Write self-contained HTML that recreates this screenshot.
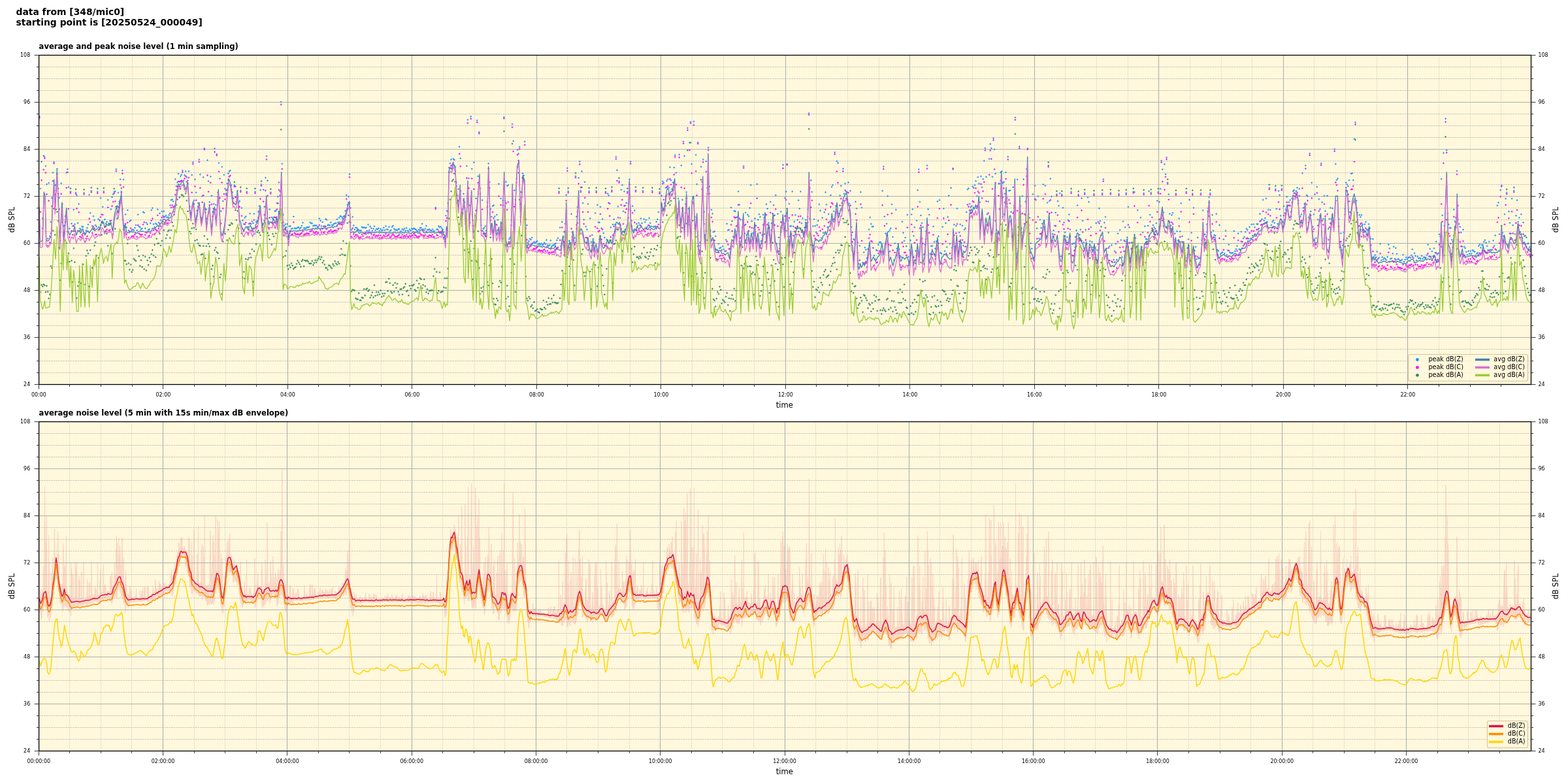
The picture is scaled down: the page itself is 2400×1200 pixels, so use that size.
<!DOCTYPE html>
<html><head><meta charset="utf-8"><title>noise level</title>
<style>
html,body{margin:0;padding:0;background:#fff;width:2400px;height:1200px;overflow:hidden}
svg{display:block}
text{font-family:'DejaVu Sans', 'Liberation Sans', sans-serif;fill:#000}
.st{font-size:13.89px;font-weight:bold}
.tt{font-size:11.57px;font-weight:bold}
.lb{font-size:11.57px}
.tk{font-size:8.8px;font-stretch:condensed}
.lg{font-size:9.64px}
</style></head><body>
<svg width="2400" height="1200" viewBox="0 0 2400 1200">
<defs><clipPath id="clip0"><rect x="59.6" y="84.5" width="2283.9" height="504.0"/></clipPath>
<clipPath id="clip1"><rect x="59.6" y="645.5" width="2283.9" height="504.0"/></clipPath></defs>
<rect width="2400" height="1200" fill="#fff"/>
<text x="24.5" y="23" class="st">data from [348/mic0]</text><text x="24.5" y="39" class="st">starting point is [20250524_000049]</text><rect x="59.6" y="84.5" width="2283.9" height="504.0" fill="#fff8dc"/><line x1="59.6" x2="2343.5" y1="570.50" y2="570.50" stroke="#b0b0b0" stroke-width="0.7" stroke-dasharray="2.57 1.11"/><line x1="59.6" x2="2343.5" y1="552.50" y2="552.50" stroke="#b0b0b0" stroke-width="0.7" stroke-dasharray="2.57 1.11"/><line x1="59.6" x2="2343.5" y1="534.50" y2="534.50" stroke="#b0b0b0" stroke-width="0.7" stroke-dasharray="2.57 1.11"/><line x1="59.6" x2="2343.5" y1="498.50" y2="498.50" stroke="#b0b0b0" stroke-width="0.7" stroke-dasharray="2.57 1.11"/><line x1="59.6" x2="2343.5" y1="480.50" y2="480.50" stroke="#b0b0b0" stroke-width="0.7" stroke-dasharray="2.57 1.11"/><line x1="59.6" x2="2343.5" y1="462.50" y2="462.50" stroke="#b0b0b0" stroke-width="0.7" stroke-dasharray="2.57 1.11"/><line x1="59.6" x2="2343.5" y1="426.50" y2="426.50" stroke="#b0b0b0" stroke-width="0.7" stroke-dasharray="2.57 1.11"/><line x1="59.6" x2="2343.5" y1="408.50" y2="408.50" stroke="#b0b0b0" stroke-width="0.7" stroke-dasharray="2.57 1.11"/><line x1="59.6" x2="2343.5" y1="390.50" y2="390.50" stroke="#b0b0b0" stroke-width="0.7" stroke-dasharray="2.57 1.11"/><line x1="59.6" x2="2343.5" y1="354.50" y2="354.50" stroke="#b0b0b0" stroke-width="0.7" stroke-dasharray="2.57 1.11"/><line x1="59.6" x2="2343.5" y1="336.50" y2="336.50" stroke="#b0b0b0" stroke-width="0.7" stroke-dasharray="2.57 1.11"/><line x1="59.6" x2="2343.5" y1="318.50" y2="318.50" stroke="#b0b0b0" stroke-width="0.7" stroke-dasharray="2.57 1.11"/><line x1="59.6" x2="2343.5" y1="282.50" y2="282.50" stroke="#b0b0b0" stroke-width="0.7" stroke-dasharray="2.57 1.11"/><line x1="59.6" x2="2343.5" y1="264.50" y2="264.50" stroke="#b0b0b0" stroke-width="0.7" stroke-dasharray="2.57 1.11"/><line x1="59.6" x2="2343.5" y1="246.50" y2="246.50" stroke="#b0b0b0" stroke-width="0.7" stroke-dasharray="2.57 1.11"/><line x1="59.6" x2="2343.5" y1="210.50" y2="210.50" stroke="#b0b0b0" stroke-width="0.7" stroke-dasharray="2.57 1.11"/><line x1="59.6" x2="2343.5" y1="192.50" y2="192.50" stroke="#b0b0b0" stroke-width="0.7" stroke-dasharray="2.57 1.11"/><line x1="59.6" x2="2343.5" y1="174.50" y2="174.50" stroke="#b0b0b0" stroke-width="0.7" stroke-dasharray="2.57 1.11"/><line x1="59.6" x2="2343.5" y1="138.50" y2="138.50" stroke="#b0b0b0" stroke-width="0.7" stroke-dasharray="2.57 1.11"/><line x1="59.6" x2="2343.5" y1="120.50" y2="120.50" stroke="#b0b0b0" stroke-width="0.7" stroke-dasharray="2.57 1.11"/><line x1="59.6" x2="2343.5" y1="102.50" y2="102.50" stroke="#b0b0b0" stroke-width="0.7" stroke-dasharray="2.57 1.11"/><line x1="106.50" x2="106.50" y1="84.5" y2="588.5" stroke="#b0b0b0" stroke-width="0.7" stroke-dasharray="0.69 1.15"/><line x1="154.50" x2="154.50" y1="84.5" y2="588.5" stroke="#b0b0b0" stroke-width="0.7" stroke-dasharray="0.69 1.15"/><line x1="202.50" x2="202.50" y1="84.5" y2="588.5" stroke="#b0b0b0" stroke-width="0.7" stroke-dasharray="0.69 1.15"/><line x1="297.50" x2="297.50" y1="84.5" y2="588.5" stroke="#b0b0b0" stroke-width="0.7" stroke-dasharray="0.69 1.15"/><line x1="345.50" x2="345.50" y1="84.5" y2="588.5" stroke="#b0b0b0" stroke-width="0.7" stroke-dasharray="0.69 1.15"/><line x1="392.50" x2="392.50" y1="84.5" y2="588.5" stroke="#b0b0b0" stroke-width="0.7" stroke-dasharray="0.69 1.15"/><line x1="487.50" x2="487.50" y1="84.5" y2="588.5" stroke="#b0b0b0" stroke-width="0.7" stroke-dasharray="0.69 1.15"/><line x1="535.50" x2="535.50" y1="84.5" y2="588.5" stroke="#b0b0b0" stroke-width="0.7" stroke-dasharray="0.69 1.15"/><line x1="583.50" x2="583.50" y1="84.5" y2="588.5" stroke="#b0b0b0" stroke-width="0.7" stroke-dasharray="0.69 1.15"/><line x1="678.50" x2="678.50" y1="84.5" y2="588.5" stroke="#b0b0b0" stroke-width="0.7" stroke-dasharray="0.69 1.15"/><line x1="726.50" x2="726.50" y1="84.5" y2="588.5" stroke="#b0b0b0" stroke-width="0.7" stroke-dasharray="0.69 1.15"/><line x1="773.50" x2="773.50" y1="84.5" y2="588.5" stroke="#b0b0b0" stroke-width="0.7" stroke-dasharray="0.69 1.15"/><line x1="868.50" x2="868.50" y1="84.5" y2="588.5" stroke="#b0b0b0" stroke-width="0.7" stroke-dasharray="0.69 1.15"/><line x1="916.50" x2="916.50" y1="84.5" y2="588.5" stroke="#b0b0b0" stroke-width="0.7" stroke-dasharray="0.69 1.15"/><line x1="964.50" x2="964.50" y1="84.5" y2="588.5" stroke="#b0b0b0" stroke-width="0.7" stroke-dasharray="0.69 1.15"/><line x1="1059.50" x2="1059.50" y1="84.5" y2="588.5" stroke="#b0b0b0" stroke-width="0.7" stroke-dasharray="0.69 1.15"/><line x1="1107.50" x2="1107.50" y1="84.5" y2="588.5" stroke="#b0b0b0" stroke-width="0.7" stroke-dasharray="0.69 1.15"/><line x1="1154.50" x2="1154.50" y1="84.5" y2="588.5" stroke="#b0b0b0" stroke-width="0.7" stroke-dasharray="0.69 1.15"/><line x1="1249.50" x2="1249.50" y1="84.5" y2="588.5" stroke="#b0b0b0" stroke-width="0.7" stroke-dasharray="0.69 1.15"/><line x1="1297.50" x2="1297.50" y1="84.5" y2="588.5" stroke="#b0b0b0" stroke-width="0.7" stroke-dasharray="0.69 1.15"/><line x1="1345.50" x2="1345.50" y1="84.5" y2="588.5" stroke="#b0b0b0" stroke-width="0.7" stroke-dasharray="0.69 1.15"/><line x1="1440.50" x2="1440.50" y1="84.5" y2="588.5" stroke="#b0b0b0" stroke-width="0.7" stroke-dasharray="0.69 1.15"/><line x1="1488.50" x2="1488.50" y1="84.5" y2="588.5" stroke="#b0b0b0" stroke-width="0.7" stroke-dasharray="0.69 1.15"/><line x1="1535.50" x2="1535.50" y1="84.5" y2="588.5" stroke="#b0b0b0" stroke-width="0.7" stroke-dasharray="0.69 1.15"/><line x1="1630.50" x2="1630.50" y1="84.5" y2="588.5" stroke="#b0b0b0" stroke-width="0.7" stroke-dasharray="0.69 1.15"/><line x1="1678.50" x2="1678.50" y1="84.5" y2="588.5" stroke="#b0b0b0" stroke-width="0.7" stroke-dasharray="0.69 1.15"/><line x1="1726.50" x2="1726.50" y1="84.5" y2="588.5" stroke="#b0b0b0" stroke-width="0.7" stroke-dasharray="0.69 1.15"/><line x1="1821.50" x2="1821.50" y1="84.5" y2="588.5" stroke="#b0b0b0" stroke-width="0.7" stroke-dasharray="0.69 1.15"/><line x1="1869.50" x2="1869.50" y1="84.5" y2="588.5" stroke="#b0b0b0" stroke-width="0.7" stroke-dasharray="0.69 1.15"/><line x1="1916.50" x2="1916.50" y1="84.5" y2="588.5" stroke="#b0b0b0" stroke-width="0.7" stroke-dasharray="0.69 1.15"/><line x1="2011.50" x2="2011.50" y1="84.5" y2="588.5" stroke="#b0b0b0" stroke-width="0.7" stroke-dasharray="0.69 1.15"/><line x1="2059.50" x2="2059.50" y1="84.5" y2="588.5" stroke="#b0b0b0" stroke-width="0.7" stroke-dasharray="0.69 1.15"/><line x1="2107.50" x2="2107.50" y1="84.5" y2="588.5" stroke="#b0b0b0" stroke-width="0.7" stroke-dasharray="0.69 1.15"/><line x1="2202.50" x2="2202.50" y1="84.5" y2="588.5" stroke="#b0b0b0" stroke-width="0.7" stroke-dasharray="0.69 1.15"/><line x1="2250.50" x2="2250.50" y1="84.5" y2="588.5" stroke="#b0b0b0" stroke-width="0.7" stroke-dasharray="0.69 1.15"/><line x1="2297.50" x2="2297.50" y1="84.5" y2="588.5" stroke="#b0b0b0" stroke-width="0.7" stroke-dasharray="0.69 1.15"/><line x1="59.6" x2="2343.5" y1="516.50" y2="516.50" stroke="#b0b0b0" stroke-width="1.1"/><line x1="59.6" x2="2343.5" y1="444.50" y2="444.50" stroke="#b0b0b0" stroke-width="1.1"/><line x1="59.6" x2="2343.5" y1="372.50" y2="372.50" stroke="#b0b0b0" stroke-width="1.1"/><line x1="59.6" x2="2343.5" y1="300.50" y2="300.50" stroke="#b0b0b0" stroke-width="1.1"/><line x1="59.6" x2="2343.5" y1="228.50" y2="228.50" stroke="#b0b0b0" stroke-width="1.1"/><line x1="59.6" x2="2343.5" y1="156.50" y2="156.50" stroke="#b0b0b0" stroke-width="1.1"/><line x1="249.50" x2="249.50" y1="84.5" y2="588.5" stroke="#b0b0b0" stroke-width="1.1"/><line x1="440.50" x2="440.50" y1="84.5" y2="588.5" stroke="#b0b0b0" stroke-width="1.1"/><line x1="630.50" x2="630.50" y1="84.5" y2="588.5" stroke="#b0b0b0" stroke-width="1.1"/><line x1="821.50" x2="821.50" y1="84.5" y2="588.5" stroke="#b0b0b0" stroke-width="1.1"/><line x1="1011.50" x2="1011.50" y1="84.5" y2="588.5" stroke="#b0b0b0" stroke-width="1.1"/><line x1="1202.50" x2="1202.50" y1="84.5" y2="588.5" stroke="#b0b0b0" stroke-width="1.1"/><line x1="1392.50" x2="1392.50" y1="84.5" y2="588.5" stroke="#b0b0b0" stroke-width="1.1"/><line x1="1583.50" x2="1583.50" y1="84.5" y2="588.5" stroke="#b0b0b0" stroke-width="1.1"/><line x1="1773.50" x2="1773.50" y1="84.5" y2="588.5" stroke="#b0b0b0" stroke-width="1.1"/><line x1="1964.50" x2="1964.50" y1="84.5" y2="588.5" stroke="#b0b0b0" stroke-width="1.1"/><line x1="2154.50" x2="2154.50" y1="84.5" y2="588.5" stroke="#b0b0b0" stroke-width="1.1"/><g clip-path="url(#clip0)"><marker id="mz" viewBox="-2 -2 4 4" markerWidth="4" markerHeight="4" markerUnits="userSpaceOnUse" overflow="visible"><path d="M-1.4,0H1.4M0,-1.4V1.4" stroke="#1e90ff" stroke-width="1"/></marker><polyline points="60.4,178.3 62.0,288.7 63.6,247.4 65.2,334.3 66.7,238.4 68.3,240.0 69.9,254.2 71.5,282.0 73.1,365.2 74.7,280.1 76.3,361.6 77.9,339.7 79.4,303.0 81.0,264.2 82.6,248.3 84.2,283.3 85.8,283.3 87.4,258.5 89.0,288.5 90.6,302.8 92.1,356.4 93.7,280.6 95.3,312.3 96.9,345.9 98.5,345.3 100.1,330.9 101.7,264.3 103.3,259.0 104.8,286.4 106.4,349.8 108.0,293.4 109.6,342.2 111.2,346.0 112.8,320.8 114.4,343.2 116.0,294.8 117.5,298.9 119.1,341.5 120.7,312.2 122.3,349.6 123.9,351.3 125.5,346.8 127.1,347.2 128.6,295.3 130.2,357.0 131.8,352.8 133.4,348.9 135.0,343.7 136.6,298.1 138.2,326.0 139.8,292.2 141.3,345.9 142.9,331.0 144.5,337.1 146.1,344.7 147.7,346.8 149.3,293.7 150.9,335.3 152.5,337.6 154.0,303.1 155.6,328.3 157.2,316.7 158.8,292.9 160.4,335.9 162.0,342.1 163.6,339.6 165.2,306.0 166.7,342.0 168.3,338.2 169.9,320.4 171.5,301.8 173.1,297.4 174.7,293.8 176.3,292.9 177.8,259.0 179.4,315.4 181.0,295.0 182.6,308.6 184.2,274.5 185.8,293.0 187.4,261.0 189.0,274.9 190.5,345.5 192.1,328.2 193.7,348.0 195.3,321.6 196.9,352.7 198.5,338.8 200.1,337.3 201.7,352.2 203.2,351.4 204.8,352.4 206.4,348.8 208.0,344.6 209.6,352.7 211.2,328.4 212.8,346.7 214.4,347.8 215.9,350.9 217.5,349.7 219.1,324.3 220.7,325.7 222.3,349.6 223.9,340.9 225.5,343.3 227.1,351.7 228.6,351.0 230.2,341.7 231.8,321.7 233.4,318.5 235.0,343.0 236.6,347.8 238.2,341.9 239.7,343.3 241.3,320.6 242.9,340.5 244.5,326.6 246.1,337.1 247.7,323.9 249.3,330.4 250.9,323.3 252.4,331.7 254.0,329.9 255.6,332.9 257.2,332.3 258.8,329.1 260.4,314.1 262.0,306.1 263.6,305.5 265.1,308.2 266.7,315.5 268.3,274.2 269.9,285.1 271.5,279.1 273.1,265.9 274.7,278.1 276.3,269.8 277.8,267.5 279.4,261.0 281.0,276.2 282.6,268.1 284.2,262.2 285.8,271.3 287.4,276.3 288.9,262.2 290.5,316.3 292.1,325.6 293.7,267.8 295.3,248.3 296.9,306.8 298.5,274.7 300.1,294.7 301.6,322.5 303.2,310.9 304.8,244.3 306.4,267.0 308.0,333.6 309.6,300.1 311.2,271.3 312.8,227.3 314.3,319.8 315.9,320.6 317.5,245.2 319.1,277.3 320.7,309.2 322.3,270.2 323.9,299.6 325.5,324.2 327.0,312.0 328.6,227.3 330.2,313.7 331.8,236.0 333.4,294.7 335.0,249.5 336.6,273.5 338.2,323.2 339.7,255.3 341.3,307.8 342.9,267.7 344.5,288.9 346.1,296.2 347.7,280.8 349.3,265.6 350.8,262.4 352.4,260.9 354.0,283.6 355.6,294.2 357.2,303.6 358.8,283.7 360.4,285.2 362.0,301.5 363.5,292.1 365.1,310.2 366.7,307.9 368.3,291.7 369.9,318.4 371.5,337.3 373.1,342.9 374.7,333.3 376.2,331.3 377.8,293.5 379.4,347.4 381.0,342.6 382.6,327.0 384.2,342.7 385.8,338.9 387.4,341.6 388.9,327.2 390.5,293.6 392.1,339.8 393.7,338.1 395.3,324.2 396.9,315.6 398.5,291.0 400.0,282.3 401.6,342.6 403.2,290.4 404.8,316.2 406.4,272.0 408.0,239.0 409.6,276.5 411.2,339.3 412.7,320.5 414.3,294.4 415.9,332.7 417.5,334.7 419.1,332.5 420.7,323.3 422.3,322.4 423.9,310.8 425.4,301.1 427.0,279.3 428.6,293.0 430.2,156.0 431.8,250.8 433.4,328.7 435.0,345.6 436.6,343.2 438.1,347.8 439.7,342.9 441.3,360.8 442.9,346.4 444.5,346.2 446.1,350.3 447.7,349.7 449.3,331.5 450.8,349.3 452.4,349.8 454.0,349.4 455.6,348.2 457.2,348.0 458.8,350.0 460.4,348.5 461.9,345.6 463.5,340.8 465.1,349.1 466.7,349.3 468.3,349.5 469.9,347.5 471.5,348.5 473.1,347.0 474.6,340.3 476.2,341.8 477.8,341.9 479.4,345.8 481.0,345.1 482.6,345.2 484.2,345.0 485.8,347.6 487.3,346.9 488.9,334.5 490.5,337.8 492.1,346.3 493.7,339.9 495.3,346.4 496.9,346.0 498.5,335.3 500.0,336.4 501.6,344.8 503.2,344.1 504.8,345.0 506.4,340.4 508.0,344.8 509.6,344.5 511.1,342.6 512.7,341.9 514.3,341.5 515.9,335.5 517.5,340.3 519.1,333.3 520.7,330.8 522.3,331.3 523.8,333.9 525.4,331.9 527.0,330.6 528.6,322.6 530.2,298.6 531.8,313.2 533.4,301.0 535.0,266.7 536.5,318.4 538.1,351.7 539.7,331.9 541.3,345.1 542.9,351.3 544.5,348.3 546.1,348.8 547.7,350.9 549.2,352.2 550.8,353.2 552.4,352.7 554.0,347.5 555.6,348.5 557.2,348.0 558.8,348.8 560.4,348.4 561.9,353.3 563.5,343.9 565.1,352.5 566.7,346.6 568.3,349.3 569.9,353.2 571.5,350.0 573.0,346.3 574.6,352.7 576.2,350.2 577.8,351.3 579.4,349.4 581.0,353.6 582.6,350.6 584.2,353.2 585.7,352.0 587.3,348.5 588.9,352.2 590.5,346.1 592.1,351.2 593.7,351.3 595.3,347.2 596.9,353.8 598.4,352.3 600.0,347.4 601.6,345.6 603.2,350.1 604.8,351.9 606.4,351.8 608.0,352.7 609.6,350.7 611.1,350.5 612.7,354.3 614.3,354.1 615.9,350.7 617.5,352.2 619.1,349.8 620.7,353.2 622.2,349.0 623.8,353.1 625.4,354.0 627.0,351.0 628.6,353.1 630.2,350.1 631.8,350.8 633.4,349.4 634.9,350.4 636.5,351.4 638.1,353.2 639.7,354.2 641.3,351.5 642.9,348.9 644.5,348.7 646.1,342.6 647.6,350.9 649.2,352.7 650.8,350.1 652.4,345.7 654.0,351.9 655.6,351.9 657.2,351.0 658.8,352.5 660.3,353.3 661.9,351.0 663.5,353.8 665.1,354.2 666.7,317.7 668.3,351.1 669.9,351.4 671.5,346.1 673.0,347.8 674.6,346.9 676.2,349.4 677.8,351.5 679.4,355.2 681.0,361.0 682.6,330.2 684.1,322.8 685.7,311.1 687.3,256.8 688.9,250.0 690.5,244.0 692.1,252.3 693.7,243.2 695.3,244.5 696.8,255.7 698.4,279.1 700.0,298.9 701.6,289.3 703.2,224.6 704.8,242.4 706.4,327.2 708.0,320.1 709.5,296.7 711.1,309.8 712.7,335.1 714.3,254.0 715.9,183.3 717.5,272.9 719.1,314.5 720.7,178.3 722.2,258.5 723.8,337.2 725.4,248.6 727.0,330.1 728.6,303.8 730.2,184.3 731.8,269.9 733.3,202.3 734.9,288.3 736.5,344.7 738.1,306.3 739.7,350.1 741.3,348.7 742.9,346.0 744.5,352.5 746.0,309.5 747.6,250.2 749.2,278.8 750.8,319.9 752.4,331.8 754.0,315.3 755.6,314.3 757.2,331.2 758.7,343.3 760.3,328.7 761.9,336.6 763.5,281.5 765.1,357.5 766.7,303.8 768.3,341.5 769.9,306.9 771.4,179.3 773.0,307.4 774.6,278.3 776.2,284.5 777.8,283.3 779.4,365.8 781.0,363.3 782.6,336.9 784.1,190.0 785.7,215.9 787.3,291.4 788.9,306.0 790.5,273.8 792.1,229.4 793.7,235.2 795.2,225.0 796.8,293.8 798.4,294.5 800.0,265.4 801.6,268.5 803.2,216.7 804.8,335.7 806.4,344.8 807.9,371.2 809.5,369.1 811.1,365.6 812.7,366.8 814.3,363.6 815.9,371.9 817.5,370.2 819.1,372.2 820.6,370.4 822.2,369.1 823.8,374.0 825.4,372.8 827.0,374.6 828.6,372.6 830.2,374.9 831.8,373.9 833.3,371.6 834.9,373.8 836.5,367.3 838.1,375.2 839.7,376.5 841.3,374.9 842.9,368.1 844.4,377.2 846.0,375.7 847.6,375.0 849.2,373.6 850.8,372.5 852.4,367.7 854.0,364.5 855.6,293.3 857.1,348.3 858.7,376.5 860.3,339.6 861.9,361.7 863.5,354.9 865.1,342.5 866.7,298.6 868.3,257.3 869.8,293.0 871.4,368.6 873.0,371.8 874.6,327.6 876.2,355.6 877.8,359.9 879.4,364.0 881.0,269.8 882.5,331.5 884.1,316.8 885.7,272.3 887.3,247.3 888.9,291.9 890.5,262.2 892.1,310.8 893.7,336.1 895.2,278.6 896.8,346.9 898.4,351.3 900.0,312.1 901.6,292.9 903.2,334.2 904.8,370.3 906.3,359.7 907.9,365.8 909.5,371.2 911.1,326.2 912.7,292.5 914.3,313.7 915.9,340.3 917.5,340.5 919.0,316.6 920.6,349.4 922.2,335.3 923.8,356.9 925.4,363.6 927.0,293.5 928.6,366.9 930.2,296.4 931.7,299.0 933.3,311.7 934.9,347.9 936.5,291.4 938.1,343.6 939.7,335.6 941.3,343.6 942.9,240.0 944.4,260.5 946.0,316.1 947.6,277.6 949.2,333.6 950.8,290.5 952.4,283.2 954.0,323.3 955.5,292.9 957.1,314.7 958.7,310.5 960.3,293.4 961.9,311.3 963.5,274.5 965.1,247.3 966.7,337.8 968.2,315.4 969.8,352.6 971.4,322.2 973.0,291.3 974.6,342.7 976.2,345.6 977.8,341.2 979.4,344.2 980.9,334.4 982.5,341.7 984.1,292.3 985.7,335.3 987.3,340.0 988.9,336.6 990.5,347.4 992.1,344.7 993.6,333.9 995.2,341.4 996.8,346.4 998.4,292.4 1000.0,347.3 1001.6,347.0 1003.2,346.5 1004.8,339.5 1006.3,335.8 1007.9,324.7 1009.5,294.2 1011.1,336.6 1012.7,299.7 1014.3,277.7 1015.9,279.8 1017.4,311.0 1019.0,287.5 1020.6,276.8 1022.2,274.4 1023.8,287.4 1025.4,255.9 1027.0,276.0 1028.6,289.5 1030.1,279.5 1031.7,256.5 1033.3,237.7 1034.9,264.5 1036.5,329.1 1038.1,304.0 1039.7,236.7 1041.3,334.9 1042.8,253.3 1044.4,305.9 1046.0,216.7 1047.6,238.8 1049.2,312.6 1050.8,294.1 1052.4,196.0 1054.0,319.3 1055.5,218.5 1057.1,186.7 1058.7,251.0 1060.3,301.7 1061.9,186.0 1063.5,332.1 1065.1,237.0 1066.6,282.0 1068.2,218.3 1069.8,376.0 1071.4,371.1 1073.0,255.2 1074.6,278.4 1076.2,244.0 1077.8,324.1 1079.3,360.1 1080.9,247.0 1082.5,287.5 1084.1,226.0 1085.7,285.4 1087.3,352.8 1088.9,321.1 1090.5,327.0 1092.0,355.0 1093.6,354.1 1095.2,361.6 1096.8,382.6 1098.4,383.2 1100.0,373.1 1101.6,380.0 1103.2,378.9 1104.7,382.8 1106.3,377.0 1107.9,381.7 1109.5,384.5 1111.1,367.1 1112.7,342.5 1114.3,352.2 1115.9,351.7 1117.4,380.7 1119.0,317.7 1120.6,338.6 1122.2,362.4 1123.8,322.8 1125.4,323.5 1127.0,332.7 1128.5,332.3 1130.1,293.0 1131.7,313.3 1133.3,336.2 1134.9,362.2 1136.5,336.6 1138.1,254.3 1139.7,345.1 1141.2,325.5 1142.8,359.6 1144.4,328.8 1146.0,331.1 1147.6,318.3 1149.2,283.3 1150.8,338.6 1152.4,357.0 1153.9,349.2 1155.5,334.4 1157.1,345.6 1158.7,281.8 1160.3,336.3 1161.9,327.9 1163.5,332.0 1165.1,369.0 1166.6,359.7 1168.2,328.7 1169.8,333.5 1171.4,327.6 1173.0,312.7 1174.6,319.5 1176.2,341.3 1177.7,348.7 1179.3,309.0 1180.9,341.6 1182.5,327.0 1184.1,314.1 1185.7,329.5 1187.3,298.8 1188.9,373.2 1190.4,327.4 1192.0,363.5 1193.6,373.6 1195.2,324.0 1196.8,340.3 1198.4,252.3 1200.0,341.9 1201.6,303.1 1203.1,293.2 1204.7,251.0 1206.3,338.0 1207.9,311.9 1209.5,346.2 1211.1,346.0 1212.7,293.1 1214.3,346.6 1215.8,339.2 1217.4,329.1 1219.0,349.4 1220.6,336.5 1222.2,306.6 1223.8,319.4 1225.4,293.2 1227.0,341.7 1228.5,334.2 1230.1,355.8 1231.7,348.2 1233.3,336.6 1234.9,342.0 1236.5,320.4 1238.1,173.3 1239.6,287.8 1241.2,276.0 1242.8,293.8 1244.4,346.1 1246.0,335.6 1247.6,345.9 1249.2,355.6 1250.8,344.5 1252.3,337.9 1253.9,312.8 1255.5,322.3 1257.1,364.3 1258.7,333.4 1260.3,356.4 1261.9,324.9 1263.5,294.2 1265.0,313.2 1266.6,347.7 1268.2,327.8 1269.8,339.1 1271.4,298.6 1273.0,286.1 1274.6,283.3 1276.2,323.4 1277.7,233.3 1279.3,315.2 1280.9,246.7 1282.5,249.4 1284.1,326.9 1285.7,299.2 1287.3,284.5 1288.8,310.6 1290.4,258.3 1292.0,296.6 1293.6,281.0 1295.2,293.3 1296.8,294.1 1298.4,279.2 1300.0,311.7 1301.5,292.1 1303.1,347.5 1304.7,355.7 1306.3,366.0 1307.9,367.1 1309.5,308.8 1311.1,319.1 1312.7,371.1 1314.2,403.9 1315.8,376.2 1317.4,294.0 1319.0,317.8 1320.6,402.1 1322.2,386.3 1323.8,378.9 1325.4,382.2 1326.9,395.0 1328.5,381.2 1330.1,351.1 1331.7,332.8 1333.3,342.8 1334.9,347.0 1336.5,346.7 1338.1,391.3 1339.6,396.8 1341.2,382.7 1342.8,383.4 1344.4,374.7 1346.0,370.8 1347.6,370.6 1349.2,372.6 1350.7,292.1 1352.3,255.0 1353.9,331.4 1355.5,357.3 1357.1,342.4 1358.7,300.2 1360.3,354.5 1361.9,352.1 1363.4,349.4 1365.0,312.8 1366.6,362.7 1368.2,398.3 1369.8,372.5 1371.4,321.0 1373.0,380.4 1374.6,373.4 1376.1,381.4 1377.7,391.8 1379.3,393.5 1380.9,339.4 1382.5,356.3 1384.1,368.8 1385.7,363.7 1387.3,376.9 1388.8,328.8 1390.4,393.1 1392.0,383.0 1393.6,367.9 1395.2,328.2 1396.8,320.3 1398.4,361.1 1399.9,347.8 1401.5,384.1 1403.1,337.7 1404.7,291.0 1406.3,259.3 1407.9,309.0 1409.5,329.7 1411.1,341.6 1412.6,347.8 1414.2,389.7 1415.8,374.3 1417.4,354.0 1419.0,253.3 1420.6,320.3 1422.2,328.7 1423.8,388.2 1425.3,376.7 1426.9,376.5 1428.5,346.7 1430.1,370.1 1431.7,380.3 1433.3,369.4 1434.9,308.3 1436.5,361.7 1438.0,306.2 1439.6,387.0 1441.2,388.2 1442.8,347.3 1444.4,319.2 1446.0,384.4 1447.6,341.5 1449.2,378.1 1450.7,332.1 1452.3,299.4 1453.9,373.1 1455.5,287.5 1457.1,379.4 1458.7,257.7 1460.3,343.8 1461.8,377.5 1463.4,345.7 1465.0,319.2 1466.6,389.0 1468.2,355.9 1469.8,343.4 1471.4,371.7 1473.0,345.5 1474.5,376.2 1476.1,351.4 1477.7,349.4 1479.3,324.7 1480.9,290.0 1482.5,288.3 1484.1,311.9 1485.7,317.1 1487.2,315.3 1488.8,285.6 1490.4,287.6 1492.0,283.3 1493.6,277.1 1495.2,300.0 1496.8,271.1 1498.4,281.0 1499.9,309.6 1501.5,269.9 1503.1,286.8 1504.7,274.2 1506.3,246.2 1507.9,226.7 1509.5,270.8 1511.0,328.0 1512.6,308.7 1514.2,243.2 1515.8,220.4 1517.4,227.0 1519.0,270.6 1520.6,211.7 1522.2,228.6 1523.7,265.7 1525.3,352.4 1526.9,357.3 1528.5,281.1 1530.1,281.0 1531.7,263.8 1533.3,262.3 1534.9,280.3 1536.4,278.6 1538.0,296.5 1539.6,263.8 1541.2,302.9 1542.8,240.0 1544.4,291.9 1546.0,291.5 1547.6,324.4 1549.1,351.1 1550.7,286.5 1552.3,314.9 1553.9,180.0 1555.5,380.4 1557.1,274.8 1558.7,347.6 1560.3,224.3 1561.8,315.4 1563.4,349.4 1565.0,300.1 1566.6,274.4 1568.2,327.7 1569.8,308.7 1571.4,258.7 1572.9,227.3 1574.5,327.7 1576.1,333.3 1577.7,372.4 1579.3,380.6 1580.9,297.3 1582.5,394.6 1584.1,284.2 1585.6,306.0 1587.2,349.6 1588.8,300.3 1590.4,365.0 1592.0,336.3 1593.6,348.9 1595.2,342.4 1596.8,282.3 1598.3,338.1 1599.9,284.3 1601.5,361.3 1603.1,310.2 1604.7,253.3 1606.3,307.7 1607.9,273.6 1609.5,300.8 1611.0,358.0 1612.6,352.6 1614.2,345.3 1615.8,325.5 1617.4,297.5 1619.0,307.9 1620.6,315.0 1622.1,295.8 1623.7,392.3 1625.3,297.6 1626.9,318.0 1628.5,340.5 1630.1,355.7 1631.7,368.2 1633.3,363.0 1634.8,337.0 1636.4,328.3 1638.0,351.2 1639.6,293.8 1641.2,373.7 1642.8,372.4 1644.4,372.5 1646.0,362.8 1647.5,352.7 1649.1,314.3 1650.7,297.9 1652.3,359.3 1653.9,351.5 1655.5,303.4 1657.1,338.0 1658.7,370.9 1660.2,295.3 1661.8,351.8 1663.4,373.0 1665.0,302.2 1666.6,309.1 1668.2,369.1 1669.8,347.9 1671.4,370.1 1672.9,378.5 1674.5,296.9 1676.1,378.5 1677.7,341.3 1679.3,382.9 1680.9,339.5 1682.5,318.9 1684.0,338.2 1685.6,347.1 1687.2,296.0 1688.8,274.3 1690.4,340.8 1692.0,332.0 1693.6,380.6 1695.2,390.2 1696.7,356.0 1698.3,377.1 1699.9,295.3 1701.5,375.1 1703.1,401.5 1704.7,397.8 1706.3,384.4 1707.9,373.2 1709.4,397.6 1711.0,357.5 1712.6,296.8 1714.2,352.0 1715.8,367.4 1717.4,393.8 1719.0,338.9 1720.6,368.0 1722.1,347.8 1723.7,295.6 1725.3,363.4 1726.9,316.6 1728.5,348.0 1730.1,394.5 1731.7,371.3 1733.2,371.3 1734.8,293.5 1736.4,294.0 1738.0,364.3 1739.6,377.8 1741.2,321.7 1742.8,382.6 1744.4,394.4 1745.9,333.0 1747.5,378.3 1749.1,355.9 1750.7,295.8 1752.3,346.3 1753.9,365.6 1755.5,366.3 1757.1,345.6 1758.6,292.7 1760.2,328.7 1761.8,295.0 1763.4,332.7 1765.0,344.6 1766.6,347.9 1768.2,350.2 1769.8,341.7 1771.3,307.4 1772.9,293.8 1774.5,309.1 1776.1,289.0 1777.7,246.0 1779.3,259.3 1780.9,325.1 1782.5,251.2 1784.0,266.7 1785.6,241.0 1787.2,279.5 1788.8,297.4 1790.4,327.3 1792.0,345.4 1793.6,329.1 1795.1,325.8 1796.7,366.7 1798.3,357.6 1799.9,296.4 1801.5,354.0 1803.1,368.0 1804.7,334.3 1806.3,354.2 1807.8,311.1 1809.4,361.7 1811.0,370.9 1812.6,377.0 1814.2,394.5 1815.8,293.7 1817.4,379.6 1819.0,366.2 1820.5,305.8 1822.1,390.2 1823.7,356.3 1825.3,296.4 1826.9,318.1 1828.5,383.7 1830.1,377.9 1831.7,396.7 1833.2,363.7 1834.8,395.6 1836.4,394.8 1838.0,296.0 1839.6,367.5 1841.2,322.0 1842.8,359.3 1844.3,358.8 1845.9,362.2 1847.5,343.3 1849.1,318.8 1850.7,302.0 1852.3,296.0 1853.9,355.7 1855.5,329.1 1857.0,353.0 1858.6,359.8 1860.2,360.9 1861.8,327.3 1863.4,382.5 1865.0,384.1 1866.6,344.6 1868.2,388.8 1869.7,387.3 1871.3,386.1 1872.9,366.4 1874.5,388.0 1876.1,353.1 1877.7,390.3 1879.3,383.2 1880.9,374.5 1882.4,386.3 1884.0,387.3 1885.6,387.3 1887.2,387.1 1888.8,353.6 1890.4,384.6 1892.0,381.3 1893.6,376.3 1895.1,357.4 1896.7,381.3 1898.3,382.4 1899.9,354.7 1901.5,370.1 1903.1,365.0 1904.7,362.7 1906.2,355.0 1907.8,350.1 1909.4,352.1 1911.0,365.5 1912.6,347.4 1914.2,365.0 1915.8,343.4 1917.4,360.6 1918.9,343.2 1920.5,347.9 1922.1,358.9 1923.7,342.9 1925.3,343.0 1926.9,349.7 1928.5,327.3 1930.1,337.8 1931.6,335.6 1933.2,305.9 1934.8,337.5 1936.4,333.8 1938.0,303.8 1939.6,339.6 1941.2,321.0 1942.8,287.7 1944.3,321.3 1945.9,344.6 1947.5,339.4 1949.1,337.4 1950.7,341.2 1952.3,289.7 1953.9,319.7 1955.4,342.7 1957.0,292.3 1958.6,298.6 1960.2,330.2 1961.8,289.1 1963.4,339.5 1965.0,315.6 1966.6,326.2 1968.1,321.1 1969.7,301.2 1971.3,314.9 1972.9,309.4 1974.5,306.3 1976.1,324.3 1977.7,303.8 1979.3,292.6 1980.8,291.0 1982.4,295.7 1984.0,292.5 1985.6,287.3 1987.2,306.6 1988.8,289.0 1990.4,331.2 1992.0,328.2 1993.5,265.0 1995.1,318.2 1996.7,312.3 1998.3,253.3 1999.9,298.8 2001.5,300.3 2003.1,332.7 2004.7,235.0 2006.2,323.6 2007.8,279.8 2009.4,347.2 2011.0,328.1 2012.6,297.6 2014.2,364.3 2015.8,286.0 2017.3,336.0 2018.9,304.9 2020.5,320.1 2022.1,250.0 2023.7,309.5 2025.3,334.9 2026.9,299.9 2028.5,323.3 2030.0,364.6 2031.6,299.7 2033.2,350.2 2034.8,335.0 2036.4,318.2 2038.0,334.9 2039.6,318.8 2041.2,338.4 2042.7,228.3 2044.3,251.1 2045.9,275.5 2047.5,273.2 2049.1,335.2 2050.7,369.9 2052.3,357.0 2053.9,382.8 2055.4,375.5 2057.0,356.0 2058.6,319.3 2060.2,279.5 2061.8,282.3 2063.4,285.0 2065.0,275.8 2066.5,324.7 2068.1,265.8 2069.7,265.2 2071.3,275.8 2072.9,212.6 2074.5,187.3 2076.1,307.3 2077.7,325.6 2079.2,346.1 2080.8,329.0 2082.4,332.1 2084.0,329.1 2085.6,343.6 2087.2,351.6 2088.8,343.3 2090.4,339.7 2091.9,351.4 2093.5,352.3 2095.1,343.1 2096.7,349.5 2098.3,365.4 2099.9,394.4 2101.5,365.8 2103.1,393.3 2104.6,390.5 2106.2,393.6 2107.8,385.1 2109.4,396.0 2111.0,394.3 2112.6,373.2 2114.2,398.4 2115.8,393.4 2117.3,396.9 2118.9,394.8 2120.5,396.3 2122.1,398.2 2123.7,393.0 2125.3,374.5 2126.9,380.2 2128.4,396.1 2130.0,395.7 2131.6,388.1 2133.2,377.6 2134.8,396.1 2136.4,379.6 2138.0,388.4 2139.6,396.5 2141.1,396.9 2142.7,399.0 2144.3,399.1 2145.9,397.4 2147.5,390.1 2149.1,400.6 2150.7,397.3 2152.3,393.8 2153.8,396.6 2155.4,394.5 2157.0,393.5 2158.6,394.4 2160.2,390.8 2161.8,381.6 2163.4,395.1 2165.0,387.4 2166.5,391.8 2168.1,398.5 2169.7,392.8 2171.3,395.3 2172.9,394.9 2174.5,396.2 2176.1,391.7 2177.6,396.3 2179.2,393.8 2180.8,393.9 2182.4,394.4 2184.0,390.4 2185.6,374.4 2187.2,392.5 2188.8,380.9 2190.3,393.5 2191.9,384.8 2193.5,392.3 2195.1,380.1 2196.7,386.7 2198.3,369.9 2199.9,389.1 2201.5,387.5 2203.0,358.7 2204.6,361.9 2206.2,274.0 2207.8,329.5 2209.4,234.1 2211.0,345.6 2212.6,181.7 2214.2,230.0 2215.7,326.8 2217.3,343.5 2218.9,349.0 2220.5,348.9 2222.1,367.0 2223.7,369.9 2225.3,320.7 2226.9,338.9 2228.4,332.9 2230.0,261.7 2231.6,314.8 2233.2,342.8 2234.8,347.3 2236.4,355.9 2238.0,377.5 2239.5,351.4 2241.1,377.6 2242.7,379.8 2244.3,385.6 2245.9,390.1 2247.5,384.3 2249.1,388.3 2250.7,384.2 2252.2,388.3 2253.8,382.9 2255.4,384.1 2257.0,385.4 2258.6,391.3 2260.2,388.2 2261.8,387.0 2263.4,376.4 2264.9,374.1 2266.5,379.1 2268.1,375.1 2269.7,375.0 2271.3,370.1 2272.9,367.5 2274.5,371.6 2276.1,376.7 2277.6,382.8 2279.2,369.9 2280.8,382.4 2282.4,383.2 2284.0,382.0 2285.6,368.2 2287.2,376.2 2288.7,360.3 2290.3,382.7 2291.9,314.6 2293.5,310.1 2295.1,358.4 2296.7,290.9 2298.3,284.0 2299.9,356.1 2301.4,361.4 2303.0,327.9 2304.6,304.0 2306.2,294.9 2307.8,374.9 2309.4,323.7 2311.0,341.1 2312.6,357.7 2314.1,304.0 2315.7,344.7 2317.3,292.0 2318.9,358.2 2320.5,330.1 2322.1,306.4 2323.7,339.7 2325.3,333.2 2326.8,355.1 2328.4,328.0 2330.0,364.2 2331.6,340.6 2333.2,361.4 2334.8,360.9 2336.4,363.5 2338.0,373.0 2339.5,372.5 2341.1,378.3 2342.7,381.5" fill="none" stroke="none" marker-start="url(#mz)" marker-mid="url(#mz)" marker-end="url(#mz)"/><marker id="mc" viewBox="-2 -2 4 4" markerWidth="4" markerHeight="4" markerUnits="userSpaceOnUse" overflow="visible"><path d="M-1.4,0H1.4M0,-1.4V1.4" stroke="#ff00ff" stroke-width="1"/></marker><polyline points="60.4,180.2 62.0,324.4 63.6,275.9 65.2,349.5 66.7,259.7 68.3,242.4 69.9,264.3 71.5,297.3 73.1,376.0 74.7,307.3 76.3,371.3 77.9,357.1 79.4,315.6 81.0,277.0 82.6,250.0 84.2,297.6 85.8,291.7 87.4,266.6 89.0,296.5 90.6,320.1 92.1,368.5 93.7,296.8 95.3,322.2 96.9,356.8 98.5,357.4 100.1,340.0 101.7,287.6 103.3,263.6 104.8,319.6 106.4,363.0 108.0,295.4 109.6,353.5 111.2,359.3 112.8,345.7 114.4,354.0 116.0,296.8 117.5,319.1 119.1,353.2 120.7,324.8 122.3,362.2 123.9,363.1 125.5,359.5 127.1,357.2 128.6,297.3 130.2,369.5 131.8,365.1 133.4,361.5 135.0,354.3 136.6,334.8 138.2,339.8 139.8,294.2 141.3,356.6 142.9,346.8 144.5,349.6 146.1,359.0 147.7,359.0 149.3,295.7 150.9,352.1 152.5,350.7 154.0,332.1 155.6,339.9 157.2,328.7 158.8,294.9 160.4,347.6 162.0,353.6 163.6,351.2 165.2,317.5 166.7,353.2 168.3,351.8 169.9,337.8 171.5,315.4 173.1,308.9 174.7,295.8 176.3,308.2 177.8,262.0 179.4,323.8 181.0,317.0 182.6,317.9 184.2,283.1 185.8,295.0 187.4,265.6 189.0,286.2 190.5,357.2 192.1,342.5 193.7,358.7 195.3,340.7 196.9,363.7 198.5,354.5 200.1,349.4 201.7,361.9 203.2,361.5 204.8,361.6 206.4,358.9 208.0,356.7 209.6,362.5 211.2,344.6 212.8,357.5 214.4,358.7 215.9,360.0 217.5,359.0 219.1,343.7 220.7,340.2 222.3,359.5 223.9,356.1 225.5,355.1 227.1,361.5 228.6,360.8 230.2,356.5 231.8,337.7 233.4,334.6 235.0,352.4 236.6,358.0 238.2,351.3 239.7,352.8 241.3,329.5 242.9,349.8 244.5,342.5 246.1,346.3 247.7,333.0 249.3,339.2 250.9,332.0 252.4,340.5 254.0,338.2 255.6,341.6 257.2,341.7 258.8,337.3 260.4,326.7 262.0,317.7 263.6,314.1 265.1,317.2 266.7,324.4 268.3,297.9 269.9,291.0 271.5,285.4 273.1,277.8 274.7,285.6 276.3,277.4 277.8,276.4 279.4,263.5 281.0,283.1 282.6,273.4 284.2,269.9 285.8,278.3 287.4,280.6 288.9,272.0 290.5,322.5 292.1,332.1 293.7,294.6 295.3,251.0 296.9,312.2 298.5,285.3 300.1,306.5 301.6,330.6 303.2,316.6 304.8,247.9 306.4,287.7 308.0,340.7 309.6,309.6 311.2,299.1 312.8,228.8 314.3,325.1 315.9,334.4 317.5,268.4 319.1,293.4 320.7,313.9 322.3,279.7 323.9,312.8 325.5,331.4 327.0,319.7 328.6,232.6 330.2,321.0 331.8,237.8 333.4,301.4 335.0,262.7 336.6,303.0 338.2,342.2 339.7,279.4 341.3,319.0 342.9,297.0 344.5,305.1 346.1,298.2 347.7,290.6 349.3,275.6 350.8,270.4 352.4,268.8 354.0,290.6 355.6,302.7 357.2,311.1 358.8,285.7 360.4,301.9 362.0,309.2 363.5,299.1 365.1,317.3 366.7,316.5 368.3,293.7 369.9,330.5 371.5,350.4 373.1,353.9 374.7,343.3 376.2,340.7 377.8,295.5 379.4,356.6 381.0,352.0 382.6,341.9 384.2,353.1 385.8,349.5 387.4,354.8 388.9,336.7 390.5,295.6 392.1,348.1 393.7,346.4 395.3,333.0 396.9,323.0 398.5,304.4 400.0,284.3 401.6,352.0 403.2,308.4 404.8,328.8 406.4,291.7 408.0,244.0 409.6,299.8 411.2,348.7 412.7,333.4 414.3,296.4 415.9,340.7 417.5,342.8 419.1,341.0 420.7,332.6 422.3,333.1 423.9,320.4 425.4,311.4 427.0,290.8 428.6,299.5 430.2,160.0 431.8,258.7 433.4,340.3 435.0,355.1 436.6,351.7 438.1,357.2 439.7,354.3 441.3,371.1 442.9,357.4 444.5,354.7 446.1,358.8 447.7,358.6 449.3,340.1 450.8,356.7 452.4,358.0 454.0,358.9 455.6,358.4 457.2,358.8 458.8,359.0 460.4,357.9 461.9,356.7 463.5,354.0 465.1,359.2 466.7,358.4 468.3,358.2 469.9,356.9 471.5,357.8 473.1,358.1 474.6,354.2 476.2,354.0 477.8,352.0 479.4,354.8 481.0,356.6 482.6,355.9 484.2,354.5 485.8,356.9 487.3,356.1 488.9,344.4 490.5,351.9 492.1,355.2 493.7,350.1 495.3,355.9 496.9,354.9 498.5,346.9 500.0,350.9 501.6,355.6 503.2,353.9 504.8,353.9 506.4,351.9 508.0,354.4 509.6,354.5 511.1,353.3 512.7,352.8 514.3,352.8 515.9,345.7 517.5,349.9 519.1,343.1 520.7,342.1 522.3,343.7 523.8,343.3 525.4,340.2 527.0,338.1 528.6,331.7 530.2,304.5 531.8,320.0 533.4,310.3 535.0,271.1 536.5,340.8 538.1,362.3 539.7,349.3 541.3,358.3 542.9,362.0 544.5,359.6 546.1,359.4 547.7,360.8 549.2,363.4 550.8,364.0 552.4,362.9 554.0,358.7 555.6,361.3 557.2,357.4 558.8,357.3 560.4,358.1 561.9,362.7 563.5,357.0 565.1,362.7 566.7,355.8 568.3,358.1 569.9,363.1 571.5,359.8 573.0,359.1 574.6,362.1 576.2,360.4 577.8,361.9 579.4,360.1 581.0,363.9 582.6,360.3 584.2,364.1 585.7,362.8 587.3,360.0 588.9,361.7 590.5,358.0 592.1,361.5 593.7,360.3 595.3,358.9 596.9,362.9 598.4,362.7 600.0,360.1 601.6,358.3 603.2,360.1 604.8,362.3 606.4,362.6 608.0,361.8 609.6,360.6 611.1,359.2 612.7,363.5 614.3,363.0 615.9,359.6 617.5,362.6 619.1,360.7 620.7,362.2 622.2,359.4 623.8,362.1 625.4,362.8 627.0,360.4 628.6,362.5 630.2,360.2 631.8,360.3 633.4,357.6 634.9,359.6 636.5,360.7 638.1,362.3 639.7,362.9 641.3,361.7 642.9,357.1 644.5,358.9 646.1,351.8 647.6,360.1 649.2,361.6 650.8,359.5 652.4,354.9 654.0,361.5 655.6,362.0 657.2,360.0 658.8,360.7 660.3,361.6 661.9,359.2 663.5,362.4 665.1,362.9 666.7,319.7 668.3,359.5 669.9,360.4 671.5,354.0 673.0,356.3 674.6,354.7 676.2,355.3 677.8,358.5 679.4,363.4 681.0,369.5 682.6,338.3 684.1,333.7 685.7,324.5 687.3,263.8 688.9,256.9 690.5,253.9 692.1,258.5 693.7,249.4 695.3,253.3 696.8,261.9 698.4,284.6 700.0,307.3 701.6,307.5 703.2,235.6 704.8,254.6 706.4,335.1 708.0,325.7 709.5,306.0 711.1,317.8 712.7,342.6 714.3,272.6 715.9,188.3 717.5,288.0 719.1,328.4 720.7,181.8 722.2,273.3 723.8,345.5 725.4,289.4 727.0,344.9 728.6,322.3 730.2,187.3 731.8,279.7 733.3,204.3 734.9,296.2 736.5,352.4 738.1,320.5 739.7,358.0 741.3,357.5 742.9,357.5 744.5,361.6 746.0,316.9 747.6,257.9 749.2,287.7 750.8,337.2 752.4,343.2 754.0,324.7 755.6,334.0 757.2,339.1 758.7,353.0 760.3,344.2 761.9,352.3 763.5,300.4 765.1,365.1 766.7,313.7 768.3,351.6 769.9,314.2 771.4,181.3 773.0,315.3 774.6,311.0 776.2,321.0 777.8,309.2 779.4,373.2 781.0,371.7 782.6,344.6 784.1,194.8 785.7,231.8 787.3,316.4 788.9,312.8 790.5,279.8 792.1,236.9 793.7,245.8 795.2,228.0 796.8,311.8 798.4,302.3 800.0,272.3 801.6,276.0 803.2,221.9 804.8,349.4 806.4,367.0 807.9,379.5 809.5,379.4 811.1,377.0 812.7,376.4 814.3,372.7 815.9,381.9 817.5,380.6 819.1,381.7 820.6,379.5 822.2,378.4 823.8,383.9 825.4,382.6 827.0,384.2 828.6,383.4 830.2,384.6 831.8,382.8 833.3,381.7 834.9,384.4 836.5,378.3 838.1,383.9 839.7,387.3 841.3,386.3 842.9,381.1 844.4,386.0 846.0,386.0 847.6,385.4 849.2,382.7 850.8,381.9 852.4,380.3 854.0,378.6 855.6,295.3 857.1,367.6 858.7,387.2 860.3,348.1 861.9,368.6 863.5,370.5 865.1,354.6 866.7,307.1 868.3,261.6 869.8,295.0 871.4,379.2 873.0,381.5 874.6,350.0 876.2,362.4 877.8,368.3 879.4,374.4 881.0,271.8 882.5,343.9 884.1,323.9 885.7,281.2 887.3,251.5 888.9,293.9 890.5,286.7 892.1,324.5 893.7,342.7 895.2,302.8 896.8,363.7 898.4,363.9 900.0,324.4 901.6,294.9 903.2,361.4 904.8,384.4 906.3,375.8 907.9,375.9 909.5,384.7 911.1,347.2 912.7,294.5 914.3,349.4 915.9,354.6 917.5,353.0 919.0,327.7 920.6,366.4 922.2,351.2 923.8,373.1 925.4,375.8 927.0,295.5 928.6,376.9 930.2,319.5 931.7,310.6 933.3,330.6 934.9,362.9 936.5,293.4 938.1,360.0 939.7,346.4 941.3,353.8 942.9,243.3 944.4,276.8 946.0,333.1 947.6,279.6 949.2,344.5 950.8,313.7 952.4,305.8 954.0,342.8 955.5,315.1 957.1,325.1 958.7,320.0 960.3,295.4 961.9,320.0 963.5,282.6 965.1,250.6 966.7,346.3 968.2,325.9 969.8,363.4 971.4,340.4 973.0,293.3 974.6,352.6 976.2,355.4 977.8,352.1 979.4,354.4 980.9,345.6 982.5,353.3 984.1,294.3 985.7,352.3 987.3,354.4 988.9,350.3 990.5,359.3 992.1,357.3 993.6,345.2 995.2,351.8 996.8,356.5 998.4,294.4 1000.0,360.6 1001.6,358.7 1003.2,357.2 1004.8,349.8 1006.3,347.0 1007.9,343.6 1009.5,296.2 1011.1,347.4 1012.7,312.2 1014.3,281.2 1015.9,305.7 1017.4,320.2 1019.0,300.7 1020.6,286.5 1022.2,284.8 1023.8,296.2 1025.4,274.1 1027.0,282.5 1028.6,297.3 1030.1,290.9 1031.7,267.2 1033.3,240.3 1034.9,282.5 1036.5,340.9 1038.1,319.8 1039.7,241.0 1041.3,344.7 1042.8,286.8 1044.4,319.1 1046.0,219.6 1047.6,288.2 1049.2,326.0 1050.8,303.6 1052.4,199.3 1054.0,331.7 1055.5,229.8 1057.1,188.6 1058.7,264.9 1060.3,309.9 1061.9,191.3 1063.5,344.6 1065.1,262.2 1066.6,299.0 1068.2,219.9 1069.8,389.0 1071.4,383.2 1073.0,275.1 1074.6,289.7 1076.2,248.2 1077.8,342.8 1079.3,371.4 1080.9,262.8 1082.5,296.9 1084.1,230.0 1085.7,296.4 1087.3,361.4 1088.9,332.8 1090.5,339.3 1092.0,367.6 1093.6,368.0 1095.2,381.4 1096.8,396.5 1098.4,397.4 1100.0,386.5 1101.6,392.1 1103.2,390.8 1104.7,395.9 1106.3,391.2 1107.9,394.6 1109.5,396.6 1111.1,384.3 1112.7,369.6 1114.3,374.4 1115.9,381.1 1117.4,394.9 1119.0,344.0 1120.6,353.6 1122.2,372.2 1123.8,332.2 1125.4,333.5 1127.0,346.1 1128.5,345.2 1130.1,313.7 1131.7,334.2 1133.3,364.5 1134.9,375.2 1136.5,347.4 1138.1,257.0 1139.7,357.1 1141.2,343.6 1142.8,372.1 1144.4,339.7 1146.0,353.3 1147.6,347.4 1149.2,311.1 1150.8,348.7 1152.4,372.8 1153.9,359.9 1155.5,344.3 1157.1,365.2 1158.7,303.6 1160.3,348.4 1161.9,351.7 1163.5,356.5 1165.1,380.0 1166.6,373.0 1168.2,344.0 1169.8,342.8 1171.4,339.0 1173.0,329.0 1174.6,343.9 1176.2,349.8 1177.7,359.4 1179.3,325.4 1180.9,352.2 1182.5,337.1 1184.1,330.3 1185.7,344.4 1187.3,320.1 1188.9,385.5 1190.4,346.1 1192.0,384.5 1193.6,388.6 1195.2,339.9 1196.8,348.7 1198.4,257.6 1200.0,350.8 1201.6,330.7 1203.1,305.9 1204.7,252.4 1206.3,351.0 1207.9,333.6 1209.5,361.5 1211.1,358.2 1212.7,329.1 1214.3,360.8 1215.8,354.3 1217.4,348.4 1219.0,358.7 1220.6,346.5 1222.2,331.2 1223.8,340.1 1225.4,330.9 1227.0,355.2 1228.5,354.1 1230.1,370.1 1231.7,357.8 1233.3,348.1 1234.9,353.8 1236.5,331.7 1238.1,175.7 1239.6,300.6 1241.2,317.3 1242.8,306.8 1244.4,375.6 1246.0,360.9 1247.6,365.0 1249.2,366.9 1250.8,357.7 1252.3,360.7 1253.9,347.7 1255.5,353.2 1257.1,378.6 1258.7,351.0 1260.3,370.7 1261.9,345.8 1263.5,320.8 1265.0,335.9 1266.6,362.5 1268.2,340.7 1269.8,352.3 1271.4,316.6 1273.0,310.6 1274.6,312.2 1276.2,335.5 1277.7,236.0 1279.3,325.8 1280.9,262.4 1282.5,279.8 1284.1,340.2 1285.7,314.5 1287.3,304.1 1288.8,322.2 1290.4,262.2 1292.0,307.3 1293.6,291.3 1295.2,303.7 1296.8,305.5 1298.4,295.0 1300.0,321.4 1301.5,314.7 1303.1,359.8 1304.7,370.2 1306.3,388.6 1307.9,385.2 1309.5,327.5 1311.1,337.1 1312.7,387.0 1314.2,420.3 1315.8,398.4 1317.4,312.6 1319.0,368.6 1320.6,415.7 1322.2,403.7 1323.8,402.3 1325.4,400.7 1326.9,408.8 1328.5,394.2 1330.1,364.6 1331.7,359.0 1333.3,368.9 1334.9,370.1 1336.5,379.5 1338.1,406.0 1339.6,412.3 1341.2,402.3 1342.8,401.1 1344.4,387.9 1346.0,384.4 1347.6,386.5 1349.2,384.8 1350.7,314.1 1352.3,258.7 1353.9,345.7 1355.5,373.1 1357.1,360.0 1358.7,328.5 1360.3,374.6 1361.9,384.9 1363.4,375.6 1365.0,326.7 1366.6,383.0 1368.2,413.7 1369.8,386.5 1371.4,349.7 1373.0,390.9 1374.6,383.7 1376.1,394.3 1377.7,405.7 1379.3,408.8 1380.9,371.0 1382.5,377.3 1384.1,386.5 1385.7,386.5 1387.3,390.9 1388.8,348.3 1390.4,406.6 1392.0,399.9 1393.6,386.3 1395.2,343.6 1396.8,354.6 1398.4,393.5 1399.9,371.6 1401.5,402.9 1403.1,367.4 1404.7,316.4 1406.3,263.5 1407.9,349.2 1409.5,345.0 1411.1,365.1 1412.6,372.7 1414.2,404.1 1415.8,387.6 1417.4,365.9 1419.0,258.1 1420.6,344.4 1422.2,356.3 1423.8,402.2 1425.3,389.6 1426.9,389.2 1428.5,359.3 1430.1,389.6 1431.7,396.4 1433.3,381.7 1434.9,333.8 1436.5,372.5 1438.0,319.3 1439.6,403.9 1441.2,403.3 1442.8,373.5 1444.4,334.1 1446.0,397.5 1447.6,369.5 1449.2,390.5 1450.7,358.6 1452.3,337.4 1453.9,387.8 1455.5,313.5 1457.1,395.8 1458.7,258.9 1460.3,360.1 1461.8,393.5 1463.4,356.9 1465.0,342.9 1466.6,403.2 1468.2,369.5 1469.8,361.1 1471.4,382.6 1473.0,367.3 1474.5,393.5 1476.1,370.6 1477.7,377.5 1479.3,337.9 1480.9,313.4 1482.5,316.3 1484.1,321.8 1485.7,326.6 1487.2,325.6 1488.8,307.8 1490.4,309.1 1492.0,295.1 1493.6,288.1 1495.2,315.4 1496.8,293.1 1498.4,295.2 1499.9,336.6 1501.5,281.8 1503.1,303.3 1504.7,292.7 1506.3,278.6 1507.9,230.2 1509.5,308.0 1511.0,344.6 1512.6,326.1 1514.2,267.6 1515.8,230.3 1517.4,243.3 1519.0,289.1 1520.6,214.6 1522.2,259.1 1523.7,280.0 1525.3,369.0 1526.9,368.8 1528.5,299.6 1530.1,320.0 1531.7,276.1 1533.3,278.5 1534.9,301.9 1536.4,288.1 1538.0,309.9 1539.6,273.8 1541.2,312.0 1542.8,244.1 1544.4,306.0 1546.0,311.2 1547.6,337.4 1549.1,362.7 1550.7,326.4 1552.3,324.1 1553.9,183.4 1555.5,394.2 1557.1,322.7 1558.7,359.8 1560.3,227.0 1561.8,327.3 1563.4,360.2 1565.0,326.9 1566.6,282.9 1568.2,342.6 1569.8,329.2 1571.4,269.8 1572.9,228.6 1574.5,344.8 1576.1,357.3 1577.7,386.5 1579.3,395.7 1580.9,336.7 1582.5,407.7 1584.1,304.8 1585.6,340.2 1587.2,365.4 1588.8,331.9 1590.4,374.5 1592.0,358.0 1593.6,357.8 1595.2,356.0 1596.8,304.2 1598.3,348.0 1599.9,297.1 1601.5,374.2 1603.1,324.3 1604.7,255.3 1606.3,326.4 1607.9,306.0 1609.5,325.3 1611.0,368.4 1612.6,362.5 1614.2,359.1 1615.8,346.0 1617.4,299.5 1619.0,329.2 1620.6,354.9 1622.1,338.7 1623.7,407.4 1625.3,299.6 1626.9,343.8 1628.5,350.7 1630.1,366.3 1631.7,379.0 1633.3,374.5 1634.8,349.7 1636.4,338.4 1638.0,361.7 1639.6,295.8 1641.2,390.9 1642.8,391.6 1644.4,383.7 1646.0,378.6 1647.5,362.5 1649.1,332.9 1650.7,299.9 1652.3,368.4 1653.9,367.0 1655.5,322.0 1657.1,355.2 1658.7,384.4 1660.2,297.3 1661.8,367.3 1663.4,383.5 1665.0,335.8 1666.6,350.7 1668.2,379.1 1669.8,360.4 1671.4,382.3 1672.9,390.1 1674.5,298.9 1676.1,389.6 1677.7,357.5 1679.3,402.6 1680.9,373.7 1682.5,341.9 1684.0,352.7 1685.6,360.0 1687.2,298.0 1688.8,277.4 1690.4,369.0 1692.0,348.7 1693.6,392.1 1695.2,403.0 1696.7,379.5 1698.3,398.8 1699.9,297.3 1701.5,400.0 1703.1,416.1 1704.7,415.2 1706.3,401.2 1707.9,386.8 1709.4,410.3 1711.0,369.9 1712.6,298.8 1714.2,378.7 1715.8,385.9 1717.4,406.2 1719.0,378.1 1720.6,384.6 1722.1,369.3 1723.7,297.6 1725.3,372.8 1726.9,344.1 1728.5,371.8 1730.1,407.8 1731.7,380.9 1733.2,380.5 1734.8,295.5 1736.4,315.4 1738.0,379.8 1739.6,392.2 1741.2,340.5 1742.8,393.1 1744.4,407.4 1745.9,359.0 1747.5,388.7 1749.1,382.9 1750.7,297.8 1752.3,362.5 1753.9,374.0 1755.5,373.8 1757.1,356.1 1758.6,314.9 1760.2,339.2 1761.8,297.0 1763.4,349.7 1765.0,353.9 1766.6,358.5 1768.2,359.9 1769.8,353.2 1771.3,324.3 1772.9,295.8 1774.5,335.8 1776.1,296.5 1777.7,248.6 1779.3,278.0 1780.9,334.9 1782.5,290.4 1784.0,270.6 1785.6,243.8 1787.2,281.5 1788.8,305.5 1790.4,339.9 1792.0,353.8 1793.6,340.4 1795.1,342.9 1796.7,376.5 1798.3,369.7 1799.9,298.4 1801.5,373.1 1803.1,377.0 1804.7,346.0 1806.3,362.8 1807.8,324.1 1809.4,370.2 1811.0,378.3 1812.6,385.7 1814.2,406.0 1815.8,295.7 1817.4,394.1 1819.0,376.1 1820.5,340.0 1822.1,399.7 1823.7,368.3 1825.3,298.4 1826.9,327.6 1828.5,394.7 1830.1,392.1 1831.7,409.2 1833.2,393.2 1834.8,405.6 1836.4,405.1 1838.0,298.0 1839.6,374.2 1841.2,336.0 1842.8,365.4 1844.3,367.3 1845.9,371.7 1847.5,355.5 1849.1,324.3 1850.7,309.8 1852.3,298.0 1853.9,361.5 1855.5,342.8 1857.0,363.1 1858.6,366.5 1860.2,368.7 1861.8,339.5 1863.4,390.2 1865.0,394.9 1866.6,364.7 1868.2,398.1 1869.7,396.2 1871.3,396.0 1872.9,382.5 1874.5,396.8 1876.1,361.3 1877.7,398.2 1879.3,393.5 1880.9,383.7 1882.4,395.9 1884.0,397.4 1885.6,395.1 1887.2,395.9 1888.8,364.1 1890.4,391.7 1892.0,390.8 1893.6,384.0 1895.1,367.9 1896.7,390.4 1898.3,390.2 1899.9,369.5 1901.5,380.1 1903.1,376.2 1904.7,374.0 1906.2,372.1 1907.8,365.3 1909.4,364.4 1911.0,372.3 1912.6,356.6 1914.2,371.5 1915.8,353.3 1917.4,367.1 1918.9,353.6 1920.5,358.7 1922.1,366.1 1923.7,351.5 1925.3,351.4 1926.9,358.2 1928.5,338.9 1930.1,344.3 1931.6,343.8 1933.2,323.5 1934.8,342.9 1936.4,341.3 1938.0,325.0 1939.6,347.0 1941.2,327.9 1942.8,289.7 1944.3,330.2 1945.9,352.6 1947.5,348.0 1949.1,347.1 1950.7,349.8 1952.3,291.7 1953.9,333.4 1955.4,349.7 1957.0,309.2 1958.6,320.3 1960.2,335.5 1961.8,291.1 1963.4,347.9 1965.0,329.9 1966.6,336.5 1968.1,327.9 1969.7,309.5 1971.3,322.1 1972.9,314.3 1974.5,314.9 1976.1,331.5 1977.7,310.1 1979.3,299.6 1980.8,295.8 1982.4,301.4 1984.0,297.5 1985.6,294.9 1987.2,311.5 1988.8,299.8 1990.4,340.2 1992.0,337.7 1993.5,288.0 1995.1,322.9 1996.7,317.4 1998.3,258.1 1999.9,312.8 2001.5,307.0 2003.1,340.5 2004.7,237.6 2006.2,329.5 2007.8,303.2 2009.4,354.6 2011.0,350.8 2012.6,321.2 2014.2,374.6 2015.8,295.3 2017.3,345.3 2018.9,323.0 2020.5,330.3 2022.1,252.7 2023.7,337.7 2025.3,344.0 2026.9,312.3 2028.5,331.0 2030.0,373.2 2031.6,327.9 2033.2,367.0 2034.8,347.9 2036.4,341.7 2038.0,343.8 2039.6,328.8 2041.2,347.9 2042.7,231.4 2044.3,279.2 2045.9,283.1 2047.5,291.8 2049.1,346.7 2050.7,378.6 2052.3,370.0 2053.9,393.8 2055.4,390.4 2057.0,366.2 2058.6,328.4 2060.2,287.3 2061.8,292.1 2063.4,297.6 2065.0,308.3 2066.5,334.2 2068.1,290.0 2069.7,289.6 2071.3,284.9 2072.9,247.5 2074.5,190.4 2076.1,318.5 2077.7,336.7 2079.2,357.9 2080.8,345.8 2082.4,342.9 2084.0,341.5 2085.6,351.7 2087.2,360.3 2088.8,353.5 2090.4,349.2 2091.9,358.8 2093.5,359.7 2095.1,350.7 2096.7,362.8 2098.3,375.2 2099.9,405.2 2101.5,384.8 2103.1,405.2 2104.6,401.4 2106.2,405.5 2107.8,397.9 2109.4,408.6 2111.0,407.3 2112.6,388.1 2114.2,411.0 2115.8,406.8 2117.3,409.4 2118.9,408.3 2120.5,410.5 2122.1,411.2 2123.7,405.8 2125.3,386.2 2126.9,400.8 2128.4,408.4 2130.0,409.1 2131.6,399.7 2133.2,400.4 2134.8,410.0 2136.4,397.8 2138.0,404.6 2139.6,408.6 2141.1,409.7 2142.7,409.9 2144.3,410.6 2145.9,410.7 2147.5,405.0 2149.1,412.8 2150.7,411.9 2152.3,406.0 2153.8,408.4 2155.4,408.0 2157.0,405.9 2158.6,406.0 2160.2,404.6 2161.8,393.1 2163.4,406.3 2165.0,401.7 2166.5,405.0 2168.1,411.2 2169.7,405.4 2171.3,408.0 2172.9,407.9 2174.5,408.3 2176.1,405.6 2177.6,408.9 2179.2,406.7 2180.8,405.4 2182.4,405.6 2184.0,402.3 2185.6,388.1 2187.2,404.4 2188.8,392.6 2190.3,404.8 2191.9,398.6 2193.5,402.7 2195.1,393.2 2196.7,397.7 2198.3,387.2 2199.9,401.0 2201.5,400.0 2203.0,374.4 2204.6,372.5 2206.2,312.2 2207.8,339.3 2209.4,249.7 2211.0,355.9 2212.6,186.7 2214.2,233.7 2215.7,335.7 2217.3,357.5 2218.9,361.3 2220.5,372.8 2222.1,388.6 2223.7,378.6 2225.3,331.8 2226.9,350.8 2228.4,340.7 2230.0,266.9 2231.6,336.1 2233.2,356.0 2234.8,370.1 2236.4,377.0 2238.0,389.0 2239.5,369.1 2241.1,390.3 2242.7,393.9 2244.3,399.8 2245.9,400.3 2247.5,396.8 2249.1,400.0 2250.7,396.2 2252.2,400.4 2253.8,393.6 2255.4,395.8 2257.0,397.0 2258.6,403.3 2260.2,400.2 2261.8,398.9 2263.4,391.4 2264.9,387.4 2266.5,389.8 2268.1,387.4 2269.7,383.5 2271.3,383.9 2272.9,384.2 2274.5,387.0 2276.1,387.6 2277.6,395.2 2279.2,383.9 2280.8,392.9 2282.4,394.2 2284.0,392.4 2285.6,378.9 2287.2,390.4 2288.7,381.2 2290.3,393.8 2291.9,340.1 2293.5,333.2 2295.1,372.3 2296.7,300.9 2298.3,285.2 2299.9,369.2 2301.4,369.5 2303.0,343.5 2304.6,313.6 2306.2,296.9 2307.8,384.5 2309.4,334.1 2311.0,357.3 2312.6,366.2 2314.1,323.9 2315.7,357.1 2317.3,294.0 2318.9,367.6 2320.5,341.4 2322.1,321.5 2323.7,348.0 2325.3,345.0 2326.8,363.8 2328.4,345.7 2330.0,372.3 2331.6,358.4 2333.2,372.1 2334.8,374.3 2336.4,377.9 2338.0,385.7 2339.5,383.0 2341.1,389.4 2342.7,391.7" fill="none" stroke="none" marker-start="url(#mc)" marker-mid="url(#mc)" marker-end="url(#mc)"/><marker id="ma" viewBox="-2 -2 4 4" markerWidth="4" markerHeight="4" markerUnits="userSpaceOnUse" overflow="visible"><path d="M-1.4,0H1.4M0,-1.4V1.4" stroke="#2e8b57" stroke-width="1"/></marker><polyline points="60.4,371.8 62.0,447.0 63.6,436.0 65.2,438.4 66.7,435.3 68.3,436.8 69.9,447.0 71.5,437.6 73.1,446.6 74.7,456.8 76.3,450.8 77.9,407.3 79.4,410.2 81.0,353.1 82.6,319.3 84.2,359.4 85.8,320.5 87.4,324.2 89.0,338.2 90.6,379.3 92.1,428.9 93.7,403.1 95.3,340.1 96.9,360.4 98.5,355.5 100.1,339.1 101.7,372.0 103.3,354.7 104.8,387.8 106.4,400.6 108.0,288.4 109.6,399.0 111.2,431.7 112.8,380.0 114.4,401.3 116.0,289.8 117.5,456.3 119.1,437.9 120.7,431.5 122.3,353.1 123.9,433.5 125.5,364.9 127.1,404.6 128.6,290.3 130.2,435.5 131.8,391.8 133.4,383.4 135.0,387.9 136.6,438.5 138.2,382.9 139.8,287.2 141.3,410.0 142.9,351.3 144.5,375.9 146.1,370.5 147.7,391.3 149.3,288.7 150.9,394.9 152.5,350.5 154.0,344.6 155.6,359.6 157.2,341.3 158.8,287.9 160.4,354.5 162.0,346.6 163.6,357.7 165.2,376.2 166.7,343.2 168.3,342.3 169.9,341.4 171.5,388.0 173.1,358.2 174.7,288.8 176.3,350.2 177.8,316.4 179.4,334.4 181.0,324.5 182.6,311.8 184.2,306.8 185.8,288.0 187.4,320.2 189.0,351.1 190.5,399.0 192.1,399.1 193.7,404.3 195.3,372.7 196.9,403.0 198.5,412.8 200.1,405.0 201.7,416.3 203.2,413.1 204.8,396.0 206.4,397.8 208.0,399.5 209.6,376.1 211.2,383.0 212.8,392.3 214.4,407.0 215.9,398.4 217.5,408.6 219.1,391.0 220.7,411.9 222.3,393.0 223.9,414.0 225.5,398.5 227.1,405.5 228.6,394.6 230.2,400.4 231.8,388.9 233.4,382.9 235.0,391.0 236.6,374.7 238.2,393.5 239.7,365.4 241.3,372.8 242.9,372.4 244.5,357.6 246.1,375.8 247.7,368.7 249.3,342.7 250.9,352.3 252.4,342.0 254.0,364.8 255.6,359.5 257.2,354.0 258.8,352.3 260.4,364.2 262.0,352.3 263.6,340.3 265.1,345.9 266.7,328.3 268.3,315.6 269.9,313.5 271.5,305.3 273.1,282.2 274.7,302.3 276.3,289.2 277.8,298.3 279.4,298.8 281.0,300.7 282.6,289.5 284.2,296.0 285.8,307.0 287.4,323.5 288.9,335.9 290.5,354.5 292.1,357.6 293.7,349.3 295.3,342.3 296.9,348.7 298.5,368.3 300.1,350.9 301.6,367.0 303.2,372.6 304.8,375.7 306.4,376.2 308.0,389.7 309.6,389.0 311.2,376.6 312.8,361.1 314.3,395.4 315.9,376.7 317.5,366.1 319.1,373.0 320.7,377.2 322.3,434.4 323.9,411.8 325.5,406.4 327.0,423.3 328.6,382.9 330.2,379.1 331.8,385.8 333.4,387.4 335.0,395.6 336.6,424.4 338.2,420.1 339.7,449.9 341.3,369.7 342.9,354.7 344.5,357.7 346.1,291.2 347.7,367.7 349.3,351.7 350.8,344.7 352.4,344.4 354.0,341.3 355.6,342.7 357.2,361.0 358.8,278.7 360.4,321.7 362.0,336.8 363.5,323.0 365.1,349.3 366.7,372.7 368.3,286.7 369.9,357.2 371.5,424.8 373.1,416.1 374.7,426.3 376.2,396.4 377.8,288.5 379.4,397.3 381.0,394.7 382.6,388.2 384.2,394.0 385.8,381.6 387.4,431.2 388.9,384.5 390.5,288.6 392.1,373.8 393.7,355.4 395.3,353.0 396.9,356.4 398.5,360.0 400.0,277.3 401.6,348.5 403.2,355.5 404.8,338.2 406.4,317.0 408.0,334.4 409.6,356.7 411.2,360.4 412.7,366.5 414.3,289.4 415.9,374.2 417.5,358.0 419.1,361.9 420.7,348.2 422.3,357.2 423.9,339.3 425.4,336.3 427.0,323.5 428.6,319.9 430.2,198.3 431.8,341.4 433.4,393.5 435.0,360.7 436.6,391.7 438.1,384.2 439.7,406.6 441.3,411.8 442.9,405.8 444.5,409.3 446.1,402.9 447.7,406.3 449.3,411.6 450.8,409.8 452.4,408.8 454.0,403.9 455.6,399.0 457.2,401.7 458.8,404.4 460.4,408.2 461.9,399.6 463.5,397.6 465.1,407.5 466.7,398.6 468.3,399.6 469.9,398.6 471.5,400.3 473.1,403.2 474.6,403.3 476.2,403.3 477.8,399.2 479.4,405.6 481.0,402.6 482.6,398.3 484.2,401.6 485.8,398.2 487.3,395.8 488.9,393.0 490.5,397.0 492.1,393.5 493.7,402.1 495.3,399.1 496.9,404.9 498.5,410.1 500.0,410.2 501.6,413.0 503.2,406.2 504.8,406.6 506.4,408.9 508.0,410.8 509.6,404.2 511.1,406.7 512.7,399.8 514.3,403.2 515.9,405.0 517.5,401.0 519.1,403.6 520.7,390.6 522.3,380.9 523.8,389.1 525.4,368.9 527.0,390.3 528.6,390.9 530.2,372.6 531.8,341.3 533.4,329.6 535.0,339.6 536.5,407.0 538.1,446.0 539.7,443.6 541.3,444.0 542.9,444.7 544.5,456.4 546.1,458.0 547.7,458.0 549.2,448.7 550.8,459.6 552.4,459.7 554.0,455.4 555.6,456.0 557.2,442.5 558.8,452.2 560.4,442.9 561.9,441.6 563.5,445.6 565.1,443.7 566.7,455.5 568.3,452.1 569.9,447.6 571.5,455.1 573.0,436.6 574.6,452.7 576.2,447.1 577.8,451.6 579.4,447.1 581.0,450.4 582.6,444.6 584.2,454.3 585.7,449.3 587.3,453.0 588.9,449.2 590.5,432.0 592.1,431.5 593.7,445.5 595.3,426.7 596.9,433.3 598.4,446.4 600.0,448.5 601.6,436.4 603.2,446.4 604.8,433.0 606.4,440.7 608.0,434.5 609.6,446.7 611.1,451.0 612.7,442.7 614.3,442.3 615.9,450.8 617.5,440.8 619.1,439.1 620.7,434.4 622.2,446.0 623.8,444.8 625.4,452.3 627.0,437.5 628.6,441.9 630.2,436.9 631.8,437.2 633.4,435.4 634.9,443.4 636.5,445.4 638.1,429.4 639.7,440.4 641.3,434.2 642.9,425.8 644.5,427.5 646.1,441.1 647.6,436.1 649.2,427.6 650.8,438.0 652.4,447.2 654.0,442.8 655.6,449.2 657.2,445.2 658.8,444.6 660.3,444.3 661.9,444.5 663.5,422.7 665.1,411.7 666.7,394.4 668.3,416.2 669.9,448.9 671.5,445.3 673.0,416.9 674.6,447.3 676.2,446.3 677.8,446.2 679.4,439.8 681.0,425.9 682.6,440.8 684.1,425.9 685.7,411.1 687.3,334.4 688.9,305.4 690.5,292.9 692.1,277.1 693.7,275.0 695.3,265.6 696.8,278.1 698.4,284.9 700.0,310.6 701.6,332.5 703.2,343.0 704.8,292.2 706.4,330.7 708.0,327.1 709.5,365.6 711.1,383.0 712.7,339.2 714.3,323.4 715.9,381.3 717.5,386.2 719.1,341.0 720.7,369.1 722.2,399.2 723.8,427.6 725.4,380.6 727.0,346.6 728.6,398.9 730.2,401.0 731.8,353.9 733.3,410.4 734.9,449.9 736.5,440.8 738.1,446.3 739.7,439.1 741.3,403.7 742.9,360.5 744.5,353.9 746.0,431.6 747.6,437.0 749.2,406.3 750.8,363.4 752.4,396.3 754.0,433.7 755.6,457.2 757.2,465.6 758.7,466.3 760.3,456.9 761.9,460.0 763.5,438.8 765.1,429.8 766.7,432.5 768.3,408.2 769.9,365.2 771.4,201.0 773.0,375.6 774.6,457.2 776.2,437.4 777.8,454.2 779.4,468.7 781.0,396.4 782.6,417.3 784.1,220.0 785.7,379.7 787.3,404.2 788.9,446.8 790.5,433.3 792.1,371.9 793.7,264.5 795.2,305.6 796.8,332.2 798.4,360.6 800.0,271.8 801.6,274.1 803.2,335.8 804.8,423.2 806.4,456.9 807.9,460.0 809.5,454.3 811.1,457.1 812.7,469.4 814.3,467.1 815.9,471.8 817.5,462.4 819.1,475.9 820.6,475.3 822.2,473.4 823.8,477.5 825.4,478.5 827.0,472.5 828.6,473.7 830.2,473.7 831.8,459.9 833.3,470.7 834.9,472.8 836.5,462.1 838.1,466.4 839.7,456.2 841.3,465.4 842.9,465.3 844.4,457.2 846.0,462.9 847.6,451.9 849.2,462.9 850.8,463.6 852.4,464.6 854.0,463.7 855.6,288.3 857.1,456.5 858.7,435.4 860.3,414.2 861.9,363.1 863.5,390.4 865.1,418.6 866.7,331.1 868.3,393.6 869.8,288.0 871.4,407.5 873.0,373.7 874.6,380.8 876.2,366.8 877.8,398.0 879.4,437.0 881.0,264.8 882.5,350.4 884.1,341.4 885.7,317.6 887.3,352.7 888.9,286.9 890.5,388.8 892.1,381.8 893.7,417.1 895.2,422.5 896.8,416.9 898.4,371.1 900.0,382.6 901.6,287.9 903.2,415.6 904.8,442.7 906.3,412.3 907.9,382.5 909.5,391.2 911.1,405.7 912.7,287.5 914.3,438.2 915.9,410.0 917.5,366.4 919.0,361.6 920.6,406.4 922.2,421.3 923.8,437.3 925.4,450.8 927.0,288.5 928.6,411.5 930.2,379.5 931.7,370.9 933.3,368.0 934.9,367.9 936.5,286.4 938.1,433.3 939.7,373.7 941.3,372.7 942.9,368.0 944.4,351.0 946.0,351.6 947.6,272.6 949.2,344.1 950.8,350.3 952.4,383.9 954.0,359.8 955.5,354.1 957.1,351.4 958.7,358.2 960.3,288.4 961.9,333.4 963.5,303.2 965.1,321.9 966.7,380.9 968.2,401.4 969.8,389.1 971.4,377.5 973.0,286.3 974.6,393.7 976.2,393.5 977.8,395.9 979.4,392.8 980.9,394.8 982.5,387.9 984.1,287.3 985.7,378.9 987.3,392.8 988.9,394.2 990.5,386.6 992.1,396.3 993.6,392.3 995.2,386.1 996.8,381.4 998.4,287.4 1000.0,391.6 1001.6,380.8 1003.2,402.6 1004.8,382.3 1006.3,375.9 1007.9,361.9 1009.5,289.2 1011.1,378.6 1012.7,321.9 1014.3,340.0 1015.9,319.2 1017.4,322.0 1019.0,315.2 1020.6,329.4 1022.2,311.5 1023.8,309.3 1025.4,313.8 1027.0,307.4 1028.6,298.5 1030.1,291.6 1031.7,303.6 1033.3,296.2 1034.9,333.1 1036.5,364.5 1038.1,362.6 1039.7,344.7 1041.3,362.0 1042.8,354.4 1044.4,348.7 1046.0,417.6 1047.6,436.4 1049.2,387.5 1050.8,342.1 1052.4,230.0 1054.0,331.1 1055.5,344.0 1057.1,218.3 1058.7,422.9 1060.3,337.8 1061.9,431.4 1063.5,349.3 1065.1,362.5 1066.6,419.1 1068.2,377.1 1069.8,451.2 1071.4,444.3 1073.0,403.2 1074.6,384.9 1076.2,425.7 1077.8,456.3 1079.3,417.5 1080.9,353.2 1082.5,367.6 1084.1,266.6 1085.7,344.4 1087.3,394.6 1088.9,427.2 1090.5,442.0 1092.0,458.1 1093.6,459.8 1095.2,469.0 1096.8,457.1 1098.4,446.9 1100.0,449.9 1101.6,438.8 1103.2,443.5 1104.7,464.5 1106.3,458.8 1107.9,460.6 1109.5,462.8 1111.1,454.2 1112.7,448.5 1114.3,466.9 1115.9,456.6 1117.4,475.9 1119.0,457.1 1120.6,451.8 1122.2,457.8 1123.8,441.9 1125.4,460.5 1127.0,445.0 1128.5,353.8 1130.1,344.2 1131.7,369.7 1133.3,425.2 1134.9,406.3 1136.5,378.2 1138.1,410.9 1139.7,403.9 1141.2,367.8 1142.8,392.7 1144.4,407.9 1146.0,458.3 1147.6,407.4 1149.2,407.9 1150.8,419.2 1152.4,416.8 1153.9,451.0 1155.5,420.0 1157.1,392.6 1158.7,398.8 1160.3,405.6 1161.9,426.2 1163.5,452.9 1165.1,445.5 1166.6,436.3 1168.2,407.8 1169.8,358.3 1171.4,370.7 1173.0,369.6 1174.6,417.3 1176.2,427.2 1177.7,448.3 1179.3,437.2 1180.9,406.2 1182.5,371.6 1184.1,397.7 1185.7,430.1 1187.3,403.7 1188.9,462.8 1190.4,412.6 1192.0,469.4 1193.6,380.5 1195.2,355.3 1196.8,394.9 1198.4,404.7 1200.0,439.2 1201.6,394.5 1203.1,353.1 1204.7,319.5 1206.3,362.1 1207.9,386.8 1209.5,435.1 1211.1,400.6 1212.7,450.4 1214.3,416.9 1215.8,386.6 1217.4,355.0 1219.0,350.0 1220.6,347.9 1222.2,354.5 1223.8,360.1 1225.4,349.4 1227.0,352.4 1228.5,371.5 1230.1,411.9 1231.7,355.0 1233.3,340.9 1234.9,346.9 1236.5,340.1 1238.1,197.3 1239.6,334.4 1241.2,375.0 1242.8,414.7 1244.4,439.2 1246.0,431.1 1247.6,454.9 1249.2,442.9 1250.8,444.2 1252.3,440.0 1253.9,447.3 1255.5,425.2 1257.1,432.5 1258.7,436.0 1260.3,420.8 1261.9,415.6 1263.5,412.9 1265.0,424.4 1266.6,422.6 1268.2,421.2 1269.8,436.2 1271.4,415.3 1273.0,406.9 1274.6,403.4 1276.2,394.4 1277.7,401.9 1279.3,386.6 1280.9,412.3 1282.5,383.0 1284.1,386.9 1285.7,383.1 1287.3,375.0 1288.8,375.6 1290.4,334.6 1292.0,340.6 1293.6,362.7 1295.2,340.6 1296.8,338.0 1298.4,343.4 1300.0,376.3 1301.5,418.0 1303.1,445.9 1304.7,434.1 1306.3,448.3 1307.9,438.7 1309.5,437.7 1311.1,456.8 1312.7,471.8 1314.2,466.7 1315.8,464.4 1317.4,455.4 1319.0,460.3 1320.6,477.8 1322.2,451.5 1323.8,452.8 1325.4,456.1 1326.9,459.5 1328.5,471.8 1330.1,464.8 1331.7,466.6 1333.3,476.6 1334.9,463.8 1336.5,472.8 1338.1,452.0 1339.6,460.7 1341.2,454.3 1342.8,475.9 1344.4,459.2 1346.0,458.6 1347.6,474.8 1349.2,480.6 1350.7,475.0 1352.3,471.8 1353.9,474.4 1355.5,476.5 1357.1,458.7 1358.7,456.9 1360.3,473.7 1361.9,445.4 1363.4,471.1 1365.0,460.6 1366.6,476.9 1368.2,461.0 1369.8,470.0 1371.4,474.5 1373.0,479.6 1374.6,448.2 1376.1,463.4 1377.7,443.0 1379.3,463.4 1380.9,447.2 1382.5,457.2 1384.1,435.4 1385.7,459.6 1387.3,470.5 1388.8,471.7 1390.4,480.6 1392.0,481.3 1393.6,468.6 1395.2,479.2 1396.8,463.6 1398.4,481.1 1399.9,458.6 1401.5,477.3 1403.1,462.4 1404.7,452.1 1406.3,451.9 1407.9,427.8 1409.5,401.9 1411.1,445.1 1412.6,431.0 1414.2,456.3 1415.8,429.6 1417.4,451.7 1419.0,454.8 1420.6,460.9 1422.2,480.4 1423.8,481.4 1425.3,469.9 1426.9,454.6 1428.5,478.4 1430.1,452.8 1431.7,468.1 1433.3,469.8 1434.9,459.4 1436.5,468.4 1438.0,478.4 1439.6,461.9 1441.2,467.4 1442.8,444.1 1444.4,445.7 1446.0,446.3 1447.6,450.4 1449.2,459.5 1450.7,456.5 1452.3,461.4 1453.9,457.5 1455.5,428.4 1457.1,450.4 1458.7,444.5 1460.3,412.9 1461.8,406.6 1463.4,414.3 1465.0,437.3 1466.6,438.1 1468.2,449.5 1469.8,464.2 1471.4,475.6 1473.0,477.3 1474.5,456.8 1476.1,448.2 1477.7,448.4 1479.3,429.5 1480.9,398.0 1482.5,391.5 1484.1,387.4 1485.7,378.5 1487.2,383.2 1488.8,401.3 1490.4,401.9 1492.0,378.2 1493.6,389.9 1495.2,381.1 1496.8,386.7 1498.4,383.9 1499.9,399.6 1501.5,414.3 1503.1,378.1 1504.7,408.6 1506.3,406.6 1507.9,411.0 1509.5,427.9 1511.0,411.8 1512.6,388.5 1514.2,391.6 1515.8,382.9 1517.4,416.6 1519.0,412.1 1520.6,393.5 1522.2,371.7 1523.7,338.1 1525.3,411.7 1526.9,409.8 1528.5,389.8 1530.1,421.5 1531.7,343.3 1533.3,300.9 1534.9,331.7 1536.4,379.0 1538.0,352.6 1539.6,344.3 1541.2,316.8 1542.8,361.1 1544.4,438.8 1546.0,438.9 1547.6,433.6 1549.1,426.5 1550.7,361.1 1552.3,318.2 1553.9,205.0 1555.5,388.4 1557.1,401.1 1558.7,368.1 1560.3,334.9 1561.8,327.8 1563.4,355.8 1565.0,448.7 1566.6,465.7 1568.2,408.5 1569.8,376.7 1571.4,339.9 1572.9,301.0 1574.5,366.5 1576.1,463.7 1577.7,386.3 1579.3,441.9 1580.9,439.9 1582.5,457.8 1584.1,457.5 1585.6,442.4 1587.2,460.7 1588.8,457.4 1590.4,461.6 1592.0,446.4 1593.6,458.4 1595.2,463.9 1596.8,424.0 1598.3,446.5 1599.9,425.8 1601.5,419.8 1603.1,412.6 1604.7,248.3 1606.3,416.0 1607.9,472.8 1609.5,465.0 1611.0,479.3 1612.6,474.7 1614.2,465.0 1615.8,451.7 1617.4,292.5 1619.0,485.0 1620.6,445.8 1622.1,472.1 1623.7,443.3 1625.3,292.6 1626.9,418.0 1628.5,368.1 1630.1,361.2 1631.7,439.0 1633.3,414.1 1634.8,417.1 1636.4,388.5 1638.0,433.4 1639.6,288.8 1641.2,460.4 1642.8,484.2 1644.4,478.9 1646.0,406.4 1647.5,376.8 1649.1,412.9 1650.7,292.9 1652.3,364.3 1653.9,365.8 1655.5,368.7 1657.1,460.6 1658.7,458.4 1660.2,290.3 1661.8,430.2 1663.4,421.3 1665.0,391.3 1666.6,387.4 1668.2,395.1 1669.8,450.8 1671.4,436.4 1672.9,383.1 1674.5,291.9 1676.1,380.9 1677.7,397.6 1679.3,398.7 1680.9,408.6 1682.5,452.8 1684.0,413.9 1685.6,401.9 1687.2,291.0 1688.8,410.9 1690.4,422.8 1692.0,412.7 1693.6,451.9 1695.2,467.3 1696.7,455.0 1698.3,470.7 1699.9,290.3 1701.5,483.4 1703.1,461.0 1704.7,475.5 1706.3,451.7 1707.9,463.7 1709.4,468.9 1711.0,457.7 1712.6,291.8 1714.2,469.1 1715.8,459.8 1717.4,429.5 1719.0,403.8 1720.6,472.3 1722.1,422.0 1723.7,290.6 1725.3,366.6 1726.9,378.1 1728.5,395.3 1730.1,439.1 1731.7,445.4 1733.2,386.5 1734.8,288.5 1736.4,359.5 1738.0,385.6 1739.6,433.4 1741.2,376.8 1742.8,385.6 1744.4,397.7 1745.9,443.7 1747.5,385.2 1749.1,393.1 1750.7,290.8 1752.3,413.8 1753.9,402.1 1755.5,369.8 1757.1,373.5 1758.6,361.4 1760.2,369.1 1761.8,290.0 1763.4,352.6 1765.0,351.3 1766.6,362.5 1768.2,359.1 1769.8,372.4 1771.3,374.0 1772.9,288.8 1774.5,347.9 1776.1,345.6 1777.7,334.0 1779.3,337.4 1780.9,346.3 1782.5,369.5 1784.0,354.2 1785.6,347.3 1787.2,274.5 1788.8,338.3 1790.4,349.7 1792.0,350.3 1793.6,350.8 1795.1,354.9 1796.7,372.9 1798.3,418.6 1799.9,291.4 1801.5,380.3 1803.1,373.8 1804.7,403.1 1806.3,370.3 1807.8,421.9 1809.4,441.6 1811.0,440.6 1812.6,380.1 1814.2,398.0 1815.8,288.7 1817.4,471.7 1819.0,460.6 1820.5,426.0 1822.1,415.5 1823.7,395.1 1825.3,291.4 1826.9,457.8 1828.5,444.0 1830.1,421.1 1831.7,455.2 1833.2,473.8 1834.8,472.6 1836.4,456.4 1838.0,291.0 1839.6,446.2 1841.2,453.4 1842.8,417.6 1844.3,423.6 1845.9,419.2 1847.5,390.8 1849.1,323.3 1850.7,330.8 1852.3,291.0 1853.9,433.7 1855.5,447.2 1857.0,381.6 1858.6,420.9 1860.2,397.6 1861.8,432.8 1863.4,462.4 1865.0,448.1 1866.6,455.5 1868.2,462.4 1869.7,464.9 1871.3,461.2 1872.9,445.1 1874.5,450.1 1876.1,463.1 1877.7,454.9 1879.3,468.5 1880.9,447.6 1882.4,440.6 1884.0,455.5 1885.6,456.8 1887.2,457.5 1888.8,457.0 1890.4,436.9 1892.0,451.8 1893.6,455.8 1895.1,459.3 1896.7,445.6 1898.3,442.4 1899.9,451.6 1901.5,444.7 1903.1,432.8 1904.7,436.7 1906.2,436.5 1907.8,427.6 1909.4,418.1 1911.0,394.0 1912.6,410.1 1914.2,417.8 1915.8,404.3 1917.4,415.8 1918.9,407.7 1920.5,409.7 1922.1,403.0 1923.7,405.6 1925.3,407.2 1926.9,413.7 1928.5,398.6 1930.1,404.2 1931.6,391.6 1933.2,395.7 1934.8,372.5 1936.4,373.8 1938.0,341.3 1939.6,374.9 1941.2,383.5 1942.8,282.7 1944.3,394.3 1945.9,396.5 1947.5,384.7 1949.1,398.7 1950.7,356.5 1952.3,284.7 1953.9,384.3 1955.4,393.7 1957.0,380.0 1958.6,375.5 1960.2,369.6 1961.8,284.1 1963.4,393.2 1965.0,389.9 1966.6,386.4 1968.1,388.8 1969.7,401.2 1971.3,382.4 1972.9,396.2 1974.5,401.0 1976.1,379.8 1977.7,379.3 1979.3,350.1 1980.8,344.0 1982.4,338.3 1984.0,342.0 1985.6,342.1 1987.2,343.2 1988.8,357.0 1990.4,362.6 1992.0,400.0 1993.5,393.6 1995.1,408.7 1996.7,397.0 1998.3,402.7 1999.9,420.5 2001.5,424.5 2003.1,410.7 2004.7,392.9 2006.2,430.2 2007.8,434.8 2009.4,446.1 2011.0,448.6 2012.6,443.8 2014.2,425.2 2015.8,440.7 2017.3,436.8 2018.9,423.0 2020.5,417.6 2022.1,410.1 2023.7,431.3 2025.3,439.5 2026.9,431.9 2028.5,397.1 2030.0,429.8 2031.6,452.9 2033.2,450.5 2034.8,403.0 2036.4,427.4 2038.0,442.2 2039.6,435.3 2041.2,446.9 2042.7,443.1 2044.3,449.7 2045.9,441.5 2047.5,448.7 2049.1,439.5 2050.7,442.8 2052.3,429.4 2053.9,414.9 2055.4,426.7 2057.0,416.1 2058.6,377.6 2060.2,368.1 2061.8,364.9 2063.4,376.1 2065.0,361.9 2066.5,358.8 2068.1,342.3 2069.7,349.9 2071.3,337.3 2072.9,309.5 2074.5,214.0 2076.1,339.8 2077.7,356.6 2079.2,359.8 2080.8,366.6 2082.4,351.6 2084.0,362.2 2085.6,376.7 2087.2,383.1 2088.8,409.7 2090.4,427.3 2091.9,419.7 2093.5,410.2 2095.1,421.6 2096.7,441.9 2098.3,453.3 2099.9,470.2 2101.5,467.4 2103.1,467.7 2104.6,474.0 2106.2,470.4 2107.8,468.6 2109.4,461.8 2111.0,473.3 2112.6,472.8 2114.2,475.0 2115.8,471.3 2117.3,473.3 2118.9,465.7 2120.5,471.9 2122.1,466.4 2123.7,474.7 2125.3,467.7 2126.9,466.9 2128.4,466.5 2130.0,465.7 2131.6,471.7 2133.2,464.7 2134.8,473.2 2136.4,470.8 2138.0,466.0 2139.6,470.3 2141.1,466.4 2142.7,471.4 2144.3,475.3 2145.9,476.2 2147.5,477.7 2149.1,481.4 2150.7,477.3 2152.3,469.8 2153.8,473.3 2155.4,469.1 2157.0,462.9 2158.6,459.1 2160.2,460.6 2161.8,460.1 2163.4,465.5 2165.0,473.5 2166.5,463.4 2168.1,470.8 2169.7,468.3 2171.3,465.7 2172.9,468.8 2174.5,466.6 2176.1,465.8 2177.6,463.4 2179.2,469.4 2180.8,472.2 2182.4,467.0 2184.0,470.2 2185.6,467.2 2187.2,470.0 2188.8,469.9 2190.3,471.1 2191.9,466.2 2193.5,460.4 2195.1,468.8 2196.7,455.8 2198.3,463.1 2199.9,466.6 2201.5,461.7 2203.0,457.7 2204.6,410.2 2206.2,377.7 2207.8,431.7 2209.4,425.9 2211.0,391.0 2212.6,209.3 2214.2,336.2 2215.7,367.8 2217.3,424.3 2218.9,438.1 2220.5,465.7 2222.1,393.2 2223.7,450.6 2225.3,360.3 2226.9,347.2 2228.4,348.1 2230.0,381.1 2231.6,367.0 2233.2,428.2 2234.8,447.8 2236.4,445.6 2238.0,462.0 2239.5,461.0 2241.1,469.0 2242.7,460.7 2244.3,463.1 2245.9,463.4 2247.5,462.8 2249.1,464.8 2250.7,466.3 2252.2,467.3 2253.8,459.7 2255.4,462.7 2257.0,455.6 2258.6,453.0 2260.2,449.5 2261.8,451.3 2263.4,440.5 2264.9,444.0 2266.5,431.2 2268.1,415.0 2269.7,414.9 2271.3,427.0 2272.9,441.5 2274.5,443.1 2276.1,435.4 2277.6,443.7 2279.2,438.4 2280.8,454.1 2282.4,449.5 2284.0,455.2 2285.6,447.9 2287.2,454.5 2288.7,444.8 2290.3,448.7 2291.9,448.0 2293.5,450.9 2295.1,423.7 2296.7,448.3 2298.3,345.7 2299.9,418.3 2301.4,448.9 2303.0,430.9 2304.6,446.2 2306.2,289.9 2307.8,425.4 2309.4,424.1 2311.0,426.6 2312.6,394.8 2314.1,404.1 2315.7,443.5 2317.3,287.0 2318.9,402.3 2320.5,434.7 2322.1,374.6 2323.7,343.0 2325.3,357.8 2326.8,391.5 2328.4,358.4 2330.0,410.4 2331.6,398.2 2333.2,408.1 2334.8,422.2 2336.4,434.2 2338.0,441.5 2339.5,447.5 2341.1,451.9 2342.7,451.6" fill="none" stroke="none" marker-start="url(#ma)" marker-mid="url(#ma)" marker-end="url(#ma)"/><path d="M60.0,316.7 61.7,370.0 63.3,369.2 65.0,368.3 67.3,294.0 69.0,300.0 70.7,366.7 72.8,369.1 75.0,367.7 76.7,363.5 78.3,363.3 80.5,312.7 82.7,275.0 84.3,320.0 87.3,260.0 89.3,306.7 91.7,370.0 93.3,336.7 95.0,310.0 97.7,370.0 99.7,339.7 101.7,318.3 104.0,353.3 106.7,360.0 108.3,356.9 110.0,353.3 112.2,354.3 114.3,346.7 116.7,360.0 118.3,355.9 120.0,353.3 121.7,354.1 123.3,356.7 125.0,354.1 126.7,350.0 128.3,355.5 130.0,360.0 131.7,356.8 133.3,353.3 135.0,353.7 136.7,356.7 138.3,353.8 140.0,352.1 141.7,348.3 143.3,349.2 145.0,353.3 147.2,350.8 149.3,350.0 151.3,347.0 153.3,350.0 155.0,342.1 156.7,338.3 158.3,339.9 160.0,346.7 161.7,345.7 163.3,342.9 165.0,345.0 166.7,345.2 168.3,344.3 170.0,343.3 172.3,353.3 175.0,330.0 176.7,322.6 178.3,316.7 181.0,326.7 182.7,313.3 185.7,296.7 187.7,326.7 190.0,353.3 191.7,343.6 193.3,353.2 195.0,356.7 196.7,356.0 198.3,356.1 200.0,354.0 201.7,355.0 203.3,355.0 205.0,355.0 206.7,355.5 208.3,356.7 210.0,356.8 211.7,354.3 213.3,354.1 215.0,353.3 216.7,354.5 218.3,353.6 220.0,354.5 221.7,355.0 223.3,355.1 225.0,355.1 226.7,353.8 228.3,355.0 230.0,353.8 231.7,354.1 233.3,349.1 235.0,350.0 236.7,350.1 238.3,348.0 240.0,346.7 241.7,344.6 243.3,347.4 245.0,343.3 247.2,341.0 249.3,336.7 251.2,334.9 253.1,336.8 255.0,336.7 256.7,336.7 258.3,333.9 260.0,333.3 261.7,332.7 263.3,326.4 265.0,323.3 266.7,318.2 268.3,313.6 270.0,300.0 271.7,288.9 273.3,283.3 275.0,283.2 276.7,281.7 278.3,278.1 280.0,277.3 281.7,282.5 283.3,286.7 285.0,290.0 287.3,279.3 290.0,316.7 292.3,333.3 294.0,315.7 295.7,308.3 297.5,321.7 299.3,340.0 301.7,326.7 303.3,317.8 305.0,310.0 306.7,327.7 308.3,340.0 310.5,328.3 312.7,310.0 314.3,324.0 316.0,346.7 318.3,328.2 320.7,315.0 322.3,337.1 324.0,353.3 326.2,326.0 328.3,316.7 331.0,340.0 332.7,312.9 334.3,290.0 336.0,321.2 337.7,353.3 339.7,361.2 341.7,355.0 343.7,344.7 345.7,326.7 347.8,298.2 350.0,273.3 352.7,280.0 354.7,293.6 356.7,310.0 358.3,310.4 360.0,313.3 361.7,310.9 363.3,291.7 365.0,312.3 366.7,336.7 368.3,340.3 370.0,346.7 371.7,351.6 373.3,353.3 375.0,349.5 376.7,346.7 378.3,348.8 380.0,351.7 381.7,346.9 383.3,345.0 385.0,349.1 386.7,353.3 388.3,348.7 390.0,350.2 391.7,343.3 393.3,342.0 395.0,336.7 396.7,325.7 398.3,315.0 400.0,333.2 401.7,346.7 403.3,342.1 405.0,340.0 407.7,300.0 410.0,340.0 411.7,343.7 413.3,340.0 415.0,340.0 416.7,341.4 418.3,334.6 420.0,338.3 421.7,342.1 423.3,331.4 425.0,343.3 426.7,324.3 428.3,330.0 430.7,263.3 433.3,353.3 435.0,351.5 436.7,347.8 438.3,353.3 440.0,354.3 441.7,367.0 443.3,352.8 445.0,352.9 446.7,353.5 448.3,353.7 450.0,353.2 451.7,353.2 453.3,353.8 455.0,353.3 456.7,353.5 458.3,352.3 460.0,352.8 461.7,352.7 463.3,351.7 465.0,352.5 466.7,351.5 468.3,352.7 470.0,352.0 471.7,351.7 473.3,351.6 475.0,350.9 476.7,351.1 478.3,349.4 480.0,349.9 481.7,351.0 483.3,348.8 485.0,350.9 486.7,348.9 488.3,350.0 490.0,350.4 491.7,349.1 493.3,350.1 495.0,349.4 496.7,347.9 498.3,350.0 500.0,350.0 501.7,348.6 503.3,348.3 505.0,348.3 506.7,347.9 508.3,347.0 510.0,348.8 511.7,346.6 513.3,346.9 515.0,346.7 516.7,343.6 518.3,342.3 520.0,339.5 521.7,340.0 523.3,341.3 525.0,334.4 526.7,336.0 528.3,330.0 530.0,324.5 531.7,316.4 533.3,313.3 535.0,308.3 536.7,356.7 538.3,355.4 540.0,354.5 541.7,356.5 543.3,355.1 545.0,355.3 546.7,351.3 548.3,355.6 550.0,357.3 551.7,355.7 553.3,355.3 555.0,356.0 556.6,356.2 558.2,357.0 559.8,355.0 561.3,355.9 562.9,355.6 564.5,354.8 566.1,356.5 567.7,356.0 569.3,356.1 570.9,355.5 572.5,356.3 574.0,355.6 575.6,355.9 577.2,355.2 578.8,355.1 580.4,356.9 582.0,355.6 583.6,356.2 585.2,356.0 586.7,355.7 588.3,356.0 589.9,355.6 591.5,356.4 593.1,355.8 594.7,355.9 596.3,356.0 597.9,356.8 599.4,356.5 601.0,356.3 602.6,355.6 604.2,355.0 605.8,356.7 607.4,356.7 609.0,355.9 610.6,356.4 612.1,356.5 613.7,356.6 615.3,356.6 616.9,355.7 618.5,357.1 620.1,355.1 621.7,356.0 623.3,356.6 625.0,356.3 626.7,356.6 628.3,357.3 630.0,357.0 631.7,355.2 633.3,354.4 635.0,356.8 636.7,355.0 638.3,356.0 640.0,356.8 641.7,356.0 643.3,352.3 645.0,351.7 646.7,351.8 648.3,356.0 649.9,356.3 651.5,356.1 653.1,355.9 654.7,356.2 656.3,355.3 657.9,355.1 659.5,356.1 661.1,355.6 662.7,355.1 664.3,356.6 665.9,356.3 667.5,356.6 669.1,355.7 670.7,355.9 672.2,355.7 673.8,355.8 675.4,357.8 677.0,351.4 678.6,358.9 680.2,358.9 681.8,371.0 683.4,346.7 685.0,356.7 687.3,260.0 690.0,256.7 691.7,259.6 693.3,250.0 695.0,252.7 696.7,256.7 699.0,296.7 701.7,320.0 704.3,283.3 706.7,340.0 708.3,321.6 710.0,303.3 711.7,320.6 713.3,353.3 716.0,276.7 718.3,346.7 720.0,316.6 721.7,291.7 724.3,356.7 726.3,352.9 728.3,340.0 730.2,315.1 732.1,291.6 734.0,266.7 736.7,353.3 738.8,353.0 741.0,356.7 743.0,362.9 745.0,353.3 747.7,255.0 749.3,304.0 751.0,353.3 753.0,341.3 755.0,360.0 757.3,336.7 760.0,360.0 761.7,355.9 763.3,347.5 765.0,361.7 766.7,339.4 768.3,363.3 770.0,309.6 771.7,263.3 774.3,366.7 776.3,377.8 778.3,370.0 780.0,370.4 781.7,370.0 784.3,281.7 787.0,370.0 789.3,302.2 791.7,253.3 794.3,246.7 797.0,340.0 798.7,296.4 800.3,268.3 803.0,276.7 805.0,370.0 806.7,379.7 808.3,373.3 810.0,374.9 811.7,374.5 813.3,374.2 815.0,375.0 816.7,375.5 818.3,376.6 820.0,376.7 821.7,376.7 823.3,377.1 825.0,376.1 826.7,377.8 828.3,377.0 830.0,378.6 831.7,376.9 833.3,378.0 835.0,378.3 836.7,378.5 838.3,377.7 840.0,380.3 841.7,380.3 843.3,379.0 845.0,380.3 846.7,380.2 848.3,380.0 850.0,375.5 851.7,381.3 853.3,381.1 855.0,381.7 856.7,382.9 858.3,383.3 860.0,367.8 861.7,363.3 864.3,383.3 866.7,310.0 869.0,383.3 870.7,375.2 872.3,370.0 874.3,386.7 876.7,353.3 879.0,373.3 881.7,370.0 883.7,329.7 885.7,291.7 887.7,353.3 890.0,350.0 892.3,356.7 895.0,370.0 897.7,373.3 900.0,363.3 902.3,380.0 905.0,386.7 907.7,366.7 910.0,383.3 912.3,373.3 915.0,386.7 916.7,376.1 918.3,360.0 921.0,373.3 923.3,380.0 925.0,379.1 926.7,376.7 928.3,371.7 930.0,366.7 931.7,373.1 933.3,370.0 935.0,369.9 936.7,373.3 938.3,363.3 941.0,353.3 943.3,340.0 945.0,340.6 946.7,343.3 948.3,340.1 950.0,346.7 951.7,358.6 953.3,353.3 956.0,356.7 958.3,350.0 961.0,340.0 963.3,276.7 965.7,340.0 968.3,353.3 970.0,356.8 971.7,350.0 973.3,353.2 975.0,346.7 976.7,349.3 978.3,350.0 980.0,348.5 981.7,346.7 983.3,349.4 985.0,351.7 986.7,349.7 988.3,348.3 990.0,349.8 991.7,351.7 993.3,349.2 995.0,346.7 996.7,349.8 998.3,350.0 1000.0,351.4 1001.7,351.7 1003.3,349.0 1005.0,346.7 1006.7,346.5 1008.3,350.0 1010.7,350.0 1012.3,310.0 1015.0,323.3 1017.7,313.3 1020.0,293.3 1021.7,288.3 1023.3,290.0 1025.0,299.2 1026.7,293.3 1028.3,293.2 1030.0,288.3 1032.7,273.3 1034.3,306.7 1036.7,340.0 1039.3,306.7 1041.7,346.7 1043.3,332.1 1045.0,316.7 1047.7,356.7 1050.7,296.7 1052.7,353.3 1055.0,316.7 1057.3,373.3 1059.3,306.7 1061.7,300.0 1064.0,353.3 1066.7,326.7 1069.0,380.0 1071.7,390.0 1073.3,346.7 1075.7,270.0 1077.7,356.7 1080.0,373.3 1082.7,290.0 1084.0,235.0 1086.0,340.0 1088.3,370.0 1091.0,363.3 1093.3,373.3 1095.7,386.7 1098.3,386.7 1100.0,384.2 1101.7,383.3 1103.3,384.1 1105.0,388.3 1106.7,388.2 1108.3,388.3 1110.0,390.5 1111.7,388.3 1114.3,386.7 1116.7,396.7 1118.3,379.7 1120.0,366.7 1122.7,370.0 1125.0,350.0 1127.7,366.7 1130.0,323.3 1132.3,380.0 1135.0,366.7 1137.7,326.7 1140.0,373.3 1142.3,366.7 1145.0,353.3 1147.7,373.3 1150.0,356.7 1152.7,370.0 1155.0,340.0 1157.7,373.3 1160.0,356.7 1161.7,367.4 1163.3,380.0 1165.0,372.4 1166.7,366.7 1168.8,346.3 1171.0,325.0 1173.3,370.0 1175.0,350.3 1176.7,343.3 1178.3,357.3 1180.0,373.3 1181.7,346.1 1183.3,326.7 1185.0,352.3 1186.7,370.0 1188.3,373.2 1190.0,383.3 1191.7,389.3 1193.3,390.0 1195.0,346.7 1196.7,345.0 1198.3,328.3 1201.0,356.7 1202.7,333.3 1205.0,320.0 1207.7,380.0 1210.3,353.3 1213.3,380.0 1215.0,368.7 1216.7,360.0 1218.3,353.4 1220.0,350.0 1221.7,349.8 1223.3,348.3 1225.0,350.8 1226.7,353.3 1228.3,351.7 1230.0,363.3 1231.7,355.0 1233.3,340.0 1235.7,353.3 1238.3,263.3 1241.0,356.7 1243.3,373.3 1245.0,386.4 1246.7,370.0 1248.3,366.4 1250.0,366.7 1251.7,368.0 1253.3,370.0 1255.0,366.9 1256.7,368.3 1258.3,366.7 1260.0,360.7 1261.7,360.0 1263.3,354.1 1265.0,359.8 1266.7,353.3 1268.3,347.2 1270.0,346.7 1271.7,340.7 1273.3,326.7 1275.0,338.4 1276.7,340.0 1278.8,325.8 1281.0,310.0 1283.3,333.3 1285.0,328.5 1286.7,320.0 1288.3,320.0 1290.0,306.7 1291.7,301.4 1293.3,298.3 1295.7,295.0 1298.3,313.3 1300.0,315.8 1301.7,326.7 1303.3,373.3 1305.0,376.7 1306.7,400.0 1308.8,370.3 1311.0,340.0 1313.3,406.7 1315.0,412.0 1316.7,403.3 1318.3,409.5 1320.0,406.7 1321.7,402.2 1323.3,406.7 1325.0,402.5 1326.7,403.3 1328.8,385.2 1331.0,370.0 1333.3,400.0 1335.0,397.5 1336.7,393.3 1338.3,396.1 1340.0,400.0 1341.7,397.2 1343.3,393.3 1345.0,392.3 1346.7,390.0 1348.3,380.7 1350.0,373.3 1352.3,390.0 1355.0,373.3 1356.7,364.0 1358.3,355.0 1361.0,400.0 1363.3,393.3 1365.0,400.8 1366.7,406.7 1368.8,399.7 1371.0,393.3 1373.0,384.7 1375.0,373.3 1376.7,391.7 1378.3,400.0 1380.0,398.3 1381.7,393.3 1383.3,395.2 1385.0,396.7 1387.7,393.3 1389.7,395.4 1391.7,406.7 1393.3,391.0 1395.0,373.3 1396.7,384.7 1398.3,406.7 1400.0,397.3 1401.7,400.0 1404.3,373.3 1406.7,393.3 1408.3,374.4 1410.0,346.7 1412.3,403.3 1415.0,393.3 1417.0,366.8 1419.0,333.3 1421.7,403.3 1423.3,397.6 1425.0,393.3 1426.7,381.6 1428.3,386.7 1430.0,388.2 1431.7,393.3 1433.3,376.2 1435.0,363.3 1436.7,383.5 1438.3,400.0 1440.0,403.2 1441.7,393.3 1443.3,392.9 1445.0,388.9 1446.7,390.0 1448.3,387.3 1450.0,393.3 1451.7,394.8 1453.3,396.7 1455.0,396.0 1456.7,396.7 1459.0,350.0 1461.7,390.0 1464.3,360.0 1466.7,393.3 1468.3,376.0 1470.0,366.7 1471.7,380.3 1473.3,393.3 1475.0,384.1 1476.7,386.7 1479.0,383.3 1481.7,370.0 1484.0,326.7 1486.7,320.0 1488.3,324.9 1490.0,316.7 1491.7,320.2 1493.3,313.3 1495.0,319.7 1496.7,316.7 1498.3,300.0 1500.0,353.3 1501.7,334.6 1503.3,320.0 1505.0,342.2 1506.7,360.0 1509.0,333.3 1511.7,346.7 1513.3,337.6 1515.0,330.0 1517.7,360.0 1520.0,346.7 1521.7,310.3 1523.3,280.0 1525.7,380.0 1527.7,353.3 1530.0,360.0 1532.7,263.3 1535.0,326.7 1537.7,330.0 1540.0,286.7 1541.7,317.5 1543.3,353.3 1545.0,330.9 1546.7,330.0 1548.3,339.7 1550.0,373.3 1551.7,350.0 1553.3,273.3 1555.7,400.0 1558.3,380.0 1561.0,300.0 1562.7,344.8 1564.3,373.3 1566.0,358.0 1567.7,346.7 1570.0,340.0 1572.7,240.0 1575.0,373.3 1577.7,386.7 1580.0,390.0 1582.7,400.0 1585.0,373.3 1587.7,370.0 1589.7,369.3 1591.7,366.7 1593.3,366.2 1595.0,356.7 1597.7,336.7 1599.3,345.6 1601.0,366.7 1603.3,360.0 1605.7,326.7 1607.3,347.3 1609.0,373.3 1611.7,360.0 1613.3,365.9 1615.0,370.0 1616.7,367.0 1618.3,360.0 1620.0,375.5 1621.7,393.3 1623.3,399.9 1625.0,400.0 1626.7,380.7 1628.3,360.0 1630.0,362.7 1631.7,373.3 1633.3,370.3 1635.0,373.3 1637.7,356.7 1640.0,400.0 1641.7,402.7 1643.3,400.0 1645.0,386.5 1646.7,370.0 1648.3,357.1 1650.0,356.7 1651.7,366.1 1653.3,366.7 1655.0,370.0 1657.3,373.3 1660.0,383.3 1662.7,370.0 1665.0,393.3 1667.7,373.3 1670.0,376.7 1672.7,386.7 1675.0,373.3 1677.3,393.3 1680.0,403.3 1682.7,366.7 1685.0,360.0 1687.7,355.0 1690.0,386.7 1692.7,380.0 1695.0,393.3 1696.7,400.7 1698.3,403.3 1700.0,408.2 1701.7,406.7 1703.3,406.6 1705.0,408.3 1706.7,405.4 1708.3,403.3 1710.0,399.9 1711.7,400.0 1714.0,393.3 1716.7,396.7 1718.3,407.4 1720.0,403.3 1722.7,383.3 1725.0,366.7 1727.7,383.3 1730.0,403.3 1732.7,380.0 1735.0,370.0 1736.7,360.0 1739.3,400.0 1741.7,373.3 1744.0,403.3 1746.7,376.7 1749.3,396.7 1751.7,373.3 1754.0,370.0 1756.7,373.3 1759.3,360.0 1761.7,356.7 1763.3,354.7 1765.0,353.3 1766.7,358.3 1768.3,353.3 1770.0,354.5 1771.7,360.0 1774.0,353.3 1776.7,333.3 1779.0,316.7 1781.0,336.7 1783.3,346.7 1785.0,348.8 1786.7,350.0 1788.3,337.5 1790.0,340.0 1792.7,356.7 1795.0,346.7 1797.3,380.0 1799.3,363.3 1802.0,386.7 1804.0,366.7 1806.7,373.3 1809.3,386.7 1811.7,370.0 1814.0,400.0 1816.7,400.0 1819.3,373.3 1821.0,396.7 1823.3,400.0 1825.0,387.3 1826.7,376.7 1829.3,396.7 1831.7,406.7 1833.3,409.6 1835.0,403.3 1837.3,400.0 1839.3,376.7 1841.3,340.0 1843.3,380.0 1845.0,370.2 1846.7,376.7 1849.0,326.7 1850.7,306.7 1852.7,353.3 1855.0,366.7 1857.3,363.3 1860.0,363.3 1862.3,383.3 1865.0,393.3 1866.7,395.2 1868.3,391.7 1870.0,391.7 1871.7,390.0 1873.3,389.5 1875.0,391.7 1876.7,392.0 1878.3,393.3 1880.0,392.0 1881.7,391.7 1883.3,392.5 1885.0,393.3 1886.7,391.1 1888.3,390.0 1890.0,387.9 1891.7,388.3 1893.3,389.5 1895.0,391.7 1896.7,387.2 1898.3,386.7 1900.0,380.8 1901.7,380.0 1903.3,379.9 1905.0,380.0 1906.7,378.8 1908.3,373.3 1910.0,368.3 1911.7,370.0 1913.3,368.3 1915.0,366.7 1916.7,363.5 1918.3,363.3 1920.0,360.3 1921.7,361.7 1923.3,361.2 1925.0,356.7 1926.7,353.8 1928.3,353.3 1930.0,353.1 1931.7,346.7 1933.3,342.6 1935.0,341.7 1936.7,341.5 1938.3,340.0 1940.0,344.7 1941.7,350.0 1943.3,348.2 1945.0,348.3 1946.7,349.1 1948.3,348.3 1950.0,347.3 1951.7,346.7 1953.3,349.2 1955.0,350.0 1956.7,344.9 1958.3,340.0 1960.0,335.2 1961.7,336.7 1963.3,350.0 1965.0,343.0 1966.7,336.7 1968.3,325.2 1970.0,313.3 1972.7,330.0 1974.3,333.5 1976.0,330.0 1977.7,312.4 1979.3,300.0 1981.3,299.9 1983.3,300.0 1985.0,296.0 1986.7,303.3 1988.3,325.9 1990.0,343.3 1991.7,339.1 1993.3,343.3 1995.0,333.3 1997.7,310.0 2000.0,353.3 2002.3,346.7 2005.0,326.7 2007.3,340.0 2010.0,370.0 2011.7,365.3 2013.3,373.3 2015.0,371.5 2016.7,370.0 2019.0,340.0 2021.7,326.7 2024.0,373.3 2026.7,373.3 2028.3,333.3 2030.7,380.0 2033.3,386.7 2035.0,374.9 2036.7,350.0 2039.3,326.7 2041.7,346.7 2044.3,300.0 2047.3,300.0 2050.0,370.0 2052.7,380.0 2055.0,396.7 2057.3,360.0 2060.0,290.0 2062.3,293.3 2065.0,333.3 2067.3,330.0 2070.0,306.7 2072.7,296.7 2075.0,306.7 2077.3,326.7 2080.0,366.7 2082.3,346.7 2085.0,345.0 2087.3,356.7 2090.0,353.3 2092.7,361.7 2095.7,346.7 2097.3,373.3 2100.0,400.0 2101.7,392.9 2103.3,398.3 2105.0,394.7 2106.7,400.0 2108.3,399.8 2110.0,403.3 2111.7,401.4 2113.3,401.7 2115.0,401.5 2116.7,399.8 2118.3,400.0 2120.0,399.9 2121.7,401.6 2123.3,401.7 2125.0,400.5 2126.7,400.9 2128.3,400.0 2130.0,399.8 2131.7,400.1 2133.3,401.7 2135.0,399.6 2136.7,402.2 2138.3,400.0 2140.0,400.3 2141.7,401.3 2143.3,401.7 2145.0,402.2 2146.7,402.9 2148.3,403.3 2150.0,402.8 2151.7,404.3 2153.3,401.7 2155.0,400.0 2156.7,398.8 2158.3,400.0 2160.0,397.2 2161.7,396.7 2163.3,397.8 2165.0,401.7 2166.7,401.9 2168.3,401.4 2170.0,400.0 2171.7,399.0 2173.3,398.6 2175.0,400.0 2176.7,399.1 2178.3,400.1 2180.0,398.3 2181.7,395.4 2183.3,398.0 2185.0,396.1 2186.7,396.7 2188.3,397.5 2190.0,395.8 2191.7,396.4 2193.3,396.7 2195.0,390.5 2196.7,392.7 2198.3,402.3 2200.0,396.7 2201.7,399.2 2203.3,395.0 2206.0,340.0 2208.3,393.3 2211.0,353.3 2212.7,304.8 2214.3,263.3 2216.7,373.3 2219.3,380.0 2221.7,400.0 2224.0,373.3 2226.7,350.0 2229.0,340.0 2230.3,296.7 2232.3,380.0 2235.0,393.3 2236.7,387.7 2238.3,381.0 2240.0,393.3 2241.7,390.8 2243.3,393.3 2245.0,393.3 2246.7,392.7 2248.3,392.1 2250.0,391.7 2251.7,390.7 2253.3,391.6 2255.0,391.6 2256.7,391.7 2258.3,393.3 2260.0,393.8 2261.7,390.2 2263.3,390.0 2265.0,387.7 2266.7,387.7 2268.3,386.7 2270.0,376.7 2272.7,386.7 2274.6,385.8 2276.4,385.7 2278.3,386.7 2280.0,386.6 2281.7,385.3 2283.3,387.1 2285.0,386.7 2286.7,386.3 2288.3,387.4 2290.0,386.1 2291.7,386.7 2293.8,383.6 2296.0,385.0 2298.3,346.7 2300.0,373.3 2302.7,360.0 2305.0,373.3 2306.7,373.8 2308.3,380.0 2310.0,371.0 2311.7,363.3 2313.3,363.4 2315.0,366.7 2317.3,373.3 2320.0,370.0 2321.7,357.3 2323.3,343.3 2326.0,356.7 2328.3,360.0 2330.0,366.7 2331.7,373.3 2333.3,370.6 2335.0,376.7 2336.7,379.3 2338.3,381.7 2340.0,380.4 2341.7,385.0 2343.3,384.1 2345.0,385.0" stroke="#4682b4" stroke-width="1.3" fill="none" stroke-linejoin="round"/><path d="M60.0,323.3 61.7,378.9 63.3,378.6 65.0,378.0 67.3,299.9 69.0,306.5 70.7,376.1 72.8,378.7 75.0,377.4 76.7,373.2 78.3,373.0 80.5,319.2 82.7,281.7 84.3,327.7 87.3,267.3 89.3,314.5 91.7,382.1 93.3,344.5 95.0,318.9 97.7,381.3 99.7,348.0 101.7,325.9 104.0,364.1 106.7,371.6 108.3,365.9 110.0,362.4 112.2,365.9 114.3,357.3 116.7,372.4 118.3,367.3 120.0,364.7 121.7,365.6 123.3,368.2 125.0,365.9 126.7,359.2 128.3,367.2 130.0,371.4 131.7,368.9 133.3,364.3 135.0,364.3 136.7,368.4 138.3,364.4 140.0,362.4 141.7,358.2 143.3,360.2 145.0,365.2 147.2,362.6 149.3,361.4 151.3,358.7 153.3,361.5 155.0,352.5 156.7,348.6 158.3,351.0 160.0,358.0 161.7,356.5 163.3,353.3 165.0,355.9 166.7,355.6 168.3,355.7 170.0,353.7 172.3,365.6 175.0,338.2 176.7,330.6 178.3,324.7 181.0,334.6 182.7,322.2 185.7,304.4 187.7,335.1 190.0,364.6 191.7,352.5 193.3,363.4 195.0,367.6 196.7,366.5 198.3,366.4 200.0,363.7 201.7,363.9 203.3,364.8 205.0,363.5 206.7,365.6 208.3,366.2 210.0,366.3 211.7,363.8 213.3,363.9 215.0,361.9 216.7,363.0 218.3,362.4 220.0,362.7 221.7,364.1 223.3,365.7 225.0,364.0 226.7,363.6 228.3,363.7 230.0,363.4 231.7,363.3 233.3,357.8 235.0,359.1 236.7,359.9 238.3,356.6 240.0,355.2 241.7,352.2 243.3,356.7 245.0,351.6 247.2,349.6 249.3,344.5 251.2,343.5 253.1,343.4 255.0,344.1 256.7,345.2 258.3,341.6 260.0,341.0 261.7,340.5 263.3,332.9 265.0,330.4 266.7,326.1 268.3,320.5 270.0,304.6 271.7,293.6 273.3,288.2 275.0,288.9 276.7,286.2 278.3,282.6 280.0,282.8 281.7,287.9 283.3,291.3 285.0,294.1 287.3,283.1 290.0,321.4 292.3,338.4 294.0,321.1 295.7,312.4 297.5,327.2 299.3,347.8 301.7,333.0 303.3,322.1 305.0,315.0 306.7,333.8 308.3,346.0 310.5,333.3 312.7,314.6 314.3,327.8 316.0,354.3 318.3,332.1 320.7,319.3 322.3,343.1 324.0,360.9 326.2,331.5 328.3,322.0 331.0,346.0 332.7,318.9 334.3,294.1 336.0,326.6 337.7,360.5 339.7,369.8 341.7,363.1 343.7,351.2 345.7,332.0 347.8,304.4 350.0,279.4 352.7,285.4 354.7,300.6 356.7,317.2 358.3,315.4 360.0,319.4 361.7,318.2 363.3,298.0 365.0,318.3 366.7,343.8 368.3,347.6 370.0,354.8 371.7,360.0 373.3,362.8 375.0,357.8 376.7,354.7 378.3,356.6 380.0,360.5 381.7,354.7 383.3,353.0 385.0,358.3 386.7,362.6 388.3,357.5 390.0,359.0 391.7,351.3 393.3,349.7 395.0,343.7 396.7,332.3 398.3,320.2 400.0,341.2 401.7,355.7 403.3,350.2 405.0,348.0 407.7,305.4 410.0,348.4 411.7,351.9 413.3,349.0 415.0,348.1 416.7,348.8 418.3,342.2 420.0,345.6 421.7,349.9 423.3,338.7 425.0,351.7 426.7,329.4 428.3,336.0 430.7,270.3 433.3,361.1 435.0,358.8 436.7,355.5 438.3,362.4 440.0,362.8 441.7,376.1 443.3,360.5 445.0,360.8 446.7,360.7 448.3,360.7 450.0,360.8 451.7,360.2 453.3,362.9 455.0,362.4 456.7,364.0 458.3,360.7 460.0,361.7 461.7,361.6 463.3,360.8 465.0,362.2 466.7,360.1 468.3,361.4 470.0,360.1 471.7,360.2 473.3,361.0 475.0,360.0 476.7,359.5 478.3,358.1 480.0,359.0 481.7,360.4 483.3,357.4 485.0,360.0 486.7,356.9 488.3,358.5 490.0,360.6 491.7,356.9 493.3,359.2 495.0,358.8 496.7,356.8 498.3,358.8 500.0,359.3 501.7,357.8 503.3,357.4 505.0,356.4 506.7,357.0 508.3,355.6 510.0,357.8 511.7,355.9 513.3,356.5 515.0,356.4 516.7,352.2 518.3,351.6 520.0,348.7 521.7,349.4 523.3,351.0 525.0,342.5 526.7,343.1 528.3,337.1 530.0,329.9 531.7,322.7 533.3,319.2 535.0,314.4 536.7,365.2 538.3,364.3 540.0,363.7 541.7,366.5 543.3,364.9 545.0,364.5 546.7,360.0 548.3,364.4 550.0,367.0 551.7,364.7 553.3,364.9 555.0,366.3 556.6,365.4 558.2,365.4 559.8,363.5 561.3,364.2 562.9,364.0 564.5,364.6 566.1,365.8 567.7,364.2 569.3,365.6 570.9,365.3 572.5,365.2 574.0,364.2 575.6,364.7 577.2,364.3 578.8,364.4 580.4,366.7 582.0,365.3 583.6,365.9 585.2,365.7 586.7,365.0 588.3,364.0 589.9,364.4 591.5,365.5 593.1,364.4 594.7,365.3 596.3,364.6 597.9,365.1 599.4,366.2 601.0,365.4 602.6,364.4 604.2,364.2 605.8,366.1 607.4,365.6 609.0,363.0 610.6,364.6 612.1,364.9 613.7,364.6 615.3,365.4 616.9,364.9 618.5,365.4 620.1,362.8 621.7,365.7 623.3,364.8 625.0,364.1 626.7,365.2 628.3,366.1 630.0,365.1 631.7,363.9 633.3,362.3 635.0,364.6 636.7,363.3 638.3,364.7 640.0,364.8 641.7,364.5 643.3,360.1 645.0,361.2 646.7,359.2 648.3,365.0 649.9,364.5 651.5,364.3 653.1,364.5 654.7,364.9 656.3,364.1 657.9,363.3 659.5,363.8 661.1,363.3 662.7,363.4 664.3,365.1 665.9,365.1 667.5,364.8 669.1,364.1 670.7,364.6 672.2,362.4 673.8,361.5 675.4,363.8 677.0,356.7 678.6,366.7 680.2,365.1 681.8,379.6 683.4,352.7 685.0,364.2 687.3,265.7 690.0,261.7 691.7,264.6 693.3,255.1 695.0,257.9 696.7,261.5 699.0,301.8 701.7,326.1 704.3,287.5 706.7,346.9 708.3,326.2 710.0,308.6 711.7,326.4 713.3,361.0 716.0,282.4 718.3,352.9 720.0,322.6 721.7,296.6 724.3,365.2 726.3,360.8 728.3,345.0 730.2,319.9 732.1,297.1 734.0,273.0 736.7,360.9 738.8,360.5 741.0,363.5 743.0,372.0 745.0,361.8 747.7,260.5 749.3,309.3 751.0,359.8 753.0,348.1 755.0,369.8 757.3,342.9 760.0,368.9 761.7,364.0 763.3,353.6 765.0,369.4 766.7,344.2 768.3,370.3 770.0,315.3 771.7,269.5 774.3,374.4 776.3,386.7 778.3,377.4 780.0,377.5 781.7,378.0 784.3,286.9 787.0,377.2 789.3,307.1 791.7,258.8 794.3,251.3 797.0,345.0 798.7,301.2 800.3,274.2 803.0,282.7 805.0,379.1 806.7,387.8 808.3,381.2 810.0,383.9 811.7,382.9 813.3,382.5 815.0,384.6 816.7,383.9 818.3,384.8 820.0,384.9 821.7,385.8 823.3,386.2 825.0,384.2 826.7,386.2 828.3,386.3 830.0,387.9 831.7,385.4 833.3,387.4 835.0,387.7 836.7,386.5 838.3,386.5 840.0,389.9 841.7,389.2 843.3,386.7 845.0,389.3 846.7,389.7 848.3,389.9 850.0,382.7 851.7,392.0 853.3,389.6 855.0,391.5 856.7,393.1 858.3,393.4 860.0,375.7 861.7,369.5 864.3,392.9 866.7,315.8 869.0,391.0 870.7,385.2 872.3,378.2 874.3,397.4 876.7,359.0 879.0,382.4 881.7,378.8 883.7,336.9 885.7,298.0 887.7,358.9 890.0,356.2 892.3,361.7 895.0,376.9 897.7,381.7 900.0,369.9 902.3,389.0 905.0,396.5 907.7,375.4 910.0,393.7 912.3,381.7 915.0,397.4 916.7,384.4 918.3,366.7 921.0,382.4 923.3,388.5 925.0,388.1 926.7,384.8 928.3,380.9 930.0,376.2 931.7,382.0 933.3,379.1 935.0,378.5 936.7,382.4 938.3,371.6 941.0,362.1 943.3,348.1 945.0,347.6 946.7,349.6 948.3,347.2 950.0,354.8 951.7,369.5 953.3,363.2 956.0,367.0 958.3,359.7 961.0,347.8 963.3,283.2 965.7,347.2 968.3,363.1 970.0,366.4 971.7,359.6 973.3,362.7 975.0,356.0 976.7,359.3 978.3,358.9 980.0,357.5 981.7,355.9 983.3,360.0 985.0,363.3 986.7,360.7 988.3,358.4 990.0,361.1 991.7,361.5 993.3,360.6 995.0,356.4 996.7,358.7 998.3,362.2 1000.0,363.1 1001.7,361.9 1003.3,359.6 1005.0,356.8 1006.7,356.8 1008.3,359.8 1010.7,360.3 1012.3,317.4 1015.0,331.1 1017.7,321.2 1020.0,300.6 1021.7,296.9 1023.3,296.8 1025.0,306.6 1026.7,299.4 1028.3,299.7 1030.0,296.4 1032.7,280.1 1034.3,314.3 1036.7,349.1 1039.3,313.4 1041.7,356.5 1043.3,339.2 1045.0,323.8 1047.7,366.4 1050.7,304.5 1052.7,361.8 1055.0,323.6 1057.3,382.8 1059.3,314.2 1061.7,308.2 1064.0,362.5 1066.7,334.8 1069.0,390.4 1071.7,401.7 1073.3,353.8 1075.7,277.2 1077.7,363.8 1080.0,382.7 1082.7,297.5 1084.0,243.2 1086.0,347.6 1088.3,379.6 1091.0,371.4 1093.3,384.3 1095.7,398.9 1098.3,399.7 1100.0,396.0 1101.7,395.4 1103.3,395.2 1105.0,399.8 1106.7,400.9 1108.3,398.7 1110.0,402.7 1111.7,400.5 1114.3,397.9 1116.7,409.6 1118.3,390.4 1120.0,374.4 1122.7,378.9 1125.0,357.6 1127.7,374.4 1130.0,331.2 1132.3,392.6 1135.0,377.5 1137.7,335.2 1140.0,384.2 1142.3,378.7 1145.0,362.9 1147.7,385.6 1150.0,365.8 1152.7,381.4 1155.0,348.8 1157.7,385.6 1160.0,365.1 1161.7,379.0 1163.3,394.9 1165.0,383.3 1166.7,378.4 1168.8,355.1 1171.0,333.5 1173.3,382.5 1175.0,358.2 1176.7,352.1 1178.3,369.1 1180.0,385.0 1181.7,354.5 1183.3,335.4 1185.0,360.7 1186.7,381.2 1188.3,383.4 1190.0,396.3 1191.7,401.9 1193.3,403.9 1195.0,355.4 1196.7,352.2 1198.3,337.2 1201.0,364.9 1202.7,341.9 1205.0,329.8 1207.7,393.0 1210.3,362.1 1213.3,394.7 1215.0,380.7 1216.7,371.6 1218.3,363.2 1220.0,358.5 1221.7,358.8 1223.3,358.1 1225.0,362.5 1226.7,365.7 1228.3,363.8 1230.0,375.6 1231.7,363.8 1233.3,350.3 1235.7,362.5 1238.3,271.8 1241.0,365.6 1243.3,385.8 1245.0,401.0 1246.7,381.4 1248.3,377.0 1250.0,377.7 1251.7,378.2 1253.3,380.8 1255.0,378.5 1256.7,382.1 1258.3,380.8 1260.0,374.3 1261.7,373.2 1263.3,365.9 1265.0,374.2 1266.7,365.7 1268.3,358.2 1270.0,359.3 1271.7,352.2 1273.3,335.6 1275.0,349.4 1276.7,352.3 1278.8,335.6 1281.0,319.5 1283.3,346.7 1285.0,341.1 1286.7,330.3 1288.3,331.1 1290.0,316.9 1291.7,311.2 1293.3,307.3 1295.7,305.1 1298.3,322.3 1300.0,325.5 1301.7,337.2 1303.3,382.6 1305.0,386.1 1306.7,413.5 1308.8,379.7 1311.0,349.5 1313.3,420.8 1315.0,427.5 1316.7,415.4 1318.3,423.5 1320.0,420.0 1321.7,414.8 1323.3,420.1 1325.0,415.2 1326.7,417.3 1328.8,395.3 1331.0,379.7 1333.3,413.9 1335.0,410.3 1336.7,406.5 1338.3,410.6 1340.0,415.0 1341.7,411.1 1343.3,406.9 1345.0,405.2 1346.7,403.2 1348.3,392.6 1350.0,383.0 1352.3,402.7 1355.0,383.6 1356.7,373.2 1358.3,364.6 1361.0,412.9 1363.3,405.2 1365.0,414.1 1366.7,422.6 1368.8,412.8 1371.0,405.3 1373.0,395.2 1375.0,382.7 1376.7,404.1 1378.3,413.5 1380.0,412.6 1381.7,405.7 1383.3,408.6 1385.0,409.6 1387.7,405.9 1389.7,407.2 1391.7,421.0 1393.3,402.8 1395.0,382.6 1396.7,394.2 1398.3,421.6 1400.0,409.9 1401.7,413.0 1404.3,382.5 1406.7,405.3 1408.3,383.9 1410.0,355.2 1412.3,417.1 1415.0,406.1 1417.0,376.2 1419.0,342.4 1421.7,417.3 1423.3,410.4 1425.0,405.9 1426.7,393.0 1428.3,397.5 1430.0,400.8 1431.7,406.4 1433.3,385.7 1435.0,373.0 1436.7,393.6 1438.3,412.6 1440.0,416.6 1441.7,405.6 1443.3,405.1 1445.0,400.3 1446.7,402.0 1448.3,397.6 1450.0,406.1 1451.7,407.7 1453.3,410.4 1455.0,409.8 1456.7,410.0 1459.0,358.3 1461.7,402.3 1464.3,369.1 1466.7,407.1 1468.3,386.9 1470.0,375.2 1471.7,391.7 1473.3,406.7 1475.0,396.9 1476.7,398.3 1479.0,396.4 1481.7,379.8 1484.0,335.2 1486.7,329.2 1488.3,334.5 1490.0,325.9 1491.7,329.8 1493.3,322.4 1495.0,329.4 1496.7,326.4 1498.3,308.9 1500.0,366.9 1501.7,344.4 1503.3,329.0 1505.0,352.6 1506.7,373.6 1509.0,343.3 1511.7,357.5 1513.3,346.9 1515.0,339.1 1517.7,370.7 1520.0,354.3 1521.7,319.2 1523.3,289.3 1525.7,393.3 1527.7,362.8 1530.0,369.1 1532.7,272.6 1535.0,335.2 1537.7,339.4 1540.0,294.5 1541.7,326.8 1543.3,363.7 1545.0,340.2 1546.7,338.3 1548.3,348.2 1550.0,384.1 1551.7,358.4 1553.3,281.8 1555.7,413.5 1558.3,389.8 1561.0,309.6 1562.7,354.7 1564.3,382.3 1566.0,365.8 1567.7,356.2 1570.0,349.5 1572.7,249.3 1575.0,383.4 1577.7,397.6 1580.0,401.9 1582.7,412.7 1585.0,381.8 1587.7,379.4 1589.7,377.7 1591.7,376.8 1593.3,375.0 1595.0,365.1 1597.7,345.9 1599.3,355.8 1601.0,379.4 1603.3,370.7 1605.7,335.7 1607.3,357.5 1609.0,386.2 1611.7,368.3 1613.3,375.3 1615.0,378.8 1616.7,375.1 1618.3,368.5 1620.0,384.6 1621.7,405.9 1623.3,413.3 1625.0,414.1 1626.7,391.5 1628.3,367.8 1630.0,371.6 1631.7,382.7 1633.3,379.2 1635.0,382.8 1637.7,365.0 1640.0,412.4 1641.7,416.6 1643.3,412.3 1645.0,396.1 1646.7,379.3 1648.3,365.3 1650.0,365.2 1651.7,373.9 1653.3,374.5 1655.0,379.0 1657.3,383.3 1660.0,395.3 1662.7,378.3 1665.0,405.5 1667.7,381.3 1670.0,385.2 1672.7,397.8 1675.0,381.9 1677.3,404.1 1680.0,417.7 1682.7,374.8 1685.0,368.8 1687.7,363.7 1690.0,397.4 1692.7,388.6 1695.0,404.8 1696.7,412.2 1698.3,416.4 1700.0,420.9 1701.7,419.3 1703.3,420.5 1705.0,421.6 1706.7,418.0 1708.3,416.9 1710.0,411.7 1711.7,411.1 1714.0,404.3 1716.7,406.9 1718.3,420.7 1720.0,416.1 1722.7,392.0 1725.0,374.4 1727.7,392.3 1730.0,415.1 1732.7,387.7 1735.0,378.2 1736.7,366.6 1739.3,411.3 1741.7,380.9 1744.0,415.0 1746.7,385.0 1749.3,406.7 1751.7,381.3 1754.0,377.4 1756.7,380.4 1759.3,366.6 1761.7,363.3 1763.3,362.2 1765.0,361.4 1766.7,367.5 1768.3,362.5 1770.0,365.5 1771.7,372.0 1774.0,363.3 1776.7,340.2 1779.0,324.3 1781.0,344.7 1783.3,356.4 1785.0,355.8 1786.7,357.6 1788.3,344.8 1790.0,347.3 1792.7,363.7 1795.0,353.6 1797.3,389.6 1799.3,370.1 1802.0,395.8 1804.0,372.9 1806.7,381.3 1809.3,395.0 1811.7,377.0 1814.0,409.7 1816.7,409.6 1819.3,380.8 1821.0,404.6 1823.3,407.7 1825.0,393.9 1826.7,382.6 1829.3,405.9 1831.7,415.7 1833.3,419.4 1835.0,411.2 1837.3,408.3 1839.3,382.9 1841.3,346.9 1843.3,385.4 1845.0,376.3 1846.7,382.9 1849.0,331.7 1850.7,312.3 1852.7,358.8 1855.0,371.0 1857.3,369.2 1860.0,369.1 1862.3,390.2 1865.0,400.6 1866.7,404.3 1868.3,399.6 1870.0,400.1 1871.7,398.4 1873.3,396.6 1875.0,399.8 1876.7,399.5 1878.3,401.1 1880.0,399.7 1881.7,399.3 1883.3,400.7 1885.0,401.1 1886.7,398.4 1888.3,397.1 1890.0,395.2 1891.7,394.8 1893.3,396.3 1895.0,398.8 1896.7,393.8 1898.3,393.4 1900.0,386.7 1901.7,387.4 1903.3,386.9 1905.0,386.4 1906.7,385.2 1908.3,380.6 1910.0,374.5 1911.7,376.2 1913.3,374.6 1915.0,372.8 1916.7,370.1 1918.3,369.5 1920.0,367.7 1921.7,367.4 1923.3,368.0 1925.0,362.2 1926.7,361.0 1928.3,359.2 1930.0,359.3 1931.7,352.8 1933.3,348.7 1935.0,346.6 1936.7,347.1 1938.3,344.9 1940.0,350.8 1941.7,356.6 1943.3,354.5 1945.0,354.5 1946.7,355.4 1948.3,354.4 1950.0,354.0 1951.7,353.9 1953.3,354.6 1955.0,356.5 1956.7,350.8 1958.3,346.0 1960.0,340.0 1961.7,342.0 1963.3,355.8 1965.0,349.4 1966.7,342.1 1968.3,329.6 1970.0,317.7 1972.7,334.7 1974.3,337.7 1976.0,335.7 1977.7,317.0 1979.3,304.0 1981.3,304.5 1983.3,304.8 1985.0,299.3 1986.7,306.9 1988.3,331.0 1990.0,349.6 1991.7,343.8 1993.3,348.0 1995.0,336.9 1997.7,313.6 2000.0,357.0 2002.3,351.0 2005.0,330.2 2007.3,343.7 2010.0,377.5 2011.7,371.6 2013.3,380.9 2015.0,379.5 2016.7,377.6 2019.0,345.2 2021.7,332.3 2024.0,380.3 2026.7,382.2 2028.3,339.8 2030.7,388.3 2033.3,396.7 2035.0,384.1 2036.7,357.0 2039.3,334.7 2041.7,354.6 2044.3,307.0 2047.3,307.5 2050.0,377.5 2052.7,389.8 2055.0,408.8 2057.3,369.4 2060.0,297.9 2062.3,299.9 2065.0,340.7 2067.3,337.9 2070.0,313.7 2072.7,303.9 2075.0,314.2 2077.3,334.7 2080.0,378.6 2082.3,354.4 2085.0,353.3 2087.3,364.1 2090.0,360.8 2092.7,368.6 2095.7,354.0 2097.3,382.0 2100.0,410.6 2101.7,403.4 2103.3,410.1 2105.0,405.3 2106.7,411.7 2108.3,410.6 2110.0,416.1 2111.7,413.8 2113.3,413.6 2115.0,412.2 2116.7,410.7 2118.3,412.1 2120.0,412.5 2121.7,413.8 2123.3,414.4 2125.0,412.0 2126.7,412.6 2128.3,411.7 2130.0,411.7 2131.7,410.9 2133.3,414.2 2135.0,412.1 2136.7,413.4 2138.3,410.7 2140.0,412.0 2141.7,412.5 2143.3,411.9 2145.0,414.4 2146.7,414.8 2148.3,414.9 2150.0,415.9 2151.7,416.4 2153.3,412.8 2155.0,411.4 2156.7,409.4 2158.3,410.8 2160.0,408.3 2161.7,407.1 2163.3,408.8 2165.0,414.5 2166.7,414.2 2168.3,413.6 2170.0,411.8 2171.7,410.7 2173.3,410.8 2175.0,411.4 2176.7,411.5 2178.3,411.1 2180.0,409.6 2181.7,405.5 2183.3,409.1 2185.0,407.5 2186.7,408.6 2188.3,408.0 2190.0,406.4 2191.7,406.9 2193.3,406.9 2195.0,399.7 2196.7,402.8 2198.3,412.7 2200.0,407.4 2201.7,410.2 2203.3,405.0 2206.0,346.8 2208.3,402.6 2211.0,361.8 2212.7,311.3 2214.3,271.6 2216.7,381.4 2219.3,388.3 2221.7,410.4 2224.0,381.6 2226.7,358.2 2229.0,346.6 2230.3,303.7 2232.3,389.1 2235.0,403.7 2236.7,399.1 2238.3,390.1 2240.0,404.6 2241.7,400.6 2243.3,405.4 2245.0,403.8 2246.7,402.1 2248.3,402.7 2250.0,402.1 2251.7,402.2 2253.3,401.9 2255.0,402.1 2256.7,402.5 2258.3,404.9 2260.0,404.5 2261.7,401.0 2263.3,400.5 2265.0,397.3 2266.7,397.6 2268.3,396.4 2270.0,384.6 2272.7,397.5 2274.6,394.9 2276.4,396.6 2278.3,397.6 2280.0,396.9 2281.7,395.0 2283.3,397.3 2285.0,397.2 2286.7,397.0 2288.3,397.9 2290.0,396.8 2291.7,396.5 2293.8,393.5 2296.0,394.0 2298.3,353.7 2300.0,381.9 2302.7,366.7 2305.0,382.6 2306.7,383.0 2308.3,387.8 2310.0,380.0 2311.7,370.5 2313.3,372.1 2315.0,376.6 2317.3,382.2 2320.0,378.8 2321.7,365.1 2323.3,350.0 2326.0,364.3 2328.3,368.1 2330.0,374.1 2331.7,382.7 2333.3,378.2 2335.0,385.6 2336.7,389.1 2338.3,391.4 2340.0,389.0 2341.7,394.2 2343.3,393.4 2345.0,394.6" stroke="#da70d6" stroke-width="1.3" fill="none" stroke-linejoin="round"/><path d="M60.0,393.3 61.7,460.0 63.3,465.2 65.0,473.3 66.7,470.0 68.3,460.7 70.0,471.7 71.7,471.4 73.3,470.0 75.7,470.0 78.3,445.0 80.5,407.0 82.7,366.7 85.0,396.7 87.3,346.7 89.3,373.3 92.3,476.7 95.0,373.3 96.7,413.3 98.3,370.0 100.7,366.7 102.3,413.3 104.0,390.0 106.7,440.0 108.3,406.7 110.7,463.3 112.7,413.3 115.0,433.3 117.3,476.7 120.0,476.7 121.7,406.7 124.0,470.0 126.0,403.3 128.3,450.0 130.0,470.0 132.3,396.7 134.3,430.0 136.7,470.0 138.3,406.7 141.0,440.0 143.3,396.7 145.0,406.7 147.0,390.0 149.3,461.7 151.7,393.3 153.3,385.9 155.0,380.0 156.7,389.6 158.3,403.3 160.0,396.3 161.7,393.3 163.3,393.2 165.0,400.0 166.7,389.0 168.3,380.0 170.0,373.3 171.7,426.7 174.0,376.7 176.7,373.3 178.3,370.7 180.0,373.3 181.7,362.1 183.3,350.0 186.0,356.7 188.3,380.0 190.7,433.3 192.8,428.3 195.0,436.7 196.7,441.2 198.3,443.3 200.0,442.8 201.7,440.9 203.3,440.0 205.0,438.3 206.7,438.6 208.3,436.7 210.0,432.7 211.7,433.3 213.3,438.1 215.0,441.7 216.7,437.8 218.3,433.3 220.0,437.1 221.7,440.0 223.3,441.4 225.0,441.7 226.7,438.0 228.3,436.7 230.0,432.6 231.7,430.0 233.3,429.5 235.0,426.8 236.7,423.3 238.3,418.5 240.0,406.6 241.7,406.7 243.3,407.4 245.0,408.0 246.7,403.3 248.3,394.9 250.0,380.0 251.7,385.0 253.3,385.2 255.0,393.3 257.0,387.6 259.0,376.7 261.7,386.7 263.7,376.0 265.7,366.7 267.8,350.9 270.0,356.7 272.0,339.9 274.0,320.0 275.8,315.2 277.7,320.0 279.7,319.8 281.7,326.7 283.7,327.3 285.7,333.3 288.3,353.3 290.0,373.5 291.7,383.3 293.7,386.7 296.7,373.3 298.3,380.1 300.0,390.0 302.3,403.3 304.0,402.7 305.7,400.0 307.7,420.0 310.0,400.0 312.3,386.7 314.3,430.0 316.7,406.7 318.3,403.0 320.0,383.3 322.7,456.7 325.0,440.0 327.3,433.3 330.0,393.3 332.3,406.7 335.0,440.0 337.3,453.3 340.0,460.0 342.7,403.3 345.0,430.0 346.7,410.8 348.3,373.3 351.0,363.3 354.0,370.0 356.7,373.3 359.0,373.3 361.7,350.0 364.3,343.3 366.7,406.7 368.3,397.7 370.0,390.0 371.7,440.0 374.3,450.0 376.7,400.0 379.3,433.3 381.7,406.7 383.3,409.0 385.0,413.3 387.7,453.3 390.0,406.7 391.7,392.2 393.3,390.0 395.7,380.0 398.3,373.3 400.0,383.7 401.7,400.0 404.3,346.7 406.7,340.0 408.3,353.3 410.0,393.3 411.7,395.0 413.3,393.3 415.0,391.4 416.7,386.7 418.3,383.8 420.0,380.0 421.7,383.7 423.3,373.3 425.0,357.9 426.7,353.3 429.0,333.3 430.7,320.0 433.3,443.3 435.0,435.0 436.7,435.4 438.3,436.7 440.0,442.3 441.7,441.6 443.3,439.3 445.0,438.3 446.7,439.2 448.3,438.8 450.0,440.0 451.7,440.0 453.3,438.0 455.0,436.4 456.7,438.2 458.3,436.7 460.0,436.2 461.7,436.2 463.3,433.3 465.0,435.0 466.7,434.2 468.3,433.5 470.0,432.8 471.7,433.3 473.3,430.7 475.0,432.9 476.7,434.4 478.3,433.3 480.0,433.0 481.7,430.9 483.3,430.8 485.0,430.0 486.7,429.8 488.3,423.2 490.0,426.7 491.7,428.7 493.3,432.0 495.0,433.3 496.7,437.2 498.3,441.7 500.0,441.7 501.7,443.0 503.3,441.0 505.0,440.0 506.7,439.3 508.3,438.9 510.0,436.7 511.7,434.8 513.3,434.4 515.0,433.3 516.7,433.8 518.3,435.8 520.0,430.0 521.7,427.2 523.3,425.4 525.0,423.3 526.7,418.8 528.3,420.1 530.0,406.7 531.7,393.2 533.3,380.0 535.0,370.0 536.7,460.0 538.3,473.9 540.0,470.0 541.7,464.7 543.3,470.0 545.0,471.7 546.7,471.0 548.3,474.0 550.0,473.3 551.7,473.0 553.3,468.0 555.0,468.3 556.7,466.0 558.3,466.6 560.0,465.0 561.7,465.2 563.3,465.5 565.0,468.3 566.7,467.9 568.3,465.6 570.0,463.3 571.7,464.5 573.3,463.9 575.0,465.0 576.7,465.6 578.3,463.6 580.0,463.3 581.7,466.4 583.3,465.1 585.0,468.3 586.7,464.1 588.3,463.1 590.0,460.0 591.7,456.0 593.3,455.6 595.0,451.7 596.7,454.9 598.3,455.9 600.0,460.0 601.7,459.0 603.3,457.3 605.0,456.7 606.7,460.2 608.3,460.3 610.0,463.3 611.7,461.1 613.3,461.6 615.0,458.3 616.7,462.9 618.3,464.1 620.0,463.4 621.7,465.0 623.3,464.9 625.0,466.1 626.7,463.6 628.3,463.3 630.0,460.9 631.7,461.0 633.3,460.6 635.0,458.3 636.7,457.0 638.3,455.8 640.0,460.0 642.2,445.4 644.3,436.7 646.7,460.0 648.3,460.3 650.0,456.2 651.7,456.7 653.3,457.5 655.0,459.5 656.7,460.0 658.3,461.6 660.0,459.1 661.7,460.0 663.3,449.8 665.0,434.1 666.7,425.0 669.3,460.0 671.2,460.5 673.1,460.1 675.0,465.0 676.7,472.4 678.3,467.3 680.0,462.0 681.7,470.0 683.3,465.0 685.0,466.7 687.3,380.0 690.0,306.7 691.7,301.1 693.3,300.0 695.0,300.3 696.7,286.7 699.0,330.0 701.0,340.0 703.3,360.0 705.0,326.7 707.3,330.0 710.0,423.3 712.3,433.3 714.3,323.3 716.7,426.7 719.0,373.3 721.7,423.3 724.3,460.0 726.7,326.7 729.0,463.3 731.7,380.0 734.3,466.7 736.0,456.9 737.7,473.3 740.0,460.0 741.7,406.9 743.3,366.7 745.7,440.0 748.3,473.3 751.0,380.0 753.3,460.0 755.0,464.3 756.7,473.3 758.3,487.4 760.0,473.3 761.7,479.9 763.3,470.0 765.0,470.7 766.7,473.3 769.0,413.3 771.7,320.0 774.0,470.0 776.2,477.8 778.3,473.3 780.0,491.0 781.7,473.3 784.3,353.3 786.7,466.7 788.3,468.3 790.0,473.3 792.3,373.3 795.0,346.7 797.7,400.0 800.3,346.7 802.7,313.3 805.0,463.3 806.7,466.6 808.3,476.7 810.0,489.2 811.7,483.6 813.3,480.0 815.0,482.5 816.7,481.2 818.3,483.3 820.0,487.1 821.7,487.7 823.3,486.7 825.0,486.3 826.7,485.2 828.3,483.3 830.0,480.8 831.7,484.1 833.3,483.1 835.0,483.3 836.7,483.0 838.3,482.5 840.0,480.4 841.7,480.0 843.3,477.6 845.0,479.6 846.7,477.8 848.3,478.3 850.0,477.4 851.7,476.6 853.3,478.1 855.0,480.0 857.7,476.7 860.0,473.3 861.7,413.3 863.3,460.0 865.0,440.0 866.7,353.3 869.0,460.0 871.0,466.7 873.3,386.7 875.0,373.3 876.7,413.3 879.0,460.0 881.0,460.0 883.3,406.7 885.7,346.7 887.3,373.3 889.3,400.0 891.7,413.3 894.3,460.0 896.7,430.0 898.3,406.7 900.0,413.3 902.3,416.7 905.0,473.3 907.0,406.7 909.0,400.0 911.0,426.7 913.3,470.0 915.0,456.7 916.7,406.7 919.0,386.7 920.7,446.7 923.3,460.0 925.7,470.0 927.7,463.3 929.3,473.3 931.7,400.0 934.0,380.0 936.0,406.7 938.0,460.0 940.0,386.7 942.3,406.7 945.0,370.0 947.7,380.0 950.0,360.0 952.3,403.3 955.0,370.0 956.7,356.7 959.0,373.3 961.0,386.7 963.3,340.0 965.0,373.3 967.3,416.7 970.0,413.3 971.7,399.1 973.3,406.7 975.0,413.5 976.7,409.7 978.3,410.0 980.0,411.4 981.7,412.4 983.3,410.0 985.0,408.9 986.7,405.7 988.3,406.7 990.0,407.3 991.7,410.0 993.3,405.9 995.0,405.0 996.7,404.9 998.3,406.2 1000.0,406.7 1001.7,404.2 1003.3,413.3 1005.0,412.4 1006.7,402.5 1008.3,406.7 1011.0,403.3 1012.3,373.3 1015.0,356.7 1016.7,353.1 1018.3,346.7 1020.0,342.8 1021.7,340.0 1023.3,335.3 1025.0,333.3 1026.7,331.3 1028.3,330.0 1030.0,325.1 1031.7,326.7 1033.3,313.3 1035.0,380.0 1037.7,390.0 1040.0,366.7 1041.7,416.7 1044.0,373.3 1045.7,433.3 1047.7,460.0 1050.0,373.3 1052.3,386.7 1054.3,440.0 1056.3,373.3 1058.3,466.7 1060.0,366.7 1061.7,460.0 1064.0,353.3 1066.0,466.7 1068.3,423.3 1070.0,480.0 1072.3,470.0 1074.3,393.3 1076.7,460.0 1079.0,473.3 1081.7,430.0 1084.3,326.7 1086.7,406.7 1088.3,480.0 1090.0,477.9 1091.7,486.7 1093.3,470.0 1095.0,483.3 1096.7,478.2 1098.3,473.3 1100.0,473.5 1101.7,466.7 1103.7,475.1 1105.7,476.7 1107.8,477.5 1110.0,473.3 1111.7,478.0 1113.3,480.0 1115.0,482.3 1116.7,486.7 1118.3,491.1 1120.0,476.7 1121.7,476.3 1123.3,476.7 1125.0,474.5 1126.7,473.3 1129.0,373.3 1131.7,406.7 1134.0,480.0 1136.7,406.7 1138.3,456.7 1141.0,393.3 1143.3,420.0 1145.7,476.7 1148.3,413.3 1150.7,433.3 1152.7,453.3 1155.0,473.3 1157.7,403.3 1160.0,423.3 1162.3,466.7 1165.0,473.3 1167.7,456.7 1170.0,393.3 1172.3,423.3 1175.0,446.7 1177.7,483.3 1180.0,440.0 1182.7,406.7 1185.0,440.0 1186.7,456.6 1188.3,476.7 1191.0,483.3 1192.7,490.0 1195.0,386.7 1197.7,440.0 1200.0,483.3 1201.7,435.6 1203.3,386.7 1205.7,366.7 1208.3,473.3 1211.0,440.0 1213.3,480.0 1215.0,433.8 1216.7,393.3 1218.3,382.8 1220.0,373.3 1221.7,366.6 1223.3,373.3 1225.0,370.9 1226.7,373.3 1228.3,410.4 1230.0,426.7 1231.7,402.9 1233.3,380.0 1235.0,371.7 1236.7,366.7 1239.0,353.3 1241.0,406.7 1243.3,470.0 1245.0,472.0 1246.7,466.7 1248.3,474.9 1250.0,473.3 1251.7,463.6 1253.3,463.3 1255.0,464.5 1256.7,466.7 1258.3,458.7 1260.0,446.7 1261.7,449.0 1263.3,450.0 1265.0,451.2 1266.7,451.7 1268.3,453.4 1270.0,446.7 1271.7,443.5 1273.3,443.3 1275.7,430.0 1278.3,433.3 1280.0,430.3 1281.7,426.7 1283.3,421.4 1285.0,420.0 1286.7,422.7 1288.3,413.3 1290.0,391.4 1291.7,386.7 1293.7,374.0 1295.7,370.0 1298.3,373.3 1301.0,440.0 1303.3,480.0 1305.0,477.9 1306.7,483.3 1309.0,453.3 1311.7,480.0 1313.3,488.6 1315.0,493.3 1316.7,493.4 1318.3,490.0 1320.0,490.7 1321.7,483.3 1323.3,484.2 1325.0,490.0 1326.7,489.4 1328.3,486.7 1330.0,486.3 1331.7,485.8 1333.3,486.7 1335.0,488.4 1336.7,487.6 1338.3,490.0 1340.0,486.0 1341.7,487.3 1343.3,486.7 1345.0,487.9 1346.7,492.4 1348.3,496.7 1350.0,496.1 1351.7,494.9 1353.3,493.3 1355.0,494.2 1356.7,490.0 1358.3,491.4 1360.0,493.3 1361.7,486.2 1363.3,483.3 1365.0,487.1 1366.7,493.3 1368.3,488.6 1370.0,486.7 1371.7,487.9 1373.3,493.3 1375.0,487.4 1376.7,480.0 1378.3,482.2 1380.0,486.7 1381.7,477.9 1383.3,476.7 1385.0,481.3 1386.7,483.3 1388.3,486.5 1390.0,490.0 1391.7,494.0 1393.3,496.7 1395.0,496.9 1396.7,496.7 1398.3,497.3 1400.0,493.3 1401.7,490.1 1403.3,486.7 1405.0,481.1 1406.7,466.7 1409.3,443.3 1411.7,460.0 1414.3,470.0 1416.7,456.7 1419.0,486.7 1421.7,500.0 1423.3,494.6 1425.0,486.7 1426.7,489.5 1428.3,490.0 1430.0,485.8 1431.7,480.0 1433.3,482.0 1435.0,490.0 1436.7,493.0 1438.3,496.7 1440.0,486.2 1441.7,476.7 1443.3,480.4 1445.0,483.3 1446.7,478.9 1448.3,480.0 1450.0,489.2 1451.7,486.7 1453.3,480.3 1455.0,473.3 1456.7,473.0 1458.3,480.0 1460.0,456.4 1461.7,443.3 1464.3,460.0 1467.0,473.3 1470.0,486.7 1471.7,488.7 1473.3,493.3 1475.0,486.2 1476.7,480.0 1479.0,473.3 1481.7,430.0 1483.3,416.7 1485.0,411.4 1486.7,413.3 1488.3,413.8 1490.0,413.3 1491.7,409.3 1493.3,410.0 1495.7,416.7 1498.3,396.7 1500.7,453.3 1503.3,426.7 1505.7,456.7 1508.3,426.7 1510.0,450.0 1512.3,423.3 1515.0,430.0 1517.7,456.7 1520.0,423.3 1521.7,410.0 1523.3,356.7 1525.7,440.0 1528.3,406.7 1530.0,450.0 1531.7,373.3 1534.3,340.0 1536.7,433.3 1539.0,380.0 1541.7,346.7 1544.3,490.0 1546.7,440.0 1549.0,473.3 1551.0,376.7 1553.3,343.3 1555.7,490.0 1558.3,406.7 1561.0,326.7 1563.3,416.7 1566.0,496.7 1568.3,486.7 1571.0,373.3 1573.3,326.7 1575.7,490.0 1578.3,486.7 1581.0,473.3 1583.3,483.3 1585.7,470.0 1588.3,476.7 1591.0,476.7 1593.3,483.3 1595.0,479.7 1596.7,473.3 1599.0,466.7 1601.7,453.3 1604.3,460.0 1606.7,480.0 1608.3,484.4 1610.0,493.3 1611.7,494.9 1613.3,496.7 1615.0,496.0 1616.7,490.0 1618.3,505.6 1620.0,486.7 1621.7,483.2 1623.3,493.3 1625.7,480.0 1627.7,440.0 1630.0,380.0 1631.7,460.0 1633.3,458.4 1635.0,463.3 1636.7,459.1 1638.3,466.7 1641.0,493.3 1643.3,503.3 1645.7,493.3 1647.7,443.3 1650.0,486.7 1652.3,376.7 1655.0,380.0 1657.3,486.7 1660.0,460.0 1662.7,473.3 1665.0,406.7 1667.3,413.3 1670.0,480.0 1672.7,450.0 1675.0,393.3 1677.3,456.7 1680.0,403.3 1682.7,486.7 1685.0,460.0 1687.3,393.3 1689.3,440.0 1691.7,486.7 1693.3,491.3 1695.0,486.7 1696.7,481.6 1698.3,490.0 1700.0,489.9 1701.7,493.3 1703.3,491.6 1705.0,490.0 1706.7,487.1 1708.3,486.7 1710.0,487.2 1711.7,490.0 1713.3,485.8 1715.0,486.7 1716.7,474.5 1718.3,490.0 1720.7,493.3 1723.3,403.3 1725.7,380.0 1727.7,400.0 1730.0,486.7 1732.7,463.3 1735.0,363.3 1737.3,380.0 1739.3,490.0 1741.7,373.3 1744.0,400.0 1746.0,490.0 1748.3,400.0 1750.0,380.0 1752.7,456.7 1755.0,380.0 1757.3,393.3 1759.3,383.3 1761.7,380.0 1764.0,386.7 1766.7,388.3 1768.3,384.5 1770.0,386.7 1772.3,386.7 1775.0,373.3 1776.7,370.9 1778.3,370.0 1780.0,376.9 1781.7,383.3 1783.3,381.3 1785.0,380.0 1786.7,371.2 1788.3,383.3 1790.0,378.9 1791.7,380.0 1794.0,386.7 1796.7,400.0 1798.3,470.0 1800.7,373.3 1802.7,400.0 1804.7,433.3 1806.7,393.3 1808.7,470.0 1810.7,490.0 1812.7,373.3 1815.0,400.0 1817.3,486.7 1820.0,486.7 1822.3,433.3 1824.0,373.3 1826.7,490.0 1829.3,493.3 1832.3,490.0 1835.0,486.7 1837.7,483.3 1840.0,480.0 1842.3,460.0 1844.3,473.3 1846.7,430.0 1849.0,366.7 1850.7,373.3 1852.7,440.0 1855.0,473.3 1857.3,460.0 1860.0,420.0 1862.3,478.3 1865.0,476.7 1866.7,479.7 1868.3,476.7 1870.0,478.8 1871.7,476.7 1873.3,476.6 1875.0,476.7 1876.7,476.5 1878.3,478.3 1880.0,477.0 1881.7,473.3 1883.3,472.3 1885.0,473.3 1886.7,471.2 1888.3,473.3 1890.0,460.0 1892.7,470.0 1895.0,473.3 1897.7,466.7 1899.3,462.9 1901.0,463.3 1904.0,460.0 1906.7,456.7 1909.3,440.0 1911.7,433.3 1913.3,437.3 1915.0,433.3 1916.7,430.6 1918.3,426.7 1920.0,427.4 1921.7,423.3 1923.3,423.8 1925.0,426.7 1926.7,426.7 1928.3,420.0 1930.0,416.4 1931.7,416.7 1933.3,409.5 1935.0,403.3 1937.3,380.0 1940.0,390.0 1942.7,413.3 1945.0,416.7 1946.7,424.7 1948.3,416.7 1950.0,399.1 1951.7,376.7 1954.0,420.0 1956.7,423.3 1959.3,376.7 1961.7,416.7 1964.0,420.0 1966.7,413.3 1968.3,409.6 1970.0,410.0 1971.7,409.7 1973.3,410.0 1975.0,411.3 1976.7,410.0 1979.3,360.0 1981.3,363.5 1983.3,356.7 1985.0,356.2 1986.7,360.0 1989.3,373.3 1991.7,423.3 1993.3,414.7 1995.0,426.7 1997.3,410.0 1999.3,440.0 2001.7,456.7 2004.0,406.7 2006.7,450.0 2008.3,454.0 2010.0,460.0 2011.7,458.4 2013.3,456.7 2015.0,458.7 2016.7,460.0 2019.3,446.7 2021.7,420.0 2024.0,460.0 2026.7,456.7 2028.7,426.7 2030.7,470.0 2033.3,460.0 2035.0,416.7 2037.3,453.3 2040.0,460.0 2041.7,468.0 2043.3,466.7 2045.0,462.7 2046.7,456.7 2048.3,459.3 2050.0,453.3 2052.0,454.2 2054.0,466.7 2056.7,453.3 2059.3,380.0 2061.7,386.7 2064.0,393.3 2066.7,373.3 2069.3,366.7 2071.3,346.7 2072.7,323.3 2075.0,366.7 2077.3,373.3 2080.0,380.0 2082.3,373.3 2085.0,380.0 2087.3,416.7 2090.0,436.7 2092.7,436.7 2095.7,440.0 2097.7,460.0 2100.0,480.0 2101.7,482.8 2103.3,480.0 2105.0,486.4 2106.7,480.0 2108.3,482.7 2110.0,482.5 2111.7,483.3 2113.3,482.4 2115.0,483.0 2116.7,480.0 2118.3,479.6 2120.0,481.0 2121.7,481.7 2123.3,481.6 2125.0,481.3 2126.7,480.0 2128.3,479.1 2130.0,479.5 2131.7,478.4 2133.3,478.3 2135.0,479.7 2136.7,480.7 2138.3,480.6 2140.0,483.3 2141.7,484.1 2143.3,486.3 2145.0,484.4 2146.7,486.7 2148.3,487.3 2150.0,490.2 2151.7,490.0 2153.3,484.6 2155.0,483.3 2156.7,479.2 2158.3,472.4 2160.0,470.0 2161.7,475.5 2163.3,476.7 2165.0,482.0 2166.7,480.0 2168.3,481.2 2170.0,476.7 2171.7,478.0 2173.3,480.0 2175.0,479.1 2176.7,476.7 2178.3,477.6 2180.0,478.3 2181.7,479.0 2183.3,481.1 2185.0,480.0 2186.7,478.2 2188.3,481.5 2190.0,480.0 2191.7,478.3 2193.3,476.7 2195.0,478.8 2196.7,470.0 2198.3,475.7 2200.0,480.0 2201.7,475.2 2203.3,480.0 2205.7,420.0 2208.3,476.7 2210.7,406.7 2212.7,356.7 2215.0,353.3 2217.3,440.0 2220.0,473.3 2221.7,478.7 2223.3,480.0 2226.0,353.3 2228.3,356.7 2231.0,416.7 2233.3,456.7 2235.0,468.7 2236.7,470.0 2238.3,473.6 2240.0,476.7 2241.7,478.6 2243.3,476.7 2245.0,474.6 2246.7,471.8 2248.3,473.3 2250.0,474.4 2251.7,474.4 2253.3,473.3 2255.0,472.5 2256.7,471.2 2258.3,470.0 2260.0,471.3 2261.7,464.0 2263.3,463.3 2265.0,457.6 2266.7,456.7 2269.3,423.3 2271.7,450.0 2273.3,452.8 2275.0,456.7 2276.7,462.0 2278.3,460.0 2280.0,457.4 2281.7,463.3 2283.3,467.1 2285.0,466.7 2286.7,461.7 2288.3,463.3 2290.0,457.6 2291.7,469.9 2293.3,463.3 2295.0,461.2 2296.7,460.0 2298.3,380.0 2300.0,460.0 2302.7,456.7 2305.0,460.0 2306.7,453.6 2308.3,460.0 2311.0,433.3 2313.3,400.0 2316.0,460.0 2318.3,400.0 2320.7,460.0 2323.3,356.7 2326.0,406.7 2328.3,400.0 2331.0,426.7 2333.3,436.7 2336.0,453.3 2338.3,460.0 2340.0,460.2 2341.7,463.3 2343.3,463.7 2345.0,460.0" stroke="#9acd32" stroke-width="1.3" fill="none" stroke-linejoin="round"/></g><rect x="59.6" y="84.5" width="2283.9" height="504.0" fill="none" stroke="#000" stroke-width="1.3"/><path d="M52.60,588.50H59.6M2343.5,588.50H2350.50M56.10,570.50H59.6M2343.5,570.50H2347.00M56.10,552.50H59.6M2343.5,552.50H2347.00M56.10,534.50H59.6M2343.5,534.50H2347.00M52.60,516.50H59.6M2343.5,516.50H2350.50M56.10,498.50H59.6M2343.5,498.50H2347.00M56.10,480.50H59.6M2343.5,480.50H2347.00M56.10,462.50H59.6M2343.5,462.50H2347.00M52.60,444.50H59.6M2343.5,444.50H2350.50M56.10,426.50H59.6M2343.5,426.50H2347.00M56.10,408.50H59.6M2343.5,408.50H2347.00M56.10,390.50H59.6M2343.5,390.50H2347.00M52.60,372.50H59.6M2343.5,372.50H2350.50M56.10,354.50H59.6M2343.5,354.50H2347.00M56.10,336.50H59.6M2343.5,336.50H2347.00M56.10,318.50H59.6M2343.5,318.50H2347.00M52.60,300.50H59.6M2343.5,300.50H2350.50M56.10,282.50H59.6M2343.5,282.50H2347.00M56.10,264.50H59.6M2343.5,264.50H2347.00M56.10,246.50H59.6M2343.5,246.50H2347.00M52.60,228.50H59.6M2343.5,228.50H2350.50M56.10,210.50H59.6M2343.5,210.50H2347.00M56.10,192.50H59.6M2343.5,192.50H2347.00M56.10,174.50H59.6M2343.5,174.50H2347.00M52.60,156.50H59.6M2343.5,156.50H2350.50M56.10,138.50H59.6M2343.5,138.50H2347.00M56.10,120.50H59.6M2343.5,120.50H2347.00M56.10,102.50H59.6M2343.5,102.50H2347.00M52.60,84.50H59.6M2343.5,84.50H2350.50M59.50,588.5V595.50M106.50,588.5V592.00M154.50,588.5V592.00M202.50,588.5V592.00M249.50,588.5V595.50M297.50,588.5V592.00M345.50,588.5V592.00M392.50,588.5V592.00M440.50,588.5V595.50M487.50,588.5V592.00M535.50,588.5V592.00M583.50,588.5V592.00M630.50,588.5V595.50M678.50,588.5V592.00M726.50,588.5V592.00M773.50,588.5V592.00M821.50,588.5V595.50M868.50,588.5V592.00M916.50,588.5V592.00M964.50,588.5V592.00M1011.50,588.5V595.50M1059.50,588.5V592.00M1107.50,588.5V592.00M1154.50,588.5V592.00M1202.50,588.5V595.50M1249.50,588.5V592.00M1297.50,588.5V592.00M1345.50,588.5V592.00M1392.50,588.5V595.50M1440.50,588.5V592.00M1488.50,588.5V592.00M1535.50,588.5V592.00M1583.50,588.5V595.50M1630.50,588.5V592.00M1678.50,588.5V592.00M1726.50,588.5V592.00M1773.50,588.5V595.50M1821.50,588.5V592.00M1869.50,588.5V592.00M1916.50,588.5V592.00M1964.50,588.5V595.50M2011.50,588.5V592.00M2059.50,588.5V592.00M2107.50,588.5V592.00M2154.50,588.5V595.50M2202.50,588.5V592.00M2250.50,588.5V592.00M2297.50,588.5V592.00" stroke="#3a3a3a" stroke-width="1" fill="none"/><text x="46.20" y="591.30" text-anchor="end" class="tk">24</text><text x="2354.50" y="591.30" text-anchor="start" class="tk">24</text><text x="46.20" y="519.30" text-anchor="end" class="tk">36</text><text x="2354.50" y="519.30" text-anchor="start" class="tk">36</text><text x="46.20" y="447.30" text-anchor="end" class="tk">48</text><text x="2354.50" y="447.30" text-anchor="start" class="tk">48</text><text x="46.20" y="375.30" text-anchor="end" class="tk">60</text><text x="2354.50" y="375.30" text-anchor="start" class="tk">60</text><text x="46.20" y="303.30" text-anchor="end" class="tk">72</text><text x="2354.50" y="303.30" text-anchor="start" class="tk">72</text><text x="46.20" y="231.30" text-anchor="end" class="tk">84</text><text x="2354.50" y="231.30" text-anchor="start" class="tk">84</text><text x="46.20" y="159.30" text-anchor="end" class="tk">96</text><text x="2354.50" y="159.30" text-anchor="start" class="tk">96</text><text x="46.20" y="87.30" text-anchor="end" class="tk">108</text><text x="2354.50" y="87.30" text-anchor="start" class="tk">108</text><text x="59.35" y="606.80" text-anchor="middle" class="tk">00:00</text><text x="249.85" y="606.80" text-anchor="middle" class="tk">02:00</text><text x="440.35" y="606.80" text-anchor="middle" class="tk">04:00</text><text x="630.85" y="606.80" text-anchor="middle" class="tk">06:00</text><text x="821.35" y="606.80" text-anchor="middle" class="tk">08:00</text><text x="1011.85" y="606.80" text-anchor="middle" class="tk">10:00</text><text x="1202.35" y="606.80" text-anchor="middle" class="tk">12:00</text><text x="1392.85" y="606.80" text-anchor="middle" class="tk">14:00</text><text x="1583.35" y="606.80" text-anchor="middle" class="tk">16:00</text><text x="1773.85" y="606.80" text-anchor="middle" class="tk">18:00</text><text x="1964.35" y="606.80" text-anchor="middle" class="tk">20:00</text><text x="2154.85" y="606.80" text-anchor="middle" class="tk">22:00</text><text x="1200.8" y="624.0" text-anchor="middle" class="lb">time</text><text transform="translate(22.2,336.5) rotate(-90)" text-anchor="middle" class="lb">dB SPL</text><text transform="translate(2384.9,336.5) rotate(-90)" text-anchor="middle" class="lb">dB SPL</text><text x="59.6" y="75.0" class="tt">average and peak noise level (1 min sampling)</text><rect x="2155.7" y="542.5" width="182.80000000000018" height="40.799999999999955" rx="2.8" fill="#fff8dc" fill-opacity="0.8" stroke="#d2b48c" stroke-opacity="0.8" stroke-width="1.1"/><circle cx="2169.4" cy="550.5" r="2.4" fill="#1e90ff"/><text x="2186.4" y="553.0" class="lg">peak dB(Z)</text><line x1="2258" x2="2280" y1="550.5" y2="550.5" stroke="#4682b4" stroke-width="3.5"/><text x="2286.3" y="553.0" class="lg">avg dB(Z)</text><circle cx="2169.4" cy="562.4" r="2.4" fill="#ff00ff"/><text x="2186.4" y="564.9" class="lg">peak dB(C)</text><line x1="2258" x2="2280" y1="562.4" y2="562.4" stroke="#da70d6" stroke-width="3.5"/><text x="2286.3" y="564.9" class="lg">avg dB(C)</text><circle cx="2169.4" cy="574.3" r="2.4" fill="#2e8b57"/><text x="2186.4" y="576.8" class="lg">peak dB(A)</text><line x1="2258" x2="2280" y1="574.3" y2="574.3" stroke="#9acd32" stroke-width="3.5"/><text x="2286.3" y="576.8" class="lg">avg dB(A)</text><rect x="59.6" y="645.5" width="2283.9" height="504.0" fill="#fff8dc"/><g clip-path="url(#clip1)"><g opacity="0.15"><path d="M59.8,845.1 60.2,733.3 60.6,916.2 61.0,908.4 61.4,903.4 61.8,921.4 62.2,910.1 62.6,905.3 63.0,918.0 63.4,908.1 63.8,912.5 64.2,901.8 64.6,909.7 65.0,915.0 65.4,906.4 65.8,910.9 66.1,908.5 66.5,870.6 66.9,866.8 67.3,906.1 67.7,899.0 68.1,813.5 68.5,745.0 68.9,795.5 69.3,814.4 69.7,819.6 70.1,899.9 70.5,829.7 70.9,901.6 71.3,790.6 71.7,900.4 72.1,902.7 72.5,906.9 72.9,919.9 73.3,915.7 73.7,923.9 74.1,872.6 74.5,819.7 74.9,926.7 75.3,860.4 75.7,921.3 76.1,920.5 76.5,923.4 76.9,921.1 77.3,914.4 77.7,913.4 78.1,912.2 78.4,876.4 78.8,913.1 79.2,890.4 79.6,909.3 80.0,870.2 80.4,854.1 80.8,892.1 81.2,874.9 81.6,890.5 82.0,888.4 82.4,884.9 82.8,867.2 83.2,810.0 83.6,810.7 84.0,871.2 84.4,865.6 84.8,859.6 85.2,856.8 85.6,855.1 86.0,853.8 86.4,857.4 86.8,859.7 87.2,862.6 87.6,859.0 88.0,858.6 88.4,813.3 88.8,816.4 89.2,881.3 89.6,885.3 90.0,848.5 90.4,874.3 90.7,893.3 91.1,891.7 91.5,896.0 91.9,894.4 92.3,898.1 92.7,895.5 93.1,903.8 93.5,906.5 93.9,907.7 94.3,904.3 94.7,893.2 95.1,894.6 95.5,894.0 95.9,902.1 96.3,876.1 96.7,831.7 97.1,843.4 97.5,901.7 97.9,900.7 98.3,895.3 98.7,868.0 99.1,881.1 99.5,864.1 99.9,907.6 100.3,904.5 100.7,908.4 101.1,860.3 101.5,820.5 101.9,909.6 102.3,903.7 102.7,909.7 103.0,907.3 103.4,910.9 103.8,911.4 104.2,911.9 104.6,910.5 105.0,911.6 105.4,909.9 105.8,913.2 106.2,913.6 106.6,913.9 107.0,916.8 107.4,916.7 107.8,913.7 108.2,912.6 108.6,862.4 109.0,919.6 109.4,869.5 109.8,888.5 110.2,877.4 110.6,920.5 111.0,917.8 111.4,920.3 111.8,918.5 112.2,879.1 112.6,918.5 113.0,918.9 113.4,916.0 113.8,918.5 114.2,915.7 114.6,920.2 115.0,905.4 115.3,861.7 115.7,897.7 116.1,902.7 116.5,869.9 116.9,884.5 117.3,860.6 117.7,882.0 118.1,915.6 118.5,918.6 118.9,918.8 119.3,917.9 119.7,916.9 120.1,915.9 120.5,881.5 120.9,894.5 121.3,898.2 121.7,887.0 122.1,919.4 122.5,889.6 122.9,916.8 123.3,920.2 123.7,917.3 124.1,918.9 124.5,919.0 124.9,875.1 125.3,916.2 125.7,914.5 126.1,917.9 126.5,917.5 126.9,918.3 127.3,914.7 127.6,912.7 128.0,860.2 128.4,917.6 128.8,918.5 129.2,918.0 129.6,917.2 130.0,916.8 130.4,917.6 130.8,917.0 131.2,917.8 131.6,917.4 132.0,915.2 132.4,912.7 132.8,917.5 133.2,889.6 133.6,886.4 134.0,894.6 134.4,917.3 134.8,917.7 135.2,912.1 135.6,916.9 136.0,917.3 136.4,892.9 136.8,913.0 137.2,890.5 137.6,916.0 138.0,914.6 138.4,917.1 138.8,911.8 139.2,913.5 139.6,914.3 139.9,858.9 140.3,910.4 140.7,900.7 141.1,908.2 141.5,913.6 141.9,912.8 142.3,915.1 142.7,910.8 143.1,913.8 143.5,914.2 143.9,911.7 144.3,913.7 144.7,914.6 145.1,902.1 145.5,897.1 145.9,914.6 146.3,913.2 146.7,903.2 147.1,901.0 147.5,906.7 147.9,915.2 148.3,914.9 148.7,915.1 149.1,913.5 149.5,862.7 149.9,914.7 150.3,912.6 150.7,909.9 151.1,913.9 151.5,911.6 151.9,912.8 152.2,913.0 152.6,908.4 153.0,887.5 153.4,890.0 153.8,878.9 154.2,871.1 154.6,906.5 155.0,906.1 155.4,910.5 155.8,906.1 156.2,908.0 156.6,910.0 157.0,908.4 157.4,905.8 157.8,905.9 158.2,863.6 158.6,908.4 159.0,909.7 159.4,898.2 159.8,908.8 160.2,907.0 160.6,895.6 161.0,894.3 161.4,901.6 161.8,896.9 162.2,904.5 162.6,905.6 163.0,909.3 163.4,908.3 163.8,908.6 164.2,906.6 164.5,905.5 164.9,905.1 165.3,907.5 165.7,907.6 166.1,904.0 166.5,907.5 166.9,905.6 167.3,908.2 167.7,906.4 168.1,908.1 168.5,887.5 168.9,880.9 169.3,885.4 169.7,881.8 170.1,906.2 170.5,906.7 170.9,887.1 171.3,876.1 171.7,883.4 172.1,903.9 172.5,903.1 172.9,900.3 173.3,896.4 173.7,896.8 174.1,898.3 174.5,897.4 174.9,896.4 175.3,860.4 175.7,894.7 176.1,887.0 176.5,878.9 176.9,886.0 177.2,888.1 177.6,840.2 178.0,862.3 178.4,820.0 178.8,887.5 179.2,888.3 179.6,831.4 180.0,859.6 180.4,882.0 180.8,883.7 181.2,880.5 181.6,823.3 182.0,880.1 182.4,859.6 182.8,851.1 183.2,846.7 183.6,835.1 184.0,846.1 184.4,877.7 184.8,884.6 185.2,873.2 185.6,876.3 186.0,863.9 186.4,883.2 186.8,823.3 187.2,826.1 187.6,850.2 188.0,892.5 188.4,894.2 188.8,894.7 189.2,853.8 189.5,898.9 189.9,900.7 190.3,901.6 190.7,904.3 191.1,906.4 191.5,905.6 191.9,883.5 192.3,907.5 192.7,873.5 193.1,909.1 193.5,894.2 193.9,913.2 194.3,914.3 194.7,915.2 195.1,916.3 195.5,915.2 195.9,909.0 196.3,915.5 196.7,908.9 197.1,912.1 197.5,911.7 197.9,916.1 198.3,914.3 198.7,898.6 199.1,897.4 199.5,906.8 199.9,908.9 200.3,916.4 200.7,909.3 201.1,904.0 201.5,914.3 201.8,913.2 202.2,916.1 202.6,914.0 203.0,915.3 203.4,914.7 203.8,915.2 204.2,914.2 204.6,915.9 205.0,916.0 205.4,915.4 205.8,913.2 206.2,915.5 206.6,915.4 207.0,915.1 207.4,912.5 207.8,915.6 208.2,908.2 208.6,901.0 209.0,912.9 209.4,915.1 209.8,914.2 210.2,915.3 210.6,915.1 211.0,915.7 211.4,915.5 211.8,915.3 212.2,915.5 212.6,915.3 213.0,915.6 213.4,915.7 213.8,915.5 214.1,914.5 214.5,904.3 214.9,904.3 215.3,915.9 215.7,913.9 216.1,916.0 216.5,909.9 216.9,910.1 217.3,904.1 217.7,904.2 218.1,915.3 218.5,899.1 218.9,913.7 219.3,915.0 219.7,914.1 220.1,914.9 220.5,913.4 220.9,901.5 221.3,898.3 221.7,906.5 222.1,898.3 222.5,914.8 222.9,913.6 223.3,913.8 223.7,915.4 224.1,915.4 224.5,915.2 224.9,912.5 225.3,899.7 225.7,899.5 226.1,896.9 226.4,897.2 226.8,900.2 227.2,898.8 227.6,913.2 228.0,913.5 228.4,912.8 228.8,911.4 229.2,912.7 229.6,912.2 230.0,911.7 230.4,911.9 230.8,910.3 231.2,911.8 231.6,911.7 232.0,910.9 232.4,909.1 232.8,910.3 233.2,906.9 233.6,908.6 234.0,900.4 234.4,899.3 234.8,908.1 235.2,908.8 235.6,908.8 236.0,906.5 236.4,906.9 236.8,907.9 237.2,896.7 237.6,892.1 238.0,887.3 238.4,888.6 238.7,906.3 239.1,906.8 239.5,903.4 239.9,904.1 240.3,901.0 240.7,904.4 241.1,906.1 241.5,905.9 241.9,905.8 242.3,904.9 242.7,904.3 243.1,903.3 243.5,888.7 243.9,892.6 244.3,904.5 244.7,894.1 245.1,903.5 245.5,894.0 245.9,902.3 246.3,898.9 246.7,901.2 247.1,902.7 247.5,898.8 247.9,899.7 248.3,897.7 248.7,899.6 249.1,901.1 249.5,900.3 249.9,899.7 250.3,898.9 250.7,899.3 251.0,893.5 251.4,892.9 251.8,896.9 252.2,895.3 252.6,892.4 253.0,899.0 253.4,898.4 253.8,898.1 254.2,898.1 254.6,897.6 255.0,897.5 255.4,897.4 255.8,897.4 256.2,896.9 256.6,897.9 257.0,897.3 257.4,894.4 257.8,897.1 258.2,894.6 258.6,894.8 259.0,897.7 259.4,897.0 259.8,896.4 260.2,895.5 260.6,891.1 261.0,888.8 261.4,893.9 261.8,877.9 262.2,871.6 262.6,892.6 263.0,891.1 263.3,883.4 263.7,890.4 264.1,881.3 264.5,886.9 264.9,882.9 265.3,885.0 265.7,884.4 266.1,872.9 266.5,871.7 266.9,877.7 267.3,865.0 267.7,862.6 268.1,871.9 268.5,872.9 268.9,870.8 269.3,869.6 269.7,867.7 270.1,862.5 270.5,862.8 270.9,850.5 271.3,856.8 271.7,844.8 272.1,845.9 272.5,852.2 272.9,852.1 273.3,831.1 273.7,830.0 274.1,848.1 274.5,832.0 274.9,846.4 275.3,846.6 275.6,845.5 276.0,843.7 276.4,824.8 276.8,831.4 277.2,823.2 277.6,826.4 278.0,841.7 278.4,821.7 278.8,822.7 279.2,837.8 279.6,844.9 280.0,843.9 280.4,844.1 280.8,840.5 281.2,838.9 281.6,839.3 282.0,837.7 282.4,839.1 282.8,836.2 283.2,843.3 283.6,843.9 284.0,842.1 284.4,842.6 284.8,844.7 285.2,846.2 285.6,847.3 286.0,848.4 286.4,849.1 286.8,850.3 287.2,852.7 287.6,852.9 288.0,856.8 288.3,821.7 288.7,862.7 289.1,864.7 289.5,864.5 289.9,836.4 290.3,824.2 290.7,870.8 291.1,873.0 291.5,869.1 291.9,869.8 292.3,876.1 292.7,878.0 293.1,852.3 293.5,829.0 293.9,884.1 294.3,850.6 294.7,884.3 295.1,885.2 295.5,880.8 295.9,882.6 296.3,887.3 296.7,810.0 297.1,821.7 297.5,844.2 297.9,888.1 298.3,891.1 298.7,891.3 299.1,890.0 299.5,892.3 299.9,890.6 300.3,892.1 300.6,893.0 301.0,890.7 301.4,875.0 301.8,848.5 302.2,857.1 302.6,892.3 303.0,876.5 303.4,806.7 303.8,884.5 304.2,892.6 304.6,895.5 305.0,892.5 305.4,892.9 305.8,894.8 306.2,895.5 306.6,897.2 307.0,891.6 307.4,897.2 307.8,897.1 308.2,843.0 308.6,844.9 309.0,832.6 309.4,841.0 309.8,890.8 310.2,897.8 310.6,898.2 311.0,896.8 311.4,835.5 311.8,866.3 312.2,852.3 312.6,896.8 312.9,898.4 313.3,788.3 313.7,900.8 314.1,896.0 314.5,901.8 314.9,899.7 315.3,902.3 315.7,896.8 316.1,901.3 316.5,896.3 316.9,902.9 317.3,901.0 317.7,895.6 318.1,898.1 318.5,903.1 318.9,903.4 319.3,899.9 319.7,894.1 320.1,902.2 320.5,899.1 320.9,899.5 321.3,846.8 321.7,811.7 322.1,816.9 322.5,841.7 322.9,895.5 323.3,903.1 323.7,876.9 324.1,899.5 324.5,860.6 324.9,885.4 325.2,904.0 325.6,838.2 326.0,819.3 326.4,892.4 326.8,828.3 327.2,829.9 327.6,862.7 328.0,851.1 328.4,886.7 328.8,890.1 329.2,889.4 329.6,882.1 330.0,790.0 330.4,791.6 330.8,881.2 331.2,878.5 331.6,876.5 332.0,875.9 332.4,873.0 332.8,872.7 333.2,795.0 333.6,857.5 334.0,831.6 334.4,878.8 334.8,809.5 335.2,876.3 335.6,797.8 336.0,839.4 336.4,881.0 336.8,883.5 337.2,889.9 337.5,871.9 337.9,866.3 338.3,847.9 338.7,872.0 339.1,908.7 339.5,912.0 339.9,854.7 340.3,907.4 340.7,914.1 341.1,912.7 341.5,913.0 341.9,910.3 342.3,907.3 342.7,899.2 343.1,902.9 343.5,897.9 343.9,893.2 344.3,890.5 344.7,890.0 345.1,885.4 345.5,854.4 345.9,877.8 346.3,873.0 346.7,867.2 347.1,845.9 347.5,828.2 347.9,832.0 348.3,857.0 348.7,855.2 349.1,853.8 349.5,852.9 349.8,828.8 350.2,825.5 350.6,851.0 351.0,852.0 351.4,850.5 351.8,816.7 352.2,852.2 352.6,853.0 353.0,851.4 353.4,855.3 353.8,856.7 354.2,849.5 354.6,854.2 355.0,860.0 355.4,864.7 355.8,866.7 356.2,865.4 356.6,867.4 357.0,870.4 357.4,870.4 357.8,870.1 358.2,867.1 358.6,856.5 359.0,868.3 359.4,867.8 359.8,867.0 360.2,866.1 360.6,865.2 361.0,864.7 361.4,864.3 361.8,864.7 362.1,864.4 362.5,866.7 362.9,866.7 363.3,871.0 363.7,871.2 364.1,873.6 364.5,875.3 364.9,876.6 365.3,877.5 365.7,880.4 366.1,881.5 366.5,883.6 366.9,887.0 367.3,888.8 367.7,892.5 368.1,859.4 368.5,896.5 368.9,900.0 369.3,901.4 369.7,898.0 370.1,901.7 370.5,905.7 370.9,906.3 371.3,907.9 371.7,908.9 372.1,910.0 372.5,909.9 372.9,909.9 373.3,911.6 373.7,898.4 374.1,890.8 374.4,899.4 374.8,908.5 375.2,909.7 375.6,912.1 376.0,911.5 376.4,902.6 376.8,903.0 377.2,898.5 377.6,856.9 378.0,912.3 378.4,909.8 378.8,912.0 379.2,910.7 379.6,910.7 380.0,911.3 380.4,910.1 380.8,911.9 381.2,906.5 381.6,899.8 382.0,904.2 382.4,912.2 382.8,903.0 383.2,900.1 383.6,905.9 384.0,910.3 384.4,911.6 384.8,910.2 385.2,909.6 385.6,910.9 386.0,910.8 386.4,911.6 386.8,912.8 387.1,913.3 387.5,907.6 387.9,912.9 388.3,912.1 388.7,911.6 389.1,900.4 389.5,910.7 389.9,854.5 390.3,899.3 390.7,894.9 391.1,909.4 391.5,907.1 391.9,907.5 392.3,906.3 392.7,902.7 393.1,904.3 393.5,902.3 393.9,889.5 394.3,888.8 394.7,877.3 395.1,897.4 395.5,897.0 395.9,897.7 396.3,897.1 396.7,899.0 397.1,899.2 397.5,899.4 397.9,896.1 398.3,900.0 398.7,898.2 399.1,900.9 399.4,897.2 399.8,898.6 400.2,898.7 400.6,862.9 401.0,867.0 401.4,873.3 401.8,900.7 402.2,907.4 402.6,907.5 403.0,903.7 403.4,904.4 403.8,905.0 404.2,900.6 404.6,899.2 405.0,900.8 405.4,901.4 405.8,893.3 406.2,857.1 406.6,865.4 407.0,894.7 407.4,893.0 407.8,898.3 408.2,893.2 408.6,874.8 409.0,800.0 409.4,840.4 409.8,893.0 410.2,897.7 410.6,897.0 411.0,894.4 411.4,897.2 411.7,891.5 412.1,895.7 412.5,900.3 412.9,898.6 413.3,902.9 413.7,902.5 414.1,858.5 414.5,884.4 414.9,877.5 415.3,885.8 415.7,893.6 416.1,903.5 416.5,903.2 416.9,902.2 417.3,880.5 417.7,851.3 418.1,863.0 418.5,898.6 418.9,902.3 419.3,891.4 419.7,884.1 420.1,899.3 420.5,903.7 420.9,902.6 421.3,875.9 421.7,877.6 422.1,879.7 422.5,888.1 422.9,885.6 423.3,893.5 423.7,900.4 424.0,901.3 424.4,903.4 424.8,900.0 425.2,881.8 425.6,871.1 426.0,872.0 426.4,892.0 426.8,894.7 427.2,889.5 427.6,891.1 428.0,876.8 428.4,873.2 428.8,879.0 429.2,883.0 429.6,859.3 430.0,813.3 430.4,821.6 430.8,825.7 431.2,886.2 431.6,718.3 432.0,730.7 432.4,889.9 432.8,884.0 433.2,882.4 433.6,864.7 434.0,875.6 434.4,897.2 434.8,900.5 435.2,897.7 435.6,895.9 436.0,904.6 436.3,901.8 436.7,893.0 437.1,889.6 437.5,890.6 437.9,913.0 438.3,912.0 438.7,913.5 439.1,915.0 439.5,913.6 439.9,915.1 440.3,914.0 440.7,913.7 441.1,911.1 441.5,912.4 441.9,911.9 442.3,911.8 442.7,913.4 443.1,903.3 443.5,895.6 443.9,905.4 444.3,895.6 444.7,897.1 445.1,912.9 445.5,914.9 445.9,915.4 446.3,915.1 446.7,913.5 447.1,914.5 447.5,911.0 447.9,900.9 448.3,904.6 448.6,900.8 449.0,914.2 449.4,901.8 449.8,913.4 450.2,913.5 450.6,913.4 451.0,914.4 451.4,914.1 451.8,910.3 452.2,909.7 452.6,915.0 453.0,913.0 453.4,906.8 453.8,906.8 454.2,914.2 454.6,914.1 455.0,914.1 455.4,914.1 455.8,901.2 456.2,908.7 456.6,901.9 457.0,913.6 457.4,909.1 457.8,913.8 458.2,914.1 458.6,913.4 459.0,914.5 459.4,914.7 459.8,913.2 460.2,914.9 460.6,914.4 460.9,914.8 461.3,914.8 461.7,913.3 462.1,914.0 462.5,914.2 462.9,914.6 463.3,912.9 463.7,914.0 464.1,914.2 464.5,913.4 464.9,913.8 465.3,912.3 465.7,895.6 466.1,902.2 466.5,906.0 466.9,906.5 467.3,914.1 467.7,913.5 468.1,914.2 468.5,913.6 468.9,911.3 469.3,910.0 469.7,908.7 470.1,913.2 470.5,913.4 470.9,913.6 471.3,913.4 471.7,911.7 472.1,913.0 472.5,913.3 472.9,913.2 473.2,912.8 473.6,900.0 474.0,913.0 474.4,900.0 474.8,894.5 475.2,902.3 475.6,894.5 476.0,912.7 476.4,911.8 476.8,913.0 477.2,912.2 477.6,911.3 478.0,895.0 478.4,896.7 478.8,913.2 479.2,912.7 479.6,912.3 480.0,907.7 480.4,902.3 480.8,907.0 481.2,900.8 481.6,912.3 482.0,902.8 482.4,899.4 482.8,904.2 483.2,911.6 483.6,910.4 484.0,911.7 484.4,911.7 484.8,911.3 485.2,911.7 485.5,911.6 485.9,911.7 486.3,910.1 486.7,908.7 487.1,906.1 487.5,906.8 487.9,911.1 488.3,910.8 488.7,910.8 489.1,908.1 489.5,903.6 489.9,899.5 490.3,909.5 490.7,910.3 491.1,910.8 491.5,910.0 491.9,910.4 492.3,903.8 492.7,903.9 493.1,902.4 493.5,903.9 493.9,903.2 494.3,909.3 494.7,909.7 495.1,909.8 495.5,909.1 495.9,906.6 496.3,906.2 496.7,909.7 497.1,906.6 497.5,910.0 497.9,910.0 498.2,904.4 498.6,903.0 499.0,901.3 499.4,903.7 499.8,910.2 500.2,909.2 500.6,909.6 501.0,910.3 501.4,906.0 501.8,903.2 502.2,906.5 502.6,906.8 503.0,909.7 503.4,909.2 503.8,909.7 504.2,909.2 504.6,901.5 505.0,910.0 505.4,910.0 505.8,909.4 506.2,909.8 506.6,904.7 507.0,901.6 507.4,902.0 507.8,908.8 508.2,909.3 508.6,900.1 509.0,898.5 509.4,908.8 509.8,909.2 510.2,909.2 510.5,909.4 510.9,909.7 511.3,909.2 511.7,909.7 512.1,909.4 512.5,908.7 512.9,904.5 513.3,908.5 513.7,908.7 514.1,908.2 514.5,907.9 514.9,908.7 515.3,907.9 515.7,908.1 516.1,907.3 516.5,907.5 516.9,906.4 517.3,907.2 517.7,906.9 518.1,905.9 518.5,902.9 518.9,898.0 519.3,904.8 519.7,898.4 520.1,904.1 520.5,904.0 520.9,903.7 521.3,902.4 521.7,901.9 522.1,901.4 522.5,901.0 522.8,900.5 523.2,899.8 523.6,897.9 524.0,892.6 524.4,892.0 524.8,892.3 525.2,897.0 525.6,895.8 526.0,895.4 526.4,893.3 526.8,894.1 527.2,893.3 527.6,890.5 528.0,891.8 528.4,890.9 528.8,870.1 529.2,889.4 529.6,887.5 530.0,887.2 530.4,873.6 530.8,872.3 531.2,884.6 531.6,857.2 532.0,842.6 532.4,853.4 532.8,886.6 533.2,874.9 533.6,887.6 534.0,856.1 534.4,834.7 534.8,831.1 535.1,826.7 535.5,830.0 535.9,900.3 536.3,901.4 536.7,900.8 537.1,905.8 537.5,904.1 537.9,907.3 538.3,910.6 538.7,909.2 539.1,913.0 539.5,915.1 539.9,913.9 540.3,913.7 540.7,915.9 541.1,914.4 541.5,910.3 541.9,907.6 542.3,915.7 542.7,915.3 543.1,915.1 543.5,914.4 543.9,917.7 544.3,917.7 544.7,915.2 545.1,910.3 545.5,913.8 545.9,918.0 546.3,917.8 546.7,917.0 547.1,917.0 547.4,917.1 547.8,917.8 548.2,917.3 548.6,917.5 549.0,917.2 549.4,914.8 549.8,916.4 550.2,915.1 550.6,917.1 551.0,917.4 551.4,911.8 551.8,914.2 552.2,918.4 552.6,917.7 553.0,917.5 553.4,918.0 553.8,917.1 554.2,915.4 554.6,915.2 555.0,913.9 555.4,916.9 555.8,917.6 556.2,917.2 556.6,918.0 557.0,917.7 557.4,917.9 557.8,917.7 558.2,917.7 558.6,913.1 559.0,913.7 559.4,907.8 559.7,913.2 560.1,911.3 560.5,917.6 560.9,917.6 561.3,917.7 561.7,916.8 562.1,917.8 562.5,917.8 562.9,917.1 563.3,917.7 563.7,917.3 564.1,917.9 564.5,917.8 564.9,909.3 565.3,917.9 565.7,909.6 566.1,918.0 566.5,917.8 566.9,918.1 567.3,918.0 567.7,914.1 568.1,917.3 568.5,913.0 568.9,917.5 569.3,917.8 569.7,917.2 570.1,918.1 570.5,912.6 570.9,916.0 571.3,913.2 571.7,918.1 572.0,908.9 572.4,918.0 572.8,918.3 573.2,917.2 573.6,917.7 574.0,909.8 574.4,914.4 574.8,916.8 575.2,917.2 575.6,916.4 576.0,916.3 576.4,909.9 576.8,916.0 577.2,915.5 577.6,917.6 578.0,917.6 578.4,917.8 578.8,917.5 579.2,917.5 579.6,917.6 580.0,917.7 580.4,917.5 580.8,917.4 581.2,917.1 581.6,917.5 582.0,917.7 582.4,917.9 582.8,917.4 583.2,917.6 583.6,917.4 584.0,916.8 584.3,917.0 584.7,917.4 585.1,917.4 585.5,917.1 585.9,915.2 586.3,917.3 586.7,917.1 587.1,915.0 587.5,917.1 587.9,916.8 588.3,917.1 588.7,917.2 589.1,916.8 589.5,911.6 589.9,917.2 590.3,917.2 590.7,917.2 591.1,916.9 591.5,917.1 591.9,912.7 592.3,912.6 592.7,913.7 593.1,912.7 593.5,908.9 593.9,911.9 594.3,917.6 594.7,916.7 595.1,916.7 595.5,917.3 595.9,916.4 596.3,916.8 596.6,914.1 597.0,913.7 597.4,914.9 597.8,917.1 598.2,917.4 598.6,915.3 599.0,917.6 599.4,917.1 599.8,909.0 600.2,917.1 600.6,915.6 601.0,913.2 601.4,916.7 601.8,917.0 602.2,916.7 602.6,917.1 603.0,917.1 603.4,916.8 603.8,917.2 604.2,915.0 604.6,914.7 605.0,915.3 605.4,914.9 605.8,912.6 606.2,912.8 606.6,912.8 607.0,912.8 607.4,909.6 607.8,910.6 608.2,917.2 608.6,916.5 609.0,917.4 609.3,917.5 609.7,917.3 610.1,917.3 610.5,917.2 610.9,913.2 611.3,913.5 611.7,917.5 612.1,917.4 612.5,916.0 612.9,917.8 613.3,915.0 613.7,917.4 614.1,917.2 614.5,917.1 614.9,917.0 615.3,910.7 615.7,909.1 616.1,908.5 616.5,916.7 616.9,917.3 617.3,917.2 617.7,917.9 618.1,917.3 618.5,917.9 618.9,917.9 619.3,917.2 619.7,917.6 620.1,917.5 620.5,917.3 620.9,917.0 621.3,917.3 621.6,917.1 622.0,917.2 622.4,917.2 622.8,917.1 623.2,916.5 623.6,916.3 624.0,916.9 624.4,916.6 624.8,911.2 625.2,912.2 625.6,917.4 626.0,917.3 626.4,915.5 626.8,915.4 627.2,912.2 627.6,913.8 628.0,911.9 628.4,913.2 628.8,916.6 629.2,916.4 629.6,916.9 630.0,916.8 630.4,916.6 630.8,916.6 631.2,917.2 631.6,917.1 632.0,911.7 632.4,911.5 632.8,914.1 633.2,913.0 633.6,914.8 633.9,912.8 634.3,916.9 634.7,912.2 635.1,917.3 635.5,915.9 635.9,915.9 636.3,914.3 636.7,916.3 637.1,915.8 637.5,916.0 637.9,915.4 638.3,915.8 638.7,916.5 639.1,916.4 639.5,916.1 639.9,915.9 640.3,916.2 640.7,915.3 641.1,915.8 641.5,916.5 641.9,916.3 642.3,916.3 642.7,912.0 643.1,916.9 643.5,912.1 643.9,916.2 644.3,916.1 644.7,916.4 645.1,915.9 645.5,917.0 645.9,915.0 646.2,914.4 646.6,916.2 647.0,908.0 647.4,916.5 647.8,912.6 648.2,912.7 648.6,911.7 649.0,913.3 649.4,912.8 649.8,916.7 650.2,916.7 650.6,917.1 651.0,914.3 651.4,911.2 651.8,910.6 652.2,915.5 652.6,910.9 653.0,916.8 653.4,917.1 653.8,917.0 654.2,916.4 654.6,917.5 655.0,916.6 655.4,918.1 655.8,917.8 656.2,917.9 656.6,918.0 657.0,916.6 657.4,915.7 657.8,917.3 658.2,917.5 658.5,916.4 658.9,905.0 659.3,911.3 659.7,906.8 660.1,916.3 660.5,917.4 660.9,916.8 661.3,916.6 661.7,916.4 662.1,915.5 662.5,916.8 662.9,906.2 663.3,910.6 663.7,905.9 664.1,916.8 664.5,914.4 664.9,915.9 665.3,917.1 665.7,915.0 666.1,917.1 666.5,916.6 666.9,917.0 667.3,916.8 667.7,917.5 668.1,898.4 668.5,878.3 668.9,916.9 669.3,915.5 669.7,914.8 670.1,916.2 670.5,917.3 670.8,917.7 671.2,917.7 671.6,917.7 672.0,916.6 672.4,916.2 672.8,917.6 673.2,917.2 673.6,905.8 674.0,905.9 674.4,913.3 674.8,908.9 675.2,916.2 675.6,916.5 676.0,917.4 676.4,916.6 676.8,916.4 677.2,916.5 677.6,916.7 678.0,916.9 678.4,913.9 678.8,915.4 679.2,911.3 679.6,914.7 680.0,916.6 680.4,918.0 680.8,918.7 681.2,920.0 681.6,919.2 682.0,917.2 682.4,918.3 682.8,914.5 683.1,912.9 683.5,909.3 683.9,885.0 684.3,900.3 684.7,897.1 685.1,889.5 685.5,886.9 685.9,882.0 686.3,873.9 686.7,863.8 687.1,858.1 687.5,851.3 687.9,845.5 688.3,840.0 688.7,834.3 689.1,829.7 689.5,825.3 689.9,810.0 690.3,815.7 690.7,821.1 691.1,821.3 691.5,821.1 691.9,821.7 692.3,820.1 692.7,819.8 693.1,817.4 693.5,817.1 693.9,815.5 694.3,814.6 694.7,813.5 695.1,803.3 695.4,813.9 695.8,814.9 696.2,817.7 696.6,811.0 697.0,809.5 697.4,811.3 697.8,820.7 698.2,832.9 698.6,833.0 699.0,836.8 699.4,835.9 699.8,839.1 700.2,841.6 700.6,817.7 701.0,841.5 701.4,823.5 701.8,790.0 702.2,857.8 702.6,858.9 703.0,857.4 703.4,861.5 703.8,864.3 704.2,870.3 704.6,832.4 705.0,836.3 705.4,872.9 705.8,871.9 706.2,871.3 706.6,773.3 707.0,782.9 707.4,877.6 707.7,879.2 708.1,881.8 708.5,875.6 708.9,885.7 709.3,883.7 709.7,891.9 710.1,890.9 710.5,891.2 710.9,894.7 711.3,898.6 711.7,771.7 712.1,782.4 712.5,888.6 712.9,835.7 713.3,888.9 713.7,890.4 714.1,888.7 714.5,877.9 714.9,882.9 715.3,892.1 715.7,821.4 716.1,845.5 716.5,745.0 716.9,755.4 717.3,883.8 717.7,887.9 718.1,882.6 718.5,889.2 718.9,879.9 719.3,886.6 719.7,884.8 720.1,893.6 720.4,895.3 720.8,809.5 721.2,772.4 721.6,740.0 722.0,742.9 722.4,906.8 722.8,895.5 723.2,893.7 723.6,894.6 724.0,865.7 724.4,863.2 724.8,871.8 725.2,837.4 725.6,862.8 726.0,892.4 726.4,899.6 726.8,906.7 727.2,897.5 727.6,746.7 728.0,757.4 728.4,760.8 728.8,902.6 729.2,804.6 729.6,895.1 730.0,887.4 730.4,885.0 730.8,880.1 731.2,790.3 731.6,873.4 732.0,808.5 732.4,873.8 732.7,872.4 733.1,763.3 733.5,866.0 733.9,823.0 734.3,825.3 734.7,843.0 735.1,878.9 735.5,881.8 735.9,887.2 736.3,890.2 736.7,893.7 737.1,894.9 737.5,895.2 737.9,898.9 738.3,900.8 738.7,903.6 739.1,894.1 739.5,902.6 739.9,881.6 740.3,908.4 740.7,860.5 741.1,861.9 741.5,914.8 741.9,910.5 742.3,908.6 742.7,909.5 743.1,852.5 743.5,901.3 743.9,894.0 744.3,892.7 744.7,893.0 745.0,888.7 745.4,883.8 745.8,862.5 746.2,856.7 746.6,849.8 747.0,863.0 747.4,854.6 747.8,877.9 748.2,806.7 748.6,817.3 749.0,879.7 749.4,877.6 749.8,877.7 750.2,882.9 750.6,884.0 751.0,863.1 751.4,866.1 751.8,832.5 752.2,855.2 752.6,896.9 753.0,903.7 753.4,903.3 753.8,911.5 754.2,910.5 754.6,908.9 755.0,867.5 755.4,886.6 755.8,864.0 756.2,875.3 756.6,856.5 757.0,881.6 757.3,914.8 757.7,915.2 758.1,913.8 758.5,910.9 758.9,916.3 759.3,916.1 759.7,899.4 760.1,876.7 760.5,891.6 760.9,919.7 761.3,922.7 761.7,852.8 762.1,851.1 762.5,871.2 762.9,922.2 763.3,922.7 763.7,915.7 764.1,877.8 764.5,899.1 764.9,849.7 765.3,873.7 765.7,843.2 766.1,916.5 766.5,905.7 766.9,910.4 767.3,904.7 767.7,855.1 768.1,815.3 768.5,905.7 768.9,905.6 769.3,905.9 769.6,898.3 770.0,869.2 770.4,842.0 770.8,853.3 771.2,908.8 771.6,740.0 772.0,902.7 772.4,901.5 772.8,873.5 773.2,891.9 773.6,895.0 774.0,908.4 774.4,909.4 774.8,907.8 775.2,871.7 775.6,916.4 776.0,863.3 776.4,889.5 776.8,907.5 777.2,908.1 777.6,913.0 778.0,922.4 778.4,928.9 778.8,929.1 779.2,923.1 779.6,926.9 780.0,924.5 780.4,920.9 780.8,920.3 781.2,913.0 781.6,907.4 781.9,912.1 782.3,905.6 782.7,909.3 783.1,907.2 783.5,907.9 783.9,907.4 784.3,832.5 784.7,803.0 785.1,753.3 785.5,767.2 785.9,904.2 786.3,909.8 786.7,908.7 787.1,910.9 787.5,854.6 787.9,864.2 788.3,900.6 788.7,911.1 789.1,903.9 789.5,908.7 789.9,898.0 790.3,904.4 790.7,895.1 791.1,892.9 791.5,865.8 791.9,876.3 792.3,830.4 792.7,855.3 793.1,855.5 793.5,866.9 793.9,861.4 794.2,867.9 794.6,863.8 795.0,786.7 795.4,855.0 795.8,865.4 796.2,844.2 796.6,828.4 797.0,845.0 797.4,864.6 797.8,857.8 798.2,833.0 798.6,848.2 799.0,863.6 799.4,863.4 799.8,868.8 800.2,875.2 800.6,851.4 801.0,863.1 801.4,852.7 801.8,854.3 802.2,886.0 802.6,865.5 803.0,861.0 803.4,778.3 803.8,791.4 804.2,821.2 804.6,861.9 805.0,894.0 805.4,902.8 805.8,902.3 806.2,912.6 806.5,914.3 806.9,918.5 807.3,924.8 807.7,930.7 808.1,933.3 808.5,925.7 808.9,916.7 809.3,921.4 809.7,925.5 810.1,935.5 810.5,932.8 810.9,935.3 811.3,934.5 811.7,936.1 812.1,936.3 812.5,933.9 812.9,935.0 813.3,935.6 813.7,935.8 814.1,936.0 814.5,937.5 814.9,936.9 815.3,929.6 815.7,924.0 816.1,929.5 816.5,936.9 816.9,937.8 817.3,932.3 817.7,932.5 818.1,934.1 818.5,934.0 818.8,933.5 819.2,931.2 819.6,934.0 820.0,938.3 820.4,932.9 820.8,937.9 821.2,938.2 821.6,938.2 822.0,937.4 822.4,937.4 822.8,938.0 823.2,938.1 823.6,938.8 824.0,935.6 824.4,934.1 824.8,935.0 825.2,938.4 825.6,938.3 826.0,938.1 826.4,933.0 826.8,934.0 827.2,931.3 827.6,935.2 828.0,939.0 828.4,938.9 828.8,938.9 829.2,937.9 829.6,938.4 830.0,938.7 830.4,938.9 830.8,938.3 831.2,938.6 831.5,939.0 831.9,938.9 832.3,938.4 832.7,938.2 833.1,938.3 833.5,939.0 833.9,939.1 834.3,939.3 834.7,939.5 835.1,939.5 835.5,938.9 835.9,939.7 836.3,939.5 836.7,938.8 837.1,939.1 837.5,939.6 837.9,939.6 838.3,938.7 838.7,940.0 839.1,930.4 839.5,940.1 839.9,930.2 840.3,934.8 840.7,939.6 841.1,940.1 841.5,940.7 841.9,941.0 842.3,933.6 842.7,935.0 843.1,928.6 843.5,929.7 843.8,934.4 844.2,940.3 844.6,940.6 845.0,940.5 845.4,940.5 845.8,936.4 846.2,933.7 846.6,939.4 847.0,939.6 847.4,935.7 847.8,928.4 848.2,941.3 848.6,933.7 849.0,928.1 849.4,941.0 849.8,937.1 850.2,937.2 850.6,936.7 851.0,937.1 851.4,937.4 851.8,940.5 852.2,941.7 852.6,941.6 853.0,933.8 853.4,931.8 853.8,932.5 854.2,933.3 854.6,941.7 855.0,936.3 855.4,857.5 855.8,941.1 856.1,939.5 856.5,938.5 856.9,938.0 857.3,937.9 857.7,938.1 858.1,910.5 858.5,924.7 858.9,916.6 859.3,937.2 859.7,936.6 860.1,935.4 860.5,934.1 860.9,933.2 861.3,889.1 861.7,929.3 862.1,933.7 862.5,932.0 862.9,930.4 863.3,922.3 863.7,926.3 864.1,926.1 864.5,926.0 864.9,879.3 865.3,845.8 865.7,891.6 866.1,869.8 866.5,845.4 866.9,823.7 867.3,929.1 867.7,817.3 868.1,827.8 868.4,932.4 868.8,916.5 869.2,893.0 869.6,894.9 870.0,922.3 870.4,857.7 870.8,900.6 871.2,931.8 871.6,928.9 872.0,932.3 872.4,926.2 872.8,926.9 873.2,889.1 873.6,913.5 874.0,875.1 874.4,878.6 874.8,888.3 875.2,931.6 875.6,935.5 876.0,934.0 876.4,927.2 876.8,901.2 877.2,853.3 877.6,881.5 878.0,932.2 878.4,931.6 878.8,929.9 879.2,927.9 879.6,928.9 880.0,930.9 880.4,855.4 880.7,930.7 881.1,926.2 881.5,925.3 881.9,926.0 882.3,919.8 882.7,895.8 883.1,868.0 883.5,859.6 883.9,912.2 884.3,913.0 884.7,909.8 885.1,909.5 885.5,900.0 885.9,839.8 886.3,861.8 886.7,810.0 887.1,814.6 887.5,900.0 887.9,905.5 888.3,854.9 888.7,901.5 889.1,895.5 889.5,902.7 889.9,882.9 890.3,902.1 890.7,914.7 891.1,878.0 891.5,850.4 891.9,916.8 892.3,924.2 892.7,925.6 893.0,925.2 893.4,926.8 893.8,923.3 894.2,927.7 894.6,925.9 895.0,929.6 895.4,929.7 895.8,905.1 896.2,900.5 896.6,884.2 897.0,891.0 897.4,888.6 897.8,930.3 898.2,930.9 898.6,918.7 899.0,923.9 899.4,917.7 899.8,920.7 900.2,924.3 900.6,928.2 901.0,856.1 901.4,911.7 901.8,933.2 902.2,930.2 902.6,863.1 903.0,935.3 903.4,864.8 903.8,933.4 904.2,931.7 904.6,937.3 905.0,935.4 905.3,932.2 905.7,936.4 906.1,935.4 906.5,923.8 906.9,916.6 907.3,906.7 907.7,920.0 908.1,930.4 908.5,933.5 908.9,928.2 909.3,935.0 909.7,936.0 910.1,883.0 910.5,931.4 910.9,861.5 911.3,868.2 911.7,891.7 912.1,934.9 912.5,936.6 912.9,860.3 913.3,867.0 913.7,893.5 914.1,934.6 914.5,902.3 914.9,898.9 915.3,936.6 915.7,936.5 916.1,932.7 916.5,935.4 916.9,934.4 917.3,927.4 917.6,932.2 918.0,928.6 918.4,928.7 918.8,931.3 919.2,926.8 919.6,870.8 920.0,930.8 920.4,906.8 920.8,898.1 921.2,907.7 921.6,929.1 922.0,929.3 922.4,923.9 922.8,932.0 923.2,928.0 923.6,927.9 924.0,934.6 924.4,935.6 924.8,935.9 925.2,937.3 925.6,938.2 926.0,933.4 926.4,940.1 926.8,940.5 927.2,941.5 927.6,858.1 928.0,880.0 928.4,921.4 928.8,907.3 929.2,899.5 929.6,891.9 930.0,932.2 930.3,937.0 930.7,936.1 931.1,934.4 931.5,929.7 931.9,925.9 932.3,930.8 932.7,908.2 933.1,930.8 933.5,904.1 933.9,930.5 934.3,926.3 934.7,927.2 935.1,928.7 935.5,924.8 935.9,923.2 936.3,859.1 936.7,926.4 937.1,923.7 937.5,921.6 937.9,926.5 938.3,925.9 938.7,919.3 939.1,918.9 939.5,923.6 939.9,922.0 940.3,918.5 940.7,920.3 941.1,856.7 941.5,853.1 941.9,833.9 942.3,871.9 942.6,838.5 943.0,915.5 943.4,910.0 943.8,913.0 944.2,801.7 944.6,803.6 945.0,911.9 945.4,910.9 945.8,902.4 946.2,901.2 946.6,907.5 947.0,907.0 947.4,858.4 947.8,904.1 948.2,904.3 948.6,906.4 949.0,901.7 949.4,906.2 949.8,901.3 950.2,900.9 950.6,907.6 951.0,906.0 951.4,905.8 951.8,909.7 952.2,904.3 952.6,874.3 953.0,909.7 953.4,889.0 953.8,898.7 954.2,902.6 954.6,906.6 954.9,890.0 955.3,901.8 955.7,905.2 956.1,905.9 956.5,907.5 956.9,909.3 957.3,889.8 957.7,888.2 958.1,905.3 958.5,849.9 958.9,902.1 959.3,898.6 959.7,897.7 960.1,856.0 960.5,894.6 960.9,891.1 961.3,889.7 961.7,886.3 962.1,880.4 962.5,865.3 962.9,859.0 963.3,878.2 963.7,879.4 964.1,878.3 964.5,810.0 964.9,811.0 965.3,839.1 965.7,847.8 966.1,888.1 966.5,867.5 966.9,863.8 967.2,870.3 967.6,900.1 968.0,897.9 968.4,902.7 968.8,876.2 969.2,901.4 969.6,872.3 970.0,905.8 970.4,907.3 970.8,906.9 971.2,873.5 971.6,883.7 972.0,907.3 972.4,856.1 972.8,909.6 973.2,908.3 973.6,905.5 974.0,905.9 974.4,903.6 974.8,905.9 975.2,901.4 975.6,904.3 976.0,897.3 976.4,909.5 976.8,908.4 977.2,908.3 977.6,910.1 978.0,910.1 978.4,908.8 978.8,909.4 979.2,901.9 979.5,904.0 979.9,905.5 980.3,909.6 980.7,909.2 981.1,902.3 981.5,900.9 981.9,895.7 982.3,900.1 982.7,908.3 983.1,909.4 983.5,909.2 983.9,909.5 984.3,909.2 984.7,860.9 985.1,902.0 985.5,910.0 985.9,910.7 986.3,911.0 986.7,910.9 987.1,911.2 987.5,911.2 987.9,909.9 988.3,911.2 988.7,908.2 989.1,905.0 989.5,905.2 989.9,904.8 990.3,910.2 990.7,899.4 991.1,910.0 991.5,905.8 991.8,910.2 992.2,910.2 992.6,908.8 993.0,910.0 993.4,909.2 993.8,909.3 994.2,909.3 994.6,909.8 995.0,907.6 995.4,910.1 995.8,905.2 996.2,910.0 996.6,909.5 997.0,909.0 997.4,894.7 997.8,909.9 998.2,901.7 998.6,910.0 999.0,858.2 999.4,910.0 999.8,909.3 1000.2,910.0 1000.6,908.6 1001.0,909.5 1001.4,903.5 1001.8,905.4 1002.2,909.5 1002.6,909.8 1003.0,908.5 1003.4,909.9 1003.8,909.9 1004.1,910.0 1004.5,909.9 1004.9,902.2 1005.3,897.3 1005.7,907.4 1006.1,909.2 1006.5,908.8 1006.9,907.8 1007.3,907.7 1007.7,909.6 1008.1,908.1 1008.5,908.3 1008.9,908.3 1009.3,905.1 1009.7,859.7 1010.1,884.9 1010.5,904.5 1010.9,881.4 1011.3,903.9 1011.7,901.8 1012.1,897.9 1012.5,884.2 1012.9,867.6 1013.3,864.6 1013.7,865.2 1014.1,887.5 1014.5,885.0 1014.9,882.9 1015.3,881.1 1015.7,879.4 1016.1,875.4 1016.4,871.8 1016.8,869.0 1017.2,868.7 1017.6,865.6 1018.0,865.6 1018.4,861.9 1018.8,862.6 1019.2,862.6 1019.6,859.4 1020.0,859.5 1020.4,848.9 1020.8,839.7 1021.2,857.9 1021.6,837.3 1022.0,850.9 1022.4,853.2 1022.8,852.4 1023.2,853.0 1023.6,852.6 1024.0,833.3 1024.4,832.7 1024.8,843.9 1025.2,840.7 1025.6,844.6 1026.0,849.6 1026.4,852.0 1026.8,849.8 1027.2,830.1 1027.6,839.5 1028.0,850.9 1028.4,837.3 1028.7,834.6 1029.1,821.4 1029.5,848.5 1029.9,847.5 1030.3,846.1 1030.7,849.9 1031.1,852.3 1031.5,853.2 1031.9,855.3 1032.3,858.3 1032.7,860.4 1033.1,862.1 1033.5,843.2 1033.9,814.0 1034.3,822.1 1034.7,865.0 1035.1,796.7 1035.5,875.1 1035.9,878.5 1036.3,879.2 1036.7,882.2 1037.1,881.1 1037.5,885.7 1037.9,884.4 1038.3,888.9 1038.7,891.4 1039.1,864.8 1039.5,860.2 1039.9,873.6 1040.3,897.3 1040.7,897.4 1041.1,898.4 1041.4,899.2 1041.8,899.6 1042.2,894.8 1042.6,899.0 1043.0,798.2 1043.4,845.4 1043.8,904.6 1044.2,908.0 1044.6,879.9 1045.0,863.8 1045.4,914.4 1045.8,916.5 1046.2,844.8 1046.6,776.7 1047.0,782.0 1047.4,828.5 1047.8,810.0 1048.2,811.7 1048.6,797.5 1049.0,907.6 1049.4,784.5 1049.8,794.6 1050.2,811.4 1050.6,905.2 1051.0,911.0 1051.4,907.8 1051.8,755.0 1052.2,764.9 1052.6,897.6 1053.0,892.5 1053.4,898.3 1053.7,895.7 1054.1,908.1 1054.5,908.0 1054.9,910.1 1055.3,911.7 1055.7,861.4 1056.1,861.5 1056.5,748.3 1056.9,749.6 1057.3,837.5 1057.7,870.5 1058.1,902.1 1058.5,906.0 1058.9,896.2 1059.3,910.1 1059.7,837.6 1060.1,866.0 1060.5,859.7 1060.9,875.6 1061.3,908.5 1061.7,838.1 1062.1,874.6 1062.5,746.7 1062.9,915.6 1063.3,905.1 1063.7,920.9 1064.1,909.6 1064.5,898.0 1064.9,904.0 1065.3,884.3 1065.7,873.1 1066.0,846.8 1066.4,879.5 1066.8,895.2 1067.2,919.6 1067.6,927.1 1068.0,917.6 1068.4,780.0 1068.8,780.5 1069.2,923.4 1069.6,917.2 1070.0,928.8 1070.4,926.7 1070.8,915.6 1071.2,888.1 1071.6,854.2 1072.0,914.3 1072.4,873.3 1072.8,891.0 1073.2,909.8 1073.6,876.5 1074.0,913.2 1074.4,889.7 1074.8,910.4 1075.2,803.3 1075.6,813.4 1076.0,910.9 1076.4,908.2 1076.8,817.8 1077.2,817.3 1077.6,816.0 1078.0,839.4 1078.3,839.9 1078.7,892.3 1079.1,898.0 1079.5,890.8 1079.9,897.1 1080.3,889.2 1080.7,863.8 1081.1,882.3 1081.5,849.1 1081.9,886.3 1082.3,813.4 1082.7,812.8 1083.1,880.3 1083.5,842.5 1083.9,836.3 1084.3,788.3 1084.7,865.9 1085.1,887.9 1085.5,886.0 1085.9,858.5 1086.3,862.3 1086.7,897.4 1087.1,904.5 1087.5,910.8 1087.9,910.5 1088.3,922.3 1088.7,927.4 1089.1,932.3 1089.5,933.5 1089.9,938.4 1090.3,941.1 1090.6,944.1 1091.0,943.1 1091.4,946.5 1091.8,945.8 1092.2,944.6 1092.6,943.9 1093.0,945.1 1093.4,946.4 1093.8,943.1 1094.2,946.1 1094.6,942.1 1095.0,949.6 1095.4,947.3 1095.8,950.3 1096.2,946.2 1096.6,949.1 1097.0,946.2 1097.4,946.1 1097.8,945.5 1098.2,947.4 1098.6,947.5 1099.0,948.9 1099.4,948.4 1099.8,944.4 1100.2,942.7 1100.6,948.1 1101.0,947.1 1101.4,948.6 1101.8,927.0 1102.2,945.5 1102.6,905.2 1102.9,912.6 1103.3,945.4 1103.7,950.0 1104.1,945.2 1104.5,950.0 1104.9,950.2 1105.3,950.2 1105.7,950.1 1106.1,949.0 1106.5,950.7 1106.9,946.1 1107.3,949.7 1107.7,910.4 1108.1,907.0 1108.5,933.6 1108.9,937.6 1109.3,916.0 1109.7,921.7 1110.1,952.0 1110.5,951.7 1110.9,952.1 1111.3,950.0 1111.7,947.2 1112.1,951.7 1112.5,952.8 1112.9,946.6 1113.3,947.6 1113.7,952.4 1114.1,951.7 1114.5,926.1 1114.9,943.6 1115.2,950.2 1115.6,941.7 1116.0,945.8 1116.4,947.3 1116.8,947.0 1117.2,944.5 1117.6,946.8 1118.0,946.1 1118.4,940.9 1118.8,944.6 1119.2,886.9 1119.6,900.7 1120.0,912.9 1120.4,939.5 1120.8,935.7 1121.2,908.0 1121.6,906.2 1122.0,919.6 1122.4,911.2 1122.8,933.6 1123.2,926.7 1123.6,926.4 1124.0,929.1 1124.4,855.1 1124.8,850.0 1125.2,880.5 1125.6,926.4 1126.0,927.2 1126.4,928.7 1126.8,922.2 1127.2,891.4 1127.5,929.5 1127.9,922.8 1128.3,928.3 1128.7,929.5 1129.1,924.4 1129.5,930.8 1129.9,930.5 1130.3,915.1 1130.7,915.1 1131.1,899.9 1131.5,910.3 1131.9,912.4 1132.3,920.6 1132.7,928.9 1133.1,921.5 1133.5,929.8 1133.9,927.9 1134.3,922.1 1134.7,925.6 1135.1,870.8 1135.5,857.7 1135.9,911.9 1136.3,912.7 1136.7,901.5 1137.1,909.6 1137.5,920.9 1137.9,909.3 1138.3,815.0 1138.7,923.7 1139.1,924.0 1139.5,922.1 1139.8,921.0 1140.2,915.3 1140.6,915.4 1141.0,919.6 1141.4,914.3 1141.8,917.6 1142.2,923.1 1142.6,922.8 1143.0,913.5 1143.4,904.7 1143.8,927.4 1144.2,914.5 1144.6,928.7 1145.0,929.0 1145.4,928.1 1145.8,929.7 1146.2,931.1 1146.6,928.9 1147.0,922.7 1147.4,928.5 1147.8,924.0 1148.2,923.7 1148.6,928.8 1149.0,926.3 1149.4,926.4 1149.8,916.1 1150.2,908.2 1150.6,911.4 1151.0,920.3 1151.4,927.5 1151.8,927.6 1152.2,925.5 1152.5,923.3 1152.9,922.4 1153.3,918.8 1153.7,904.2 1154.1,905.3 1154.5,894.9 1154.9,848.0 1155.3,922.5 1155.7,844.7 1156.1,857.9 1156.5,924.7 1156.9,923.5 1157.3,925.3 1157.7,921.6 1158.1,923.1 1158.5,929.4 1158.9,929.9 1159.3,924.0 1159.7,924.1 1160.1,859.9 1160.5,897.0 1160.9,857.8 1161.3,887.8 1161.7,922.8 1162.1,922.8 1162.5,921.7 1162.9,915.6 1163.3,920.8 1163.7,931.6 1164.1,931.1 1164.5,930.2 1164.8,929.3 1165.2,927.6 1165.6,926.3 1166.0,926.6 1166.4,927.6 1166.8,927.8 1167.2,925.1 1167.6,919.7 1168.0,918.7 1168.4,917.4 1168.8,916.5 1169.2,918.8 1169.6,910.5 1170.0,900.7 1170.4,907.9 1170.8,915.6 1171.2,895.4 1171.6,906.8 1172.0,917.2 1172.4,913.8 1172.8,915.4 1173.2,913.5 1173.6,919.4 1174.0,917.3 1174.4,916.1 1174.8,923.8 1175.2,917.8 1175.6,900.6 1176.0,879.8 1176.4,901.8 1176.8,929.7 1177.1,929.9 1177.5,931.2 1177.9,926.3 1178.3,930.2 1178.7,915.2 1179.1,916.0 1179.5,907.0 1179.9,925.3 1180.3,920.9 1180.7,917.2 1181.1,919.5 1181.5,919.0 1181.9,915.7 1182.3,919.4 1182.7,895.2 1183.1,882.7 1183.5,891.2 1183.9,897.7 1184.3,915.5 1184.7,921.2 1185.1,917.2 1185.5,883.7 1185.9,885.5 1186.3,925.3 1186.7,926.3 1187.1,928.6 1187.5,932.6 1187.9,928.8 1188.3,935.4 1188.7,932.7 1189.1,936.7 1189.4,928.5 1189.8,926.8 1190.2,930.4 1190.6,902.7 1191.0,878.8 1191.4,923.5 1191.8,930.3 1192.2,929.6 1192.6,925.0 1193.0,922.3 1193.4,919.3 1193.8,912.4 1194.2,914.5 1194.6,913.9 1195.0,873.4 1195.4,828.4 1195.8,830.5 1196.2,906.2 1196.6,902.6 1197.0,902.6 1197.4,821.0 1197.8,838.1 1198.2,813.3 1198.6,818.6 1199.0,894.8 1199.4,892.4 1199.8,835.0 1200.2,844.9 1200.6,895.4 1201.0,895.5 1201.4,893.4 1201.7,871.8 1202.1,882.2 1202.5,871.1 1202.9,886.1 1203.3,880.8 1203.7,892.3 1204.1,890.2 1204.5,858.5 1204.9,849.5 1205.3,832.0 1205.7,851.9 1206.1,844.4 1206.5,899.4 1206.9,841.0 1207.3,842.4 1207.7,836.8 1208.1,837.4 1208.5,913.5 1208.9,839.1 1209.3,867.3 1209.7,924.6 1210.1,923.6 1210.5,922.7 1210.9,927.3 1211.3,910.7 1211.7,903.1 1212.1,904.7 1212.5,929.8 1212.9,880.0 1213.3,906.4 1213.7,893.1 1214.0,933.3 1214.4,936.9 1214.8,933.2 1215.2,933.2 1215.6,907.3 1216.0,934.6 1216.4,931.0 1216.8,926.3 1217.2,927.3 1217.6,926.5 1218.0,921.4 1218.4,920.8 1218.8,921.4 1219.2,916.6 1219.6,918.0 1220.0,913.7 1220.4,917.4 1220.8,913.2 1221.2,915.4 1221.6,917.3 1222.0,918.2 1222.4,913.6 1222.8,915.6 1223.2,910.9 1223.6,867.9 1224.0,891.0 1224.4,889.4 1224.8,903.5 1225.2,897.0 1225.6,913.3 1226.0,914.1 1226.3,909.0 1226.7,916.4 1227.1,911.6 1227.5,917.8 1227.9,918.6 1228.3,878.5 1228.7,919.9 1229.1,916.6 1229.5,919.5 1229.9,914.4 1230.3,917.3 1230.7,918.8 1231.1,916.1 1231.5,914.0 1231.9,911.1 1232.3,914.6 1232.7,904.9 1233.1,871.7 1233.5,856.8 1233.9,864.9 1234.3,831.7 1234.7,848.4 1235.1,902.2 1235.5,891.3 1235.9,894.2 1236.3,895.1 1236.7,886.2 1237.1,896.4 1237.5,893.8 1237.9,891.6 1238.3,733.3 1238.6,741.2 1239.0,841.2 1239.4,864.5 1239.8,892.6 1240.2,900.2 1240.6,901.3 1241.0,901.5 1241.4,907.9 1241.8,907.8 1242.2,846.7 1242.6,879.8 1243.0,917.7 1243.4,923.0 1243.8,922.7 1244.2,927.2 1244.6,929.8 1245.0,916.2 1245.4,925.8 1245.8,909.4 1246.2,911.9 1246.6,931.5 1247.0,933.1 1247.4,928.1 1247.8,929.1 1248.2,932.8 1248.6,928.4 1249.0,931.6 1249.4,929.7 1249.8,919.4 1250.2,932.1 1250.6,913.0 1250.9,923.9 1251.3,927.9 1251.7,914.8 1252.1,911.8 1252.5,930.0 1252.9,920.9 1253.3,928.6 1253.7,929.2 1254.1,906.9 1254.5,902.3 1254.9,891.7 1255.3,925.0 1255.7,894.6 1256.1,929.8 1256.5,906.3 1256.9,899.8 1257.3,888.9 1257.7,890.0 1258.1,898.5 1258.5,925.8 1258.9,921.8 1259.3,922.8 1259.7,872.0 1260.1,873.7 1260.5,848.1 1260.9,919.6 1261.3,926.2 1261.7,926.6 1262.1,899.7 1262.5,873.7 1262.9,886.6 1263.3,865.5 1263.6,840.9 1264.0,923.3 1264.4,917.2 1264.8,914.8 1265.2,877.2 1265.6,860.2 1266.0,921.2 1266.4,921.4 1266.8,919.6 1267.2,920.0 1267.6,920.7 1268.0,878.0 1268.4,868.7 1268.8,894.7 1269.2,911.8 1269.6,889.3 1270.0,919.0 1270.4,875.2 1270.8,913.5 1271.2,908.0 1271.6,911.4 1272.0,916.8 1272.4,914.9 1272.8,915.5 1273.2,911.5 1273.6,912.4 1274.0,911.2 1274.4,897.8 1274.8,884.6 1275.2,892.9 1275.6,883.8 1275.9,881.2 1276.3,893.8 1276.7,905.8 1277.1,895.6 1277.5,856.5 1277.9,886.0 1278.3,793.3 1278.7,866.3 1279.1,891.2 1279.5,896.3 1279.9,890.9 1280.3,886.0 1280.7,892.2 1281.1,893.7 1281.5,890.6 1281.9,891.7 1282.3,895.1 1282.7,893.4 1283.1,839.3 1283.5,842.1 1283.9,895.3 1284.3,888.8 1284.7,849.2 1285.1,893.8 1285.5,832.1 1285.9,891.0 1286.3,841.9 1286.7,891.9 1287.1,888.0 1287.5,845.9 1287.9,840.7 1288.2,820.0 1288.6,844.8 1289.0,885.3 1289.4,885.8 1289.8,878.4 1290.2,879.3 1290.6,878.9 1291.0,874.2 1291.4,848.4 1291.8,851.9 1292.2,870.1 1292.6,867.3 1293.0,866.5 1293.4,864.6 1293.8,864.4 1294.2,865.4 1294.6,865.5 1295.0,865.1 1295.4,862.7 1295.8,854.7 1296.2,857.9 1296.6,848.5 1297.0,864.2 1297.4,866.0 1297.8,866.8 1298.2,871.8 1298.6,862.5 1299.0,877.0 1299.4,867.8 1299.8,870.4 1300.2,881.6 1300.5,888.8 1300.9,892.1 1301.3,895.8 1301.7,899.3 1302.1,909.0 1302.5,906.6 1302.9,912.9 1303.3,918.5 1303.7,919.8 1304.1,923.2 1304.5,929.1 1304.9,928.3 1305.3,931.0 1305.7,935.1 1306.1,944.1 1306.5,945.2 1306.9,939.5 1307.3,945.9 1307.7,950.0 1308.1,944.2 1308.5,949.4 1308.9,881.8 1309.3,877.4 1309.7,918.7 1310.1,891.6 1310.5,939.5 1310.9,945.2 1311.3,946.6 1311.7,943.3 1312.1,942.2 1312.5,944.1 1312.8,886.9 1313.2,875.4 1313.6,871.7 1314.0,955.6 1314.4,952.4 1314.8,957.7 1315.2,952.9 1315.6,958.7 1316.0,961.1 1316.4,960.9 1316.8,962.2 1317.2,962.0 1317.6,913.4 1318.0,964.4 1318.4,966.1 1318.8,961.7 1319.2,964.7 1319.6,958.7 1320.0,966.6 1320.4,960.2 1320.8,884.2 1321.2,958.8 1321.6,900.2 1322.0,964.9 1322.4,915.0 1322.8,964.3 1323.2,903.2 1323.6,938.5 1324.0,956.7 1324.4,959.5 1324.8,962.0 1325.1,960.2 1325.5,963.8 1325.9,963.5 1326.3,962.6 1326.7,960.3 1327.1,954.3 1327.5,962.6 1327.9,915.9 1328.3,879.8 1328.7,954.6 1329.1,920.7 1329.5,957.0 1329.9,958.9 1330.3,952.0 1330.7,957.8 1331.1,954.9 1331.5,939.1 1331.9,920.7 1332.3,928.6 1332.7,926.8 1333.1,948.7 1333.5,921.0 1333.9,919.3 1334.3,946.6 1334.7,952.9 1335.1,954.1 1335.5,940.8 1335.9,930.5 1336.3,952.1 1336.7,953.0 1337.1,949.2 1337.4,932.2 1337.8,940.8 1338.2,929.4 1338.6,936.5 1339.0,956.1 1339.4,956.5 1339.8,956.9 1340.2,957.0 1340.6,955.5 1341.0,957.6 1341.4,949.3 1341.8,958.8 1342.2,914.2 1342.6,908.9 1343.0,916.1 1343.4,920.7 1343.8,915.6 1344.2,923.9 1344.6,954.2 1345.0,959.9 1345.4,955.1 1345.8,959.8 1346.2,952.2 1346.6,959.2 1347.0,959.1 1347.4,885.2 1347.8,902.1 1348.2,883.8 1348.6,965.1 1349.0,963.6 1349.4,951.9 1349.7,962.2 1350.1,961.6 1350.5,958.7 1350.9,951.0 1351.3,912.4 1351.7,914.8 1352.1,853.7 1352.5,893.3 1352.9,953.0 1353.3,815.0 1353.7,950.2 1354.1,948.8 1354.5,842.1 1354.9,845.0 1355.3,868.8 1355.7,946.2 1356.1,897.1 1356.5,949.9 1356.9,950.7 1357.3,945.9 1357.7,952.2 1358.1,951.0 1358.5,928.3 1358.9,945.1 1359.3,942.3 1359.7,953.5 1360.1,959.0 1360.5,959.3 1360.9,959.8 1361.3,958.2 1361.7,964.7 1362.0,880.2 1362.4,959.4 1362.8,956.2 1363.2,961.1 1363.6,923.3 1364.0,892.6 1364.4,937.0 1364.8,961.0 1365.2,969.3 1365.6,968.8 1366.0,965.2 1366.4,949.2 1366.8,932.4 1367.2,948.0 1367.6,968.0 1368.0,926.6 1368.4,897.8 1368.8,919.6 1369.2,962.8 1369.6,966.1 1370.0,966.0 1370.4,961.0 1370.8,959.6 1371.2,964.5 1371.6,964.1 1372.0,959.1 1372.4,958.9 1372.8,964.5 1373.2,963.9 1373.6,928.1 1374.0,959.4 1374.4,962.3 1374.7,957.7 1375.1,959.2 1375.5,961.8 1375.9,961.3 1376.3,916.0 1376.7,904.7 1377.1,963.1 1377.5,960.6 1377.9,962.9 1378.3,962.8 1378.7,918.0 1379.1,921.2 1379.5,900.3 1379.9,913.7 1380.3,943.1 1380.7,936.0 1381.1,950.7 1381.5,959.6 1381.9,958.9 1382.3,960.8 1382.7,955.1 1383.1,958.8 1383.5,962.5 1383.9,959.1 1384.3,962.2 1384.7,961.4 1385.1,926.4 1385.5,912.6 1385.9,960.3 1386.3,961.1 1386.7,952.5 1387.0,912.2 1387.4,956.7 1387.8,882.4 1388.2,951.3 1388.6,935.9 1389.0,920.3 1389.4,951.7 1389.8,921.7 1390.2,956.9 1390.6,950.1 1391.0,958.2 1391.4,959.0 1391.8,952.1 1392.2,952.8 1392.6,949.3 1393.0,953.8 1393.4,957.3 1393.8,961.3 1394.2,955.2 1394.6,958.3 1395.0,959.9 1395.4,901.8 1395.8,883.6 1396.2,906.4 1396.6,962.6 1397.0,953.7 1397.4,957.1 1397.8,874.7 1398.2,866.2 1398.6,958.4 1399.0,866.3 1399.3,881.4 1399.7,900.2 1400.1,951.5 1400.5,961.0 1400.9,952.2 1401.3,957.2 1401.7,954.8 1402.1,952.8 1402.5,943.5 1402.9,949.4 1403.3,941.0 1403.7,944.6 1404.1,946.8 1404.5,937.0 1404.9,820.0 1405.3,824.3 1405.7,935.0 1406.1,944.5 1406.5,944.0 1406.9,897.2 1407.3,894.7 1407.7,865.7 1408.1,907.4 1408.5,904.3 1408.9,934.2 1409.3,941.8 1409.7,942.3 1410.1,939.5 1410.5,943.0 1410.9,923.5 1411.3,920.2 1411.6,933.2 1412.0,922.2 1412.4,900.3 1412.8,882.8 1413.2,940.1 1413.6,932.6 1414.0,940.4 1414.4,935.3 1414.8,939.8 1415.2,940.6 1415.6,939.3 1416.0,843.4 1416.4,939.8 1416.8,939.5 1417.2,932.1 1417.6,924.0 1418.0,900.9 1418.4,938.6 1418.8,914.8 1419.2,813.3 1419.6,821.4 1420.0,865.3 1420.4,842.9 1420.8,950.5 1421.2,864.3 1421.6,954.4 1422.0,946.3 1422.4,958.1 1422.8,956.6 1423.2,959.8 1423.6,914.2 1423.9,881.5 1424.3,854.2 1424.7,903.5 1425.1,861.3 1425.5,890.2 1425.9,962.5 1426.3,963.0 1426.7,966.1 1427.1,897.4 1427.5,909.7 1427.9,879.3 1428.3,903.7 1428.7,922.8 1429.1,960.2 1429.5,915.1 1429.9,941.3 1430.3,928.6 1430.7,962.9 1431.1,962.7 1431.5,957.2 1431.9,959.0 1432.3,951.1 1432.7,955.7 1433.1,957.6 1433.5,956.1 1433.9,951.6 1434.3,953.7 1434.7,949.5 1435.1,934.2 1435.5,928.5 1435.9,931.5 1436.2,942.2 1436.6,907.7 1437.0,905.7 1437.4,953.0 1437.8,947.6 1438.2,949.8 1438.6,951.2 1439.0,948.9 1439.4,954.4 1439.8,951.7 1440.2,948.8 1440.6,952.1 1441.0,948.6 1441.4,955.1 1441.8,948.2 1442.2,955.4 1442.6,930.1 1443.0,919.9 1443.4,899.2 1443.8,915.7 1444.2,933.4 1444.6,939.4 1445.0,953.1 1445.4,954.8 1445.8,955.7 1446.2,952.7 1446.6,950.2 1447.0,949.6 1447.4,952.2 1447.8,951.7 1448.2,917.1 1448.5,926.8 1448.9,956.3 1449.3,957.4 1449.7,951.0 1450.1,951.3 1450.5,957.2 1450.9,951.0 1451.3,958.1 1451.7,952.9 1452.1,958.9 1452.5,944.2 1452.9,927.1 1453.3,933.7 1453.7,955.8 1454.1,954.7 1454.5,953.4 1454.9,952.0 1455.3,951.6 1455.7,943.3 1456.1,946.1 1456.5,944.8 1456.9,945.7 1457.3,942.8 1457.7,886.5 1458.1,915.9 1458.5,942.2 1458.9,818.3 1459.3,832.4 1459.7,939.3 1460.1,887.8 1460.5,939.3 1460.8,932.1 1461.2,935.4 1461.6,931.0 1462.0,934.8 1462.4,932.7 1462.8,942.4 1463.2,897.8 1463.6,942.0 1464.0,840.2 1464.4,898.6 1464.8,946.0 1465.2,867.9 1465.6,851.5 1466.0,857.1 1466.4,894.1 1466.8,876.6 1467.2,869.5 1467.6,948.4 1468.0,941.4 1468.4,944.6 1468.8,946.7 1469.2,946.5 1469.6,946.5 1470.0,936.8 1470.4,930.6 1470.8,951.2 1471.2,942.3 1471.6,947.3 1472.0,894.8 1472.4,854.0 1472.8,927.3 1473.1,951.1 1473.5,953.1 1473.9,954.2 1474.3,951.9 1474.7,954.8 1475.1,953.2 1475.5,900.0 1475.9,910.4 1476.3,893.3 1476.7,924.0 1477.1,915.1 1477.5,957.5 1477.9,917.8 1478.3,951.4 1478.7,953.9 1479.1,950.6 1479.5,938.0 1479.9,939.4 1480.3,939.8 1480.7,927.3 1481.1,912.1 1481.5,886.1 1481.9,920.9 1482.3,878.8 1482.7,890.0 1483.1,845.1 1483.5,842.3 1483.9,870.0 1484.3,893.6 1484.7,893.2 1485.1,886.4 1485.5,887.9 1485.8,886.1 1486.2,881.0 1486.6,859.5 1487.0,856.4 1487.4,876.0 1487.8,878.6 1488.2,875.8 1488.6,876.9 1489.0,867.7 1489.4,862.0 1489.8,853.9 1490.2,864.6 1490.6,858.6 1491.0,875.3 1491.4,875.6 1491.8,872.3 1492.2,875.3 1492.6,875.1 1493.0,860.6 1493.4,861.2 1493.8,876.9 1494.2,874.4 1494.6,860.2 1495.0,868.5 1495.4,872.8 1495.8,873.9 1496.2,872.9 1496.6,877.7 1497.0,875.3 1497.4,857.6 1497.8,885.6 1498.1,888.5 1498.5,891.1 1498.9,891.1 1499.3,893.9 1499.7,890.2 1500.1,896.1 1500.5,897.4 1500.9,891.8 1501.3,899.3 1501.7,860.7 1502.1,851.8 1502.5,900.9 1502.9,904.0 1503.3,902.4 1503.7,907.4 1504.1,904.5 1504.5,909.8 1504.9,912.2 1505.3,913.6 1505.7,916.4 1506.1,911.4 1506.5,912.8 1506.9,919.3 1507.3,908.3 1507.7,882.7 1508.1,884.0 1508.5,786.7 1508.9,788.2 1509.3,902.7 1509.7,888.4 1510.1,912.8 1510.4,922.6 1510.8,918.1 1511.2,921.5 1511.6,913.4 1512.0,924.3 1512.4,896.6 1512.8,888.8 1513.2,875.5 1513.6,926.8 1514.0,808.4 1514.4,792.8 1514.8,799.1 1515.2,927.2 1515.6,921.1 1516.0,891.3 1516.4,832.8 1516.8,795.8 1517.2,908.3 1517.6,850.4 1518.0,908.3 1518.4,915.5 1518.8,915.6 1519.2,903.1 1519.6,908.1 1520.0,907.8 1520.4,898.3 1520.8,898.2 1521.2,773.3 1521.6,773.4 1522.0,888.4 1522.4,892.2 1522.7,891.5 1523.1,882.6 1523.5,827.5 1523.9,841.6 1524.3,894.0 1524.7,833.6 1525.1,908.0 1525.5,909.3 1525.9,909.2 1526.3,914.0 1526.7,894.4 1527.1,874.7 1527.5,875.4 1527.9,918.7 1528.3,799.0 1528.7,821.5 1529.1,806.8 1529.5,915.2 1529.9,902.7 1530.3,867.9 1530.7,856.4 1531.1,900.8 1531.5,800.0 1531.9,806.4 1532.3,885.6 1532.7,853.3 1533.1,889.4 1533.5,886.3 1533.9,843.4 1534.3,834.9 1534.7,874.1 1535.0,840.9 1535.4,872.6 1535.8,800.9 1536.2,868.8 1536.6,837.0 1537.0,871.2 1537.4,871.0 1537.8,839.2 1538.2,821.7 1538.6,879.0 1539.0,838.4 1539.4,879.0 1539.8,884.3 1540.2,884.6 1540.6,891.8 1541.0,840.2 1541.4,895.4 1541.8,829.9 1542.2,862.0 1542.6,866.9 1543.0,905.6 1543.4,800.0 1543.8,911.2 1544.2,912.5 1544.6,900.1 1545.0,884.0 1545.4,913.9 1545.8,928.9 1546.2,855.2 1546.6,925.1 1547.0,935.5 1547.3,938.7 1547.7,896.9 1548.1,935.5 1548.5,873.8 1548.9,922.0 1549.3,925.9 1549.7,909.0 1550.1,921.7 1550.5,912.4 1550.9,912.3 1551.3,918.0 1551.7,913.7 1552.1,920.0 1552.5,911.5 1552.9,918.2 1553.3,917.0 1553.7,913.1 1554.1,905.2 1554.5,740.0 1554.9,908.8 1555.3,908.2 1555.7,901.5 1556.1,895.7 1556.5,902.2 1556.9,900.0 1557.3,897.8 1557.7,903.3 1558.1,904.9 1558.5,816.5 1558.9,906.2 1559.3,815.6 1559.6,905.7 1560.0,785.0 1560.4,791.3 1560.8,911.4 1561.2,915.3 1561.6,915.3 1562.0,922.4 1562.4,910.2 1562.8,924.1 1563.2,787.9 1563.6,928.7 1564.0,930.5 1564.4,926.6 1564.8,859.4 1565.2,806.3 1565.6,812.2 1566.0,807.7 1566.4,930.5 1566.8,937.2 1567.2,935.0 1567.6,916.5 1568.0,913.8 1568.4,920.7 1568.8,913.3 1569.2,915.0 1569.6,907.3 1570.0,906.7 1570.4,900.6 1570.8,886.1 1571.2,851.4 1571.6,884.1 1571.9,818.0 1572.3,853.3 1572.7,871.8 1573.1,790.0 1573.5,791.1 1573.9,800.1 1574.3,878.5 1574.7,882.5 1575.1,887.6 1575.5,891.9 1575.9,898.4 1576.3,908.2 1576.7,923.1 1577.1,936.0 1577.5,906.0 1577.9,942.6 1578.3,901.8 1578.7,953.9 1579.1,951.5 1579.5,953.4 1579.9,946.5 1580.3,950.5 1580.7,953.1 1581.1,958.2 1581.5,954.8 1581.9,947.3 1582.3,948.6 1582.7,950.0 1583.1,846.4 1583.5,869.4 1583.9,912.9 1584.3,942.0 1584.6,945.1 1585.0,944.0 1585.4,943.1 1585.8,941.3 1586.2,940.7 1586.6,942.4 1587.0,938.2 1587.4,905.4 1587.8,890.9 1588.2,876.4 1588.6,936.9 1589.0,935.9 1589.4,928.1 1589.8,934.3 1590.2,928.3 1590.6,898.7 1591.0,903.1 1591.4,863.1 1591.8,929.5 1592.2,882.0 1592.6,925.2 1593.0,927.6 1593.4,922.2 1593.8,927.1 1594.2,926.9 1594.6,924.3 1595.0,926.1 1595.4,926.5 1595.8,920.2 1596.2,919.4 1596.6,924.8 1596.9,919.6 1597.3,915.8 1597.7,917.1 1598.1,874.9 1598.5,836.7 1598.9,870.4 1599.3,900.6 1599.7,913.0 1600.1,920.9 1600.5,861.6 1600.9,916.8 1601.3,825.0 1601.7,920.5 1602.1,917.3 1602.5,912.4 1602.9,918.2 1603.3,913.4 1603.7,917.9 1604.1,923.1 1604.5,923.1 1604.9,813.3 1605.3,821.9 1605.7,922.1 1606.1,925.3 1606.5,919.7 1606.9,928.9 1607.3,929.7 1607.7,930.4 1608.1,930.4 1608.5,926.0 1608.9,931.5 1609.2,880.6 1609.6,873.5 1610.0,878.9 1610.4,874.8 1610.8,857.0 1611.2,868.2 1611.6,932.7 1612.0,934.4 1612.4,932.7 1612.8,936.4 1613.2,932.6 1613.6,936.4 1614.0,933.4 1614.4,899.0 1614.8,879.0 1615.2,929.4 1615.6,876.0 1616.0,901.8 1616.4,937.9 1616.8,934.6 1617.2,939.6 1617.6,938.1 1618.0,860.8 1618.4,941.1 1618.8,941.7 1619.2,935.5 1619.6,925.6 1620.0,941.0 1620.4,924.0 1620.8,928.9 1621.2,940.1 1621.5,942.3 1621.9,953.4 1622.3,954.6 1622.7,949.1 1623.1,954.4 1623.5,949.9 1623.9,921.2 1624.3,874.7 1624.7,864.7 1625.1,861.2 1625.5,880.9 1625.9,952.4 1626.3,874.3 1626.7,942.0 1627.1,950.8 1627.5,944.2 1627.9,946.5 1628.3,948.5 1628.7,944.2 1629.1,947.2 1629.5,946.0 1629.9,947.5 1630.3,934.5 1630.7,917.4 1631.1,942.2 1631.5,924.5 1631.9,940.8 1632.3,877.4 1632.7,918.9 1633.1,906.3 1633.5,940.0 1633.8,933.5 1634.2,940.3 1634.6,933.4 1635.0,939.7 1635.4,937.3 1635.8,932.9 1636.2,936.5 1636.6,914.5 1637.0,917.0 1637.4,901.4 1637.8,903.7 1638.2,903.5 1638.6,931.1 1639.0,937.0 1639.4,934.7 1639.8,935.8 1640.2,860.4 1640.6,940.5 1641.0,941.0 1641.4,941.8 1641.8,939.1 1642.2,941.1 1642.6,944.7 1643.0,946.6 1643.4,929.8 1643.8,947.2 1644.2,946.1 1644.6,945.7 1645.0,943.6 1645.4,944.4 1645.8,941.8 1646.1,915.4 1646.5,925.6 1646.9,933.7 1647.3,935.5 1647.7,939.7 1648.1,936.7 1648.5,939.2 1648.9,933.0 1649.3,935.5 1649.7,936.8 1650.1,864.3 1650.5,936.0 1650.9,933.5 1651.3,934.3 1651.7,940.5 1652.1,933.9 1652.5,940.9 1652.9,937.5 1653.3,946.1 1653.7,912.7 1654.1,945.5 1654.5,861.6 1654.9,865.2 1655.3,949.9 1655.7,925.1 1656.1,911.4 1656.5,893.7 1656.9,941.9 1657.3,913.2 1657.7,937.9 1658.1,922.4 1658.4,932.9 1658.8,906.9 1659.2,919.7 1659.6,908.8 1660.0,857.3 1660.4,896.4 1660.8,901.0 1661.2,886.2 1661.6,934.6 1662.0,937.6 1662.4,942.6 1662.8,943.6 1663.2,913.6 1663.6,911.4 1664.0,927.4 1664.4,943.5 1664.8,942.1 1665.2,945.0 1665.6,879.5 1666.0,894.3 1666.4,940.6 1666.8,941.0 1667.2,944.9 1667.6,949.8 1668.0,872.7 1668.4,899.7 1668.8,864.0 1669.2,874.7 1669.6,879.6 1670.0,927.1 1670.4,948.9 1670.7,946.0 1671.1,942.5 1671.5,944.3 1671.9,942.4 1672.3,941.1 1672.7,945.3 1673.1,943.4 1673.5,944.6 1673.9,938.1 1674.3,860.4 1674.7,947.6 1675.1,941.6 1675.5,942.2 1675.9,944.7 1676.3,948.8 1676.7,948.1 1677.1,942.1 1677.5,852.4 1677.9,882.6 1678.3,852.9 1678.7,902.9 1679.1,891.3 1679.5,926.0 1679.9,936.8 1680.3,937.1 1680.7,941.7 1681.1,936.1 1681.5,864.2 1681.9,870.0 1682.3,895.2 1682.7,936.9 1683.0,885.8 1683.4,930.7 1683.8,875.3 1684.2,931.3 1684.6,883.2 1685.0,934.6 1685.4,935.1 1685.8,891.3 1686.2,892.5 1686.6,912.6 1687.0,934.0 1687.4,857.9 1687.8,936.0 1688.2,835.0 1688.6,842.1 1689.0,923.7 1689.4,921.1 1689.8,924.1 1690.2,931.8 1690.6,939.6 1691.0,943.0 1691.4,948.6 1691.8,944.3 1692.2,892.6 1692.6,878.7 1693.0,904.4 1693.4,923.5 1693.8,930.7 1694.2,951.2 1694.6,951.3 1695.0,957.7 1695.4,958.4 1695.7,959.0 1696.1,957.0 1696.5,960.4 1696.9,960.7 1697.3,961.3 1697.7,959.5 1698.1,959.5 1698.5,961.9 1698.9,961.7 1699.3,956.7 1699.7,859.6 1700.1,961.5 1700.5,960.0 1700.9,960.1 1701.3,962.0 1701.7,963.8 1702.1,918.5 1702.5,960.6 1702.9,963.9 1703.3,964.3 1703.7,964.2 1704.1,961.8 1704.5,960.5 1704.9,960.9 1705.3,960.7 1705.7,960.5 1706.1,959.7 1706.5,960.8 1706.9,955.3 1707.3,951.5 1707.7,960.0 1708.0,965.4 1708.4,965.7 1708.8,963.6 1709.2,966.3 1709.6,967.3 1710.0,944.7 1710.4,962.1 1710.8,942.1 1711.2,962.0 1711.6,964.4 1712.0,933.6 1712.4,925.3 1712.8,962.6 1713.2,864.9 1713.6,960.4 1714.0,960.4 1714.4,960.0 1714.8,959.4 1715.2,955.7 1715.6,956.8 1716.0,955.3 1716.4,953.8 1716.8,948.9 1717.2,950.2 1717.6,948.4 1718.0,955.3 1718.4,953.6 1718.8,952.3 1719.2,952.6 1719.6,902.2 1720.0,921.7 1720.3,951.6 1720.7,947.8 1721.1,948.9 1721.5,926.5 1721.9,922.2 1722.3,942.7 1722.7,940.1 1723.1,943.8 1723.5,937.2 1723.9,860.3 1724.3,940.5 1724.7,938.4 1725.1,934.6 1725.5,933.1 1725.9,938.6 1726.3,936.0 1726.7,935.1 1727.1,938.3 1727.5,935.2 1727.9,936.0 1728.3,925.7 1728.7,933.0 1729.1,946.2 1729.5,943.9 1729.9,943.2 1730.3,950.5 1730.7,929.8 1731.1,934.9 1731.5,947.3 1731.9,955.4 1732.3,946.9 1732.6,952.5 1733.0,944.5 1733.4,947.7 1733.8,942.7 1734.2,938.9 1734.6,936.9 1735.0,858.8 1735.4,936.9 1735.8,938.2 1736.2,941.2 1736.6,941.3 1737.0,937.6 1737.4,936.6 1737.8,940.0 1738.2,935.8 1738.6,938.5 1739.0,937.8 1739.4,936.6 1739.8,942.0 1740.2,938.1 1740.6,944.6 1741.0,948.8 1741.4,949.8 1741.8,951.9 1742.2,945.6 1742.6,900.8 1743.0,902.4 1743.4,928.5 1743.8,952.6 1744.2,902.2 1744.6,872.6 1744.9,884.4 1745.3,898.5 1745.7,885.7 1746.1,955.0 1746.5,953.6 1746.9,947.8 1747.3,952.2 1747.7,944.9 1748.1,944.7 1748.5,949.2 1748.9,948.6 1749.3,941.5 1749.7,944.0 1750.1,858.5 1750.5,937.6 1750.9,931.4 1751.3,926.3 1751.7,935.4 1752.1,911.8 1752.5,875.6 1752.9,936.4 1753.3,880.7 1753.7,940.3 1754.1,939.8 1754.5,938.1 1754.9,938.3 1755.3,917.9 1755.7,922.3 1756.1,916.5 1756.5,909.7 1756.9,913.4 1757.2,933.5 1757.6,934.0 1758.0,928.5 1758.4,935.3 1758.8,934.8 1759.2,863.5 1759.6,931.0 1760.0,897.0 1760.4,927.9 1760.8,927.9 1761.2,926.1 1761.6,924.0 1762.0,923.6 1762.4,864.5 1762.8,920.1 1763.2,921.4 1763.6,917.2 1764.0,919.0 1764.4,919.9 1764.8,914.4 1765.2,918.8 1765.6,918.6 1766.0,914.7 1766.4,916.9 1766.8,917.4 1767.2,916.2 1767.6,914.9 1768.0,921.1 1768.4,918.4 1768.8,916.9 1769.2,917.9 1769.5,862.0 1769.9,924.7 1770.3,923.2 1770.7,922.5 1771.1,925.3 1771.5,922.7 1771.9,924.7 1772.3,865.8 1772.7,864.0 1773.1,843.2 1773.5,876.9 1773.9,909.3 1774.3,913.6 1774.7,911.2 1775.1,862.9 1775.5,846.6 1775.9,906.3 1776.3,904.5 1776.7,806.7 1777.1,898.2 1777.5,899.6 1777.9,889.9 1778.3,897.4 1778.7,895.2 1779.1,893.8 1779.5,889.1 1779.9,895.3 1780.3,894.5 1780.7,901.9 1781.1,859.0 1781.5,831.2 1781.8,803.3 1782.2,803.7 1782.6,910.8 1783.0,909.5 1783.4,912.1 1783.8,855.4 1784.2,872.4 1784.6,909.4 1785.0,909.2 1785.4,910.5 1785.8,903.0 1786.2,911.6 1786.6,908.8 1787.0,865.5 1787.4,913.0 1787.8,913.6 1788.2,882.9 1788.6,889.2 1789.0,871.1 1789.4,894.8 1789.8,889.4 1790.2,912.2 1790.6,856.4 1791.0,913.8 1791.4,876.5 1791.8,900.7 1792.2,908.8 1792.6,894.4 1793.0,887.8 1793.4,903.5 1793.8,919.7 1794.1,916.2 1794.5,919.8 1794.9,921.5 1795.3,917.9 1795.7,925.2 1796.1,927.5 1796.5,885.2 1796.9,929.1 1797.3,896.4 1797.7,892.2 1798.1,899.6 1798.5,913.7 1798.9,939.6 1799.3,944.2 1799.7,863.6 1800.1,877.2 1800.5,860.0 1800.9,880.5 1801.3,947.4 1801.7,952.7 1802.1,952.2 1802.5,950.6 1802.9,950.1 1803.3,920.7 1803.7,909.8 1804.1,945.9 1804.5,939.7 1804.9,940.2 1805.3,918.5 1805.7,919.4 1806.1,939.3 1806.5,913.6 1806.8,942.5 1807.2,945.0 1807.6,944.4 1808.0,937.9 1808.4,923.2 1808.8,898.9 1809.2,946.9 1809.6,909.3 1810.0,946.3 1810.4,945.3 1810.8,946.2 1811.2,905.5 1811.6,876.3 1812.0,888.9 1812.4,890.0 1812.8,946.0 1813.2,943.0 1813.6,947.9 1814.0,947.3 1814.4,947.9 1814.8,950.7 1815.2,945.6 1815.6,949.4 1816.0,865.6 1816.4,925.6 1816.8,928.6 1817.2,925.9 1817.6,919.6 1818.0,946.6 1818.4,893.3 1818.8,949.3 1819.1,953.6 1819.5,956.0 1819.9,955.2 1820.3,957.5 1820.7,953.5 1821.1,951.5 1821.5,951.4 1821.9,947.6 1822.3,933.1 1822.7,943.8 1823.1,946.4 1823.5,949.3 1823.9,945.2 1824.3,944.5 1824.7,941.1 1825.1,945.7 1825.5,947.2 1825.9,865.3 1826.3,908.9 1826.7,924.4 1827.1,945.5 1827.5,950.6 1827.9,951.2 1828.3,947.6 1828.7,952.3 1829.1,953.1 1829.5,953.7 1829.9,951.0 1830.3,952.4 1830.7,949.4 1831.1,957.1 1831.4,954.9 1831.8,959.3 1832.2,955.1 1832.6,959.2 1833.0,962.1 1833.4,962.3 1833.8,954.6 1834.2,959.0 1834.6,921.3 1835.0,916.8 1835.4,938.4 1835.8,922.9 1836.2,953.4 1836.6,895.5 1837.0,944.0 1837.4,949.4 1837.8,862.8 1838.2,947.6 1838.6,945.7 1839.0,946.6 1839.4,944.4 1839.8,939.9 1840.2,947.5 1840.6,940.9 1841.0,943.5 1841.4,921.9 1841.8,906.7 1842.2,905.7 1842.6,940.4 1843.0,939.0 1843.4,935.8 1843.7,937.4 1844.1,936.5 1844.5,934.1 1844.9,930.0 1845.3,924.6 1845.7,917.9 1846.1,904.1 1846.5,881.5 1846.9,915.8 1847.3,913.2 1847.7,907.2 1848.1,912.1 1848.5,907.8 1848.9,909.1 1849.3,907.4 1849.7,907.4 1850.1,909.7 1850.5,907.9 1850.9,909.2 1851.3,876.2 1851.7,864.9 1852.1,866.8 1852.5,920.1 1852.9,917.1 1853.3,925.8 1853.7,928.0 1854.1,925.0 1854.5,926.7 1854.9,927.2 1855.3,927.4 1855.7,888.0 1856.0,934.2 1856.4,933.0 1856.8,934.7 1857.2,935.5 1857.6,931.9 1858.0,896.8 1858.4,890.0 1858.8,938.6 1859.2,902.5 1859.6,932.5 1860.0,936.8 1860.4,938.5 1860.8,939.3 1861.2,939.7 1861.6,940.4 1862.0,923.2 1862.4,916.1 1862.8,941.7 1863.2,941.8 1863.6,902.4 1864.0,943.2 1864.4,927.3 1864.8,906.0 1865.2,948.1 1865.6,943.4 1866.0,948.0 1866.4,946.9 1866.8,950.0 1867.2,950.5 1867.6,950.7 1868.0,950.9 1868.3,934.2 1868.7,933.2 1869.1,934.8 1869.5,924.5 1869.9,910.2 1870.3,917.4 1870.7,949.2 1871.1,948.6 1871.5,951.0 1871.9,952.5 1872.3,947.7 1872.7,949.4 1873.1,951.9 1873.5,952.0 1873.9,949.8 1874.3,951.3 1874.7,949.2 1875.1,952.4 1875.5,953.0 1875.9,950.8 1876.3,953.4 1876.7,953.1 1877.1,952.8 1877.5,952.3 1877.9,936.0 1878.3,934.3 1878.7,940.8 1879.1,945.9 1879.5,953.8 1879.9,952.0 1880.3,945.4 1880.6,940.1 1881.0,942.4 1881.4,953.9 1881.8,953.6 1882.2,952.0 1882.6,952.7 1883.0,953.8 1883.4,950.6 1883.8,950.4 1884.2,951.2 1884.6,953.3 1885.0,953.4 1885.4,943.5 1885.8,929.3 1886.2,936.8 1886.6,952.4 1887.0,951.9 1887.4,930.6 1887.8,918.2 1888.2,951.7 1888.6,949.4 1889.0,949.7 1889.4,952.0 1889.8,949.8 1890.2,951.2 1890.6,951.4 1891.0,946.4 1891.4,942.1 1891.8,946.6 1892.2,951.2 1892.6,939.0 1892.9,943.2 1893.3,938.3 1893.7,945.5 1894.1,935.9 1894.5,922.4 1894.9,923.3 1895.3,949.4 1895.7,947.4 1896.1,945.3 1896.5,937.0 1896.9,938.3 1897.3,946.3 1897.7,945.9 1898.1,945.8 1898.5,935.1 1898.9,926.0 1899.3,935.4 1899.7,928.7 1900.1,939.9 1900.5,941.2 1900.9,939.3 1901.3,940.1 1901.7,937.4 1902.1,939.7 1902.5,937.6 1902.9,920.7 1903.3,936.5 1903.7,927.0 1904.1,937.6 1904.5,936.8 1904.9,936.7 1905.2,930.5 1905.6,931.0 1906.0,931.2 1906.4,912.4 1906.8,936.0 1907.2,927.0 1907.6,927.7 1908.0,935.4 1908.4,934.9 1908.8,934.8 1909.2,934.2 1909.6,934.0 1910.0,912.7 1910.4,932.9 1910.8,912.2 1911.2,926.2 1911.6,917.6 1912.0,931.7 1912.4,930.8 1912.8,929.1 1913.2,928.6 1913.6,930.9 1914.0,931.0 1914.4,930.5 1914.8,930.5 1915.2,928.1 1915.6,929.4 1916.0,929.1 1916.4,907.5 1916.8,926.2 1917.2,909.3 1917.6,927.6 1917.9,920.8 1918.3,909.4 1918.7,925.5 1919.1,916.1 1919.5,925.4 1919.9,924.7 1920.3,924.3 1920.7,912.6 1921.1,912.5 1921.5,908.7 1921.9,911.9 1922.3,912.3 1922.7,900.3 1923.1,898.9 1923.5,923.5 1923.9,922.6 1924.3,923.3 1924.7,923.0 1925.1,922.6 1925.5,922.1 1925.9,921.5 1926.3,920.1 1926.7,920.3 1927.1,919.4 1927.5,920.5 1927.9,920.8 1928.3,919.0 1928.7,919.7 1929.1,917.9 1929.5,917.2 1929.9,900.0 1930.2,878.8 1930.6,880.7 1931.0,882.6 1931.4,908.0 1931.8,905.0 1932.2,904.3 1932.6,911.8 1933.0,912.3 1933.4,909.4 1933.8,886.2 1934.2,899.1 1934.6,889.8 1935.0,906.6 1935.4,906.4 1935.8,909.4 1936.2,898.1 1936.6,881.3 1937.0,907.3 1937.4,882.9 1937.8,902.0 1938.2,904.6 1938.6,906.0 1939.0,904.7 1939.4,903.8 1939.8,900.3 1940.2,900.7 1940.6,905.8 1941.0,906.6 1941.4,905.7 1941.8,906.7 1942.2,855.8 1942.5,907.5 1942.9,909.2 1943.3,908.4 1943.7,909.2 1944.1,905.6 1944.5,907.9 1944.9,906.3 1945.3,910.0 1945.7,903.9 1946.1,909.2 1946.5,908.0 1946.9,897.7 1947.3,907.4 1947.7,894.7 1948.1,909.3 1948.5,893.6 1948.9,902.1 1949.3,903.4 1949.7,903.0 1950.1,906.7 1950.5,906.2 1950.9,891.2 1951.3,892.1 1951.7,904.8 1952.1,905.5 1952.5,855.7 1952.9,907.1 1953.3,907.5 1953.7,906.4 1954.1,856.3 1954.5,875.2 1954.8,851.8 1955.2,870.8 1955.6,904.6 1956.0,908.1 1956.4,906.3 1956.8,860.9 1957.2,852.0 1957.6,847.6 1958.0,868.7 1958.4,872.6 1958.8,903.1 1959.2,902.6 1959.6,906.1 1960.0,903.4 1960.4,888.5 1960.8,885.5 1961.2,856.3 1961.6,864.6 1962.0,904.0 1962.4,901.3 1962.8,900.0 1963.2,870.9 1963.6,869.2 1964.0,901.8 1964.4,901.7 1964.8,900.4 1965.2,899.6 1965.6,898.8 1966.0,899.8 1966.4,899.4 1966.8,892.6 1967.1,891.1 1967.5,891.6 1967.9,891.0 1968.3,865.9 1968.7,892.0 1969.1,889.9 1969.5,886.0 1969.9,888.0 1970.3,888.5 1970.7,889.8 1971.1,889.4 1971.5,888.2 1971.9,867.8 1972.3,869.8 1972.7,855.5 1973.1,856.3 1973.5,863.1 1973.9,883.2 1974.3,884.2 1974.7,871.0 1975.1,856.9 1975.5,887.5 1975.9,885.3 1976.3,888.2 1976.7,873.3 1977.1,874.7 1977.5,869.8 1977.9,875.0 1978.3,880.8 1978.7,878.3 1979.1,875.4 1979.4,875.8 1979.8,873.7 1980.2,872.0 1980.6,870.2 1981.0,868.6 1981.4,867.8 1981.8,866.5 1982.2,865.4 1982.6,863.7 1983.0,863.5 1983.4,861.9 1983.8,861.3 1984.2,861.0 1984.6,862.1 1985.0,863.3 1985.4,865.2 1985.8,866.1 1986.2,868.3 1986.6,856.4 1987.0,853.6 1987.4,873.2 1987.8,875.1 1988.2,879.1 1988.6,883.9 1989.0,850.9 1989.4,854.7 1989.8,883.9 1990.2,882.5 1990.6,886.3 1991.0,872.0 1991.4,868.1 1991.7,871.3 1992.1,874.5 1992.5,887.3 1992.9,882.5 1993.3,875.0 1993.7,886.2 1994.1,899.2 1994.5,897.7 1994.9,897.3 1995.3,892.7 1995.7,900.1 1996.1,842.5 1996.5,830.2 1996.9,895.0 1997.3,900.5 1997.7,903.3 1998.1,902.2 1998.5,813.3 1998.9,819.7 1999.3,892.8 1999.7,875.8 2000.1,904.5 2000.5,892.8 2000.9,907.4 2001.3,907.0 2001.7,905.0 2002.1,908.5 2002.5,828.0 2002.9,839.0 2003.3,802.3 2003.7,856.6 2004.0,835.8 2004.4,876.2 2004.8,796.7 2005.2,907.0 2005.6,911.9 2006.0,893.9 2006.4,910.3 2006.8,879.4 2007.2,836.9 2007.6,840.2 2008.0,911.7 2008.4,914.6 2008.8,920.7 2009.2,917.5 2009.6,923.4 2010.0,924.0 2010.4,924.6 2010.8,892.1 2011.2,888.8 2011.6,898.2 2012.0,929.3 2012.4,931.7 2012.8,924.5 2013.2,932.1 2013.6,930.9 2014.0,930.8 2014.4,930.9 2014.8,891.0 2015.2,871.4 2015.6,886.7 2016.0,862.6 2016.3,881.3 2016.7,918.5 2017.1,925.4 2017.5,919.1 2017.9,920.4 2018.3,918.1 2018.7,918.4 2019.1,922.3 2019.5,913.2 2019.9,917.9 2020.3,911.5 2020.7,912.1 2021.1,921.6 2021.5,811.7 2021.9,919.8 2022.3,914.7 2022.7,922.2 2023.1,918.7 2023.5,921.9 2023.9,921.0 2024.3,922.1 2024.7,923.2 2025.1,916.4 2025.5,920.0 2025.9,916.7 2026.3,924.2 2026.7,876.5 2027.1,882.0 2027.5,864.3 2027.9,886.1 2028.3,926.5 2028.7,926.2 2029.0,920.7 2029.4,928.2 2029.8,895.2 2030.2,878.1 2030.6,857.6 2031.0,888.2 2031.4,875.3 2031.8,929.3 2032.2,907.2 2032.6,927.7 2033.0,923.8 2033.4,931.5 2033.8,925.5 2034.2,930.2 2034.6,924.1 2035.0,927.7 2035.4,922.4 2035.8,929.8 2036.2,904.0 2036.6,931.0 2037.0,905.4 2037.4,905.2 2037.8,890.4 2038.2,914.0 2038.6,897.0 2039.0,929.2 2039.4,929.7 2039.8,919.8 2040.2,913.9 2040.6,909.8 2041.0,909.3 2041.3,803.1 2041.7,860.9 2042.1,904.0 2042.5,899.6 2042.9,898.1 2043.3,790.0 2043.7,802.3 2044.1,886.7 2044.5,885.4 2044.9,883.1 2045.3,884.0 2045.7,883.4 2046.1,836.0 2046.5,830.7 2046.9,841.4 2047.3,874.3 2047.7,864.1 2048.1,890.3 2048.5,898.6 2048.9,838.9 2049.3,861.1 2049.7,835.1 2050.1,851.4 2050.5,839.2 2050.9,922.5 2051.3,879.2 2051.7,927.7 2052.1,921.3 2052.5,929.9 2052.9,927.2 2053.3,903.0 2053.6,896.1 2054.0,907.7 2054.4,917.2 2054.8,920.2 2055.2,918.4 2055.6,854.5 2056.0,910.6 2056.4,902.1 2056.8,898.7 2057.2,879.7 2057.6,883.2 2058.0,870.1 2058.4,870.3 2058.8,884.5 2059.2,879.0 2059.6,876.1 2060.0,873.6 2060.4,875.5 2060.8,873.1 2061.2,872.5 2061.6,855.9 2062.0,873.8 2062.4,871.9 2062.8,870.3 2063.2,869.4 2063.6,867.9 2064.0,869.9 2064.4,870.7 2064.8,870.4 2065.2,873.0 2065.6,863.9 2065.9,870.0 2066.3,863.3 2066.7,880.4 2067.1,882.3 2067.5,850.3 2067.9,878.7 2068.3,877.5 2068.7,882.2 2069.1,879.2 2069.5,880.2 2069.9,877.3 2070.3,876.2 2070.7,878.9 2071.1,879.7 2071.5,879.3 2071.9,872.3 2072.3,779.9 2072.7,870.7 2073.1,870.9 2073.5,874.0 2073.9,881.3 2074.3,870.7 2074.7,882.8 2075.1,748.3 2075.5,758.0 2075.9,884.4 2076.3,864.5 2076.7,888.2 2077.1,893.7 2077.5,851.0 2077.9,901.5 2078.2,845.5 2078.6,837.4 2079.0,901.7 2079.4,880.5 2079.8,904.5 2080.2,908.2 2080.6,908.8 2081.0,909.5 2081.4,889.2 2081.8,869.7 2082.2,912.5 2082.6,912.9 2083.0,910.6 2083.4,912.4 2083.8,905.2 2084.2,903.4 2084.6,908.2 2085.0,906.8 2085.4,908.2 2085.8,910.6 2086.2,910.6 2086.6,914.6 2087.0,913.4 2087.4,915.3 2087.8,915.8 2088.2,918.4 2088.6,919.4 2089.0,919.7 2089.4,918.7 2089.8,917.7 2090.2,919.5 2090.5,910.3 2090.9,899.1 2091.3,903.7 2091.7,919.2 2092.1,920.9 2092.5,913.7 2092.9,923.6 2093.3,908.5 2093.7,918.2 2094.1,925.6 2094.5,894.4 2094.9,928.8 2095.3,932.1 2095.7,934.5 2096.1,935.6 2096.5,940.4 2096.9,942.4 2097.3,941.6 2097.7,943.5 2098.1,947.6 2098.5,949.6 2098.9,951.8 2099.3,933.9 2099.7,954.1 2100.1,948.2 2100.5,957.0 2100.9,955.4 2101.3,959.9 2101.7,939.3 2102.1,960.7 2102.5,943.1 2102.8,942.4 2103.2,959.9 2103.6,953.9 2104.0,950.4 2104.4,952.7 2104.8,959.3 2105.2,958.4 2105.6,951.3 2106.0,948.8 2106.4,955.7 2106.8,958.3 2107.2,957.7 2107.6,958.8 2108.0,958.7 2108.4,960.5 2108.8,940.8 2109.2,940.1 2109.6,961.4 2110.0,959.1 2110.4,948.7 2110.8,952.6 2111.2,960.2 2111.6,959.7 2112.0,961.5 2112.4,954.0 2112.8,953.5 2113.2,958.0 2113.6,954.5 2114.0,960.4 2114.4,960.7 2114.8,958.6 2115.1,961.2 2115.5,959.7 2115.9,961.2 2116.3,959.4 2116.7,959.5 2117.1,960.4 2117.5,960.5 2117.9,960.1 2118.3,958.9 2118.7,961.2 2119.1,941.6 2119.5,953.1 2119.9,946.0 2120.3,960.4 2120.7,941.2 2121.1,946.4 2121.5,959.5 2121.9,959.9 2122.3,958.5 2122.7,958.5 2123.1,959.5 2123.5,958.3 2123.9,959.5 2124.3,959.8 2124.7,959.3 2125.1,958.3 2125.5,947.9 2125.9,952.0 2126.3,959.9 2126.7,950.1 2127.1,952.7 2127.5,959.2 2127.8,947.5 2128.2,960.1 2128.6,960.2 2129.0,960.2 2129.4,960.2 2129.8,959.8 2130.2,960.0 2130.6,947.9 2131.0,947.8 2131.4,960.4 2131.8,960.7 2132.2,958.6 2132.6,960.7 2133.0,956.9 2133.4,957.1 2133.8,961.5 2134.2,961.3 2134.6,961.2 2135.0,960.2 2135.4,962.0 2135.8,961.8 2136.2,960.5 2136.6,960.2 2137.0,954.0 2137.4,957.4 2137.8,962.7 2138.2,961.9 2138.6,962.4 2139.0,961.6 2139.4,958.8 2139.8,956.8 2140.1,955.8 2140.5,958.5 2140.9,963.1 2141.3,952.8 2141.7,949.4 2142.1,956.4 2142.5,963.0 2142.9,959.9 2143.3,950.6 2143.7,938.3 2144.1,952.0 2144.5,961.9 2144.9,962.8 2145.3,962.8 2145.7,962.9 2146.1,963.1 2146.5,961.0 2146.9,961.0 2147.3,962.5 2147.7,962.5 2148.1,962.9 2148.5,951.1 2148.9,963.5 2149.3,940.0 2149.7,944.5 2150.1,950.3 2150.5,962.0 2150.9,962.3 2151.3,963.2 2151.7,961.9 2152.1,962.2 2152.4,962.9 2152.8,958.0 2153.2,957.3 2153.6,956.9 2154.0,961.4 2154.4,962.4 2154.8,962.6 2155.2,962.9 2155.6,960.8 2156.0,960.5 2156.4,960.2 2156.8,961.6 2157.2,961.1 2157.6,960.7 2158.0,961.3 2158.4,956.2 2158.8,956.0 2159.2,957.8 2159.6,956.7 2160.0,960.5 2160.4,961.1 2160.8,959.7 2161.2,960.7 2161.6,960.5 2162.0,960.0 2162.4,959.3 2162.8,960.9 2163.2,961.0 2163.6,960.2 2164.0,959.5 2164.4,961.5 2164.7,948.5 2165.1,961.8 2165.5,961.8 2165.9,959.7 2166.3,960.2 2166.7,957.4 2167.1,955.5 2167.5,956.0 2167.9,942.9 2168.3,947.6 2168.7,941.0 2169.1,947.7 2169.5,942.7 2169.9,962.4 2170.3,962.2 2170.7,961.3 2171.1,960.6 2171.5,960.3 2171.9,960.5 2172.3,960.9 2172.7,961.4 2173.1,961.2 2173.5,961.4 2173.9,960.9 2174.3,955.4 2174.7,955.8 2175.1,958.2 2175.5,942.0 2175.9,940.8 2176.3,960.4 2176.7,961.2 2177.0,959.7 2177.4,956.4 2177.8,954.1 2178.2,961.1 2178.6,954.0 2179.0,959.7 2179.4,960.2 2179.8,960.7 2180.2,959.9 2180.6,961.2 2181.0,959.1 2181.4,959.2 2181.8,961.1 2182.2,960.0 2182.6,960.1 2183.0,960.8 2183.4,960.7 2183.8,958.9 2184.2,960.9 2184.6,958.9 2185.0,951.8 2185.4,943.3 2185.8,940.6 2186.2,950.0 2186.6,947.5 2187.0,948.7 2187.4,938.2 2187.8,936.9 2188.2,947.3 2188.6,942.2 2189.0,943.3 2189.3,951.3 2189.7,957.0 2190.1,956.9 2190.5,958.3 2190.9,958.2 2191.3,956.8 2191.7,950.8 2192.1,948.4 2192.5,948.5 2192.9,948.0 2193.3,944.9 2193.7,957.4 2194.1,949.0 2194.5,949.6 2194.9,949.5 2195.3,948.2 2195.7,950.7 2196.1,951.5 2196.5,956.0 2196.9,956.2 2197.3,956.2 2197.7,929.9 2198.1,926.1 2198.5,953.4 2198.9,938.0 2199.3,951.0 2199.7,953.0 2200.1,951.5 2200.5,916.6 2200.9,920.4 2201.3,950.1 2201.6,944.6 2202.0,946.1 2202.4,945.0 2202.8,946.2 2203.2,938.7 2203.6,891.2 2204.0,943.2 2204.4,881.7 2204.8,942.1 2205.2,907.8 2205.6,938.9 2206.0,899.4 2206.4,908.2 2206.8,866.2 2207.2,907.1 2207.6,928.7 2208.0,923.4 2208.4,931.2 2208.8,870.5 2209.2,900.9 2209.6,864.5 2210.0,921.1 2210.4,919.7 2210.8,914.9 2211.2,867.7 2211.6,907.5 2212.0,822.3 2212.4,907.8 2212.8,741.7 2213.2,746.2 2213.6,901.6 2213.9,904.1 2214.3,903.7 2214.7,902.6 2215.1,790.0 2215.5,838.5 2215.9,849.1 2216.3,831.9 2216.7,838.8 2217.1,864.0 2217.5,914.7 2217.9,915.3 2218.3,923.2 2218.7,919.1 2219.1,928.5 2219.5,935.0 2219.9,936.1 2220.3,941.4 2220.7,942.7 2221.1,941.6 2221.5,940.3 2221.9,939.0 2222.3,928.8 2222.7,935.8 2223.1,932.1 2223.5,928.4 2223.9,929.4 2224.3,925.7 2224.7,922.3 2225.1,918.9 2225.5,915.1 2225.9,915.9 2226.2,914.9 2226.6,915.6 2227.0,916.2 2227.4,913.4 2227.8,915.5 2228.2,916.4 2228.6,916.7 2229.0,912.7 2229.4,916.7 2229.8,821.7 2230.2,822.3 2230.6,908.2 2231.0,921.7 2231.4,929.3 2231.8,919.4 2232.2,919.1 2232.6,917.6 2233.0,934.3 2233.4,902.1 2233.8,944.1 2234.2,907.8 2234.6,946.5 2235.0,917.0 2235.4,915.3 2235.8,913.1 2236.2,948.0 2236.6,916.4 2237.0,947.8 2237.4,950.6 2237.8,947.9 2238.2,950.5 2238.6,948.2 2238.9,950.4 2239.3,951.2 2239.7,936.2 2240.1,936.8 2240.5,950.2 2240.9,951.7 2241.3,951.0 2241.7,951.4 2242.1,951.4 2242.5,951.0 2242.9,951.2 2243.3,950.1 2243.7,949.7 2244.1,950.6 2244.5,950.9 2244.9,950.9 2245.3,951.2 2245.7,935.4 2246.1,944.7 2246.5,941.7 2246.9,934.7 2247.3,939.3 2247.7,950.4 2248.1,948.4 2248.5,950.6 2248.9,950.6 2249.3,950.7 2249.7,950.3 2250.1,949.6 2250.5,949.8 2250.9,949.9 2251.2,936.6 2251.6,937.2 2252.0,936.2 2252.4,943.2 2252.8,949.0 2253.2,949.7 2253.6,949.6 2254.0,949.1 2254.4,933.7 2254.8,949.4 2255.2,947.7 2255.6,949.3 2256.0,948.9 2256.4,948.8 2256.8,948.5 2257.2,946.9 2257.6,933.5 2258.0,947.7 2258.4,947.5 2258.8,946.6 2259.2,946.4 2259.6,938.4 2260.0,933.3 2260.4,934.5 2260.8,946.5 2261.2,940.8 2261.6,943.3 2262.0,946.1 2262.4,945.7 2262.8,946.8 2263.2,946.9 2263.5,946.4 2263.9,947.4 2264.3,946.0 2264.7,946.6 2265.1,946.4 2265.5,946.9 2265.9,946.8 2266.3,944.6 2266.7,942.6 2267.1,942.5 2267.5,943.5 2267.9,944.1 2268.3,946.8 2268.7,946.5 2269.1,946.1 2269.5,945.6 2269.9,944.6 2270.3,945.7 2270.7,945.4 2271.1,945.6 2271.5,944.7 2271.9,946.0 2272.3,946.3 2272.7,946.0 2273.1,946.2 2273.5,946.3 2273.9,945.0 2274.3,946.0 2274.7,946.2 2275.1,944.8 2275.5,939.7 2275.8,941.1 2276.2,944.8 2276.6,945.7 2277.0,945.7 2277.4,946.3 2277.8,942.0 2278.2,935.7 2278.6,932.8 2279.0,946.4 2279.4,946.0 2279.8,946.2 2280.2,945.0 2280.6,942.2 2281.0,946.1 2281.4,938.9 2281.8,946.0 2282.2,946.4 2282.6,944.9 2283.0,946.2 2283.4,945.6 2283.8,944.3 2284.2,935.4 2284.6,940.1 2285.0,932.3 2285.4,939.3 2285.8,944.8 2286.2,943.9 2286.6,943.2 2287.0,944.7 2287.4,943.3 2287.8,942.8 2288.1,946.4 2288.5,941.6 2288.9,945.9 2289.3,946.1 2289.7,945.3 2290.1,942.9 2290.5,944.1 2290.9,942.4 2291.3,940.1 2291.7,943.2 2292.1,943.2 2292.5,938.8 2292.9,942.2 2293.3,923.9 2293.7,928.5 2294.1,924.6 2294.5,918.3 2294.9,925.5 2295.3,917.3 2295.7,928.8 2296.1,934.4 2296.5,934.5 2296.9,935.6 2297.3,926.3 2297.7,934.5 2298.1,934.4 2298.5,927.7 2298.9,929.6 2299.3,932.3 2299.7,930.7 2300.1,927.1 2300.4,933.5 2300.8,936.2 2301.2,928.5 2301.6,908.5 2302.0,888.4 2302.4,875.5 2302.8,901.4 2303.2,872.4 2303.6,895.4 2304.0,931.7 2304.4,911.3 2304.8,912.0 2305.2,893.5 2305.6,860.1 2306.0,911.9 2306.4,934.9 2306.8,898.0 2307.2,937.6 2307.6,936.6 2308.0,932.1 2308.4,929.6 2308.8,936.7 2309.2,931.4 2309.6,932.7 2310.0,934.6 2310.4,933.9 2310.8,933.1 2311.2,925.4 2311.6,927.7 2312.0,931.1 2312.4,928.9 2312.7,925.6 2313.1,929.4 2313.5,928.2 2313.9,928.8 2314.3,927.8 2314.7,930.0 2315.1,927.0 2315.5,930.7 2315.9,928.9 2316.3,930.6 2316.7,927.9 2317.1,930.5 2317.5,930.3 2317.9,858.3 2318.3,931.8 2318.7,899.7 2319.1,899.9 2319.5,885.1 2319.9,931.8 2320.3,929.3 2320.7,924.6 2321.1,930.7 2321.5,929.4 2321.9,909.7 2322.3,926.4 2322.7,929.2 2323.1,872.6 2323.5,899.0 2323.9,864.9 2324.3,927.8 2324.7,927.4 2325.0,925.0 2325.4,927.8 2325.8,926.4 2326.2,928.2 2326.6,928.4 2327.0,924.0 2327.4,930.2 2327.8,931.0 2328.2,931.8 2328.6,930.6 2329.0,933.1 2329.4,933.4 2329.8,933.4 2330.2,932.9 2330.6,931.7 2331.0,922.4 2331.4,923.4 2331.8,916.2 2332.2,937.5 2332.6,921.8 2333.0,936.3 2333.4,939.6 2333.8,932.8 2334.2,939.6 2334.6,940.5 2335.0,941.1 2335.4,940.8 2335.8,941.7 2336.2,942.0 2336.6,942.0 2337.0,942.6 2337.3,941.4 2337.7,943.2 2338.1,941.5 2338.5,942.9 2338.9,937.3 2339.3,943.4 2339.7,934.8 2340.1,942.7 2340.5,944.0 2340.9,942.9 2341.3,942.5 2341.7,938.7 2342.1,939.9 2342.5,943.0 2342.9,943.5 2343.3,943.9 2343.3,949.4 2342.9,948.7 2342.5,948.9 2342.1,949.0 2341.7,948.2 2341.3,950.8 2340.9,947.9 2340.5,951.2 2340.1,952.5 2339.7,953.2 2339.3,952.1 2338.9,952.6 2338.5,954.0 2338.1,949.0 2337.7,948.0 2337.3,949.5 2337.0,948.9 2336.6,947.8 2336.2,947.6 2335.8,948.5 2335.4,957.1 2335.0,957.5 2334.6,953.2 2334.2,955.2 2333.8,953.8 2333.4,946.7 2333.0,951.1 2332.6,947.0 2332.2,955.6 2331.8,955.2 2331.4,951.9 2331.0,951.4 2330.6,944.4 2330.2,938.7 2329.8,943.7 2329.4,952.2 2329.0,947.0 2328.6,937.0 2328.2,938.0 2327.8,944.1 2327.4,934.3 2327.0,936.6 2326.6,941.2 2326.2,934.7 2325.8,944.6 2325.4,941.0 2325.0,945.1 2324.7,935.9 2324.3,945.8 2323.9,941.0 2323.5,941.7 2323.1,939.6 2322.7,942.9 2322.3,947.4 2321.9,939.1 2321.5,933.6 2321.1,948.4 2320.7,937.8 2320.3,948.4 2319.9,942.3 2319.5,947.8 2319.1,948.9 2318.7,936.8 2318.3,947.7 2317.9,946.5 2317.5,937.1 2317.1,937.6 2316.7,940.7 2316.3,941.0 2315.9,939.7 2315.5,943.6 2315.1,941.6 2314.7,936.5 2314.3,937.1 2313.9,936.5 2313.5,937.1 2313.1,939.6 2312.7,932.9 2312.4,939.7 2312.0,937.2 2311.6,940.1 2311.2,939.6 2310.8,943.8 2310.4,945.3 2310.0,944.6 2309.6,940.3 2309.2,944.7 2308.8,948.4 2308.4,942.7 2308.0,943.8 2307.6,946.8 2307.2,948.8 2306.8,947.3 2306.4,946.6 2306.0,947.2 2305.6,950.2 2305.2,949.4 2304.8,947.1 2304.4,951.3 2304.0,948.9 2303.6,954.8 2303.2,954.9 2302.8,949.9 2302.4,949.7 2302.0,945.0 2301.6,959.5 2301.2,949.3 2300.8,944.5 2300.4,955.6 2300.1,946.0 2299.7,945.9 2299.3,955.4 2298.9,945.5 2298.5,951.3 2298.1,957.5 2297.7,956.6 2297.3,945.6 2296.9,957.1 2296.5,954.1 2296.1,953.6 2295.7,950.3 2295.3,944.6 2294.9,955.4 2294.5,957.7 2294.1,958.2 2293.7,951.3 2293.3,946.6 2292.9,965.0 2292.5,960.6 2292.1,966.1 2291.7,959.5 2291.3,962.0 2290.9,951.3 2290.5,951.9 2290.1,951.7 2289.7,955.7 2289.3,950.2 2288.9,951.6 2288.5,951.8 2288.1,951.1 2287.8,950.4 2287.4,951.1 2287.0,951.1 2286.6,949.5 2286.2,950.5 2285.8,949.9 2285.4,950.4 2285.0,950.6 2284.6,950.4 2284.2,950.0 2283.8,950.1 2283.4,949.7 2283.0,950.6 2282.6,950.5 2282.2,951.3 2281.8,949.9 2281.4,950.6 2281.0,950.1 2280.6,950.5 2280.2,949.9 2279.8,950.6 2279.4,950.1 2279.0,949.6 2278.6,950.3 2278.2,952.8 2277.8,952.0 2277.4,952.6 2277.0,952.3 2276.6,954.1 2276.2,950.4 2275.8,951.9 2275.5,953.0 2275.1,951.7 2274.7,953.4 2274.3,952.9 2273.9,950.4 2273.5,953.9 2273.1,954.9 2272.7,952.9 2272.3,953.8 2271.9,951.9 2271.5,954.1 2271.1,953.3 2270.7,954.6 2270.3,952.3 2269.9,951.1 2269.5,955.4 2269.1,950.9 2268.7,955.4 2268.3,952.9 2267.9,954.8 2267.5,955.3 2267.1,955.0 2266.7,954.4 2266.3,955.7 2265.9,957.7 2265.5,957.1 2265.1,954.1 2264.7,950.2 2264.3,951.7 2263.9,951.6 2263.5,957.3 2263.2,953.4 2262.8,952.4 2262.4,954.5 2262.0,952.0 2261.6,952.0 2261.2,950.9 2260.8,952.1 2260.4,951.9 2260.0,951.5 2259.6,951.4 2259.2,952.8 2258.8,953.0 2258.4,954.0 2258.0,954.2 2257.6,954.1 2257.2,952.8 2256.8,953.9 2256.4,953.8 2256.0,954.6 2255.6,953.8 2255.2,953.4 2254.8,955.0 2254.4,954.5 2254.0,953.0 2253.6,954.0 2253.2,954.3 2252.8,954.8 2252.4,954.7 2252.0,954.2 2251.6,955.1 2251.2,953.8 2250.9,953.6 2250.5,954.0 2250.1,955.4 2249.7,955.3 2249.3,954.3 2248.9,955.5 2248.5,955.3 2248.1,954.7 2247.7,954.5 2247.3,955.4 2246.9,955.6 2246.5,955.5 2246.1,955.0 2245.7,955.2 2245.3,956.1 2244.9,958.6 2244.5,959.6 2244.1,960.1 2243.7,955.8 2243.3,957.0 2242.9,957.2 2242.5,960.1 2242.1,958.6 2241.7,960.8 2241.3,961.1 2240.9,960.7 2240.5,959.9 2240.1,959.6 2239.7,957.3 2239.3,955.7 2238.9,956.5 2238.6,958.4 2238.2,968.8 2237.8,964.1 2237.4,961.0 2237.0,973.5 2236.6,973.8 2236.2,956.6 2235.8,975.6 2235.4,965.7 2235.0,966.1 2234.6,972.3 2234.2,973.7 2233.8,956.7 2233.4,958.3 2233.0,963.9 2232.6,965.2 2232.2,947.8 2231.8,956.0 2231.4,960.3 2231.0,957.7 2230.6,949.7 2230.2,939.5 2229.8,949.5 2229.4,934.8 2229.0,928.9 2228.6,945.0 2228.2,934.5 2227.8,929.7 2227.4,926.5 2227.0,943.0 2226.6,935.1 2226.2,941.3 2225.9,929.5 2225.5,923.9 2225.1,939.5 2224.7,940.1 2224.3,942.6 2223.9,945.7 2223.5,945.6 2223.1,947.7 2222.7,954.7 2222.3,951.5 2221.9,960.6 2221.5,966.8 2221.1,961.2 2220.7,959.6 2220.3,956.7 2219.9,952.7 2219.5,961.7 2219.1,949.3 2218.7,947.3 2218.3,938.0 2217.9,932.4 2217.5,930.4 2217.1,932.7 2216.7,914.6 2216.3,934.2 2215.9,919.3 2215.5,921.1 2215.1,927.3 2214.7,927.4 2214.3,930.0 2213.9,910.1 2213.6,917.4 2213.2,931.9 2212.8,927.4 2212.4,927.4 2212.0,926.2 2211.6,926.3 2211.2,937.5 2210.8,941.4 2210.4,935.9 2210.0,934.4 2209.6,948.4 2209.2,953.4 2208.8,947.2 2208.4,939.4 2208.0,951.2 2207.6,940.8 2207.2,964.6 2206.8,957.6 2206.4,967.6 2206.0,954.1 2205.6,966.6 2205.2,971.3 2204.8,960.1 2204.4,955.1 2204.0,963.6 2203.6,953.7 2203.2,954.9 2202.8,970.7 2202.4,967.1 2202.0,971.1 2201.6,972.8 2201.3,967.8 2200.9,971.8 2200.5,977.5 2200.1,961.2 2199.7,971.3 2199.3,978.6 2198.9,972.0 2198.5,973.2 2198.1,972.2 2197.7,963.0 2197.3,964.0 2196.9,960.5 2196.5,960.4 2196.1,964.8 2195.7,966.4 2195.3,965.5 2194.9,965.5 2194.5,965.9 2194.1,967.1 2193.7,964.5 2193.3,963.4 2192.9,966.2 2192.5,965.4 2192.1,961.0 2191.7,963.7 2191.3,964.1 2190.9,965.4 2190.5,964.7 2190.1,964.2 2189.7,965.9 2189.3,966.3 2189.0,964.9 2188.6,964.4 2188.2,965.2 2187.8,964.6 2187.4,964.0 2187.0,963.7 2186.6,964.2 2186.2,964.9 2185.8,965.4 2185.4,963.4 2185.0,965.6 2184.6,966.4 2184.2,966.4 2183.8,965.3 2183.4,964.0 2183.0,964.1 2182.6,966.0 2182.2,965.0 2181.8,965.6 2181.4,965.3 2181.0,966.3 2180.6,965.0 2180.2,966.5 2179.8,966.5 2179.4,965.7 2179.0,964.6 2178.6,965.7 2178.2,965.2 2177.8,967.1 2177.4,967.1 2177.0,966.5 2176.7,967.1 2176.3,966.3 2175.9,964.7 2175.5,966.2 2175.1,967.5 2174.7,966.3 2174.3,965.1 2173.9,967.4 2173.5,966.1 2173.1,966.7 2172.7,964.6 2172.3,966.1 2171.9,965.5 2171.5,965.8 2171.1,965.7 2170.7,967.9 2170.3,968.0 2169.9,967.8 2169.5,965.9 2169.1,967.8 2168.7,968.0 2168.3,968.8 2167.9,966.0 2167.5,966.9 2167.1,967.0 2166.7,967.1 2166.3,966.2 2165.9,966.7 2165.5,965.4 2165.1,965.2 2164.7,967.2 2164.4,966.8 2164.0,966.1 2163.6,966.6 2163.2,965.2 2162.8,967.0 2162.4,966.4 2162.0,965.6 2161.6,966.1 2161.2,964.9 2160.8,966.3 2160.4,965.0 2160.0,964.9 2159.6,967.1 2159.2,965.7 2158.8,965.5 2158.4,965.4 2158.0,966.8 2157.6,967.7 2157.2,968.2 2156.8,968.5 2156.4,969.5 2156.0,966.9 2155.6,967.5 2155.2,966.2 2154.8,969.8 2154.4,968.2 2154.0,967.7 2153.6,965.3 2153.2,969.3 2152.8,968.6 2152.4,968.1 2152.1,967.2 2151.7,967.9 2151.3,968.4 2150.9,968.9 2150.5,967.2 2150.1,968.4 2149.7,967.1 2149.3,968.1 2148.9,968.7 2148.5,969.1 2148.1,966.3 2147.7,967.2 2147.3,967.1 2146.9,966.8 2146.5,968.2 2146.1,967.7 2145.7,966.7 2145.3,968.6 2144.9,968.9 2144.5,968.6 2144.1,967.9 2143.7,967.2 2143.3,967.1 2142.9,968.6 2142.5,967.1 2142.1,967.9 2141.7,967.7 2141.3,968.5 2140.9,967.2 2140.5,966.4 2140.1,966.0 2139.8,965.8 2139.4,966.3 2139.0,967.2 2138.6,967.4 2138.2,967.6 2137.8,967.0 2137.4,967.0 2137.0,967.1 2136.6,965.6 2136.2,965.5 2135.8,966.7 2135.4,966.8 2135.0,966.0 2134.6,965.9 2134.2,966.4 2133.8,966.8 2133.4,966.1 2133.0,965.5 2132.6,964.7 2132.2,965.6 2131.8,964.3 2131.4,965.4 2131.0,964.9 2130.6,963.6 2130.2,963.6 2129.8,964.9 2129.4,963.5 2129.0,965.1 2128.6,965.1 2128.2,965.0 2127.8,963.8 2127.5,964.7 2127.1,964.8 2126.7,963.8 2126.3,963.3 2125.9,963.4 2125.5,964.4 2125.1,964.5 2124.7,964.2 2124.3,964.9 2123.9,964.4 2123.5,965.1 2123.1,964.8 2122.7,964.6 2122.3,965.1 2121.9,964.1 2121.5,965.0 2121.1,964.6 2120.7,964.5 2120.3,965.1 2119.9,965.3 2119.5,964.8 2119.1,965.1 2118.7,964.6 2118.3,965.4 2117.9,966.1 2117.5,964.8 2117.1,965.8 2116.7,965.2 2116.3,966.2 2115.9,965.3 2115.5,965.5 2115.1,965.5 2114.8,965.7 2114.4,966.5 2114.0,966.6 2113.6,966.4 2113.2,965.8 2112.8,967.0 2112.4,967.2 2112.0,965.1 2111.6,966.9 2111.2,967.1 2110.8,968.2 2110.4,966.8 2110.0,965.3 2109.6,968.3 2109.2,968.4 2108.8,966.1 2108.4,968.8 2108.0,968.6 2107.6,967.7 2107.2,968.1 2106.8,967.0 2106.4,968.0 2106.0,968.2 2105.6,966.8 2105.2,969.4 2104.8,972.1 2104.4,964.5 2104.0,969.9 2103.6,974.7 2103.2,981.0 2102.8,982.4 2102.5,967.6 2102.1,969.2 2101.7,967.2 2101.3,968.1 2100.9,975.9 2100.5,967.9 2100.1,960.2 2099.7,966.4 2099.3,962.7 2098.9,973.7 2098.5,954.6 2098.1,974.4 2097.7,964.0 2097.3,960.8 2096.9,953.6 2096.5,960.7 2096.1,956.9 2095.7,951.0 2095.3,958.0 2094.9,946.1 2094.5,955.7 2094.1,946.8 2093.7,938.0 2093.3,947.9 2092.9,936.1 2092.5,930.1 2092.1,942.5 2091.7,933.9 2091.3,932.2 2090.9,928.7 2090.5,932.6 2090.2,928.8 2089.8,928.0 2089.4,928.6 2089.0,930.7 2088.6,927.1 2088.2,926.4 2087.8,923.6 2087.4,924.7 2087.0,925.4 2086.6,920.7 2086.2,920.9 2085.8,923.5 2085.4,924.5 2085.0,920.2 2084.6,926.5 2084.2,927.8 2083.8,927.1 2083.4,924.2 2083.0,928.7 2082.6,937.0 2082.2,927.1 2081.8,934.6 2081.4,917.5 2081.0,913.5 2080.6,928.1 2080.2,931.0 2079.8,921.6 2079.4,922.5 2079.0,930.8 2078.6,930.9 2078.2,924.4 2077.9,921.0 2077.5,913.9 2077.1,917.6 2076.7,901.1 2076.3,898.8 2075.9,917.9 2075.5,915.8 2075.1,904.1 2074.7,897.9 2074.3,896.5 2073.9,899.4 2073.5,895.8 2073.1,887.5 2072.7,898.3 2072.3,901.6 2071.9,900.4 2071.5,883.6 2071.1,886.8 2070.7,892.0 2070.3,889.6 2069.9,899.4 2069.5,894.6 2069.1,900.4 2068.7,900.8 2068.3,903.0 2067.9,900.7 2067.5,906.0 2067.1,898.4 2066.7,892.8 2066.3,885.0 2065.9,896.3 2065.6,895.2 2065.2,894.7 2064.8,881.3 2064.4,894.4 2064.0,892.0 2063.6,885.8 2063.2,888.6 2062.8,889.0 2062.4,893.0 2062.0,898.4 2061.6,886.9 2061.2,885.4 2060.8,889.2 2060.4,887.0 2060.0,887.9 2059.6,887.9 2059.2,890.5 2058.8,900.4 2058.4,904.2 2058.0,909.5 2057.6,914.9 2057.2,904.8 2056.8,926.7 2056.4,929.6 2056.0,928.6 2055.6,938.1 2055.2,926.7 2054.8,933.7 2054.4,947.0 2054.0,937.5 2053.6,955.9 2053.3,955.0 2052.9,953.2 2052.5,952.9 2052.1,937.7 2051.7,951.0 2051.3,937.0 2050.9,948.8 2050.5,932.3 2050.1,932.8 2049.7,935.5 2049.3,918.3 2048.9,929.7 2048.5,921.6 2048.1,908.8 2047.7,914.6 2047.3,903.1 2046.9,908.6 2046.5,904.9 2046.1,897.8 2045.7,903.3 2045.3,909.3 2044.9,902.2 2044.5,904.7 2044.1,912.7 2043.7,913.2 2043.3,908.3 2042.9,916.7 2042.5,908.8 2042.1,923.4 2041.7,930.9 2041.3,918.9 2041.0,935.4 2040.6,938.7 2040.2,935.9 2039.8,950.2 2039.4,951.9 2039.0,953.5 2038.6,951.0 2038.2,947.6 2037.8,956.3 2037.4,940.7 2037.0,943.0 2036.6,952.8 2036.2,938.7 2035.8,948.5 2035.4,945.8 2035.0,950.2 2034.6,956.0 2034.2,951.9 2033.8,952.4 2033.4,958.2 2033.0,958.4 2032.6,953.1 2032.2,957.6 2031.8,956.3 2031.4,951.1 2031.0,940.4 2030.6,952.6 2030.2,949.2 2029.8,942.2 2029.4,945.0 2029.0,934.5 2028.7,951.6 2028.3,938.0 2027.9,942.6 2027.5,929.7 2027.1,936.8 2026.7,930.2 2026.3,932.1 2025.9,943.5 2025.5,936.8 2025.1,936.6 2024.7,935.5 2024.3,935.2 2023.9,928.3 2023.5,941.6 2023.1,940.0 2022.7,938.6 2022.3,927.9 2021.9,935.2 2021.5,935.7 2021.1,939.5 2020.7,945.5 2020.3,937.0 2019.9,932.0 2019.5,926.4 2019.1,941.0 2018.7,943.4 2018.3,937.7 2017.9,942.1 2017.5,946.2 2017.1,945.8 2016.7,941.6 2016.3,943.4 2016.0,941.8 2015.6,948.6 2015.2,951.2 2014.8,943.6 2014.4,954.8 2014.0,943.9 2013.6,937.0 2013.2,944.6 2012.8,955.4 2012.4,942.2 2012.0,943.5 2011.6,945.1 2011.2,953.0 2010.8,946.0 2010.4,933.6 2010.0,950.3 2009.6,945.1 2009.2,939.6 2008.8,946.7 2008.4,942.4 2008.0,937.6 2007.6,943.2 2007.2,924.0 2006.8,935.3 2006.4,933.7 2006.0,929.8 2005.6,925.8 2005.2,937.3 2004.8,938.3 2004.4,918.4 2004.0,929.8 2003.7,929.2 2003.3,932.2 2002.9,914.0 2002.5,927.9 2002.1,922.4 2001.7,913.7 2001.3,923.2 2000.9,922.2 2000.5,920.5 2000.1,914.6 1999.7,926.9 1999.3,916.5 1998.9,915.4 1998.5,914.8 1998.1,917.2 1997.7,924.3 1997.3,911.8 1996.9,916.1 1996.5,917.4 1996.1,916.3 1995.7,914.4 1995.3,916.0 1994.9,912.6 1994.5,912.1 1994.1,922.7 1993.7,922.1 1993.3,907.3 1992.9,900.5 1992.5,897.7 1992.1,913.4 1991.7,899.2 1991.4,907.4 1991.0,901.2 1990.6,908.5 1990.2,911.7 1989.8,904.3 1989.4,901.4 1989.0,905.7 1988.6,891.8 1988.2,894.0 1987.8,891.9 1987.4,877.2 1987.0,879.1 1986.6,882.0 1986.2,891.8 1985.8,879.7 1985.4,869.3 1985.0,872.1 1984.6,876.5 1984.2,887.0 1983.8,887.5 1983.4,876.7 1983.0,881.5 1982.6,880.0 1982.2,879.7 1981.8,879.1 1981.4,887.5 1981.0,888.2 1980.6,888.2 1980.2,881.7 1979.8,890.2 1979.4,890.4 1979.1,898.9 1978.7,889.4 1978.3,886.5 1977.9,898.8 1977.5,904.1 1977.1,894.4 1976.7,895.7 1976.3,907.8 1975.9,893.6 1975.5,902.2 1975.1,900.0 1974.7,900.2 1974.3,898.5 1973.9,897.1 1973.5,893.4 1973.1,902.6 1972.7,900.2 1972.3,896.1 1971.9,906.5 1971.5,899.5 1971.1,898.8 1970.7,904.4 1970.3,903.9 1969.9,904.5 1969.5,911.3 1969.1,903.4 1968.7,908.2 1968.3,913.6 1967.9,901.5 1967.5,913.9 1967.1,902.5 1966.8,912.2 1966.4,917.0 1966.0,905.8 1965.6,920.3 1965.2,912.2 1964.8,912.0 1964.4,910.2 1964.0,919.0 1963.6,914.3 1963.2,922.9 1962.8,924.6 1962.4,915.0 1962.0,918.2 1961.6,914.3 1961.2,910.8 1960.8,914.2 1960.4,915.7 1960.0,911.4 1959.6,914.1 1959.2,917.4 1958.8,915.2 1958.4,912.8 1958.0,917.6 1957.6,919.4 1957.2,915.1 1956.8,916.9 1956.4,913.3 1956.0,919.1 1955.6,914.7 1955.2,913.3 1954.8,917.3 1954.5,917.6 1954.1,912.7 1953.7,917.1 1953.3,918.8 1952.9,914.3 1952.5,915.2 1952.1,914.9 1951.7,912.6 1951.3,913.6 1950.9,911.1 1950.5,911.1 1950.1,910.0 1949.7,912.0 1949.3,911.3 1948.9,911.6 1948.5,912.1 1948.1,913.6 1947.7,915.3 1947.3,914.3 1946.9,915.5 1946.5,916.7 1946.1,916.8 1945.7,913.6 1945.3,916.1 1944.9,917.8 1944.5,917.4 1944.1,915.6 1943.7,917.3 1943.3,913.8 1942.9,916.4 1942.5,915.1 1942.2,914.6 1941.8,914.3 1941.4,911.5 1941.0,912.3 1940.6,911.5 1940.2,914.0 1939.8,910.3 1939.4,908.8 1939.0,910.0 1938.6,909.9 1938.2,913.1 1937.8,914.9 1937.4,912.7 1937.0,915.4 1936.6,915.6 1936.2,919.2 1935.8,915.7 1935.4,916.2 1935.0,920.1 1934.6,921.0 1934.2,918.3 1933.8,922.3 1933.4,916.8 1933.0,922.9 1932.6,917.8 1932.2,924.5 1931.8,922.6 1931.4,922.6 1931.0,926.9 1930.6,929.1 1930.2,926.8 1929.9,930.1 1929.5,929.1 1929.1,929.2 1928.7,933.7 1928.3,927.9 1927.9,930.7 1927.5,934.0 1927.1,929.4 1926.7,930.2 1926.3,933.8 1925.9,930.7 1925.5,932.0 1925.1,927.0 1924.7,933.5 1924.3,927.4 1923.9,930.0 1923.5,929.4 1923.1,930.9 1922.7,934.6 1922.3,934.4 1921.9,930.1 1921.5,934.6 1921.1,934.7 1920.7,934.2 1920.3,930.0 1919.9,930.6 1919.5,934.1 1919.1,936.5 1918.7,933.9 1918.3,933.6 1917.9,933.1 1917.6,932.0 1917.2,936.0 1916.8,935.7 1916.4,933.6 1916.0,933.8 1915.6,935.4 1915.2,938.1 1914.8,939.6 1914.4,936.9 1914.0,940.0 1913.6,941.8 1913.2,943.2 1912.8,937.1 1912.4,942.5 1912.0,941.5 1911.6,939.5 1911.2,938.9 1910.8,945.0 1910.4,941.8 1910.0,940.6 1909.6,941.1 1909.2,939.3 1908.8,946.0 1908.4,945.5 1908.0,945.8 1907.6,939.9 1907.2,940.0 1906.8,945.4 1906.4,943.6 1906.0,940.1 1905.6,946.9 1905.2,946.6 1904.9,947.1 1904.5,948.9 1904.1,949.8 1903.7,946.2 1903.3,944.2 1902.9,948.6 1902.5,945.1 1902.1,950.0 1901.7,946.1 1901.3,951.7 1900.9,952.4 1900.5,945.0 1900.1,951.8 1899.7,952.7 1899.3,953.3 1898.9,953.5 1898.5,953.2 1898.1,951.0 1897.7,954.8 1897.3,954.1 1896.9,953.5 1896.5,957.4 1896.1,957.3 1895.7,954.3 1895.3,957.9 1894.9,956.6 1894.5,956.1 1894.1,957.8 1893.7,959.1 1893.3,959.3 1892.9,955.7 1892.6,956.9 1892.2,956.0 1891.8,958.4 1891.4,956.0 1891.0,956.9 1890.6,957.8 1890.2,955.1 1889.8,956.2 1889.4,955.9 1889.0,956.7 1888.6,957.7 1888.2,958.3 1887.8,957.8 1887.4,957.2 1887.0,955.6 1886.6,955.8 1886.2,956.4 1885.8,957.9 1885.4,958.7 1885.0,958.7 1884.6,959.9 1884.2,959.7 1883.8,960.4 1883.4,957.8 1883.0,958.7 1882.6,959.6 1882.2,959.7 1881.8,958.4 1881.4,958.5 1881.0,958.7 1880.6,958.8 1880.3,958.4 1879.9,958.6 1879.5,958.5 1879.1,958.3 1878.7,959.0 1878.3,959.3 1877.9,958.5 1877.5,957.9 1877.1,959.0 1876.7,958.3 1876.3,957.2 1875.9,958.8 1875.5,957.7 1875.1,957.0 1874.7,957.1 1874.3,956.1 1873.9,957.9 1873.5,957.2 1873.1,956.4 1872.7,958.1 1872.3,956.6 1871.9,958.5 1871.5,957.1 1871.1,957.0 1870.7,958.9 1870.3,956.9 1869.9,956.4 1869.5,957.8 1869.1,954.2 1868.7,958.3 1868.3,957.3 1868.0,954.6 1867.6,956.5 1867.2,968.0 1866.8,968.0 1866.4,965.6 1866.0,958.5 1865.6,967.1 1865.2,964.6 1864.8,960.8 1864.4,959.2 1864.0,954.0 1863.6,958.4 1863.2,954.4 1862.8,956.3 1862.4,954.2 1862.0,954.0 1861.6,946.8 1861.2,958.6 1860.8,944.9 1860.4,956.7 1860.0,960.0 1859.6,954.4 1859.2,963.4 1858.8,962.6 1858.4,945.9 1858.0,952.0 1857.6,949.3 1857.2,958.7 1856.8,959.7 1856.4,961.7 1856.0,952.1 1855.7,956.6 1855.3,942.9 1854.9,953.0 1854.5,956.9 1854.1,955.6 1853.7,953.9 1853.3,953.2 1852.9,929.8 1852.5,943.8 1852.1,936.2 1851.7,934.7 1851.3,938.0 1850.9,923.3 1850.5,925.7 1850.1,928.1 1849.7,937.0 1849.3,935.8 1848.9,926.9 1848.5,933.5 1848.1,918.1 1847.7,928.7 1847.3,928.9 1846.9,934.4 1846.5,937.2 1846.1,940.4 1845.7,944.2 1845.3,946.1 1844.9,955.7 1844.5,952.2 1844.1,944.2 1843.7,961.4 1843.4,964.9 1843.0,949.7 1842.6,964.8 1842.2,960.6 1841.8,961.7 1841.4,972.4 1841.0,961.6 1840.6,966.8 1840.2,965.4 1839.8,963.5 1839.4,968.4 1839.0,959.4 1838.6,965.9 1838.2,963.2 1837.8,969.5 1837.4,969.8 1837.0,973.9 1836.6,961.7 1836.2,969.2 1835.8,970.4 1835.4,966.4 1835.0,983.2 1834.6,963.5 1834.2,974.3 1833.8,973.5 1833.4,984.2 1833.0,968.1 1832.6,981.7 1832.2,975.8 1831.8,976.9 1831.4,975.0 1831.1,960.7 1830.7,971.8 1830.3,962.4 1829.9,972.9 1829.5,964.8 1829.1,971.7 1828.7,968.3 1828.3,966.2 1827.9,965.6 1827.5,955.7 1827.1,969.4 1826.7,967.7 1826.3,965.4 1825.9,967.0 1825.5,961.5 1825.1,958.2 1824.7,956.2 1824.3,956.9 1823.9,960.0 1823.5,958.5 1823.1,958.9 1822.7,965.9 1822.3,960.0 1821.9,964.3 1821.5,961.5 1821.1,965.9 1820.7,963.2 1820.3,972.6 1819.9,962.3 1819.5,967.2 1819.1,968.9 1818.8,967.0 1818.4,959.3 1818.0,963.5 1817.6,968.5 1817.2,963.8 1816.8,960.4 1816.4,965.6 1816.0,960.6 1815.6,960.2 1815.2,959.8 1814.8,959.2 1814.4,954.6 1814.0,957.5 1813.6,963.1 1813.2,965.8 1812.8,963.8 1812.4,955.3 1812.0,959.9 1811.6,965.2 1811.2,956.9 1810.8,959.5 1810.4,959.9 1810.0,959.3 1809.6,960.0 1809.2,957.7 1808.8,953.0 1808.4,958.4 1808.0,957.4 1807.6,957.3 1807.2,954.4 1806.8,957.4 1806.5,954.5 1806.1,959.9 1805.7,950.7 1805.3,950.1 1804.9,955.1 1804.5,957.8 1804.1,958.5 1803.7,960.0 1803.3,962.3 1802.9,960.7 1802.5,957.4 1802.1,963.3 1801.7,972.0 1801.3,969.1 1800.9,969.6 1800.5,960.4 1800.1,963.5 1799.7,952.4 1799.3,964.0 1798.9,958.6 1798.5,949.0 1798.1,955.0 1797.7,946.7 1797.3,955.6 1796.9,955.2 1796.5,936.4 1796.1,942.4 1795.7,943.6 1795.3,942.4 1794.9,925.9 1794.5,937.4 1794.1,940.1 1793.8,930.6 1793.4,935.0 1793.0,928.0 1792.6,933.0 1792.2,922.3 1791.8,933.8 1791.4,931.0 1791.0,921.1 1790.6,921.3 1790.2,928.6 1789.8,934.8 1789.4,920.3 1789.0,921.2 1788.6,924.2 1788.2,921.7 1787.8,924.0 1787.4,922.3 1787.0,920.5 1786.6,923.9 1786.2,919.3 1785.8,923.4 1785.4,920.4 1785.0,924.6 1784.6,927.4 1784.2,923.6 1783.8,917.7 1783.4,921.7 1783.0,923.4 1782.6,927.7 1782.2,916.8 1781.8,926.5 1781.5,925.4 1781.1,913.2 1780.7,907.6 1780.3,915.1 1779.9,913.0 1779.5,918.9 1779.1,904.4 1778.7,904.0 1778.3,913.4 1777.9,918.4 1777.5,922.8 1777.1,921.5 1776.7,923.8 1776.3,920.0 1775.9,928.4 1775.5,929.1 1775.1,923.1 1774.7,930.7 1774.3,926.2 1773.9,936.8 1773.5,926.4 1773.1,932.2 1772.7,940.8 1772.3,938.6 1771.9,942.8 1771.5,938.3 1771.1,940.3 1770.7,939.7 1770.3,937.9 1769.9,935.9 1769.5,933.4 1769.2,935.5 1768.8,928.6 1768.4,926.5 1768.0,928.8 1767.6,925.2 1767.2,923.9 1766.8,922.8 1766.4,924.0 1766.0,922.9 1765.6,926.7 1765.2,925.8 1764.8,926.5 1764.4,925.6 1764.0,932.5 1763.6,932.4 1763.2,933.8 1762.8,935.0 1762.4,933.8 1762.0,935.0 1761.6,937.8 1761.2,939.7 1760.8,937.1 1760.4,935.2 1760.0,936.9 1759.6,945.2 1759.2,945.6 1758.8,943.6 1758.4,945.9 1758.0,944.1 1757.6,939.8 1757.2,949.3 1756.9,950.2 1756.5,942.1 1756.1,955.6 1755.7,959.1 1755.3,960.7 1754.9,951.9 1754.5,950.5 1754.1,961.3 1753.7,962.1 1753.3,948.9 1752.9,959.4 1752.5,959.7 1752.1,955.4 1751.7,951.0 1751.3,954.9 1750.9,955.6 1750.5,952.3 1750.1,964.7 1749.7,955.5 1749.3,963.0 1748.9,963.4 1748.5,956.3 1748.1,959.9 1747.7,968.3 1747.3,968.7 1746.9,969.9 1746.5,963.1 1746.1,970.3 1745.7,969.7 1745.3,970.0 1744.9,969.3 1744.6,966.7 1744.2,969.9 1743.8,968.4 1743.4,978.0 1743.0,970.7 1742.6,965.3 1742.2,968.0 1741.8,972.3 1741.4,971.5 1741.0,970.7 1740.6,966.9 1740.2,959.7 1739.8,966.7 1739.4,965.2 1739.0,958.4 1738.6,949.9 1738.2,963.1 1737.8,957.0 1737.4,957.8 1737.0,958.4 1736.6,964.6 1736.2,949.7 1735.8,967.5 1735.4,964.4 1735.0,956.5 1734.6,964.0 1734.2,964.8 1733.8,961.0 1733.4,965.7 1733.0,961.1 1732.6,970.5 1732.3,970.5 1731.9,976.0 1731.5,967.8 1731.1,977.5 1730.7,966.3 1730.3,970.1 1729.9,969.4 1729.5,964.4 1729.1,963.6 1728.7,954.1 1728.3,961.8 1727.9,964.7 1727.5,959.2 1727.1,948.9 1726.7,955.9 1726.3,955.0 1725.9,948.5 1725.5,961.0 1725.1,955.3 1724.7,951.7 1724.3,952.8 1723.9,949.4 1723.5,958.0 1723.1,952.6 1722.7,964.5 1722.3,951.3 1721.9,968.4 1721.5,965.9 1721.1,955.6 1720.7,972.3 1720.3,962.7 1720.0,973.6 1719.6,965.5 1719.2,967.1 1718.8,965.3 1718.4,973.5 1718.0,965.3 1717.6,973.4 1717.2,971.0 1716.8,972.2 1716.4,970.9 1716.0,968.7 1715.6,961.8 1715.2,967.9 1714.8,966.4 1714.4,967.4 1714.0,970.8 1713.6,970.8 1713.2,966.7 1712.8,970.7 1712.4,973.4 1712.0,970.3 1711.6,974.0 1711.2,976.1 1710.8,973.6 1710.4,974.3 1710.0,972.1 1709.6,973.9 1709.2,975.1 1708.8,977.8 1708.4,977.3 1708.0,976.8 1707.7,975.1 1707.3,974.5 1706.9,972.4 1706.5,968.2 1706.1,970.0 1705.7,968.0 1705.3,970.3 1704.9,969.1 1704.5,972.2 1704.1,969.5 1703.7,969.6 1703.3,969.0 1702.9,969.2 1702.5,970.8 1702.1,973.4 1701.7,972.7 1701.3,972.6 1700.9,968.1 1700.5,966.0 1700.1,971.4 1699.7,968.2 1699.3,972.5 1698.9,976.6 1698.5,974.8 1698.1,969.9 1697.7,966.9 1697.3,967.4 1696.9,974.1 1696.5,973.2 1696.1,969.0 1695.7,972.8 1695.4,971.7 1695.0,971.0 1694.6,972.8 1694.2,962.4 1693.8,982.8 1693.4,971.2 1693.0,965.0 1692.6,956.5 1692.2,972.4 1691.8,971.3 1691.4,975.0 1691.0,964.4 1690.6,957.9 1690.2,968.0 1689.8,966.1 1689.4,960.2 1689.0,962.5 1688.6,953.4 1688.2,955.9 1687.8,940.8 1687.4,952.8 1687.0,955.3 1686.6,951.6 1686.2,954.5 1685.8,957.5 1685.4,942.7 1685.0,956.8 1684.6,949.3 1684.2,953.6 1683.8,952.4 1683.4,954.4 1683.0,959.7 1682.7,956.1 1682.3,962.5 1681.9,950.5 1681.5,947.6 1681.1,961.3 1680.7,967.1 1680.3,969.2 1679.9,969.2 1679.5,964.9 1679.1,968.9 1678.7,961.7 1678.3,952.8 1677.9,969.0 1677.5,965.0 1677.1,967.3 1676.7,954.8 1676.3,956.6 1675.9,966.9 1675.5,961.2 1675.1,955.9 1674.7,964.0 1674.3,954.6 1673.9,952.4 1673.5,959.5 1673.1,964.2 1672.7,954.9 1672.3,955.6 1671.9,960.4 1671.5,960.0 1671.1,955.8 1670.7,963.1 1670.4,955.6 1670.0,958.6 1669.6,957.0 1669.2,958.5 1668.8,956.8 1668.4,958.1 1668.0,959.7 1667.6,958.7 1667.2,959.0 1666.8,952.9 1666.4,956.9 1666.0,956.2 1665.6,960.0 1665.2,954.6 1664.8,957.4 1664.4,955.1 1664.0,957.5 1663.6,949.1 1663.2,953.8 1662.8,952.2 1662.4,949.8 1662.0,953.0 1661.6,948.5 1661.2,950.4 1660.8,955.8 1660.4,951.2 1660.0,946.6 1659.6,948.1 1659.2,946.4 1658.8,944.5 1658.4,952.8 1658.1,942.4 1657.7,945.5 1657.3,947.6 1656.9,956.4 1656.5,950.1 1656.1,962.3 1655.7,961.9 1655.3,957.1 1654.9,963.2 1654.5,957.0 1654.1,956.1 1653.7,960.5 1653.3,960.1 1652.9,955.5 1652.5,954.3 1652.1,951.0 1651.7,952.8 1651.3,956.1 1650.9,959.0 1650.5,952.2 1650.1,952.8 1649.7,942.8 1649.3,945.4 1648.9,963.1 1648.5,957.3 1648.1,953.8 1647.7,962.6 1647.3,960.0 1646.9,956.1 1646.5,946.1 1646.1,965.0 1645.8,955.2 1645.4,955.3 1645.0,956.5 1644.6,967.7 1644.2,972.2 1643.8,960.2 1643.4,968.1 1643.0,960.6 1642.6,961.1 1642.2,969.3 1641.8,963.1 1641.4,955.2 1641.0,961.7 1640.6,963.7 1640.2,959.2 1639.8,951.4 1639.4,944.6 1639.0,951.5 1638.6,955.8 1638.2,953.3 1637.8,946.7 1637.4,949.4 1637.0,957.2 1636.6,957.8 1636.2,951.9 1635.8,945.7 1635.4,957.4 1635.0,950.9 1634.6,958.7 1634.2,956.2 1633.8,948.6 1633.5,958.0 1633.1,959.3 1632.7,951.1 1632.3,956.9 1631.9,955.7 1631.5,950.2 1631.1,961.3 1630.7,959.4 1630.3,959.1 1629.9,957.3 1629.5,958.0 1629.1,965.7 1628.7,964.0 1628.3,968.2 1627.9,966.0 1627.5,958.3 1627.1,967.9 1626.7,959.0 1626.3,957.2 1625.9,955.9 1625.5,974.3 1625.1,974.1 1624.7,963.6 1624.3,972.4 1623.9,968.9 1623.5,962.1 1623.1,978.2 1622.7,969.7 1622.3,962.1 1621.9,970.0 1621.5,960.6 1621.2,961.2 1620.8,960.8 1620.4,956.4 1620.0,966.1 1619.6,948.0 1619.2,950.0 1618.8,957.9 1618.4,956.8 1618.0,948.2 1617.6,949.0 1617.2,960.6 1616.8,944.5 1616.4,942.6 1616.0,955.2 1615.6,945.5 1615.2,955.2 1614.8,948.4 1614.4,945.2 1614.0,947.0 1613.6,946.7 1613.2,945.2 1612.8,954.2 1612.4,952.9 1612.0,947.9 1611.6,953.3 1611.2,957.4 1610.8,949.5 1610.4,947.9 1610.0,945.4 1609.6,951.4 1609.2,954.1 1608.9,949.8 1608.5,949.8 1608.1,946.1 1607.7,937.4 1607.3,935.4 1606.9,941.0 1606.5,950.1 1606.1,934.0 1605.7,934.4 1605.3,948.1 1604.9,946.2 1604.5,938.5 1604.1,937.4 1603.7,944.8 1603.3,932.1 1602.9,938.9 1602.5,940.6 1602.1,934.3 1601.7,940.1 1601.3,928.7 1600.9,934.8 1600.5,932.4 1600.1,928.4 1599.7,930.4 1599.3,928.3 1598.9,931.5 1598.5,931.5 1598.1,932.9 1597.7,938.2 1597.3,927.9 1596.9,940.2 1596.6,939.2 1596.2,938.9 1595.8,940.2 1595.4,937.8 1595.0,931.4 1594.6,943.2 1594.2,935.4 1593.8,943.1 1593.4,944.6 1593.0,940.2 1592.6,950.0 1592.2,943.6 1591.8,945.0 1591.4,945.8 1591.0,953.2 1590.6,953.6 1590.2,946.8 1589.8,944.1 1589.4,943.4 1589.0,951.9 1588.6,963.3 1588.2,963.8 1587.8,954.7 1587.4,960.7 1587.0,959.3 1586.6,963.3 1586.2,961.3 1585.8,952.9 1585.4,956.8 1585.0,964.6 1584.6,963.7 1584.3,955.9 1583.9,960.5 1583.5,954.7 1583.1,963.4 1582.7,957.7 1582.3,962.8 1581.9,968.6 1581.5,971.2 1581.1,972.5 1580.7,970.3 1580.3,963.5 1579.9,974.7 1579.5,980.3 1579.1,972.3 1578.7,973.7 1578.3,972.0 1577.9,970.7 1577.5,974.0 1577.1,961.6 1576.7,928.8 1576.3,928.2 1575.9,916.2 1575.5,901.5 1575.1,903.1 1574.7,909.2 1574.3,904.2 1573.9,904.3 1573.5,903.1 1573.1,888.3 1572.7,908.9 1572.3,890.2 1571.9,912.2 1571.6,908.3 1571.2,915.3 1570.8,913.5 1570.4,915.9 1570.0,920.2 1569.6,933.4 1569.2,938.4 1568.8,941.5 1568.4,940.0 1568.0,949.9 1567.6,947.0 1567.2,958.0 1566.8,965.9 1566.4,958.6 1566.0,952.3 1565.6,963.5 1565.2,961.7 1564.8,959.4 1564.4,953.3 1564.0,953.4 1563.6,949.9 1563.2,934.3 1562.8,944.8 1562.4,945.7 1562.0,937.3 1561.6,947.2 1561.2,931.4 1560.8,944.8 1560.4,929.0 1560.0,935.6 1559.6,937.5 1559.3,930.6 1558.9,929.5 1558.5,920.1 1558.1,917.9 1557.7,921.7 1557.3,907.6 1556.9,908.0 1556.5,908.5 1556.1,926.0 1555.7,920.9 1555.3,934.2 1554.9,930.7 1554.5,922.5 1554.1,930.0 1553.7,934.5 1553.3,937.4 1552.9,944.5 1552.5,944.9 1552.1,926.5 1551.7,942.5 1551.3,946.1 1550.9,942.8 1550.5,942.3 1550.1,936.7 1549.7,933.7 1549.3,952.2 1548.9,948.0 1548.5,959.1 1548.1,954.6 1547.7,959.4 1547.3,962.1 1547.0,948.1 1546.6,954.5 1546.2,952.9 1545.8,955.9 1545.4,943.0 1545.0,945.4 1544.6,934.9 1544.2,922.8 1543.8,928.2 1543.4,924.1 1543.0,913.6 1542.6,924.1 1542.2,924.0 1541.8,923.7 1541.4,902.4 1541.0,913.0 1540.6,900.2 1540.2,911.2 1539.8,908.3 1539.4,906.6 1539.0,892.7 1538.6,883.0 1538.2,885.6 1537.8,892.1 1537.4,895.8 1537.0,885.4 1536.6,882.9 1536.2,895.9 1535.8,893.7 1535.4,896.6 1535.0,893.2 1534.7,898.1 1534.3,891.4 1533.9,899.6 1533.5,893.5 1533.1,894.1 1532.7,901.1 1532.3,902.7 1531.9,910.9 1531.5,909.5 1531.1,911.9 1530.7,922.5 1530.3,918.6 1529.9,917.2 1529.5,940.0 1529.1,936.1 1528.7,941.0 1528.3,934.4 1527.9,928.4 1527.5,941.2 1527.1,944.9 1526.7,924.8 1526.3,924.5 1525.9,924.5 1525.5,921.7 1525.1,932.6 1524.7,919.8 1524.3,910.9 1523.9,913.8 1523.5,906.1 1523.1,912.2 1522.7,905.2 1522.4,907.1 1522.0,920.1 1521.6,900.4 1521.2,904.8 1520.8,910.4 1520.4,924.2 1520.0,931.3 1519.6,923.7 1519.2,937.5 1518.8,922.6 1518.4,923.2 1518.0,927.2 1517.6,928.2 1517.2,941.1 1516.8,939.1 1516.4,947.1 1516.0,950.9 1515.6,951.2 1515.2,947.0 1514.8,934.9 1514.4,935.2 1514.0,935.6 1513.6,941.0 1513.2,942.1 1512.8,937.6 1512.4,935.2 1512.0,929.8 1511.6,940.8 1511.2,935.1 1510.8,934.0 1510.4,935.9 1510.1,944.2 1509.7,938.2 1509.3,928.1 1508.9,934.3 1508.5,934.4 1508.1,931.8 1507.7,932.2 1507.3,926.9 1506.9,923.5 1506.5,931.7 1506.1,935.1 1505.7,934.7 1505.3,933.6 1504.9,937.3 1504.5,914.5 1504.1,932.2 1503.7,918.3 1503.3,916.2 1502.9,923.8 1502.5,926.3 1502.1,915.4 1501.7,918.5 1501.3,923.5 1500.9,919.9 1500.5,913.9 1500.1,916.4 1499.7,904.2 1499.3,911.1 1498.9,914.8 1498.5,914.1 1498.1,892.4 1497.8,908.7 1497.4,903.9 1497.0,903.0 1496.6,894.4 1496.2,886.3 1495.8,890.0 1495.4,889.1 1495.0,897.8 1494.6,896.4 1494.2,902.1 1493.8,885.5 1493.4,885.1 1493.0,894.3 1492.6,890.7 1492.2,887.1 1491.8,888.2 1491.4,886.4 1491.0,884.3 1490.6,881.3 1490.2,884.0 1489.8,885.6 1489.4,887.8 1489.0,898.3 1488.6,901.1 1488.2,883.1 1487.8,902.0 1487.4,897.7 1487.0,907.1 1486.6,899.0 1486.2,905.6 1485.8,906.0 1485.5,905.5 1485.1,906.7 1484.7,916.6 1484.3,912.0 1483.9,924.0 1483.5,923.6 1483.1,914.8 1482.7,925.4 1482.3,941.5 1481.9,939.8 1481.5,944.8 1481.1,953.6 1480.7,950.2 1480.3,961.1 1479.9,957.0 1479.5,962.3 1479.1,957.8 1478.7,960.5 1478.3,977.2 1477.9,982.3 1477.5,981.4 1477.1,973.5 1476.7,967.1 1476.3,974.9 1475.9,974.8 1475.5,960.9 1475.1,969.6 1474.7,968.9 1474.3,960.3 1473.9,961.4 1473.5,969.7 1473.1,962.7 1472.8,965.7 1472.4,964.3 1472.0,966.1 1471.6,961.8 1471.2,964.5 1470.8,956.9 1470.4,954.7 1470.0,954.2 1469.6,956.0 1469.2,963.2 1468.8,959.2 1468.4,955.1 1468.0,962.5 1467.6,962.0 1467.2,955.1 1466.8,964.8 1466.4,956.3 1466.0,962.3 1465.6,967.4 1465.2,953.8 1464.8,958.0 1464.4,961.6 1464.0,961.5 1463.6,959.0 1463.2,952.3 1462.8,957.3 1462.4,953.2 1462.0,960.8 1461.6,959.3 1461.2,963.6 1460.8,953.4 1460.5,961.4 1460.1,961.8 1459.7,955.7 1459.3,955.6 1458.9,957.8 1458.5,954.3 1458.1,957.2 1457.7,960.8 1457.3,958.8 1456.9,960.1 1456.5,959.1 1456.1,967.7 1455.7,964.8 1455.3,970.8 1454.9,958.8 1454.5,958.6 1454.1,967.6 1453.7,970.4 1453.3,978.9 1452.9,978.1 1452.5,979.8 1452.1,972.5 1451.7,964.9 1451.3,965.6 1450.9,964.6 1450.5,967.5 1450.1,964.2 1449.7,966.5 1449.3,962.7 1448.9,964.3 1448.5,964.4 1448.2,963.1 1447.8,962.7 1447.4,961.1 1447.0,961.4 1446.6,965.5 1446.2,964.4 1445.8,967.9 1445.4,966.9 1445.0,966.4 1444.6,964.7 1444.2,965.1 1443.8,964.8 1443.4,966.5 1443.0,964.3 1442.6,970.5 1442.2,969.9 1441.8,977.4 1441.4,973.1 1441.0,958.6 1440.6,974.4 1440.2,963.6 1439.8,967.8 1439.4,971.7 1439.0,970.5 1438.6,960.9 1438.2,970.2 1437.8,974.7 1437.4,959.7 1437.0,965.2 1436.6,974.3 1436.2,962.2 1435.9,969.0 1435.5,966.3 1435.1,966.4 1434.7,966.9 1434.3,976.4 1433.9,978.3 1433.5,971.1 1433.1,973.8 1432.7,971.0 1432.3,974.0 1431.9,974.2 1431.5,977.0 1431.1,980.0 1430.7,978.0 1430.3,972.2 1429.9,971.5 1429.5,971.1 1429.1,973.1 1428.7,977.2 1428.3,982.8 1427.9,978.0 1427.5,977.9 1427.1,974.8 1426.7,973.9 1426.3,979.2 1425.9,988.1 1425.5,986.8 1425.1,988.5 1424.7,980.5 1424.3,978.4 1423.9,977.9 1423.6,967.3 1423.2,973.9 1422.8,984.8 1422.4,980.4 1422.0,981.6 1421.6,969.5 1421.2,973.0 1420.8,977.5 1420.4,975.3 1420.0,968.1 1419.6,965.4 1419.2,965.1 1418.8,961.7 1418.4,961.0 1418.0,952.1 1417.6,966.3 1417.2,951.2 1416.8,956.0 1416.4,960.0 1416.0,954.0 1415.6,964.6 1415.2,957.3 1414.8,949.4 1414.4,962.5 1414.0,965.4 1413.6,952.3 1413.2,949.6 1412.8,955.3 1412.4,952.5 1412.0,950.4 1411.6,971.1 1411.3,970.8 1410.9,952.4 1410.5,969.9 1410.1,963.0 1409.7,957.9 1409.3,967.6 1408.9,967.3 1408.5,951.0 1408.1,957.4 1407.7,964.4 1407.3,966.8 1406.9,965.8 1406.5,966.0 1406.1,969.2 1405.7,964.4 1405.3,966.7 1404.9,954.2 1404.5,969.0 1404.1,964.7 1403.7,963.9 1403.3,976.7 1402.9,970.2 1402.5,977.5 1402.1,972.8 1401.7,970.2 1401.3,975.7 1400.9,966.2 1400.5,972.7 1400.1,977.2 1399.7,974.1 1399.3,981.3 1399.0,982.0 1398.6,974.3 1398.2,979.1 1397.8,981.2 1397.4,974.7 1397.0,983.4 1396.6,971.3 1396.2,977.7 1395.8,975.4 1395.4,977.9 1395.0,981.7 1394.6,974.1 1394.2,969.3 1393.8,968.0 1393.4,981.2 1393.0,979.4 1392.6,966.8 1392.2,977.0 1391.8,976.4 1391.4,978.2 1391.0,970.1 1390.6,973.2 1390.2,976.4 1389.8,972.6 1389.4,974.4 1389.0,973.6 1388.6,973.2 1388.2,963.5 1387.8,969.6 1387.4,966.8 1387.0,967.6 1386.7,967.5 1386.3,968.8 1385.9,965.7 1385.5,970.6 1385.1,969.4 1384.7,968.8 1384.3,966.6 1383.9,965.7 1383.5,968.4 1383.1,973.1 1382.7,966.6 1382.3,967.5 1381.9,970.3 1381.5,968.3 1381.1,976.4 1380.7,977.9 1380.3,975.3 1379.9,974.5 1379.5,970.0 1379.1,972.8 1378.7,970.4 1378.3,967.8 1377.9,974.8 1377.5,977.6 1377.1,968.8 1376.7,978.2 1376.3,970.6 1375.9,976.2 1375.5,976.8 1375.1,976.9 1374.7,980.4 1374.4,974.4 1374.0,969.4 1373.6,974.0 1373.2,977.3 1372.8,972.2 1372.4,981.3 1372.0,970.3 1371.6,972.6 1371.2,977.0 1370.8,974.4 1370.4,977.9 1370.0,970.4 1369.6,970.7 1369.2,973.4 1368.8,973.2 1368.4,984.3 1368.0,972.7 1367.6,983.5 1367.2,974.5 1366.8,981.2 1366.4,975.3 1366.0,973.7 1365.6,973.7 1365.2,986.3 1364.8,991.6 1364.4,988.5 1364.0,993.3 1363.6,976.6 1363.2,989.8 1362.8,990.9 1362.4,984.3 1362.0,987.9 1361.7,979.6 1361.3,977.7 1360.9,987.7 1360.5,986.6 1360.1,979.5 1359.7,966.7 1359.3,978.7 1358.9,977.6 1358.5,957.6 1358.1,969.0 1357.7,974.2 1357.3,955.2 1356.9,964.7 1356.5,971.3 1356.1,956.9 1355.7,962.7 1355.3,968.2 1354.9,968.2 1354.5,961.3 1354.1,969.1 1353.7,965.0 1353.3,964.9 1352.9,967.4 1352.5,971.6 1352.1,971.0 1351.7,972.3 1351.3,969.6 1350.9,969.9 1350.5,970.7 1350.1,976.4 1349.7,974.6 1349.4,980.0 1349.0,977.3 1348.6,972.5 1348.2,975.1 1347.8,974.2 1347.4,971.3 1347.0,970.5 1346.6,970.7 1346.2,978.2 1345.8,970.0 1345.4,971.9 1345.0,976.3 1344.6,971.9 1344.2,975.5 1343.8,972.3 1343.4,973.9 1343.0,968.3 1342.6,973.1 1342.2,962.7 1341.8,966.5 1341.4,966.2 1341.0,968.3 1340.6,963.9 1340.2,962.6 1339.8,961.5 1339.4,962.3 1339.0,962.9 1338.6,966.7 1338.2,965.0 1337.8,966.6 1337.4,968.3 1337.1,964.4 1336.7,959.8 1336.3,964.7 1335.9,966.5 1335.5,957.9 1335.1,963.4 1334.7,970.0 1334.3,965.2 1333.9,968.3 1333.5,971.5 1333.1,972.0 1332.7,963.9 1332.3,967.2 1331.9,964.9 1331.5,972.7 1331.1,972.9 1330.7,973.8 1330.3,963.2 1329.9,966.4 1329.5,973.9 1329.1,978.9 1328.7,968.0 1328.3,980.4 1327.9,969.5 1327.5,978.8 1327.1,976.9 1326.7,978.5 1326.3,975.0 1325.9,971.8 1325.5,983.5 1325.1,982.5 1324.8,981.1 1324.4,969.6 1324.0,979.6 1323.6,981.4 1323.2,972.2 1322.8,978.1 1322.4,972.6 1322.0,978.6 1321.6,978.1 1321.2,969.6 1320.8,973.7 1320.4,974.6 1320.0,972.6 1319.6,981.1 1319.2,981.8 1318.8,976.4 1318.4,978.7 1318.0,992.4 1317.6,991.6 1317.2,987.1 1316.8,974.8 1316.4,978.6 1316.0,979.8 1315.6,983.2 1315.2,973.8 1314.8,963.8 1314.4,982.1 1314.0,966.0 1313.6,973.7 1313.2,972.5 1312.8,971.4 1312.5,973.9 1312.1,964.9 1311.7,966.6 1311.3,966.4 1310.9,957.0 1310.5,956.4 1310.1,973.3 1309.7,972.3 1309.3,973.2 1308.9,973.7 1308.5,976.5 1308.1,969.0 1307.7,975.5 1307.3,972.5 1306.9,971.6 1306.5,953.6 1306.1,951.7 1305.7,947.5 1305.3,947.5 1304.9,950.8 1304.5,947.8 1304.1,945.1 1303.7,950.8 1303.3,940.9 1302.9,943.1 1302.5,933.1 1302.1,931.8 1301.7,929.8 1301.3,923.3 1300.9,917.1 1300.5,910.2 1300.2,901.1 1299.8,889.6 1299.4,901.5 1299.0,895.9 1298.6,901.4 1298.2,893.9 1297.8,886.2 1297.4,890.9 1297.0,888.4 1296.6,875.9 1296.2,883.9 1295.8,871.6 1295.4,875.8 1295.0,878.6 1294.6,873.1 1294.2,879.4 1293.8,870.9 1293.4,878.5 1293.0,873.4 1292.6,874.4 1292.2,884.1 1291.8,888.4 1291.4,882.7 1291.0,898.4 1290.6,896.5 1290.2,902.0 1289.8,903.4 1289.4,900.3 1289.0,898.1 1288.6,904.8 1288.2,903.3 1287.9,912.0 1287.5,912.5 1287.1,902.7 1286.7,914.0 1286.3,908.1 1285.9,908.7 1285.5,910.4 1285.1,909.0 1284.7,901.1 1284.3,908.8 1283.9,908.1 1283.5,913.5 1283.1,908.1 1282.7,910.1 1282.3,912.6 1281.9,912.6 1281.5,905.9 1281.1,909.7 1280.7,907.5 1280.3,906.4 1279.9,912.3 1279.5,907.8 1279.1,903.8 1278.7,905.1 1278.3,910.6 1277.9,915.4 1277.5,918.3 1277.1,922.3 1276.7,925.8 1276.3,926.0 1275.9,927.8 1275.6,925.7 1275.2,933.4 1274.8,931.0 1274.4,919.8 1274.0,933.6 1273.6,923.4 1273.2,923.0 1272.8,926.8 1272.4,934.1 1272.0,930.8 1271.6,928.5 1271.2,927.5 1270.8,932.8 1270.4,925.5 1270.0,926.9 1269.6,937.2 1269.2,933.2 1268.8,930.3 1268.4,938.4 1268.0,938.2 1267.6,939.6 1267.2,935.5 1266.8,934.7 1266.4,931.6 1266.0,934.7 1265.6,934.5 1265.2,931.9 1264.8,931.5 1264.4,928.0 1264.0,934.0 1263.6,936.7 1263.3,938.8 1262.9,937.0 1262.5,939.0 1262.1,938.2 1261.7,932.1 1261.3,934.4 1260.9,935.1 1260.5,930.1 1260.1,933.0 1259.7,935.6 1259.3,937.9 1258.9,932.7 1258.5,934.6 1258.1,939.6 1257.7,934.8 1257.3,936.4 1256.9,939.3 1256.5,933.2 1256.1,934.9 1255.7,937.8 1255.3,937.9 1254.9,934.3 1254.5,934.6 1254.1,933.3 1253.7,936.9 1253.3,937.4 1252.9,936.1 1252.5,939.0 1252.1,936.9 1251.7,939.2 1251.3,941.9 1250.9,938.6 1250.6,936.4 1250.2,941.7 1249.8,943.0 1249.4,942.7 1249.0,943.8 1248.6,945.0 1248.2,938.0 1247.8,944.4 1247.4,943.9 1247.0,947.6 1246.6,957.7 1246.2,953.0 1245.8,940.7 1245.4,960.7 1245.0,944.8 1244.6,955.3 1244.2,953.4 1243.8,946.1 1243.4,937.7 1243.0,946.4 1242.6,935.2 1242.2,931.6 1241.8,933.2 1241.4,926.4 1241.0,924.2 1240.6,916.4 1240.2,926.3 1239.8,906.7 1239.4,921.8 1239.0,904.7 1238.6,919.3 1238.3,921.7 1237.9,916.3 1237.5,911.0 1237.1,920.3 1236.7,917.0 1236.3,917.8 1235.9,927.2 1235.5,926.5 1235.1,923.3 1234.7,910.4 1234.3,931.9 1233.9,924.6 1233.5,923.1 1233.1,929.6 1232.7,926.0 1232.3,931.8 1231.9,933.1 1231.5,937.8 1231.1,926.2 1230.7,926.2 1230.3,933.0 1229.9,931.1 1229.5,937.6 1229.1,923.7 1228.7,932.5 1228.3,928.0 1227.9,929.7 1227.5,928.0 1227.1,920.4 1226.7,927.4 1226.3,930.2 1226.0,924.7 1225.6,920.0 1225.2,922.4 1224.8,922.1 1224.4,922.5 1224.0,921.0 1223.6,922.7 1223.2,919.8 1222.8,924.1 1222.4,926.2 1222.0,925.3 1221.6,924.5 1221.2,933.7 1220.8,935.6 1220.4,932.3 1220.0,934.4 1219.6,930.4 1219.2,928.8 1218.8,935.6 1218.4,935.5 1218.0,938.6 1217.6,942.3 1217.2,938.2 1216.8,944.9 1216.4,942.4 1216.0,943.6 1215.6,949.5 1215.2,950.1 1214.8,946.9 1214.4,952.7 1214.0,952.7 1213.7,948.4 1213.3,946.1 1212.9,948.4 1212.5,949.7 1212.1,949.6 1211.7,949.1 1211.3,938.2 1210.9,942.0 1210.5,950.0 1210.1,952.2 1209.7,941.2 1209.3,947.9 1208.9,935.7 1208.5,936.8 1208.1,926.4 1207.7,937.8 1207.3,932.7 1206.9,932.7 1206.5,909.5 1206.1,909.9 1205.7,910.3 1205.3,919.9 1204.9,910.2 1204.5,907.3 1204.1,918.2 1203.7,917.1 1203.3,911.0 1202.9,921.9 1202.5,906.1 1202.1,921.5 1201.7,907.0 1201.4,907.8 1201.0,917.5 1200.6,910.0 1200.2,913.4 1199.8,920.5 1199.4,903.6 1199.0,923.1 1198.6,900.5 1198.2,910.8 1197.8,919.7 1197.4,916.7 1197.0,921.9 1196.6,918.6 1196.2,922.6 1195.8,929.0 1195.4,916.7 1195.0,927.0 1194.6,920.8 1194.2,941.4 1193.8,938.8 1193.4,938.2 1193.0,939.1 1192.6,949.8 1192.2,941.1 1191.8,943.3 1191.4,936.2 1191.0,940.1 1190.6,953.2 1190.2,955.6 1189.8,947.4 1189.4,942.7 1189.1,949.5 1188.7,958.6 1188.3,946.3 1187.9,959.2 1187.5,947.9 1187.1,952.4 1186.7,938.3 1186.3,939.5 1185.9,940.1 1185.5,938.3 1185.1,930.7 1184.7,940.6 1184.3,927.1 1183.9,941.0 1183.5,933.2 1183.1,941.4 1182.7,933.5 1182.3,925.0 1181.9,929.2 1181.5,936.3 1181.1,934.3 1180.7,932.8 1180.3,932.8 1179.9,931.4 1179.5,942.3 1179.1,941.1 1178.7,942.2 1178.3,944.5 1177.9,940.4 1177.5,948.5 1177.1,948.7 1176.8,945.4 1176.4,938.8 1176.0,949.0 1175.6,938.8 1175.2,935.6 1174.8,943.7 1174.4,939.7 1174.0,934.9 1173.6,940.3 1173.2,935.7 1172.8,933.3 1172.4,937.0 1172.0,927.8 1171.6,934.8 1171.2,939.6 1170.8,929.3 1170.4,941.0 1170.0,924.7 1169.6,940.8 1169.2,934.7 1168.8,945.5 1168.4,932.6 1168.0,940.2 1167.6,947.8 1167.2,953.6 1166.8,948.8 1166.4,935.9 1166.0,937.5 1165.6,932.7 1165.2,950.2 1164.8,951.2 1164.5,949.6 1164.1,954.3 1163.7,956.8 1163.3,952.1 1162.9,951.3 1162.5,950.1 1162.1,938.6 1161.7,941.0 1161.3,948.0 1160.9,950.4 1160.5,940.0 1160.1,950.0 1159.7,948.7 1159.3,939.0 1158.9,943.4 1158.5,935.7 1158.1,947.9 1157.7,942.8 1157.3,947.6 1156.9,941.0 1156.5,938.7 1156.1,937.7 1155.7,935.1 1155.3,929.7 1154.9,936.2 1154.5,939.7 1154.1,929.4 1153.7,937.9 1153.3,931.1 1152.9,934.0 1152.5,942.6 1152.2,936.1 1151.8,934.8 1151.4,934.0 1151.0,934.4 1150.6,943.2 1150.2,941.0 1149.8,942.4 1149.4,941.3 1149.0,935.8 1148.6,943.1 1148.2,940.4 1147.8,939.7 1147.4,938.3 1147.0,938.0 1146.6,942.6 1146.2,943.5 1145.8,941.6 1145.4,940.8 1145.0,945.0 1144.6,938.4 1144.2,942.0 1143.8,935.5 1143.4,937.0 1143.0,932.8 1142.6,939.8 1142.2,941.7 1141.8,940.1 1141.4,927.3 1141.0,935.5 1140.6,943.5 1140.2,945.5 1139.8,933.0 1139.5,943.7 1139.1,942.0 1138.7,940.2 1138.3,946.3 1137.9,945.7 1137.5,939.7 1137.1,946.1 1136.7,940.3 1136.3,953.7 1135.9,938.7 1135.5,958.7 1135.1,945.1 1134.7,947.2 1134.3,944.0 1133.9,946.2 1133.5,945.4 1133.1,938.6 1132.7,939.6 1132.3,948.6 1131.9,954.7 1131.5,943.0 1131.1,955.2 1130.7,955.6 1130.3,939.8 1129.9,944.7 1129.5,951.1 1129.1,952.7 1128.7,954.7 1128.3,955.0 1127.9,952.2 1127.5,952.9 1127.2,934.2 1126.8,948.7 1126.4,936.8 1126.0,952.5 1125.6,946.8 1125.2,939.1 1124.8,947.8 1124.4,941.9 1124.0,945.7 1123.6,953.8 1123.2,953.9 1122.8,950.3 1122.4,953.1 1122.0,943.6 1121.6,944.4 1121.2,961.4 1120.8,944.6 1120.4,956.8 1120.0,946.0 1119.6,949.3 1119.2,962.9 1118.8,963.4 1118.4,970.4 1118.0,965.4 1117.6,959.7 1117.2,958.6 1116.8,961.7 1116.4,961.7 1116.0,954.6 1115.6,965.1 1115.2,962.5 1114.9,964.7 1114.5,959.5 1114.1,957.4 1113.7,963.5 1113.3,958.8 1112.9,960.9 1112.5,958.5 1112.1,959.0 1111.7,959.5 1111.3,955.9 1110.9,956.1 1110.5,956.4 1110.1,959.6 1109.7,957.1 1109.3,958.2 1108.9,958.4 1108.5,955.1 1108.1,957.7 1107.7,955.4 1107.3,954.1 1106.9,957.6 1106.5,956.6 1106.1,954.7 1105.7,954.3 1105.3,954.8 1104.9,957.3 1104.5,955.2 1104.1,954.4 1103.7,955.4 1103.3,955.4 1102.9,956.2 1102.6,955.1 1102.2,953.8 1101.8,953.5 1101.4,953.8 1101.0,955.3 1100.6,954.8 1100.2,955.9 1099.8,958.9 1099.4,958.4 1099.0,955.4 1098.6,962.9 1098.2,962.5 1097.8,960.3 1097.4,955.4 1097.0,958.7 1096.6,960.6 1096.2,962.1 1095.8,956.3 1095.4,959.8 1095.0,964.6 1094.6,959.3 1094.2,955.7 1093.8,963.3 1093.4,954.5 1093.0,960.4 1092.6,955.5 1092.2,967.9 1091.8,970.8 1091.4,957.4 1091.0,957.6 1090.6,950.0 1090.3,948.8 1089.9,965.9 1089.5,944.9 1089.1,959.5 1088.7,937.4 1088.3,939.4 1087.9,931.2 1087.5,916.9 1087.1,919.1 1086.7,921.9 1086.3,906.4 1085.9,913.5 1085.5,903.8 1085.1,912.2 1084.7,912.3 1084.3,898.7 1083.9,896.5 1083.5,907.5 1083.1,900.7 1082.7,908.6 1082.3,908.7 1081.9,909.1 1081.5,899.9 1081.1,911.8 1080.7,904.0 1080.3,914.8 1079.9,906.2 1079.5,923.6 1079.1,918.4 1078.7,927.1 1078.3,930.2 1078.0,924.6 1077.6,925.7 1077.2,925.8 1076.8,928.1 1076.4,929.3 1076.0,935.4 1075.6,936.3 1075.2,917.8 1074.8,925.1 1074.4,930.2 1074.0,925.0 1073.6,936.1 1073.2,937.1 1072.8,924.1 1072.4,920.7 1072.0,943.8 1071.6,929.8 1071.2,942.2 1070.8,949.7 1070.4,943.4 1070.0,936.9 1069.6,948.6 1069.2,952.8 1068.8,956.1 1068.4,959.3 1068.0,950.3 1067.6,936.7 1067.2,955.8 1066.8,954.3 1066.4,953.9 1066.0,955.1 1065.7,947.4 1065.3,951.1 1064.9,946.0 1064.5,939.8 1064.1,945.8 1063.7,931.3 1063.3,945.4 1062.9,919.5 1062.5,937.5 1062.1,930.6 1061.7,933.9 1061.3,919.4 1060.9,932.8 1060.5,926.3 1060.1,923.3 1059.7,918.7 1059.3,927.9 1058.9,930.9 1058.5,913.5 1058.1,919.0 1057.7,915.2 1057.3,931.2 1056.9,914.0 1056.5,921.6 1056.1,931.0 1055.7,930.3 1055.3,932.1 1054.9,937.2 1054.5,934.0 1054.1,937.3 1053.7,927.1 1053.4,932.6 1053.0,930.9 1052.6,929.7 1052.2,922.9 1051.8,933.4 1051.4,936.0 1051.0,934.3 1050.6,923.5 1050.2,927.7 1049.8,931.8 1049.4,919.1 1049.0,937.7 1048.6,926.8 1048.2,928.4 1047.8,926.0 1047.4,927.6 1047.0,922.0 1046.6,936.5 1046.2,929.5 1045.8,930.8 1045.4,937.3 1045.0,928.5 1044.6,934.6 1044.2,933.2 1043.8,918.7 1043.4,910.2 1043.0,920.0 1042.6,911.7 1042.2,914.7 1041.8,904.6 1041.4,921.0 1041.1,920.5 1040.7,909.1 1040.3,921.4 1039.9,923.6 1039.5,919.1 1039.1,914.7 1038.7,916.8 1038.3,907.6 1037.9,912.4 1037.5,913.1 1037.1,897.1 1036.7,893.3 1036.3,885.6 1035.9,900.5 1035.5,901.4 1035.1,885.5 1034.7,892.1 1034.3,894.6 1033.9,884.8 1033.5,891.0 1033.1,889.3 1032.7,871.9 1032.3,882.7 1031.9,864.4 1031.5,878.0 1031.1,864.3 1030.7,859.6 1030.3,871.8 1029.9,856.5 1029.5,857.8 1029.1,869.7 1028.7,862.7 1028.4,855.6 1028.0,869.4 1027.6,864.4 1027.2,863.3 1026.8,862.7 1026.4,858.8 1026.0,862.8 1025.6,866.9 1025.2,866.6 1024.8,861.9 1024.4,859.1 1024.0,868.0 1023.6,869.2 1023.2,866.2 1022.8,871.9 1022.4,858.3 1022.0,869.7 1021.6,872.3 1021.2,864.8 1020.8,878.9 1020.4,873.7 1020.0,876.8 1019.6,878.5 1019.2,880.3 1018.8,881.3 1018.4,883.9 1018.0,885.8 1017.6,884.5 1017.2,882.2 1016.8,894.5 1016.4,897.0 1016.1,885.3 1015.7,885.9 1015.3,901.7 1014.9,908.4 1014.5,908.0 1014.1,896.6 1013.7,909.1 1013.3,916.9 1012.9,917.8 1012.5,903.0 1012.1,916.1 1011.7,911.1 1011.3,908.9 1010.9,920.7 1010.5,914.3 1010.1,929.6 1009.7,928.6 1009.3,921.3 1008.9,929.6 1008.5,932.8 1008.1,926.3 1007.7,915.5 1007.3,933.4 1006.9,923.9 1006.5,930.4 1006.1,917.8 1005.7,922.2 1005.3,914.5 1004.9,913.7 1004.5,913.9 1004.1,915.8 1003.8,914.4 1003.4,916.1 1003.0,913.9 1002.6,914.4 1002.2,915.7 1001.8,915.5 1001.4,915.1 1001.0,915.1 1000.6,914.8 1000.2,916.6 999.8,914.8 999.4,916.2 999.0,915.7 998.6,916.0 998.2,914.7 997.8,913.4 997.4,915.3 997.0,916.1 996.6,915.8 996.2,913.8 995.8,916.0 995.4,913.2 995.0,914.2 994.6,916.1 994.2,913.7 993.8,915.6 993.4,915.6 993.0,914.7 992.6,916.1 992.2,916.1 991.8,914.0 991.5,916.0 991.1,913.8 990.7,914.1 990.3,914.5 989.9,916.4 989.5,915.9 989.1,915.9 988.7,916.8 988.3,914.6 987.9,915.5 987.5,916.1 987.1,915.8 986.7,916.7 986.3,914.8 985.9,915.2 985.5,915.3 985.1,915.5 984.7,915.8 984.3,913.7 983.9,914.6 983.5,915.0 983.1,913.8 982.7,912.7 982.3,914.2 981.9,915.2 981.5,914.9 981.1,915.4 980.7,914.4 980.3,913.4 979.9,914.5 979.5,914.0 979.2,914.6 978.8,915.1 978.4,916.1 978.0,916.2 977.6,916.0 977.2,914.8 976.8,917.8 976.4,915.3 976.0,914.3 975.6,916.6 975.2,917.4 974.8,914.4 974.4,918.3 974.0,915.8 973.6,914.1 973.2,915.8 972.8,915.0 972.4,915.1 972.0,926.0 971.6,921.2 971.2,928.1 970.8,924.0 970.4,917.5 970.0,932.6 969.6,918.4 969.2,932.4 968.8,928.2 968.4,924.4 968.0,929.2 967.6,924.0 967.2,910.5 966.9,915.0 966.5,918.2 966.1,913.7 965.7,894.4 965.3,897.8 964.9,893.9 964.5,901.3 964.1,893.5 963.7,900.4 963.3,904.6 962.9,905.9 962.5,905.2 962.1,904.2 961.7,898.6 961.3,904.2 960.9,917.8 960.5,905.6 960.1,918.9 959.7,910.8 959.3,926.4 958.9,927.5 958.5,930.2 958.1,918.5 957.7,927.8 957.3,915.2 956.9,932.0 956.5,926.9 956.1,933.5 955.7,916.4 955.3,924.0 954.9,925.3 954.6,920.7 954.2,921.8 953.8,915.7 953.4,922.1 953.0,920.6 952.6,918.5 952.2,918.1 951.8,918.1 951.4,921.3 951.0,913.4 950.6,918.4 950.2,918.1 949.8,917.7 949.4,914.7 949.0,913.4 948.6,917.0 948.2,915.7 947.8,917.1 947.4,913.4 947.0,917.7 946.6,916.9 946.2,920.3 945.8,915.7 945.4,922.9 945.0,917.7 944.6,926.7 944.2,920.7 943.8,920.0 943.4,931.2 943.0,936.2 942.6,934.2 942.3,933.6 941.9,934.6 941.5,930.7 941.1,934.9 940.7,929.5 940.3,935.3 939.9,941.5 939.5,935.0 939.1,939.8 938.7,942.6 938.3,937.3 937.9,944.8 937.5,944.1 937.1,938.9 936.7,945.0 936.3,932.6 935.9,944.8 935.5,936.8 935.1,936.4 934.7,942.2 934.3,934.5 933.9,936.2 933.5,937.6 933.1,943.6 932.7,940.7 932.3,939.4 931.9,941.3 931.5,943.6 931.1,941.6 930.7,943.8 930.3,947.6 930.0,946.0 929.6,949.2 929.2,943.7 928.8,950.1 928.4,946.9 928.0,950.6 927.6,949.4 927.2,947.5 926.8,949.5 926.4,946.5 926.0,948.4 925.6,943.1 925.2,946.7 924.8,942.4 924.4,947.7 924.0,944.0 923.6,944.3 923.2,942.2 922.8,944.3 922.4,938.3 922.0,939.7 921.6,941.8 921.2,941.7 920.8,939.6 920.4,939.8 920.0,942.2 919.6,941.3 919.2,941.6 918.8,935.1 918.4,942.8 918.0,943.4 917.6,939.8 917.3,939.1 916.9,945.3 916.5,944.3 916.1,940.9 915.7,941.2 915.3,942.7 914.9,949.9 914.5,942.9 914.1,942.4 913.7,946.2 913.3,949.8 912.9,947.9 912.5,948.3 912.1,950.9 911.7,946.7 911.3,945.1 910.9,942.7 910.5,943.5 910.1,945.0 909.7,942.9 909.3,942.9 908.9,943.2 908.5,947.5 908.1,943.1 907.7,947.0 907.3,944.5 906.9,950.6 906.5,946.4 906.1,951.6 905.7,949.7 905.3,949.8 905.0,950.7 904.6,950.6 904.2,948.4 903.8,950.3 903.4,942.0 903.0,944.6 902.6,945.6 902.2,938.4 901.8,942.9 901.4,942.5 901.0,944.6 900.6,947.0 900.2,942.2 899.8,947.7 899.4,937.6 899.0,948.3 898.6,952.3 898.2,951.6 897.8,945.0 897.4,946.1 897.0,942.1 896.6,947.4 896.2,942.4 895.8,938.8 895.4,939.5 895.0,940.4 894.6,940.5 894.2,942.9 893.8,935.4 893.4,937.6 893.0,936.0 892.7,936.3 892.3,944.1 891.9,932.7 891.5,941.8 891.1,945.0 890.7,923.6 890.3,921.5 889.9,926.6 889.5,927.6 889.1,916.8 888.7,916.6 888.3,919.7 887.9,917.7 887.5,912.4 887.1,920.5 886.7,920.7 886.3,910.3 885.9,927.3 885.5,928.8 885.1,918.7 884.7,936.4 884.3,939.7 883.9,923.3 883.5,939.5 883.1,944.7 882.7,944.3 882.3,950.3 881.9,931.6 881.5,936.4 881.1,955.0 880.7,953.1 880.4,946.2 880.0,952.2 879.6,956.2 879.2,939.5 878.8,953.5 878.4,951.9 878.0,952.6 877.6,937.3 877.2,946.0 876.8,948.0 876.4,946.1 876.0,953.0 875.6,941.8 875.2,940.7 874.8,942.7 874.4,946.9 874.0,947.5 873.6,949.3 873.2,958.6 872.8,944.9 872.4,943.6 872.0,940.8 871.6,955.7 871.2,945.1 870.8,951.0 870.4,945.2 870.0,950.4 869.6,961.2 869.2,950.6 868.8,942.3 868.4,959.0 868.1,952.4 867.7,953.8 867.3,945.0 866.9,948.3 866.5,937.1 866.1,938.4 865.7,947.0 865.3,948.5 864.9,942.6 864.5,952.1 864.1,953.6 863.7,942.1 863.3,950.2 862.9,940.5 862.5,942.0 862.1,937.8 861.7,956.5 861.3,957.7 860.9,951.3 860.5,957.9 860.1,944.9 859.7,957.4 859.3,942.9 858.9,953.4 858.5,943.0 858.1,953.1 857.7,950.5 857.3,949.2 856.9,946.5 856.5,946.3 856.1,952.8 855.8,949.1 855.4,952.0 855.0,944.9 854.6,951.0 854.2,951.1 853.8,948.5 853.4,951.5 853.0,948.3 852.6,946.8 852.2,946.6 851.8,947.3 851.4,947.4 851.0,948.6 850.6,946.2 850.2,945.5 849.8,946.6 849.4,947.7 849.0,944.8 848.6,946.3 848.2,946.2 847.8,946.0 847.4,946.3 847.0,946.4 846.6,946.0 846.2,945.9 845.8,943.4 845.4,944.4 845.0,945.6 844.6,945.5 844.2,946.0 843.8,945.8 843.5,945.4 843.1,945.3 842.7,946.5 842.3,945.9 841.9,945.7 841.5,946.0 841.1,944.3 840.7,946.0 840.3,945.2 839.9,944.4 839.5,945.2 839.1,945.2 838.7,944.3 838.3,943.3 837.9,943.1 837.5,943.4 837.1,944.5 836.7,944.3 836.3,945.3 835.9,944.7 835.5,945.2 835.1,942.7 834.7,945.0 834.3,943.6 833.9,944.4 833.5,944.3 833.1,944.3 832.7,942.7 832.3,943.6 831.9,942.3 831.5,943.2 831.2,943.4 830.8,942.5 830.4,943.8 830.0,943.2 829.6,943.1 829.2,942.9 828.8,942.1 828.4,942.6 828.0,942.9 827.6,942.8 827.2,943.8 826.8,942.8 826.4,943.0 826.0,943.2 825.6,943.2 825.2,941.5 824.8,943.2 824.4,942.7 824.0,944.1 823.6,943.5 823.2,942.8 822.8,942.8 822.4,943.0 822.0,942.5 821.6,943.1 821.2,942.1 820.8,942.7 820.4,942.7 820.0,942.3 819.6,942.6 819.2,943.3 818.8,942.2 818.5,943.0 818.1,941.5 817.7,942.1 817.3,942.3 816.9,942.1 816.5,942.9 816.1,943.0 815.7,942.8 815.3,942.4 814.9,942.9 814.5,942.2 814.1,942.3 813.7,941.1 813.3,939.9 812.9,939.8 812.5,939.8 812.1,939.7 811.7,949.7 811.3,948.6 810.9,951.0 810.5,947.0 810.1,955.8 809.7,961.9 809.3,955.6 808.9,959.4 808.5,954.6 808.1,950.6 807.7,937.0 807.3,950.9 806.9,927.2 806.5,933.8 806.2,930.2 805.8,917.4 805.4,914.5 805.0,906.3 804.6,906.1 804.2,901.4 803.8,908.4 803.4,907.9 803.0,912.3 802.6,914.2 802.2,915.0 801.8,911.4 801.4,911.3 801.0,890.0 800.6,898.8 800.2,892.5 799.8,880.6 799.4,894.8 799.0,881.6 798.6,881.2 798.2,885.9 797.8,873.0 797.4,888.6 797.0,882.1 796.6,890.4 796.2,873.9 795.8,880.1 795.4,890.2 795.0,892.9 794.6,871.1 794.2,884.9 793.9,885.8 793.5,894.7 793.1,877.5 792.7,890.3 792.3,899.7 791.9,885.7 791.5,912.3 791.1,905.6 790.7,919.8 790.3,933.5 789.9,929.3 789.5,929.5 789.1,935.8 788.7,926.9 788.3,921.1 787.9,936.1 787.5,933.4 787.1,917.8 786.7,934.1 786.3,934.6 785.9,934.1 785.5,928.2 785.1,924.4 784.7,935.3 784.3,914.5 783.9,915.9 783.5,924.9 783.1,932.0 782.7,912.8 782.3,926.7 781.9,925.1 781.6,929.5 781.2,937.3 780.8,942.5 780.4,941.3 780.0,949.5 779.6,942.4 779.2,955.5 778.8,949.3 778.4,951.2 778.0,949.7 777.6,941.7 777.2,934.6 776.8,953.2 776.4,940.5 776.0,944.2 775.6,941.6 775.2,920.5 774.8,938.7 774.4,922.9 774.0,931.4 773.6,930.6 773.2,916.9 772.8,933.1 772.4,932.7 772.0,927.2 771.6,920.0 771.2,921.4 770.8,933.6 770.4,919.7 770.0,932.0 769.6,920.2 769.3,921.9 768.9,923.9 768.5,930.9 768.1,914.9 767.7,929.6 767.3,930.1 766.9,938.1 766.5,926.3 766.1,932.3 765.7,938.0 765.3,936.6 764.9,941.7 764.5,941.2 764.1,948.7 763.7,936.0 763.3,949.5 762.9,947.0 762.5,930.3 762.1,934.8 761.7,939.0 761.3,928.8 760.9,936.2 760.5,934.3 760.1,927.6 759.7,927.2 759.3,929.5 758.9,931.1 758.5,928.1 758.1,928.1 757.7,927.0 757.3,925.8 757.0,927.5 756.6,924.7 756.2,935.4 755.8,938.8 755.4,935.8 755.0,939.6 754.6,934.7 754.2,933.9 753.8,916.2 753.4,919.5 753.0,931.7 752.6,921.2 752.2,906.0 751.8,903.0 751.4,913.7 751.0,899.1 750.6,902.4 750.2,888.4 749.8,896.8 749.4,896.8 749.0,894.7 748.6,905.8 748.2,885.9 747.8,903.0 747.4,889.7 747.0,899.5 746.6,903.3 746.2,883.2 745.8,904.2 745.4,901.6 745.0,907.3 744.7,918.4 744.3,916.7 743.9,923.0 743.5,913.6 743.1,924.6 742.7,930.6 742.3,937.7 741.9,938.4 741.5,941.7 741.1,934.7 740.7,924.7 740.3,924.3 739.9,930.4 739.5,916.1 739.1,915.4 738.7,929.4 738.3,924.9 737.9,918.2 737.5,912.1 737.1,920.4 736.7,904.3 736.3,915.9 735.9,907.7 735.5,896.6 735.1,912.2 734.7,886.6 734.3,905.9 733.9,894.1 733.5,882.8 733.1,894.5 732.7,891.2 732.4,887.8 732.0,895.9 731.6,901.3 731.2,891.1 730.8,896.6 730.4,909.0 730.0,914.9 729.6,904.6 729.2,905.6 728.8,917.2 728.4,931.6 728.0,925.9 727.6,927.0 727.2,931.3 726.8,915.5 726.4,919.7 726.0,926.3 725.6,912.1 725.2,929.2 724.8,928.6 724.4,929.4 724.0,927.1 723.6,930.1 723.2,925.8 722.8,931.8 722.4,929.8 722.0,924.2 721.6,918.3 721.2,920.7 720.8,913.1 720.4,908.0 720.1,909.3 719.7,898.9 719.3,902.2 718.9,911.6 718.5,908.8 718.1,917.6 717.7,920.0 717.3,913.3 716.9,909.9 716.5,899.4 716.1,920.1 715.7,909.8 715.3,911.7 714.9,904.4 714.5,912.1 714.1,912.8 713.7,902.6 713.3,915.9 712.9,916.3 712.5,913.5 712.1,909.3 711.7,912.9 711.3,915.6 710.9,920.4 710.5,924.8 710.1,916.7 709.7,901.8 709.3,911.7 708.9,911.3 708.5,895.4 708.1,891.5 707.7,895.5 707.4,905.8 707.0,885.2 706.6,903.4 706.2,900.3 705.8,900.5 705.4,897.0 705.0,892.1 704.6,882.5 704.2,890.8 703.8,892.7 703.4,890.0 703.0,885.7 702.6,884.1 702.2,864.6 701.8,874.9 701.4,860.4 701.0,854.5 700.6,855.3 700.2,850.6 699.8,853.1 699.4,851.0 699.0,852.5 698.6,857.5 698.2,858.0 697.8,845.0 697.4,852.6 697.0,848.9 696.6,840.6 696.2,832.9 695.8,838.6 695.4,832.9 695.1,827.4 694.7,829.6 694.3,822.3 693.9,828.9 693.5,842.3 693.1,823.4 692.7,835.8 692.3,843.0 691.9,830.2 691.5,839.5 691.1,840.6 690.7,836.4 690.3,841.5 689.9,840.3 689.5,851.9 689.1,851.8 688.7,856.2 688.3,862.5 687.9,860.8 687.5,858.4 687.1,875.7 686.7,875.2 686.3,877.8 685.9,896.1 685.5,898.0 685.1,906.3 684.7,924.0 684.3,906.2 683.9,924.1 683.5,933.4 683.1,938.9 682.8,930.1 682.4,942.8 682.0,936.8 681.6,935.0 681.2,943.4 680.8,945.9 680.4,924.1 680.0,931.3 679.6,925.5 679.2,927.2 678.8,921.3 678.4,924.6 678.0,925.6 677.6,921.8 677.2,922.7 676.8,922.8 676.4,920.9 676.0,925.1 675.6,923.7 675.2,921.7 674.8,922.5 674.4,921.8 674.0,926.0 673.6,920.7 673.2,923.4 672.8,922.7 672.4,923.0 672.0,922.1 671.6,921.9 671.2,921.6 670.8,922.2 670.5,921.2 670.1,921.2 669.7,922.6 669.3,921.5 668.9,922.3 668.5,921.8 668.1,922.1 667.7,920.8 667.3,922.0 666.9,920.5 666.5,920.9 666.1,920.9 665.7,921.7 665.3,921.9 664.9,921.7 664.5,921.8 664.1,921.6 663.7,921.0 663.3,921.4 662.9,921.8 662.5,921.9 662.1,921.5 661.7,921.3 661.3,922.3 660.9,921.7 660.5,922.2 660.1,921.4 659.7,921.4 659.3,921.5 658.9,920.9 658.5,921.8 658.2,921.6 657.8,921.9 657.4,922.2 657.0,921.9 656.6,921.8 656.2,922.1 655.8,922.6 655.4,921.6 655.0,921.8 654.6,921.3 654.2,922.0 653.8,920.9 653.4,922.2 653.0,922.4 652.6,922.8 652.2,920.6 651.8,921.6 651.4,923.3 651.0,922.0 650.6,923.7 650.2,921.1 649.8,922.8 649.4,921.0 649.0,921.5 648.6,920.6 648.2,922.1 647.8,920.4 647.4,921.2 647.0,922.3 646.6,921.7 646.2,920.2 645.9,923.0 645.5,922.9 645.1,922.6 644.7,920.3 644.3,923.2 643.9,923.1 643.5,921.4 643.1,921.3 642.7,921.5 642.3,922.8 641.9,920.0 641.5,922.6 641.1,922.5 640.7,922.7 640.3,921.4 639.9,922.6 639.5,921.0 639.1,922.9 638.7,921.2 638.3,922.6 637.9,920.6 637.5,922.4 637.1,922.3 636.7,922.3 636.3,921.7 635.9,921.9 635.5,922.1 635.1,921.4 634.7,920.4 634.3,922.1 633.9,920.3 633.6,921.5 633.2,920.1 632.8,921.1 632.4,920.7 632.0,920.6 631.6,921.9 631.2,920.5 630.8,922.1 630.4,921.2 630.0,922.1 629.6,920.7 629.2,920.5 628.8,921.3 628.4,920.4 628.0,921.2 627.6,922.2 627.2,921.2 626.8,921.7 626.4,922.5 626.0,921.2 625.6,921.4 625.2,922.1 624.8,920.5 624.4,921.8 624.0,920.7 623.6,920.8 623.2,921.3 622.8,920.6 622.4,921.8 622.0,921.9 621.6,920.4 621.3,921.2 620.9,922.0 620.5,921.1 620.1,921.6 619.7,922.0 619.3,922.5 618.9,921.7 618.5,921.2 618.1,921.9 617.7,922.3 617.3,921.3 616.9,920.9 616.5,921.8 616.1,921.2 615.7,921.5 615.3,921.7 614.9,920.4 614.5,920.9 614.1,920.4 613.7,920.9 613.3,921.1 612.9,922.0 612.5,921.4 612.1,920.8 611.7,921.2 611.3,921.2 610.9,920.7 610.5,921.3 610.1,920.7 609.7,921.7 609.3,922.1 609.0,921.4 608.6,921.6 608.2,921.7 607.8,921.3 607.4,921.4 607.0,921.5 606.6,921.2 606.2,921.1 605.8,920.9 605.4,921.5 605.0,920.6 604.6,921.1 604.2,920.9 603.8,920.9 603.4,921.4 603.0,921.8 602.6,921.2 602.2,921.2 601.8,921.6 601.4,921.7 601.0,920.6 600.6,921.1 600.2,920.8 599.8,922.1 599.4,921.3 599.0,921.8 598.6,920.6 598.2,922.1 597.8,921.7 597.4,921.5 597.0,921.1 596.6,920.6 596.3,921.4 595.9,921.0 595.5,921.5 595.1,920.6 594.7,921.0 594.3,921.4 593.9,921.9 593.5,921.0 593.1,920.6 592.7,920.9 592.3,921.5 591.9,921.1 591.5,920.8 591.1,920.8 590.7,920.3 590.3,921.2 589.9,921.0 589.5,920.8 589.1,920.8 588.7,921.5 588.3,920.6 587.9,920.4 587.5,921.4 587.1,921.0 586.7,921.5 586.3,920.9 585.9,920.6 585.5,921.2 585.1,921.7 584.7,921.1 584.3,920.8 584.0,922.0 583.6,921.7 583.2,921.3 582.8,921.7 582.4,921.8 582.0,921.2 581.6,922.2 581.2,921.4 580.8,921.0 580.4,922.2 580.0,920.8 579.6,921.5 579.2,921.9 578.8,922.4 578.4,921.4 578.0,921.8 577.6,922.0 577.2,921.4 576.8,921.1 576.4,921.6 576.0,921.5 575.6,921.5 575.2,921.1 574.8,921.8 574.4,922.2 574.0,921.5 573.6,922.0 573.2,921.3 572.8,922.0 572.4,921.5 572.0,922.7 571.7,922.9 571.3,922.0 570.9,922.2 570.5,921.7 570.1,922.5 569.7,922.5 569.3,921.5 568.9,921.3 568.5,920.9 568.1,922.1 567.7,921.4 567.3,922.0 566.9,921.9 566.5,921.3 566.1,921.7 565.7,922.0 565.3,921.8 564.9,922.2 564.5,922.3 564.1,922.5 563.7,921.2 563.3,921.4 562.9,921.5 562.5,921.4 562.1,922.2 561.7,922.1 561.3,922.1 560.9,921.5 560.5,921.9 560.1,921.1 559.7,921.3 559.4,920.7 559.0,921.9 558.6,922.1 558.2,921.5 557.8,921.6 557.4,921.6 557.0,922.6 556.6,921.6 556.2,921.7 555.8,922.5 555.4,922.3 555.0,922.1 554.6,922.6 554.2,922.6 553.8,922.9 553.4,922.9 553.0,922.7 552.6,923.9 552.2,923.1 551.8,923.8 551.4,923.7 551.0,923.1 550.6,922.5 550.2,922.0 549.8,923.6 549.4,921.9 549.0,920.8 548.6,923.6 548.2,922.2 547.8,922.2 547.4,922.2 547.1,921.0 546.7,923.1 546.3,922.3 545.9,921.6 545.5,923.4 545.1,922.7 544.7,924.0 544.3,923.8 543.9,923.2 543.5,920.6 543.1,920.1 542.7,921.8 542.3,919.1 541.9,935.4 541.5,936.4 541.1,935.8 540.7,935.2 540.3,942.5 539.9,937.8 539.5,927.8 539.1,919.9 538.7,916.0 538.3,937.0 537.9,928.4 537.5,915.6 537.1,931.0 536.7,925.8 536.3,919.1 535.9,915.9 535.5,906.4 535.1,920.9 534.8,908.4 534.4,906.0 534.0,908.0 533.6,911.6 533.2,897.9 532.8,902.3 532.4,900.2 532.0,901.4 531.6,896.2 531.2,900.0 530.8,902.8 530.4,911.4 530.0,905.8 529.6,911.2 529.2,901.9 528.8,902.2 528.4,905.4 528.0,901.8 527.6,897.7 527.2,907.1 526.8,898.7 526.4,906.6 526.0,912.1 525.6,906.4 525.2,912.0 524.8,909.9 524.4,905.4 524.0,909.7 523.6,909.4 523.2,907.6 522.8,906.8 522.5,909.0 522.1,905.4 521.7,905.8 521.3,910.5 520.9,913.8 520.5,911.0 520.1,911.3 519.7,914.4 519.3,912.7 518.9,912.0 518.5,913.9 518.1,909.7 517.7,910.4 517.3,912.7 516.9,911.8 516.5,913.1 516.1,914.5 515.7,911.4 515.3,916.9 514.9,915.6 514.5,914.4 514.1,915.9 513.7,916.3 513.3,916.6 512.9,915.7 512.5,914.9 512.1,915.2 511.7,913.8 511.3,915.5 510.9,915.6 510.5,914.9 510.2,915.2 509.8,913.0 509.4,914.4 509.0,915.0 508.6,913.3 508.2,913.1 507.8,914.2 507.4,914.1 507.0,913.4 506.6,914.4 506.2,915.3 505.8,915.4 505.4,914.9 505.0,913.7 504.6,915.2 504.2,914.8 503.8,914.1 503.4,913.8 503.0,913.8 502.6,913.5 502.2,915.4 501.8,915.6 501.4,915.1 501.0,913.9 500.6,914.5 500.2,914.8 499.8,914.4 499.4,913.8 499.0,913.8 498.6,914.7 498.2,914.1 497.9,914.9 497.5,914.2 497.1,914.6 496.7,914.0 496.3,913.8 495.9,914.3 495.5,913.5 495.1,913.4 494.7,914.8 494.3,914.5 493.9,915.6 493.5,914.0 493.1,914.9 492.7,914.1 492.3,915.2 491.9,915.1 491.5,914.2 491.1,914.0 490.7,915.1 490.3,914.5 489.9,914.9 489.5,914.5 489.1,915.0 488.7,914.2 488.3,915.0 487.9,914.4 487.5,915.9 487.1,915.7 486.7,915.2 486.3,915.8 485.9,916.1 485.5,915.2 485.2,915.8 484.8,915.1 484.4,915.2 484.0,916.2 483.6,915.8 483.2,916.0 482.8,916.0 482.4,916.0 482.0,917.0 481.6,916.5 481.2,916.7 480.8,916.5 480.4,916.4 480.0,917.3 479.6,917.8 479.2,918.0 478.8,917.0 478.4,917.9 478.0,916.6 477.6,916.6 477.2,917.0 476.8,917.9 476.4,916.6 476.0,917.1 475.6,917.3 475.2,918.6 474.8,916.8 474.4,918.6 474.0,918.4 473.6,917.3 473.2,917.8 472.9,918.6 472.5,918.0 472.1,918.9 471.7,918.6 471.3,918.8 470.9,918.6 470.5,918.1 470.1,917.6 469.7,918.3 469.3,917.5 468.9,918.5 468.5,918.7 468.1,918.5 467.7,918.4 467.3,918.2 466.9,918.5 466.5,918.3 466.1,918.1 465.7,917.6 465.3,917.4 464.9,917.6 464.5,917.9 464.1,917.9 463.7,918.3 463.3,919.3 462.9,918.6 462.5,918.9 462.1,919.5 461.7,919.0 461.3,919.6 460.9,919.0 460.6,919.3 460.2,919.3 459.8,919.0 459.4,919.0 459.0,919.6 458.6,919.1 458.2,919.1 457.8,919.1 457.4,918.4 457.0,918.0 456.6,919.1 456.2,917.9 455.8,919.1 455.4,919.1 455.0,919.4 454.6,919.1 454.2,918.9 453.8,919.0 453.4,918.3 453.0,919.2 452.6,919.5 452.2,919.2 451.8,919.1 451.4,918.6 451.0,918.4 450.6,918.5 450.2,918.1 449.8,918.9 449.4,920.4 449.0,918.9 448.6,920.1 448.3,919.3 447.9,923.8 447.5,919.2 447.1,920.3 446.7,920.4 446.3,919.4 445.9,922.5 445.5,919.6 445.1,923.9 444.7,922.2 444.3,924.3 443.9,924.3 443.5,922.5 443.1,920.7 442.7,923.9 442.3,925.1 441.9,916.8 441.5,924.4 441.1,924.6 440.7,925.5 440.3,924.2 439.9,921.9 439.5,926.2 439.1,920.5 438.7,932.6 438.3,927.0 437.9,929.3 437.5,938.0 437.1,934.6 436.7,934.4 436.3,934.0 436.0,933.3 435.6,918.6 435.2,924.1 434.8,913.6 434.4,925.5 434.0,919.8 433.6,899.2 433.2,913.7 432.8,902.4 432.4,903.5 432.0,911.8 431.6,899.8 431.2,909.4 430.8,907.7 430.4,908.2 430.0,892.0 429.6,907.7 429.2,909.6 428.8,912.8 428.4,902.0 428.0,895.6 427.6,897.8 427.2,915.4 426.8,905.1 426.4,918.7 426.0,924.2 425.6,916.9 425.2,913.9 424.8,920.9 424.4,928.9 424.0,927.1 423.7,919.5 423.3,917.9 422.9,910.3 422.5,914.3 422.1,914.1 421.7,916.1 421.3,914.4 420.9,913.2 420.5,911.2 420.1,911.0 419.7,908.5 419.3,910.0 418.9,909.5 418.5,906.8 418.1,908.1 417.7,907.7 417.3,907.8 416.9,908.6 416.5,911.2 416.1,908.2 415.7,911.9 415.3,907.5 414.9,917.5 414.5,917.9 414.1,919.1 413.7,915.2 413.3,917.5 412.9,923.5 412.5,915.3 412.1,908.7 411.7,916.5 411.4,903.3 411.0,916.6 410.6,908.3 410.2,907.0 409.8,920.6 409.4,912.4 409.0,915.4 408.6,917.8 408.2,912.3 407.8,919.1 407.4,919.9 407.0,922.8 406.6,923.4 406.2,925.4 405.8,920.6 405.4,913.8 405.0,919.7 404.6,925.8 404.2,918.7 403.8,929.1 403.4,927.8 403.0,924.5 402.6,920.6 402.2,925.8 401.8,930.9 401.4,926.9 401.0,925.5 400.6,911.5 400.2,914.6 399.8,909.0 399.4,915.2 399.1,917.8 398.7,906.0 398.3,907.2 397.9,915.1 397.5,917.7 397.1,908.7 396.7,907.8 396.3,906.6 395.9,913.8 395.5,917.0 395.1,914.7 394.7,908.0 394.3,915.4 393.9,907.6 393.5,912.5 393.1,921.5 392.7,921.5 392.3,922.2 391.9,922.1 391.5,929.4 391.1,923.2 390.7,916.7 390.3,920.4 389.9,928.5 389.5,919.0 389.1,919.7 388.7,920.2 388.3,923.2 387.9,921.2 387.5,922.0 387.1,922.4 386.8,920.6 386.4,916.6 386.0,915.4 385.6,919.1 385.2,919.9 384.8,917.5 384.4,915.8 384.0,918.5 383.6,918.8 383.2,917.8 382.8,917.5 382.4,917.4 382.0,917.0 381.6,917.5 381.2,918.6 380.8,917.2 380.4,916.8 380.0,918.5 379.6,917.1 379.2,919.5 378.8,918.6 378.4,917.9 378.0,916.3 377.6,918.5 377.2,919.7 376.8,918.5 376.4,919.3 376.0,918.7 375.6,918.8 375.2,917.3 374.8,917.7 374.4,920.4 374.1,921.1 373.7,922.0 373.3,915.7 372.9,919.1 372.5,918.6 372.1,926.3 371.7,922.9 371.3,930.1 370.9,921.5 370.5,916.8 370.1,926.9 369.7,917.2 369.3,924.9 368.9,919.3 368.5,918.6 368.1,920.8 367.7,917.4 367.3,900.0 366.9,895.5 366.5,911.5 366.1,908.2 365.7,885.3 365.3,898.2 364.9,884.5 364.5,885.2 364.1,892.4 363.7,890.2 363.3,877.5 362.9,895.6 362.5,885.9 362.1,890.0 361.8,889.4 361.4,882.3 361.0,890.7 360.6,890.4 360.2,884.5 359.8,888.5 359.4,882.2 359.0,886.9 358.6,874.7 358.2,879.8 357.8,890.3 357.4,879.2 357.0,891.9 356.6,880.7 356.2,881.7 355.8,881.3 355.4,879.7 355.0,880.4 354.6,874.9 354.2,866.7 353.8,876.2 353.4,867.4 353.0,871.1 352.6,876.3 352.2,857.9 351.8,876.9 351.4,873.8 351.0,858.3 350.6,871.9 350.2,871.8 349.8,876.7 349.5,867.4 349.1,862.4 348.7,859.3 348.3,861.3 347.9,884.2 347.5,869.5 347.1,879.3 346.7,882.8 346.3,899.1 345.9,902.5 345.5,907.4 345.1,904.5 344.7,898.5 344.3,916.2 343.9,914.8 343.5,913.9 343.1,928.4 342.7,917.1 342.3,923.1 341.9,920.6 341.5,939.1 341.1,922.7 340.7,927.0 340.3,928.8 339.9,937.9 339.5,922.5 339.1,923.5 338.7,929.2 338.3,925.8 337.9,925.6 337.5,918.5 337.2,907.3 336.8,913.9 336.4,913.7 336.0,907.9 335.6,890.9 335.2,896.8 334.8,905.1 334.4,904.5 334.0,883.1 333.6,896.6 333.2,885.1 332.8,900.5 332.4,901.1 332.0,891.5 331.6,898.2 331.2,892.0 330.8,890.6 330.4,908.6 330.0,897.8 329.6,899.6 329.2,904.2 328.8,909.1 328.4,920.4 328.0,920.1 327.6,906.6 327.2,917.4 326.8,925.2 326.4,921.2 326.0,909.7 325.6,917.5 325.2,923.4 324.9,915.8 324.5,917.2 324.1,924.4 323.7,921.6 323.3,922.9 322.9,925.0 322.5,910.1 322.1,922.1 321.7,917.8 321.3,920.8 320.9,909.7 320.5,908.0 320.1,925.9 319.7,915.7 319.3,920.6 318.9,923.6 318.5,924.6 318.1,921.7 317.7,912.6 317.3,927.0 316.9,925.9 316.5,923.6 316.1,921.3 315.7,918.6 315.3,918.2 314.9,918.9 314.5,919.3 314.1,908.1 313.7,911.8 313.3,906.6 312.9,909.4 312.6,909.4 312.2,914.9 311.8,910.6 311.4,912.5 311.0,908.0 310.6,912.3 310.2,910.3 309.8,904.4 309.4,918.5 309.0,909.8 308.6,911.5 308.2,906.7 307.8,912.3 307.4,908.9 307.0,913.4 306.6,911.2 306.2,909.8 305.8,911.8 305.4,906.0 305.0,912.9 304.6,912.9 304.2,903.8 303.8,906.0 303.4,910.6 303.0,908.7 302.6,908.1 302.2,907.4 301.8,908.4 301.4,904.6 301.0,901.0 300.6,905.4 300.3,908.6 299.9,898.7 299.5,898.7 299.1,899.1 298.7,906.1 298.3,904.6 297.9,905.1 297.5,901.3 297.1,903.3 296.7,896.8 296.3,903.4 295.9,900.4 295.5,907.3 295.1,897.7 294.7,894.7 294.3,892.1 293.9,910.8 293.5,891.3 293.1,907.3 292.7,883.3 292.3,900.2 291.9,887.6 291.5,894.5 291.1,898.3 290.7,890.0 290.3,895.5 289.9,882.5 289.5,882.8 289.1,883.7 288.7,873.2 288.3,882.6 288.0,879.3 287.6,865.2 287.2,857.5 286.8,877.6 286.4,867.0 286.0,860.3 285.6,866.0 285.2,855.5 284.8,867.0 284.4,860.7 284.0,865.6 283.6,856.8 283.2,854.2 282.8,853.1 282.4,854.8 282.0,848.8 281.6,852.2 281.2,849.2 280.8,849.3 280.4,849.9 280.0,852.4 279.6,850.0 279.2,849.9 278.8,851.1 278.4,852.3 278.0,853.2 277.6,849.4 277.2,847.3 276.8,853.6 276.4,852.0 276.0,856.4 275.6,854.0 275.3,867.1 274.9,863.4 274.5,859.1 274.1,859.3 273.7,866.2 273.3,863.1 272.9,868.8 272.5,871.2 272.1,868.3 271.7,879.0 271.3,862.9 270.9,872.3 270.5,881.2 270.1,880.6 269.7,883.8 269.3,887.7 268.9,895.7 268.5,894.9 268.1,885.2 267.7,880.4 267.3,889.9 266.9,882.3 266.5,895.6 266.1,898.5 265.7,893.6 265.3,909.7 264.9,904.9 264.5,899.3 264.1,895.9 263.7,913.0 263.3,903.7 263.0,910.8 262.6,900.0 262.2,902.4 261.8,905.1 261.4,902.0 261.0,905.3 260.6,907.5 260.2,903.0 259.8,904.2 259.4,905.9 259.0,904.0 258.6,901.6 258.2,903.9 257.8,904.3 257.4,905.7 257.0,902.8 256.6,906.1 256.2,904.0 255.8,903.4 255.4,902.4 255.0,902.1 254.6,902.6 254.2,904.1 253.8,903.1 253.4,905.4 253.0,905.8 252.6,907.3 252.2,903.8 251.8,906.7 251.4,905.5 251.0,907.1 250.7,908.3 250.3,906.0 249.9,909.7 249.5,907.4 249.1,908.4 248.7,907.2 248.3,908.3 247.9,909.0 247.5,912.3 247.1,912.3 246.7,908.9 246.3,911.1 245.9,911.3 245.5,911.7 245.1,910.2 244.7,913.1 244.3,908.5 243.9,909.7 243.5,913.6 243.1,913.7 242.7,914.0 242.3,915.8 241.9,910.3 241.5,913.7 241.1,910.9 240.7,912.3 240.3,911.5 239.9,912.9 239.5,911.1 239.1,912.9 238.7,915.5 238.4,915.2 238.0,915.2 237.6,914.3 237.2,911.5 236.8,915.3 236.4,916.0 236.0,913.8 235.6,917.5 235.2,917.6 234.8,915.1 234.4,916.4 234.0,916.9 233.6,914.5 233.2,917.0 232.8,916.8 232.4,916.8 232.0,918.7 231.6,917.6 231.2,917.6 230.8,918.5 230.4,917.0 230.0,916.6 229.6,917.6 229.2,917.9 228.8,919.3 228.4,918.9 228.0,919.5 227.6,918.4 227.2,920.5 226.8,917.9 226.4,921.0 226.1,918.8 225.7,920.0 225.3,919.5 224.9,918.6 224.5,919.4 224.1,919.0 223.7,919.3 223.3,919.3 222.9,919.5 222.5,919.1 222.1,918.8 221.7,920.0 221.3,920.3 220.9,920.1 220.5,920.1 220.1,919.8 219.7,918.8 219.3,919.2 218.9,919.7 218.5,918.7 218.1,919.9 217.7,920.1 217.3,918.7 216.9,920.2 216.5,920.1 216.1,919.6 215.7,920.9 215.3,921.4 214.9,920.8 214.5,920.5 214.1,921.0 213.8,919.4 213.4,919.6 213.0,920.2 212.6,921.1 212.2,920.1 211.8,919.1 211.4,919.1 211.0,921.0 210.6,920.9 210.2,920.2 209.8,920.0 209.4,919.1 209.0,919.0 208.6,920.3 208.2,920.0 207.8,921.2 207.4,919.9 207.0,920.8 206.6,920.9 206.2,920.2 205.8,921.4 205.4,921.6 205.0,920.8 204.6,921.3 204.2,920.9 203.8,920.6 203.4,919.9 203.0,919.3 202.6,920.3 202.2,921.3 201.8,920.0 201.5,920.8 201.1,921.4 200.7,921.4 200.3,921.5 199.9,921.8 199.5,921.8 199.1,922.3 198.7,924.2 198.3,923.5 197.9,924.5 197.5,922.8 197.1,921.2 196.7,923.9 196.3,923.5 195.9,928.3 195.5,925.2 195.1,921.9 194.7,924.7 194.3,926.1 193.9,923.1 193.5,923.8 193.1,917.6 192.7,924.6 192.3,937.4 191.9,932.2 191.5,934.7 191.1,919.6 190.7,919.6 190.3,922.7 189.9,905.6 189.5,923.7 189.2,921.1 188.8,921.8 188.4,912.1 188.0,911.7 187.6,911.9 187.2,916.9 186.8,908.4 186.4,907.7 186.0,909.0 185.6,913.8 185.2,909.2 184.8,895.6 184.4,895.5 184.0,907.2 183.6,888.3 183.2,888.6 182.8,894.9 182.4,894.5 182.0,896.8 181.6,901.5 181.2,903.3 180.8,901.0 180.4,893.4 180.0,899.2 179.6,905.8 179.2,909.9 178.8,916.4 178.4,912.4 178.0,913.5 177.6,899.1 177.2,912.3 176.9,909.7 176.5,902.1 176.1,914.4 175.7,903.0 175.3,910.0 174.9,915.9 174.5,906.3 174.1,913.3 173.7,907.8 173.3,915.5 172.9,915.5 172.5,920.3 172.1,918.3 171.7,917.4 171.3,920.2 170.9,924.4 170.5,914.6 170.1,918.0 169.7,920.6 169.3,917.8 168.9,917.0 168.5,915.7 168.1,918.4 167.7,912.4 167.3,912.9 166.9,912.1 166.5,911.2 166.1,914.9 165.7,911.6 165.3,912.2 164.9,914.3 164.5,913.1 164.2,914.4 163.8,913.6 163.4,916.5 163.0,913.2 162.6,915.4 162.2,913.0 161.8,913.8 161.4,915.4 161.0,915.3 160.6,914.1 160.2,916.2 159.8,914.0 159.4,915.2 159.0,914.3 158.6,915.0 158.2,917.9 157.8,918.0 157.4,915.9 157.0,913.6 156.6,916.5 156.2,916.2 155.8,917.2 155.4,916.2 155.0,918.4 154.6,917.2 154.2,916.2 153.8,919.8 153.4,916.9 153.0,915.3 152.6,921.1 152.2,916.3 151.9,921.7 151.5,919.9 151.1,924.3 150.7,924.8 150.3,924.6 149.9,920.9 149.5,919.8 149.1,918.6 148.7,919.6 148.3,920.7 147.9,920.4 147.5,920.8 147.1,919.0 146.7,919.2 146.3,919.5 145.9,921.1 145.5,919.8 145.1,919.0 144.7,918.7 144.3,918.2 143.9,919.3 143.5,920.6 143.1,921.9 142.7,921.3 142.3,921.4 141.9,921.8 141.5,920.7 141.1,920.1 140.7,923.6 140.3,922.2 139.9,919.4 139.6,921.9 139.2,922.0 138.8,921.4 138.4,922.6 138.0,924.3 137.6,924.2 137.2,924.7 136.8,924.6 136.4,922.0 136.0,921.8 135.6,923.1 135.2,922.7 134.8,923.8 134.4,926.6 134.0,923.3 133.6,924.8 133.2,924.1 132.8,922.0 132.4,924.7 132.0,921.1 131.6,924.8 131.2,924.1 130.8,923.1 130.4,925.6 130.0,925.3 129.6,924.6 129.2,922.0 128.8,923.7 128.4,925.3 128.0,923.3 127.6,923.5 127.3,927.1 126.9,926.1 126.5,926.3 126.1,925.3 125.7,924.2 125.3,925.3 124.9,927.3 124.5,925.2 124.1,927.8 123.7,924.1 123.3,927.7 122.9,924.5 122.5,924.8 122.1,926.7 121.7,925.0 121.3,924.7 120.9,927.3 120.5,926.3 120.1,929.0 119.7,927.0 119.3,927.4 118.9,928.2 118.5,925.4 118.1,928.1 117.7,927.3 117.3,928.1 116.9,927.4 116.5,927.6 116.1,928.7 115.7,924.7 115.3,928.1 115.0,926.1 114.6,929.5 114.2,925.1 113.8,928.6 113.4,929.9 113.0,924.8 112.6,926.3 112.2,927.1 111.8,927.4 111.4,927.3 111.0,924.4 110.6,928.6 110.2,931.6 109.8,928.8 109.4,929.4 109.0,932.3 108.6,943.3 108.2,941.1 107.8,937.4 107.4,929.5 107.0,925.1 106.6,934.2 106.2,924.3 105.8,933.3 105.4,936.6 105.0,921.9 104.6,922.1 104.2,924.0 103.8,929.2 103.4,934.0 103.0,922.2 102.7,917.0 102.3,929.1 101.9,917.5 101.5,929.0 101.1,914.3 100.7,924.8 100.3,927.2 99.9,914.2 99.5,930.0 99.1,924.3 98.7,918.5 98.3,916.1 97.9,927.8 97.5,928.8 97.1,932.2 96.7,933.7 96.3,931.3 95.9,936.3 95.5,934.8 95.1,929.1 94.7,926.1 94.3,923.2 93.9,922.6 93.5,922.7 93.1,923.6 92.7,924.5 92.3,920.9 91.9,917.2 91.5,920.7 91.1,905.2 90.7,910.9 90.4,905.5 90.0,906.3 89.6,904.5 89.2,903.7 88.8,890.7 88.4,899.2 88.0,891.0 87.6,884.4 87.2,878.6 86.8,886.9 86.4,883.6 86.0,858.6 85.6,869.2 85.2,881.8 84.8,871.5 84.4,889.2 84.0,883.9 83.6,881.9 83.2,899.3 82.8,904.0 82.4,897.6 82.0,914.8 81.6,914.7 81.2,917.7 80.8,913.6 80.4,915.1 80.0,918.7 79.6,935.6 79.2,934.2 78.8,934.5 78.4,931.5 78.1,927.2 77.7,944.8 77.3,926.1 76.9,935.0 76.5,939.4 76.1,943.5 75.7,951.8 75.3,950.8 74.9,946.4 74.5,936.7 74.1,931.8 73.7,938.6 73.3,943.6 72.9,933.1 72.5,945.2 72.1,923.3 71.7,934.7 71.3,931.4 70.9,916.3 70.5,920.8 70.1,928.1 69.7,930.2 69.3,915.2 68.9,912.4 68.5,928.7 68.1,927.9 67.7,925.1 67.3,916.8 66.9,924.8 66.5,932.9 66.1,932.8 65.8,936.8 65.4,936.8 65.0,930.7 64.6,925.2 64.2,940.0 63.8,946.5 63.4,941.4 63.0,944.1 62.6,948.3 62.2,933.0 61.8,930.0 61.4,934.5 61.0,938.4 60.6,933.1 60.2,935.0 59.8,922.4Z" fill="#dc143c" stroke="#dc143c" stroke-width="0.9" stroke-linejoin="miter"/></g></g><line x1="59.6" x2="2343.5" y1="1131.50" y2="1131.50" stroke="#b0b0b0" stroke-width="0.7" stroke-dasharray="2.57 1.11"/><line x1="59.6" x2="2343.5" y1="1113.50" y2="1113.50" stroke="#b0b0b0" stroke-width="0.7" stroke-dasharray="2.57 1.11"/><line x1="59.6" x2="2343.5" y1="1095.50" y2="1095.50" stroke="#b0b0b0" stroke-width="0.7" stroke-dasharray="2.57 1.11"/><line x1="59.6" x2="2343.5" y1="1059.50" y2="1059.50" stroke="#b0b0b0" stroke-width="0.7" stroke-dasharray="2.57 1.11"/><line x1="59.6" x2="2343.5" y1="1041.50" y2="1041.50" stroke="#b0b0b0" stroke-width="0.7" stroke-dasharray="2.57 1.11"/><line x1="59.6" x2="2343.5" y1="1023.50" y2="1023.50" stroke="#b0b0b0" stroke-width="0.7" stroke-dasharray="2.57 1.11"/><line x1="59.6" x2="2343.5" y1="987.50" y2="987.50" stroke="#b0b0b0" stroke-width="0.7" stroke-dasharray="2.57 1.11"/><line x1="59.6" x2="2343.5" y1="969.50" y2="969.50" stroke="#b0b0b0" stroke-width="0.7" stroke-dasharray="2.57 1.11"/><line x1="59.6" x2="2343.5" y1="951.50" y2="951.50" stroke="#b0b0b0" stroke-width="0.7" stroke-dasharray="2.57 1.11"/><line x1="59.6" x2="2343.5" y1="915.50" y2="915.50" stroke="#b0b0b0" stroke-width="0.7" stroke-dasharray="2.57 1.11"/><line x1="59.6" x2="2343.5" y1="897.50" y2="897.50" stroke="#b0b0b0" stroke-width="0.7" stroke-dasharray="2.57 1.11"/><line x1="59.6" x2="2343.5" y1="879.50" y2="879.50" stroke="#b0b0b0" stroke-width="0.7" stroke-dasharray="2.57 1.11"/><line x1="59.6" x2="2343.5" y1="843.50" y2="843.50" stroke="#b0b0b0" stroke-width="0.7" stroke-dasharray="2.57 1.11"/><line x1="59.6" x2="2343.5" y1="825.50" y2="825.50" stroke="#b0b0b0" stroke-width="0.7" stroke-dasharray="2.57 1.11"/><line x1="59.6" x2="2343.5" y1="807.50" y2="807.50" stroke="#b0b0b0" stroke-width="0.7" stroke-dasharray="2.57 1.11"/><line x1="59.6" x2="2343.5" y1="771.50" y2="771.50" stroke="#b0b0b0" stroke-width="0.7" stroke-dasharray="2.57 1.11"/><line x1="59.6" x2="2343.5" y1="753.50" y2="753.50" stroke="#b0b0b0" stroke-width="0.7" stroke-dasharray="2.57 1.11"/><line x1="59.6" x2="2343.5" y1="735.50" y2="735.50" stroke="#b0b0b0" stroke-width="0.7" stroke-dasharray="2.57 1.11"/><line x1="59.6" x2="2343.5" y1="699.50" y2="699.50" stroke="#b0b0b0" stroke-width="0.7" stroke-dasharray="2.57 1.11"/><line x1="59.6" x2="2343.5" y1="681.50" y2="681.50" stroke="#b0b0b0" stroke-width="0.7" stroke-dasharray="2.57 1.11"/><line x1="59.6" x2="2343.5" y1="663.50" y2="663.50" stroke="#b0b0b0" stroke-width="0.7" stroke-dasharray="2.57 1.11"/><line x1="106.50" x2="106.50" y1="645.5" y2="1149.5" stroke="#b0b0b0" stroke-width="0.7" stroke-dasharray="0.69 1.15"/><line x1="154.50" x2="154.50" y1="645.5" y2="1149.5" stroke="#b0b0b0" stroke-width="0.7" stroke-dasharray="0.69 1.15"/><line x1="201.50" x2="201.50" y1="645.5" y2="1149.5" stroke="#b0b0b0" stroke-width="0.7" stroke-dasharray="0.69 1.15"/><line x1="297.50" x2="297.50" y1="645.5" y2="1149.5" stroke="#b0b0b0" stroke-width="0.7" stroke-dasharray="0.69 1.15"/><line x1="344.50" x2="344.50" y1="645.5" y2="1149.5" stroke="#b0b0b0" stroke-width="0.7" stroke-dasharray="0.69 1.15"/><line x1="392.50" x2="392.50" y1="645.5" y2="1149.5" stroke="#b0b0b0" stroke-width="0.7" stroke-dasharray="0.69 1.15"/><line x1="487.50" x2="487.50" y1="645.5" y2="1149.5" stroke="#b0b0b0" stroke-width="0.7" stroke-dasharray="0.69 1.15"/><line x1="534.50" x2="534.50" y1="645.5" y2="1149.5" stroke="#b0b0b0" stroke-width="0.7" stroke-dasharray="0.69 1.15"/><line x1="582.50" x2="582.50" y1="645.5" y2="1149.5" stroke="#b0b0b0" stroke-width="0.7" stroke-dasharray="0.69 1.15"/><line x1="677.50" x2="677.50" y1="645.5" y2="1149.5" stroke="#b0b0b0" stroke-width="0.7" stroke-dasharray="0.69 1.15"/><line x1="725.50" x2="725.50" y1="645.5" y2="1149.5" stroke="#b0b0b0" stroke-width="0.7" stroke-dasharray="0.69 1.15"/><line x1="772.50" x2="772.50" y1="645.5" y2="1149.5" stroke="#b0b0b0" stroke-width="0.7" stroke-dasharray="0.69 1.15"/><line x1="867.50" x2="867.50" y1="645.5" y2="1149.5" stroke="#b0b0b0" stroke-width="0.7" stroke-dasharray="0.69 1.15"/><line x1="915.50" x2="915.50" y1="645.5" y2="1149.5" stroke="#b0b0b0" stroke-width="0.7" stroke-dasharray="0.69 1.15"/><line x1="963.50" x2="963.50" y1="645.5" y2="1149.5" stroke="#b0b0b0" stroke-width="0.7" stroke-dasharray="0.69 1.15"/><line x1="1058.50" x2="1058.50" y1="645.5" y2="1149.5" stroke="#b0b0b0" stroke-width="0.7" stroke-dasharray="0.69 1.15"/><line x1="1105.50" x2="1105.50" y1="645.5" y2="1149.5" stroke="#b0b0b0" stroke-width="0.7" stroke-dasharray="0.69 1.15"/><line x1="1153.50" x2="1153.50" y1="645.5" y2="1149.5" stroke="#b0b0b0" stroke-width="0.7" stroke-dasharray="0.69 1.15"/><line x1="1248.50" x2="1248.50" y1="645.5" y2="1149.5" stroke="#b0b0b0" stroke-width="0.7" stroke-dasharray="0.69 1.15"/><line x1="1296.50" x2="1296.50" y1="645.5" y2="1149.5" stroke="#b0b0b0" stroke-width="0.7" stroke-dasharray="0.69 1.15"/><line x1="1343.50" x2="1343.50" y1="645.5" y2="1149.5" stroke="#b0b0b0" stroke-width="0.7" stroke-dasharray="0.69 1.15"/><line x1="1438.50" x2="1438.50" y1="645.5" y2="1149.5" stroke="#b0b0b0" stroke-width="0.7" stroke-dasharray="0.69 1.15"/><line x1="1486.50" x2="1486.50" y1="645.5" y2="1149.5" stroke="#b0b0b0" stroke-width="0.7" stroke-dasharray="0.69 1.15"/><line x1="1534.50" x2="1534.50" y1="645.5" y2="1149.5" stroke="#b0b0b0" stroke-width="0.7" stroke-dasharray="0.69 1.15"/><line x1="1629.50" x2="1629.50" y1="645.5" y2="1149.5" stroke="#b0b0b0" stroke-width="0.7" stroke-dasharray="0.69 1.15"/><line x1="1676.50" x2="1676.50" y1="645.5" y2="1149.5" stroke="#b0b0b0" stroke-width="0.7" stroke-dasharray="0.69 1.15"/><line x1="1724.50" x2="1724.50" y1="645.5" y2="1149.5" stroke="#b0b0b0" stroke-width="0.7" stroke-dasharray="0.69 1.15"/><line x1="1819.50" x2="1819.50" y1="645.5" y2="1149.5" stroke="#b0b0b0" stroke-width="0.7" stroke-dasharray="0.69 1.15"/><line x1="1867.50" x2="1867.50" y1="645.5" y2="1149.5" stroke="#b0b0b0" stroke-width="0.7" stroke-dasharray="0.69 1.15"/><line x1="1914.50" x2="1914.50" y1="645.5" y2="1149.5" stroke="#b0b0b0" stroke-width="0.7" stroke-dasharray="0.69 1.15"/><line x1="2009.50" x2="2009.50" y1="645.5" y2="1149.5" stroke="#b0b0b0" stroke-width="0.7" stroke-dasharray="0.69 1.15"/><line x1="2057.50" x2="2057.50" y1="645.5" y2="1149.5" stroke="#b0b0b0" stroke-width="0.7" stroke-dasharray="0.69 1.15"/><line x1="2104.50" x2="2104.50" y1="645.5" y2="1149.5" stroke="#b0b0b0" stroke-width="0.7" stroke-dasharray="0.69 1.15"/><line x1="2200.50" x2="2200.50" y1="645.5" y2="1149.5" stroke="#b0b0b0" stroke-width="0.7" stroke-dasharray="0.69 1.15"/><line x1="2247.50" x2="2247.50" y1="645.5" y2="1149.5" stroke="#b0b0b0" stroke-width="0.7" stroke-dasharray="0.69 1.15"/><line x1="2295.50" x2="2295.50" y1="645.5" y2="1149.5" stroke="#b0b0b0" stroke-width="0.7" stroke-dasharray="0.69 1.15"/><line x1="59.6" x2="2343.5" y1="1077.50" y2="1077.50" stroke="#b0b0b0" stroke-width="1.1"/><line x1="59.6" x2="2343.5" y1="1005.50" y2="1005.50" stroke="#b0b0b0" stroke-width="1.1"/><line x1="59.6" x2="2343.5" y1="933.50" y2="933.50" stroke="#b0b0b0" stroke-width="1.1"/><line x1="59.6" x2="2343.5" y1="861.50" y2="861.50" stroke="#b0b0b0" stroke-width="1.1"/><line x1="59.6" x2="2343.5" y1="789.50" y2="789.50" stroke="#b0b0b0" stroke-width="1.1"/><line x1="59.6" x2="2343.5" y1="717.50" y2="717.50" stroke="#b0b0b0" stroke-width="1.1"/><line x1="249.50" x2="249.50" y1="645.5" y2="1149.5" stroke="#b0b0b0" stroke-width="1.1"/><line x1="439.50" x2="439.50" y1="645.5" y2="1149.5" stroke="#b0b0b0" stroke-width="1.1"/><line x1="630.50" x2="630.50" y1="645.5" y2="1149.5" stroke="#b0b0b0" stroke-width="1.1"/><line x1="820.50" x2="820.50" y1="645.5" y2="1149.5" stroke="#b0b0b0" stroke-width="1.1"/><line x1="1010.50" x2="1010.50" y1="645.5" y2="1149.5" stroke="#b0b0b0" stroke-width="1.1"/><line x1="1201.50" x2="1201.50" y1="645.5" y2="1149.5" stroke="#b0b0b0" stroke-width="1.1"/><line x1="1391.50" x2="1391.50" y1="645.5" y2="1149.5" stroke="#b0b0b0" stroke-width="1.1"/><line x1="1581.50" x2="1581.50" y1="645.5" y2="1149.5" stroke="#b0b0b0" stroke-width="1.1"/><line x1="1771.50" x2="1771.50" y1="645.5" y2="1149.5" stroke="#b0b0b0" stroke-width="1.1"/><line x1="1962.50" x2="1962.50" y1="645.5" y2="1149.5" stroke="#b0b0b0" stroke-width="1.1"/><line x1="2152.50" x2="2152.50" y1="645.5" y2="1149.5" stroke="#b0b0b0" stroke-width="1.1"/><g clip-path="url(#clip1)"><path d="M60.4,916.4 62.0,923.8 63.6,921.0 65.2,917.0 66.7,908.3 68.3,906.5 69.9,905.3 71.5,913.3 73.1,923.3 74.7,927.9 76.3,926.8 77.9,920.4 79.4,912.3 81.0,896.2 82.6,886.0 84.2,872.7 85.8,853.8 87.4,866.2 89.0,881.9 90.6,893.6 92.1,901.2 93.7,908.4 95.3,912.9 96.9,909.5 98.5,901.4 100.1,910.1 101.7,910.4 103.3,911.9 104.8,913.5 106.4,916.9 108.0,919.7 109.6,922.1 111.2,921.4 112.8,921.2 114.4,921.3 116.0,920.5 117.5,920.1 119.1,920.7 120.7,920.8 122.3,921.6 123.9,920.9 125.5,920.3 127.1,919.9 128.6,919.9 130.2,918.8 131.8,918.9 133.4,918.8 135.0,918.7 136.6,918.4 138.2,918.2 139.8,917.3 141.3,916.8 142.9,915.9 144.5,915.7 146.1,916.3 147.7,916.2 149.3,916.1 150.9,915.1 152.5,913.9 154.0,911.9 155.6,911.4 157.2,910.8 158.8,910.8 160.4,910.0 162.0,910.1 163.6,910.4 165.2,908.5 166.7,909.1 168.3,909.5 169.9,909.4 171.5,908.2 173.1,901.7 174.7,897.9 176.3,895.3 177.8,892.8 179.4,889.0 181.0,884.2 182.6,882.8 184.2,883.3 185.8,889.9 187.4,892.3 189.0,897.1 190.5,904.5 192.1,912.3 193.7,914.8 195.3,917.6 196.9,918.6 198.5,917.7 200.1,917.8 201.7,917.2 203.2,917.0 204.8,917.6 206.4,917.1 208.0,916.6 209.6,916.4 211.2,916.7 212.8,916.9 214.4,916.9 215.9,917.0 217.5,916.6 219.1,915.9 220.7,916.8 222.3,916.5 223.9,916.4 225.5,916.6 227.1,915.0 228.6,914.2 230.2,912.9 231.8,912.8 233.4,910.4 235.0,909.8 236.6,910.0 238.2,908.7 239.7,907.3 241.3,907.8 242.9,905.2 244.5,905.5 246.1,904.2 247.7,903.5 249.3,902.0 250.9,900.8 252.4,900.7 254.0,899.0 255.6,899.5 257.2,898.6 258.8,899.2 260.4,896.3 262.0,894.1 263.6,893.3 265.1,889.9 266.7,879.4 268.3,875.3 269.9,868.3 271.5,858.3 273.1,853.0 274.7,850.5 276.3,844.2 277.8,843.7 279.4,846.2 281.0,844.7 282.6,845.4 284.2,844.9 285.8,848.9 287.4,854.5 288.9,865.8 290.5,873.0 292.1,876.0 293.7,886.0 295.3,888.3 296.9,889.3 298.5,892.7 300.1,893.7 301.6,894.4 303.2,895.4 304.8,897.6 306.4,898.3 308.0,898.1 309.6,898.5 311.2,900.3 312.8,900.6 314.3,903.1 315.9,903.5 317.5,904.7 319.1,904.5 320.7,905.0 322.3,904.7 323.9,904.4 325.5,905.9 327.0,902.6 328.6,893.3 330.2,885.5 331.8,877.5 333.4,878.5 335.0,881.5 336.6,891.3 338.2,905.8 339.7,914.1 341.3,915.9 342.9,906.3 344.5,893.0 346.1,876.9 347.7,860.5 349.3,854.0 350.8,853.2 352.4,853.4 354.0,858.7 355.6,867.1 357.2,872.2 358.8,869.6 360.4,867.7 362.0,865.9 363.5,873.3 365.1,878.3 366.7,886.6 368.3,898.8 369.9,904.9 371.5,909.8 373.1,913.1 374.7,911.5 376.2,914.2 377.8,913.5 379.4,913.0 381.0,913.0 382.6,913.4 384.2,913.0 385.8,912.8 387.4,914.8 388.9,912.7 390.5,912.2 392.1,908.1 393.7,903.9 395.3,900.3 396.9,900.0 398.5,901.3 400.0,903.1 401.6,908.3 403.2,908.6 404.8,902.7 406.4,902.0 408.0,900.3 409.6,899.4 411.2,899.4 412.7,903.4 414.3,905.0 415.9,904.6 417.5,904.0 419.1,904.2 420.7,904.9 422.3,903.1 423.9,905.2 425.4,903.2 427.0,894.8 428.6,888.6 430.2,887.0 431.8,889.3 433.4,893.6 435.0,903.8 436.6,915.8 438.1,914.5 439.7,916.9 441.3,913.9 442.9,915.4 444.5,915.6 446.1,916.5 447.7,915.8 449.3,916.2 450.8,915.4 452.4,916.0 454.0,916.2 455.6,915.9 457.2,915.0 458.8,915.8 460.4,915.9 461.9,915.9 463.5,915.5 465.1,914.7 466.7,915.1 468.3,915.3 469.9,914.5 471.5,914.8 473.1,914.2 474.6,914.2 476.2,914.3 477.8,913.6 479.4,914.7 481.0,913.5 482.6,913.3 484.2,912.7 485.8,912.7 487.3,912.4 488.9,911.8 490.5,911.6 492.1,912.1 493.7,911.8 495.3,910.7 496.9,910.8 498.5,911.3 500.0,911.3 501.6,911.4 503.2,910.6 504.8,911.1 506.4,910.7 508.0,910.5 509.6,910.5 511.1,910.8 512.7,910.5 514.3,910.5 515.9,909.0 517.5,908.1 519.1,906.4 520.7,905.1 522.3,902.5 523.8,899.8 525.4,898.2 527.0,894.7 528.6,891.8 530.2,888.1 531.8,885.9 533.4,888.7 535.0,897.7 536.5,904.1 538.1,911.3 539.7,917.0 541.3,916.9 542.9,917.1 544.5,920.0 546.1,918.8 547.7,918.8 549.2,918.7 550.8,918.7 552.4,919.8 554.0,918.6 555.6,919.0 557.2,919.0 558.8,918.7 560.4,918.6 561.9,918.8 563.5,918.9 565.1,918.9 566.7,919.2 568.3,918.6 569.9,919.1 571.5,919.5 573.0,919.2 574.6,918.5 576.2,917.9 577.8,919.0 579.4,918.8 581.0,918.4 582.6,919.0 584.2,918.4 585.7,918.5 587.3,918.1 588.9,918.4 590.5,918.2 592.1,918.2 593.7,918.7 595.3,918.4 596.9,917.9 598.4,918.5 600.0,918.6 601.6,918.1 603.2,918.2 604.8,918.3 606.4,918.3 608.0,918.4 609.6,918.5 611.1,918.2 612.7,919.0 614.3,918.1 615.9,918.2 617.5,918.9 619.1,919.1 620.7,918.3 622.2,918.2 623.8,917.9 625.4,918.5 627.0,918.1 628.6,917.7 630.2,918.0 631.8,918.3 633.4,918.0 634.9,918.4 636.5,918.0 638.1,917.7 639.7,917.4 641.3,917.5 642.9,917.9 644.5,917.9 646.1,918.1 647.6,918.0 649.2,918.3 650.8,918.7 652.4,918.4 654.0,918.1 655.6,919.2 657.2,918.9 658.8,918.5 660.3,918.7 661.9,918.6 663.5,918.2 665.1,918.6 666.7,918.2 668.3,918.7 669.9,918.6 671.5,919.0 673.0,918.6 674.6,918.8 676.2,918.5 677.8,918.2 679.4,915.6 681.0,921.5 682.6,919.2 684.1,904.9 685.7,886.9 687.3,855.1 688.9,832.5 690.5,822.0 692.1,823.2 693.7,817.5 695.3,814.5 696.8,822.1 698.4,836.1 700.0,840.7 701.6,856.0 703.2,864.1 704.8,876.2 706.4,877.4 708.0,881.6 709.5,892.0 711.1,903.6 712.7,895.7 714.3,888.8 715.9,895.8 717.5,895.2 719.1,887.5 720.7,899.5 722.2,908.8 723.8,906.6 725.4,906.8 727.0,907.8 728.6,906.0 730.2,891.3 731.8,880.7 733.3,872.1 734.9,885.3 736.5,893.9 738.1,903.0 739.7,910.8 741.3,918.4 742.9,909.3 744.5,896.3 746.0,880.1 747.6,878.7 749.2,881.0 750.8,885.7 752.4,903.6 754.0,913.9 755.6,914.0 757.2,915.6 758.7,917.2 760.3,921.5 761.9,925.0 763.5,923.8 765.1,921.6 766.7,915.6 768.3,906.9 769.9,906.9 771.4,910.5 773.0,908.1 774.6,912.0 776.2,925.8 777.8,931.4 779.4,929.4 781.0,920.1 782.6,910.9 784.1,908.2 785.7,911.4 787.3,913.3 788.9,915.5 790.5,910.0 792.1,877.2 793.7,871.8 795.2,866.9 796.8,865.5 798.4,866.5 800.0,874.8 801.6,887.4 803.2,892.0 804.8,897.3 806.4,916.0 807.9,934.2 809.5,935.8 811.1,939.4 812.7,936.0 814.3,938.5 815.9,939.2 817.5,938.8 819.1,939.5 820.6,939.3 822.2,939.2 823.8,940.1 825.4,939.3 827.0,940.3 828.6,939.9 830.2,939.9 831.8,940.1 833.3,940.4 834.9,940.5 836.5,941.1 838.1,940.6 839.7,941.9 841.3,941.9 842.9,942.3 844.4,941.7 846.0,941.4 847.6,942.2 849.2,942.5 850.8,942.9 852.4,942.8 854.0,943.2 855.6,942.6 857.1,938.9 858.7,939.6 860.3,936.4 861.9,935.8 863.5,929.5 865.1,925.6 866.7,928.5 868.3,933.7 869.8,939.1 871.4,936.6 873.0,934.4 874.6,936.4 876.2,936.7 877.8,934.6 879.4,933.1 881.0,932.9 882.5,923.5 884.1,915.1 885.7,908.1 887.3,905.1 888.9,910.3 890.5,917.1 892.1,925.5 893.7,928.5 895.2,931.0 896.8,933.1 898.4,934.7 900.0,934.2 901.6,935.7 903.2,936.4 904.8,938.7 906.3,937.2 907.9,937.0 909.5,936.8 911.1,938.4 912.7,938.9 914.3,938.6 915.9,937.4 917.5,934.7 919.0,932.1 920.6,931.6 922.2,932.0 923.8,935.4 925.4,938.8 927.0,942.6 928.6,942.6 930.2,939.0 931.7,935.0 933.3,932.5 934.9,931.0 936.5,929.0 938.1,927.3 939.7,924.7 941.3,923.7 942.9,918.1 944.4,914.9 946.0,910.3 947.6,908.7 949.2,907.7 950.8,909.4 952.4,912.1 954.0,913.0 955.5,912.4 957.1,910.0 958.7,907.0 960.3,896.8 961.9,887.0 963.5,881.7 965.1,881.3 966.7,895.4 968.2,905.2 969.8,910.2 971.4,909.3 973.0,911.4 974.6,911.5 976.2,910.4 977.8,911.3 979.4,910.5 980.9,910.9 982.5,910.4 984.1,910.5 985.7,912.2 987.3,912.3 988.9,912.3 990.5,911.0 992.1,911.3 993.6,911.2 995.2,911.2 996.8,911.3 998.4,911.0 1000.0,911.2 1001.6,910.7 1003.2,910.9 1004.8,911.3 1006.3,910.2 1007.9,910.7 1009.5,908.5 1011.1,906.1 1012.7,898.3 1014.3,887.5 1015.9,879.8 1017.4,868.3 1019.0,863.9 1020.6,861.2 1022.2,855.0 1023.8,854.4 1025.4,852.7 1027.0,853.8 1028.6,850.9 1030.1,848.8 1031.7,856.1 1033.3,865.8 1034.9,873.8 1036.5,883.0 1038.1,889.5 1039.7,897.8 1041.3,900.0 1042.8,902.2 1044.4,914.7 1046.0,917.9 1047.6,913.4 1049.2,915.6 1050.8,913.2 1052.4,905.1 1054.0,911.2 1055.5,913.8 1057.1,907.6 1058.7,910.6 1060.3,911.8 1061.9,910.3 1063.5,921.5 1065.1,926.8 1066.6,930.8 1068.2,934.2 1069.8,932.7 1071.4,921.5 1073.0,915.6 1074.6,913.6 1076.2,911.7 1077.8,906.9 1079.3,900.5 1080.9,894.0 1082.5,883.3 1084.1,884.5 1085.7,891.7 1087.3,909.4 1088.9,931.9 1090.5,946.7 1092.0,948.2 1093.6,947.3 1095.2,952.1 1096.8,949.9 1098.4,950.2 1100.0,949.6 1101.6,950.2 1103.2,951.0 1104.7,951.1 1106.3,951.7 1107.9,951.7 1109.5,953.0 1111.1,953.2 1112.7,953.9 1114.3,953.2 1115.9,950.0 1117.4,949.0 1119.0,946.1 1120.6,939.7 1122.2,936.0 1123.8,932.8 1125.4,930.0 1127.0,929.7 1128.5,932.7 1130.1,931.4 1131.7,929.7 1133.3,930.4 1134.9,933.5 1136.5,931.7 1138.1,927.7 1139.7,924.1 1141.2,920.4 1142.8,928.0 1144.4,929.6 1146.0,932.5 1147.6,931.5 1149.2,929.1 1150.8,928.6 1152.4,928.8 1153.9,925.7 1155.5,924.2 1157.1,927.9 1158.7,931.4 1160.3,931.4 1161.9,931.1 1163.5,933.1 1165.1,930.6 1166.6,929.4 1168.2,925.6 1169.8,920.4 1171.4,918.5 1173.0,918.5 1174.6,923.9 1176.2,931.0 1177.7,932.4 1179.3,929.2 1180.9,921.8 1182.5,920.2 1184.1,920.6 1185.7,925.7 1187.3,933.3 1188.9,938.6 1190.4,931.0 1192.0,932.2 1193.6,919.2 1195.2,912.5 1196.8,904.5 1198.4,897.6 1200.0,898.0 1201.6,896.1 1203.1,897.5 1204.7,897.7 1206.3,905.1 1207.9,912.9 1209.5,927.1 1211.1,931.4 1212.7,934.3 1214.3,938.4 1215.8,936.5 1217.4,928.9 1219.0,923.1 1220.6,921.3 1222.2,918.9 1223.8,916.2 1225.4,915.4 1227.0,917.7 1228.5,920.8 1230.1,921.1 1231.7,918.8 1233.3,910.1 1234.9,904.5 1236.5,899.8 1238.1,898.8 1239.6,900.1 1241.2,907.9 1242.8,920.0 1244.4,931.3 1246.0,937.5 1247.6,934.8 1249.2,934.9 1250.8,933.0 1252.3,931.3 1253.9,930.1 1255.5,930.5 1257.1,931.4 1258.7,929.3 1260.3,928.1 1261.9,927.6 1263.5,925.9 1265.0,924.0 1266.6,922.4 1268.2,922.5 1269.8,920.4 1271.4,918.7 1273.0,916.2 1274.6,913.2 1276.2,909.9 1277.7,901.7 1279.3,898.1 1280.9,894.9 1282.5,897.0 1284.1,897.6 1285.7,895.3 1287.3,894.0 1288.8,890.2 1290.4,880.9 1292.0,873.2 1293.6,867.3 1295.2,866.3 1296.8,863.8 1298.4,875.5 1300.0,882.2 1301.5,903.9 1303.1,920.4 1304.7,934.8 1306.3,947.2 1307.9,951.8 1309.5,948.8 1311.1,946.7 1312.7,954.2 1314.2,958.1 1315.8,963.8 1317.4,965.8 1319.0,968.0 1320.6,967.5 1322.2,965.9 1323.8,965.4 1325.4,965.0 1326.9,963.9 1328.5,963.0 1330.1,960.0 1331.7,959.7 1333.3,958.0 1334.9,955.3 1336.5,954.9 1338.1,956.3 1339.6,958.1 1341.2,958.9 1342.8,961.5 1344.4,962.2 1346.0,964.1 1347.6,965.8 1349.2,966.3 1350.7,960.3 1352.3,955.8 1353.9,952.1 1355.5,948.9 1357.1,952.4 1358.7,955.6 1360.3,964.0 1361.9,965.9 1363.4,966.8 1365.0,971.1 1366.6,969.5 1368.2,969.2 1369.8,967.5 1371.4,966.1 1373.0,965.7 1374.6,964.5 1376.1,964.6 1377.7,964.0 1379.3,963.5 1380.9,963.8 1382.5,964.4 1384.1,963.3 1385.7,962.7 1387.3,961.1 1388.8,959.8 1390.4,960.0 1392.0,960.8 1393.6,962.8 1395.2,963.1 1396.8,965.7 1398.4,966.3 1399.9,962.4 1401.5,961.5 1403.1,954.5 1404.7,947.9 1406.3,945.7 1407.9,943.6 1409.5,942.9 1411.1,945.9 1412.6,944.5 1414.2,942.6 1415.8,942.0 1417.4,941.4 1419.0,943.5 1420.6,950.6 1422.2,958.7 1423.8,962.4 1425.3,963.4 1426.9,967.6 1428.5,966.2 1430.1,965.2 1431.7,963.5 1433.3,958.2 1434.9,954.3 1436.5,954.0 1438.0,954.6 1439.6,955.6 1441.2,956.0 1442.8,957.8 1444.4,958.3 1446.0,959.3 1447.6,958.8 1449.2,960.6 1450.7,960.5 1452.3,960.1 1453.9,957.2 1455.5,952.0 1457.1,946.9 1458.7,943.9 1460.3,941.8 1461.8,943.2 1463.4,943.9 1465.0,947.7 1466.6,949.6 1468.2,950.0 1469.8,951.6 1471.4,952.9 1473.0,954.0 1474.5,955.9 1476.1,957.4 1477.7,960.7 1479.3,951.4 1480.9,934.6 1482.5,914.2 1484.1,898.5 1485.7,887.9 1487.2,881.7 1488.8,877.4 1490.4,878.5 1492.0,876.8 1493.6,878.2 1495.2,875.5 1496.8,879.3 1498.4,891.4 1499.9,897.1 1501.5,901.8 1503.1,906.6 1504.7,912.7 1506.3,921.6 1507.9,918.6 1509.5,925.0 1511.0,926.9 1512.6,926.3 1514.2,931.0 1515.8,930.5 1517.4,922.6 1519.0,916.5 1520.6,904.1 1522.2,893.8 1523.7,890.7 1525.3,911.7 1526.9,918.7 1528.5,926.0 1530.1,911.3 1531.7,899.0 1533.3,889.2 1534.9,875.0 1536.4,872.1 1538.0,876.1 1539.6,886.8 1541.2,896.5 1542.8,905.0 1544.4,919.9 1546.0,931.7 1547.6,942.2 1549.1,928.4 1550.7,922.0 1552.3,922.4 1553.9,915.7 1555.5,908.2 1557.1,900.2 1558.7,912.7 1560.3,923.2 1561.8,922.7 1563.4,928.9 1565.0,936.8 1566.6,942.3 1568.2,925.4 1569.8,910.5 1571.4,888.2 1572.9,884.9 1574.5,880.9 1576.1,904.8 1577.7,956.8 1579.3,954.9 1580.9,960.5 1582.5,951.8 1584.1,946.6 1585.6,946.0 1587.2,942.2 1588.8,938.9 1590.4,934.1 1592.0,933.4 1593.6,929.2 1595.2,928.3 1596.8,925.5 1598.3,923.6 1599.9,921.9 1601.5,922.0 1603.1,922.9 1604.7,925.9 1606.3,929.4 1607.9,931.8 1609.5,933.4 1611.0,935.8 1612.6,937.5 1614.2,938.2 1615.8,937.8 1617.4,941.1 1619.0,943.8 1620.6,947.0 1622.1,955.6 1623.7,955.9 1625.3,954.3 1626.9,952.2 1628.5,949.4 1630.1,948.9 1631.7,943.3 1633.3,941.1 1634.8,941.5 1636.4,938.0 1638.0,936.0 1639.6,939.2 1641.2,943.5 1642.8,948.4 1644.4,948.1 1646.0,943.7 1647.5,941.8 1649.1,939.9 1650.7,938.3 1652.3,943.5 1653.9,949.4 1655.5,951.8 1657.1,942.5 1658.7,936.4 1660.2,938.7 1661.8,942.8 1663.4,945.9 1665.0,946.6 1666.6,949.0 1668.2,952.2 1669.8,950.9 1671.4,950.5 1672.9,948.8 1674.5,948.5 1676.1,949.7 1677.7,950.8 1679.3,947.7 1680.9,942.7 1682.5,939.3 1684.0,937.0 1685.6,936.3 1687.2,934.9 1688.8,942.2 1690.4,947.3 1692.0,951.3 1693.6,957.2 1695.2,959.1 1696.7,961.8 1698.3,963.2 1699.9,962.7 1701.5,964.7 1703.1,965.4 1704.7,966.1 1706.3,965.5 1707.9,966.4 1709.4,968.6 1711.0,966.2 1712.6,964.5 1714.2,962.0 1715.8,958.9 1717.4,958.3 1719.0,956.2 1720.6,952.3 1722.1,948.7 1723.7,942.5 1725.3,941.6 1726.9,942.0 1728.5,949.1 1730.1,950.8 1731.7,957.1 1733.2,951.8 1734.8,945.6 1736.4,942.9 1738.0,940.9 1739.6,944.0 1741.2,951.4 1742.8,957.7 1744.4,957.0 1745.9,956.8 1747.5,953.2 1749.1,949.3 1750.7,945.9 1752.3,943.7 1753.9,941.1 1755.5,939.5 1757.1,934.4 1758.6,936.9 1760.2,930.7 1761.8,926.7 1763.4,922.1 1765.0,920.3 1766.6,918.5 1768.2,922.8 1769.8,925.6 1771.3,926.9 1772.9,923.6 1774.5,913.6 1776.1,906.8 1777.7,900.2 1779.3,898.3 1780.9,905.4 1782.5,911.6 1784.0,914.0 1785.6,911.2 1787.2,916.0 1788.8,914.4 1790.4,915.9 1792.0,915.7 1793.6,920.4 1795.1,923.5 1796.7,933.7 1798.3,939.3 1799.9,949.3 1801.5,955.2 1803.1,951.8 1804.7,947.8 1806.3,948.3 1807.8,946.8 1809.4,948.2 1811.0,947.7 1812.6,949.5 1814.2,951.6 1815.8,952.8 1817.4,954.0 1819.0,957.7 1820.5,958.7 1822.1,953.1 1823.7,950.5 1825.3,948.4 1826.9,950.6 1828.5,953.3 1830.1,955.6 1831.7,959.9 1833.2,963.6 1834.8,960.7 1836.4,953.5 1838.0,949.2 1839.6,947.9 1841.2,949.6 1842.8,940.3 1844.3,937.7 1845.9,921.8 1847.5,914.0 1849.1,911.8 1850.7,913.3 1852.3,921.6 1853.9,931.0 1855.5,934.3 1857.0,937.4 1858.6,939.6 1860.2,939.6 1861.8,941.8 1863.4,947.2 1865.0,949.0 1866.6,951.3 1868.2,952.0 1869.7,951.8 1871.3,954.2 1872.9,953.1 1874.5,953.8 1876.1,954.4 1877.7,954.7 1879.3,954.9 1880.9,955.0 1882.4,955.1 1884.0,955.0 1885.6,954.1 1887.2,953.0 1888.8,953.1 1890.4,952.8 1892.0,952.5 1893.6,951.6 1895.1,950.8 1896.7,948.4 1898.3,946.6 1899.9,943.5 1901.5,941.4 1903.1,939.5 1904.7,938.5 1906.2,937.5 1907.8,937.0 1909.4,935.2 1911.0,933.6 1912.6,932.1 1914.2,932.1 1915.8,930.5 1917.4,929.3 1918.9,929.3 1920.5,926.9 1922.1,926.3 1923.7,924.7 1925.3,923.5 1926.9,921.5 1928.5,922.1 1930.1,921.4 1931.6,915.6 1933.2,913.6 1934.8,911.6 1936.4,910.4 1938.0,907.4 1939.6,906.3 1941.2,907.8 1942.8,910.3 1944.3,910.5 1945.9,911.4 1947.5,911.6 1949.1,908.3 1950.7,907.4 1952.3,908.7 1953.9,909.0 1955.4,908.7 1957.0,909.9 1958.6,908.1 1960.2,906.7 1961.8,905.1 1963.4,904.5 1965.0,901.7 1966.6,900.2 1968.1,896.1 1969.7,894.0 1971.3,890.4 1972.9,885.3 1974.5,887.8 1976.1,889.9 1977.7,884.2 1979.3,877.9 1980.8,870.5 1982.4,866.1 1984.0,862.3 1985.6,867.1 1987.2,873.2 1988.8,886.7 1990.4,887.0 1992.0,890.6 1993.5,899.6 1995.1,901.2 1996.7,903.5 1998.3,906.2 1999.9,908.1 2001.5,908.8 2003.1,911.6 2004.7,913.4 2006.2,915.1 2007.8,921.2 2009.4,923.9 2011.0,929.2 2012.6,933.7 2014.2,932.2 2015.8,930.9 2017.3,927.3 2018.9,923.5 2020.5,922.1 2022.1,923.4 2023.7,923.4 2025.3,924.9 2026.9,925.9 2028.5,928.2 2030.0,930.4 2031.6,931.2 2033.2,933.0 2034.8,930.3 2036.4,933.2 2038.0,934.0 2039.6,930.6 2041.2,915.1 2042.7,901.6 2044.3,887.0 2045.9,884.2 2047.5,888.9 2049.1,907.1 2050.7,923.3 2052.3,932.8 2053.9,929.8 2055.4,918.8 2057.0,900.3 2058.6,888.6 2060.2,876.6 2061.8,875.7 2063.4,869.7 2065.0,873.3 2066.5,883.5 2068.1,884.4 2069.7,882.7 2071.3,880.7 2072.9,878.8 2074.5,885.0 2076.1,893.8 2077.7,902.4 2079.2,907.9 2080.8,910.1 2082.4,914.0 2084.0,913.2 2085.6,915.1 2087.2,915.9 2088.8,921.7 2090.4,920.8 2091.9,921.6 2093.5,926.5 2095.1,932.9 2096.7,943.6 2098.3,950.9 2099.9,956.0 2101.5,961.8 2103.1,961.5 2104.6,960.2 2106.2,961.4 2107.8,961.6 2109.4,962.8 2111.0,962.3 2112.6,962.7 2114.2,962.4 2115.8,962.2 2117.3,961.9 2118.9,962.3 2120.5,961.4 2122.1,961.3 2123.7,961.2 2125.3,961.1 2126.9,961.3 2128.4,961.1 2130.0,961.3 2131.6,961.9 2133.2,962.6 2134.8,963.3 2136.4,963.3 2138.0,963.8 2139.6,963.3 2141.1,964.2 2142.7,964.2 2144.3,964.0 2145.9,964.6 2147.5,963.3 2149.1,964.8 2150.7,964.4 2152.3,964.0 2153.8,962.9 2155.4,964.2 2157.0,962.6 2158.6,962.1 2160.2,962.1 2161.8,962.0 2163.4,962.0 2165.0,962.9 2166.5,962.5 2168.1,963.3 2169.7,963.3 2171.3,963.5 2172.9,962.3 2174.5,962.9 2176.1,962.3 2177.6,962.7 2179.2,961.5 2180.8,962.4 2182.4,961.9 2184.0,962.0 2185.6,961.2 2187.2,961.2 2188.8,960.7 2190.3,959.5 2191.9,958.8 2193.5,958.3 2195.1,959.4 2196.7,957.3 2198.3,956.9 2199.9,955.4 2201.5,950.6 2203.0,946.8 2204.6,945.0 2206.2,946.3 2207.8,937.2 2209.4,930.0 2211.0,917.1 2212.6,909.5 2214.2,904.6 2215.7,906.2 2217.3,914.9 2218.9,931.5 2220.5,944.5 2222.1,939.8 2223.7,931.9 2225.3,920.2 2226.9,916.8 2228.4,920.2 2230.0,925.3 2231.6,937.4 2233.2,946.1 2234.8,953.7 2236.4,953.5 2238.0,951.8 2239.5,952.9 2241.1,952.8 2242.7,952.3 2244.3,951.9 2245.9,952.5 2247.5,951.4 2249.1,951.7 2250.7,951.2 2252.2,951.0 2253.8,950.5 2255.4,950.4 2257.0,949.5 2258.6,949.1 2260.2,948.4 2261.8,947.9 2263.4,949.1 2264.9,947.9 2266.5,948.0 2268.1,948.1 2269.7,946.5 2271.3,947.3 2272.9,947.5 2274.5,947.2 2276.1,946.7 2277.6,947.8 2279.2,947.4 2280.8,947.2 2282.4,947.7 2284.0,947.1 2285.6,947.8 2287.2,947.0 2288.7,947.7 2290.3,946.2 2291.9,944.8 2293.5,942.4 2295.1,939.3 2296.7,936.8 2298.3,935.7 2299.9,935.2 2301.4,938.4 2303.0,940.1 2304.6,939.8 2306.2,941.2 2307.8,939.0 2309.4,937.2 2311.0,934.1 2312.6,930.8 2314.1,930.6 2315.7,931.9 2317.3,931.5 2318.9,933.7 2320.5,932.4 2322.1,930.9 2323.7,929.3 2325.3,928.7 2326.8,929.7 2328.4,933.9 2330.0,934.8 2331.6,939.0 2333.2,940.3 2334.8,943.0 2336.4,943.0 2338.0,944.6 2339.5,945.1 2341.1,945.0 2342.7,945.0" stroke="#dc143c" stroke-width="1.5" fill="none" stroke-linejoin="round"/><path d="M60.4,925.0 62.0,932.7 63.6,930.1 65.2,925.6 66.7,916.7 68.3,914.3 69.9,913.0 71.5,921.5 73.1,932.5 74.7,936.6 76.3,935.4 77.9,929.0 79.4,920.9 81.0,903.4 82.6,893.2 84.2,879.6 85.8,861.4 87.4,873.6 89.0,889.2 90.6,901.4 92.1,909.6 93.7,917.1 95.3,921.4 96.9,917.7 98.5,909.2 100.1,918.6 101.7,918.7 103.3,920.6 104.8,921.6 106.4,925.8 108.0,928.7 109.6,931.4 111.2,930.3 112.8,929.8 114.4,930.1 116.0,929.7 117.5,928.9 119.1,929.6 120.7,929.6 122.3,930.6 123.9,929.9 125.5,928.8 127.1,928.7 128.6,929.1 130.2,928.0 131.8,927.8 133.4,927.5 135.0,927.9 136.6,927.2 138.2,926.8 139.8,926.1 141.3,925.8 142.9,925.2 144.5,924.4 146.1,925.3 147.7,925.1 149.3,925.3 150.9,924.0 152.5,922.8 154.0,920.5 155.6,920.1 157.2,919.5 158.8,918.7 160.4,918.9 162.0,918.8 163.6,919.2 165.2,917.2 166.7,918.0 168.3,918.4 169.9,918.0 171.5,917.1 173.1,910.3 174.7,906.4 176.3,903.2 177.8,901.0 179.4,896.6 181.0,891.9 182.6,890.5 184.2,890.9 185.8,897.5 187.4,900.0 189.0,905.0 190.5,913.0 192.1,920.8 193.7,923.6 195.3,926.0 196.9,927.4 198.5,926.5 200.1,926.6 201.7,926.5 203.2,925.6 204.8,926.2 206.4,926.1 208.0,925.3 209.6,925.3 211.2,925.7 212.8,925.8 214.4,925.7 215.9,926.2 217.5,925.9 219.1,924.6 220.7,925.8 222.3,925.7 223.9,925.3 225.5,925.4 227.1,923.8 228.6,923.3 230.2,921.5 231.8,921.7 233.4,919.2 235.0,918.4 236.6,918.9 238.2,917.5 239.7,916.2 241.3,916.7 242.9,913.5 244.5,914.4 246.1,913.0 247.7,912.4 249.3,910.4 250.9,909.7 252.4,909.4 254.0,907.4 255.6,908.6 257.2,907.1 258.8,907.7 260.4,905.1 262.0,902.6 263.6,902.0 265.1,898.4 266.7,887.6 268.3,883.4 269.9,875.9 271.5,865.7 273.1,860.4 274.7,857.5 276.3,851.6 277.8,851.1 279.4,853.7 281.0,852.2 282.6,853.0 284.2,852.3 285.8,855.7 287.4,861.8 288.9,873.5 290.5,881.0 292.1,884.1 293.7,894.4 295.3,897.2 296.9,897.9 298.5,901.4 300.1,902.6 301.6,903.2 303.2,904.3 304.8,906.4 306.4,907.0 308.0,906.9 309.6,906.7 311.2,908.7 312.8,909.6 314.3,911.9 315.9,912.9 317.5,914.0 319.1,913.1 320.7,914.0 322.3,914.3 323.9,913.2 325.5,915.0 327.0,911.0 328.6,901.3 330.2,893.0 331.8,884.8 333.4,886.0 335.0,888.8 336.6,899.3 338.2,914.2 339.7,923.1 341.3,925.0 342.9,914.7 344.5,901.0 346.1,883.9 347.7,867.5 349.3,861.5 350.8,859.9 352.4,860.7 354.0,866.1 355.6,874.2 357.2,879.9 358.8,877.0 360.4,874.6 362.0,873.2 363.5,880.6 365.1,885.5 366.7,894.5 368.3,907.3 369.9,913.3 371.5,918.1 373.1,922.2 374.7,920.2 376.2,922.8 377.8,922.3 379.4,921.4 381.0,921.8 382.6,922.7 384.2,921.2 385.8,921.8 387.4,923.5 388.9,921.6 390.5,920.9 392.1,917.0 393.7,912.4 395.3,908.4 396.9,908.0 398.5,909.6 400.0,911.8 401.6,916.8 403.2,917.5 404.8,911.6 406.4,910.2 408.0,909.2 409.6,908.0 411.2,908.5 412.7,912.5 414.3,913.8 415.9,913.4 417.5,912.7 419.1,912.8 420.7,914.1 422.3,911.9 423.9,913.6 425.4,911.5 427.0,902.9 428.6,896.6 430.2,894.7 431.8,897.0 433.4,901.5 435.0,912.8 436.6,924.2 438.1,923.1 439.7,926.0 441.3,922.9 442.9,924.6 444.5,924.9 446.1,926.0 447.7,924.6 449.3,925.4 450.8,924.3 452.4,925.2 454.0,925.2 455.6,925.1 457.2,923.7 458.8,924.8 460.4,924.7 461.9,924.8 463.5,924.4 465.1,923.4 466.7,924.3 468.3,924.4 469.9,923.7 471.5,923.5 473.1,922.7 474.6,923.0 476.2,923.2 477.8,922.7 479.4,923.9 481.0,922.7 482.6,922.6 484.2,921.8 485.8,921.7 487.3,921.1 488.9,920.8 490.5,920.3 492.1,920.7 493.7,920.8 495.3,919.7 496.9,919.9 498.5,920.1 500.0,920.5 501.6,920.4 503.2,919.5 504.8,919.9 506.4,919.4 508.0,919.1 509.6,919.8 511.1,919.4 512.7,919.6 514.3,919.5 515.9,917.7 517.5,916.9 519.1,915.2 520.7,914.0 522.3,911.3 523.8,908.3 525.4,906.3 527.0,902.3 528.6,900.2 530.2,895.5 531.8,893.0 533.4,896.5 535.0,905.4 536.5,912.6 538.1,920.1 539.7,926.0 541.3,926.0 542.9,925.6 544.5,928.7 546.1,927.7 547.7,927.8 549.2,927.6 550.8,927.7 552.4,928.6 554.0,927.0 555.6,928.0 557.2,927.9 558.8,927.8 560.4,928.1 561.9,927.8 563.5,928.0 565.1,927.6 566.7,928.5 568.3,927.7 569.9,928.2 571.5,928.7 573.0,927.9 574.6,927.6 576.2,926.9 577.8,928.4 579.4,927.4 581.0,927.4 582.6,928.5 584.2,927.2 585.7,927.3 587.3,927.5 588.9,928.0 590.5,927.2 592.1,927.0 593.7,927.5 595.3,927.3 596.9,926.6 598.4,927.3 600.0,927.6 601.6,927.1 603.2,927.3 604.8,927.3 606.4,926.9 608.0,927.5 609.6,927.6 611.1,927.0 612.7,927.9 614.3,927.2 615.9,927.2 617.5,927.9 619.1,928.3 620.7,927.6 622.2,927.1 623.8,926.8 625.4,927.2 627.0,927.0 628.6,926.8 630.2,927.2 631.8,927.3 633.4,926.9 634.9,927.2 636.5,927.0 638.1,926.3 639.7,926.4 641.3,926.5 642.9,926.6 644.5,926.9 646.1,927.0 647.6,927.1 649.2,927.2 650.8,927.8 652.4,927.7 654.0,927.1 655.6,928.4 657.2,927.7 658.8,927.4 660.3,927.3 661.9,927.5 663.5,926.8 665.1,927.6 666.7,926.7 668.3,927.4 669.9,927.5 671.5,928.0 673.0,927.1 674.6,927.6 676.2,928.0 677.8,927.2 679.4,924.4 681.0,929.8 682.6,927.9 684.1,913.3 685.7,894.4 687.3,862.4 688.9,839.9 690.5,829.2 692.1,830.6 693.7,824.2 695.3,822.3 696.8,829.2 698.4,843.2 700.0,848.3 701.6,863.3 703.2,871.6 704.8,883.9 706.4,885.3 708.0,889.7 709.5,900.0 711.1,912.3 712.7,904.0 714.3,896.9 715.9,904.0 717.5,903.3 719.1,895.6 720.7,908.1 722.2,918.1 723.8,915.5 725.4,915.6 727.0,916.3 728.6,914.5 730.2,899.0 731.8,888.5 733.3,879.9 734.9,893.2 736.5,901.6 738.1,911.0 739.7,919.4 741.3,927.2 742.9,918.3 744.5,904.3 746.0,887.3 747.6,885.9 749.2,888.5 750.8,892.7 752.4,911.8 754.0,922.1 755.6,922.5 757.2,924.0 758.7,925.9 760.3,930.4 761.9,934.3 763.5,932.8 765.1,930.0 766.7,923.6 768.3,914.6 769.9,914.7 771.4,918.5 773.0,915.9 774.6,920.4 776.2,934.7 777.8,940.4 779.4,938.2 781.0,928.6 782.6,918.9 784.1,916.1 785.7,919.1 787.3,921.4 788.9,923.3 790.5,918.0 792.1,884.6 793.7,878.8 795.2,874.2 796.8,872.5 798.4,873.5 800.0,882.5 801.6,894.8 803.2,899.3 804.8,904.4 806.4,924.1 807.9,942.9 809.5,944.8 811.1,948.2 812.7,944.8 814.3,947.3 815.9,947.8 817.5,948.1 819.1,948.6 820.6,948.1 822.2,947.8 823.8,948.9 825.4,948.0 827.0,949.0 828.6,948.4 830.2,948.6 831.8,949.0 833.3,949.4 834.9,949.0 836.5,950.1 838.1,949.2 839.7,950.6 841.3,950.8 842.9,951.1 844.4,950.8 846.0,950.5 847.6,951.1 849.2,951.4 850.8,952.4 852.4,952.2 854.0,952.3 855.6,951.5 857.1,947.9 858.7,948.8 860.3,945.0 861.9,944.9 863.5,937.9 865.1,934.0 866.7,936.7 868.3,942.3 869.8,948.0 871.4,945.5 873.0,943.4 874.6,945.0 876.2,945.5 877.8,943.6 879.4,941.7 881.0,942.1 882.5,931.5 884.1,923.7 885.7,915.6 887.3,912.9 888.9,918.5 890.5,925.4 892.1,933.6 893.7,937.0 895.2,939.7 896.8,942.0 898.4,943.8 900.0,943.3 901.6,944.9 903.2,945.0 904.8,947.9 906.3,945.7 907.9,945.9 909.5,945.5 911.1,946.9 912.7,948.2 914.3,947.5 915.9,946.4 917.5,942.9 919.0,940.3 920.6,940.1 922.2,940.3 923.8,944.1 925.4,947.4 927.0,951.5 928.6,951.3 930.2,948.1 931.7,943.6 933.3,940.8 934.9,939.7 936.5,937.5 938.1,935.7 939.7,933.0 941.3,931.8 942.9,926.2 944.4,922.4 946.0,917.9 947.6,916.3 949.2,915.8 950.8,917.9 952.4,920.5 954.0,921.5 955.5,921.4 957.1,918.7 958.7,915.9 960.3,905.2 961.9,894.5 963.5,889.4 965.1,888.9 966.7,903.3 968.2,913.6 969.8,918.8 971.4,918.5 973.0,920.9 974.6,920.7 976.2,919.7 977.8,919.9 979.4,919.8 980.9,920.4 982.5,919.7 984.1,919.2 985.7,921.5 987.3,921.2 988.9,921.5 990.5,919.8 992.1,920.3 993.6,920.0 995.2,920.2 996.8,920.3 998.4,920.3 1000.0,920.3 1001.6,919.8 1003.2,920.0 1004.8,920.5 1006.3,919.5 1007.9,920.3 1009.5,917.9 1011.1,915.6 1012.7,907.4 1014.3,896.2 1015.9,888.1 1017.4,875.9 1019.0,872.2 1020.6,869.5 1022.2,863.0 1023.8,863.2 1025.4,860.8 1027.0,862.6 1028.6,859.5 1030.1,857.5 1031.7,865.1 1033.3,874.8 1034.9,882.6 1036.5,892.0 1038.1,898.9 1039.7,908.1 1041.3,910.8 1042.8,913.1 1044.4,926.2 1046.0,929.7 1047.6,925.2 1049.2,927.8 1050.8,924.5 1052.4,916.0 1054.0,922.1 1055.5,924.4 1057.1,917.7 1058.7,921.5 1060.3,922.6 1061.9,920.8 1063.5,932.8 1065.1,938.7 1066.6,942.7 1068.2,946.6 1069.8,944.5 1071.4,932.5 1073.0,926.4 1074.6,924.1 1076.2,922.3 1077.8,916.8 1079.3,910.5 1080.9,903.8 1082.5,893.0 1084.1,893.8 1085.7,901.0 1087.3,919.1 1088.9,942.7 1090.5,958.3 1092.0,959.8 1093.6,959.4 1095.2,964.4 1096.8,961.7 1098.4,962.1 1100.0,961.7 1101.6,962.0 1103.2,962.9 1104.7,962.6 1106.3,963.1 1107.9,963.1 1109.5,964.4 1111.1,965.2 1112.7,966.0 1114.3,964.9 1115.9,961.9 1117.4,960.8 1119.0,957.6 1120.6,950.5 1122.2,947.3 1123.8,943.8 1125.4,940.4 1127.0,940.8 1128.5,943.6 1130.1,942.1 1131.7,940.6 1133.3,941.4 1134.9,945.2 1136.5,943.2 1138.1,939.7 1139.7,935.6 1141.2,931.3 1142.8,939.8 1144.4,941.0 1146.0,944.5 1147.6,943.6 1149.2,940.9 1150.8,940.0 1152.4,940.5 1153.9,937.2 1155.5,935.7 1157.1,940.0 1158.7,943.7 1160.3,943.7 1161.9,942.8 1163.5,944.9 1165.1,942.5 1166.6,941.3 1168.2,936.6 1169.8,931.5 1171.4,930.1 1173.0,929.3 1174.6,935.2 1176.2,942.4 1177.7,944.2 1179.3,940.7 1180.9,932.7 1182.5,930.7 1184.1,931.7 1185.7,936.9 1187.3,944.8 1188.9,950.6 1190.4,942.7 1192.0,943.5 1193.6,929.6 1195.2,922.7 1196.8,914.2 1198.4,906.4 1200.0,907.5 1201.6,906.0 1203.1,907.0 1204.7,907.5 1206.3,914.4 1207.9,923.4 1209.5,938.7 1211.1,943.4 1212.7,945.9 1214.3,950.2 1215.8,948.5 1217.4,940.0 1219.0,934.1 1220.6,931.9 1222.2,929.7 1223.8,926.9 1225.4,926.4 1227.0,928.6 1228.5,931.7 1230.1,932.6 1231.7,929.7 1233.3,920.4 1234.9,914.5 1236.5,909.6 1238.1,908.7 1239.6,909.4 1241.2,918.2 1242.8,931.2 1244.4,942.6 1246.0,950.0 1247.6,946.5 1249.2,947.4 1250.8,944.9 1252.3,943.2 1253.9,941.7 1255.5,942.3 1257.1,942.8 1258.7,940.6 1260.3,939.2 1261.9,939.3 1263.5,937.3 1265.0,935.8 1266.6,934.0 1268.2,933.7 1269.8,931.9 1271.4,930.2 1273.0,927.5 1274.6,924.4 1276.2,920.9 1277.7,912.4 1279.3,908.9 1280.9,905.0 1282.5,907.3 1284.1,908.1 1285.7,906.3 1287.3,904.7 1288.8,901.6 1290.4,889.8 1292.0,882.6 1293.6,876.8 1295.2,876.0 1296.8,873.7 1298.4,885.1 1300.0,891.6 1301.5,913.7 1303.1,930.4 1304.7,944.3 1306.3,958.1 1307.9,963.0 1309.5,959.5 1311.1,957.4 1312.7,965.6 1314.2,969.6 1315.8,975.6 1317.4,977.5 1319.0,980.2 1320.6,979.4 1322.2,978.0 1323.8,977.3 1325.4,977.0 1326.9,976.0 1328.5,974.9 1330.1,971.9 1331.7,971.0 1333.3,969.8 1334.9,967.0 1336.5,966.3 1338.1,967.9 1339.6,969.2 1341.2,970.8 1342.8,973.4 1344.4,973.7 1346.0,976.3 1347.6,977.9 1349.2,978.7 1350.7,972.2 1352.3,967.4 1353.9,963.3 1355.5,959.8 1357.1,963.8 1358.7,967.2 1360.3,975.4 1361.9,978.0 1363.4,978.8 1365.0,983.2 1366.6,982.2 1368.2,981.8 1369.8,979.5 1371.4,978.0 1373.0,978.1 1374.6,976.4 1376.1,976.7 1377.7,975.6 1379.3,975.6 1380.9,976.3 1382.5,976.6 1384.1,975.7 1385.7,975.5 1387.3,973.6 1388.8,972.3 1390.4,972.4 1392.0,973.4 1393.6,974.7 1395.2,975.4 1396.8,977.9 1398.4,979.6 1399.9,974.8 1401.5,973.8 1403.1,966.3 1404.7,959.2 1406.3,956.4 1407.9,955.4 1409.5,954.1 1411.1,957.4 1412.6,955.7 1414.2,953.8 1415.8,953.3 1417.4,952.5 1419.0,954.9 1420.6,962.1 1422.2,971.0 1423.8,975.2 1425.3,976.1 1426.9,980.6 1428.5,978.9 1430.1,977.7 1431.7,976.3 1433.3,970.4 1434.9,966.1 1436.5,966.2 1438.0,966.2 1439.6,967.6 1441.2,968.5 1442.8,970.5 1444.4,970.9 1446.0,972.2 1447.6,971.8 1449.2,973.5 1450.7,973.3 1452.3,973.1 1453.9,970.0 1455.5,964.5 1457.1,959.3 1458.7,955.9 1460.3,953.5 1461.8,955.2 1463.4,956.3 1465.0,959.8 1466.6,961.9 1468.2,962.2 1469.8,964.2 1471.4,965.2 1473.0,966.9 1474.5,968.9 1476.1,970.2 1477.7,973.7 1479.3,963.6 1480.9,945.9 1482.5,924.1 1484.1,908.3 1485.7,897.5 1487.2,891.0 1488.8,886.9 1490.4,888.0 1492.0,885.1 1493.6,886.6 1495.2,883.9 1496.8,887.2 1498.4,899.4 1499.9,905.4 1501.5,910.3 1503.1,915.3 1504.7,921.4 1506.3,930.7 1507.9,927.5 1509.5,934.3 1511.0,936.0 1512.6,935.2 1514.2,940.5 1515.8,940.4 1517.4,932.0 1519.0,924.9 1520.6,912.4 1522.2,901.4 1523.7,898.4 1525.3,920.1 1526.9,928.0 1528.5,935.3 1530.1,920.3 1531.7,907.6 1533.3,896.4 1534.9,882.6 1536.4,880.1 1538.0,883.8 1539.6,894.8 1541.2,904.3 1542.8,912.7 1544.4,928.5 1546.0,941.0 1547.6,952.1 1549.1,937.7 1550.7,930.4 1552.3,931.3 1553.9,923.7 1555.5,916.2 1557.1,907.8 1558.7,921.1 1560.3,932.0 1561.8,931.7 1563.4,937.7 1565.0,945.7 1566.6,951.3 1568.2,933.3 1569.8,917.8 1571.4,896.0 1572.9,892.7 1574.5,888.7 1576.1,912.5 1577.7,966.1 1579.3,964.3 1580.9,970.2 1582.5,961.2 1584.1,956.0 1585.6,954.7 1587.2,951.4 1588.8,946.7 1590.4,942.7 1592.0,941.7 1593.6,938.1 1595.2,937.1 1596.8,935.1 1598.3,932.8 1599.9,931.3 1601.5,932.1 1603.1,933.1 1604.7,935.7 1606.3,940.0 1607.9,941.7 1609.5,943.4 1611.0,945.3 1612.6,947.0 1614.2,948.0 1615.8,947.4 1617.4,951.2 1619.0,953.4 1620.6,957.3 1622.1,966.2 1623.7,966.5 1625.3,965.1 1626.9,962.8 1628.5,959.8 1630.1,959.5 1631.7,953.5 1633.3,951.2 1634.8,951.8 1636.4,947.8 1638.0,946.1 1639.6,949.2 1641.2,954.1 1642.8,959.2 1644.4,958.6 1646.0,953.7 1647.5,951.7 1649.1,949.8 1650.7,948.5 1652.3,953.8 1653.9,960.0 1655.5,962.7 1657.1,953.0 1658.7,946.7 1660.2,948.6 1661.8,953.3 1663.4,956.5 1665.0,956.9 1666.6,959.7 1668.2,962.8 1669.8,961.6 1671.4,961.3 1672.9,959.0 1674.5,958.9 1676.1,960.1 1677.7,961.6 1679.3,958.0 1680.9,952.8 1682.5,948.8 1684.0,946.4 1685.6,945.8 1687.2,944.2 1688.8,951.9 1690.4,957.1 1692.0,961.6 1693.6,967.9 1695.2,969.4 1696.7,972.0 1698.3,973.5 1699.9,973.6 1701.5,975.1 1703.1,975.7 1704.7,976.9 1706.3,976.4 1707.9,976.8 1709.4,979.4 1711.0,976.6 1712.6,974.9 1714.2,972.8 1715.8,969.2 1717.4,968.4 1719.0,966.4 1720.6,962.3 1722.1,958.4 1723.7,951.8 1725.3,950.8 1726.9,952.2 1728.5,959.2 1730.1,961.5 1731.7,967.7 1733.2,962.6 1734.8,955.9 1736.4,952.9 1738.0,951.3 1739.6,953.9 1741.2,961.8 1742.8,968.2 1744.4,967.6 1745.9,967.5 1747.5,963.5 1749.1,959.5 1750.7,956.4 1752.3,953.3 1753.9,950.7 1755.5,949.1 1757.1,943.8 1758.6,946.8 1760.2,940.4 1761.8,936.4 1763.4,931.6 1765.0,930.4 1766.6,927.8 1768.2,932.4 1769.8,935.7 1771.3,937.2 1772.9,934.0 1774.5,923.5 1776.1,916.1 1777.7,909.5 1779.3,907.4 1780.9,914.8 1782.5,920.9 1784.0,923.4 1785.6,919.7 1787.2,924.4 1788.8,921.6 1790.4,923.1 1792.0,922.8 1793.6,927.8 1795.1,931.0 1796.7,941.7 1798.3,947.0 1799.9,957.9 1801.5,964.4 1803.1,960.2 1804.7,956.4 1806.3,957.0 1807.8,955.5 1809.4,956.6 1811.0,956.3 1812.6,958.5 1814.2,960.6 1815.8,961.3 1817.4,962.5 1819.0,966.8 1820.5,967.5 1822.1,961.4 1823.7,958.8 1825.3,956.7 1826.9,958.9 1828.5,961.7 1830.1,964.1 1831.7,968.3 1833.2,973.0 1834.8,969.8 1836.4,962.3 1838.0,957.5 1839.6,956.1 1841.2,958.0 1842.8,948.4 1844.3,945.0 1845.9,929.0 1847.5,920.8 1849.1,918.9 1850.7,920.4 1852.3,929.6 1853.9,939.1 1855.5,942.3 1857.0,946.0 1858.6,947.8 1860.2,947.6 1861.8,950.0 1863.4,955.6 1865.0,957.6 1866.6,960.2 1868.2,960.6 1869.7,960.4 1871.3,963.3 1872.9,961.9 1874.5,962.8 1876.1,963.3 1877.7,963.2 1879.3,963.4 1880.9,963.4 1882.4,964.2 1884.0,963.9 1885.6,962.7 1887.2,961.5 1888.8,961.9 1890.4,961.4 1892.0,961.3 1893.6,960.0 1895.1,959.2 1896.7,957.3 1898.3,954.8 1899.9,951.9 1901.5,950.0 1903.1,947.2 1904.7,946.9 1906.2,945.7 1907.8,945.1 1909.4,943.5 1911.0,941.5 1912.6,939.8 1914.2,940.9 1915.8,938.8 1917.4,937.9 1918.9,938.0 1920.5,935.3 1922.1,934.7 1923.7,933.2 1925.3,932.3 1926.9,929.9 1928.5,930.8 1930.1,929.7 1931.6,923.6 1933.2,921.8 1934.8,919.8 1936.4,918.6 1938.0,915.9 1939.6,914.5 1941.2,915.9 1942.8,919.0 1944.3,919.1 1945.9,920.1 1947.5,920.4 1949.1,916.8 1950.7,915.7 1952.3,917.3 1953.9,917.4 1955.4,917.0 1957.0,918.5 1958.6,916.5 1960.2,915.0 1961.8,913.1 1963.4,912.9 1965.0,910.4 1966.6,908.7 1968.1,904.4 1969.7,901.9 1971.3,898.6 1972.9,892.8 1974.5,895.6 1976.1,898.1 1977.7,891.7 1979.3,885.6 1980.8,878.0 1982.4,873.6 1984.0,869.0 1985.6,874.1 1987.2,880.1 1988.8,894.2 1990.4,893.9 1992.0,898.0 1993.5,907.8 1995.1,909.0 1996.7,911.3 1998.3,914.5 1999.9,915.8 2001.5,916.0 2003.1,919.2 2004.7,921.1 2006.2,923.3 2007.8,929.0 2009.4,932.1 2011.0,937.8 2012.6,942.0 2014.2,940.7 2015.8,938.8 2017.3,935.6 2018.9,931.1 2020.5,930.0 2022.1,932.0 2023.7,931.6 2025.3,933.1 2026.9,934.1 2028.5,937.0 2030.0,938.9 2031.6,939.8 2033.2,941.4 2034.8,938.6 2036.4,941.4 2038.0,942.5 2039.6,938.8 2041.2,923.1 2042.7,908.9 2044.3,893.8 2045.9,890.9 2047.5,895.0 2049.1,914.3 2050.7,931.4 2052.3,941.4 2053.9,937.4 2055.4,926.0 2057.0,907.5 2058.6,895.1 2060.2,883.4 2061.8,882.4 2063.4,876.6 2065.0,879.6 2066.5,890.1 2068.1,891.6 2069.7,889.8 2071.3,887.5 2072.9,885.8 2074.5,892.2 2076.1,900.9 2077.7,910.1 2079.2,915.9 2080.8,917.8 2082.4,921.9 2084.0,920.0 2085.6,922.2 2087.2,922.6 2088.8,928.1 2090.4,927.4 2091.9,928.8 2093.5,933.7 2095.1,940.6 2096.7,952.0 2098.3,959.8 2099.9,965.8 2101.5,972.4 2103.1,972.2 2104.6,970.7 2106.2,972.3 2107.8,972.6 2109.4,974.0 2111.0,973.3 2112.6,974.5 2114.2,973.7 2115.8,973.4 2117.3,973.1 2118.9,973.8 2120.5,972.6 2122.1,972.7 2123.7,972.6 2125.3,972.7 2126.9,972.3 2128.4,972.5 2130.0,972.4 2131.6,973.1 2133.2,974.3 2134.8,974.8 2136.4,974.6 2138.0,975.3 2139.6,974.7 2141.1,975.9 2142.7,975.6 2144.3,975.6 2145.9,976.1 2147.5,974.8 2149.1,976.3 2150.7,975.7 2152.3,975.5 2153.8,974.6 2155.4,975.5 2157.0,973.9 2158.6,973.5 2160.2,973.3 2161.8,973.5 2163.4,973.6 2165.0,973.8 2166.5,973.8 2168.1,974.6 2169.7,975.1 2171.3,975.3 2172.9,973.5 2174.5,974.2 2176.1,973.8 2177.6,974.1 2179.2,973.2 2180.8,974.1 2182.4,973.6 2184.0,973.8 2185.6,972.9 2187.2,972.7 2188.8,972.1 2190.3,970.7 2191.9,970.4 2193.5,969.9 2195.1,971.1 2196.7,968.6 2198.3,968.2 2199.9,966.7 2201.5,961.9 2203.0,957.8 2204.6,955.8 2206.2,957.0 2207.8,947.7 2209.4,940.2 2211.0,926.2 2212.6,919.2 2214.2,913.7 2215.7,915.8 2217.3,924.7 2218.9,942.3 2220.5,955.9 2222.1,950.5 2223.7,942.5 2225.3,929.9 2226.9,926.3 2228.4,930.2 2230.0,935.5 2231.6,948.2 2233.2,957.4 2234.8,965.8 2236.4,965.1 2238.0,963.6 2239.5,964.7 2241.1,964.1 2242.7,963.5 2244.3,963.6 2245.9,964.4 2247.5,963.0 2249.1,963.2 2250.7,962.7 2252.2,962.8 2253.8,962.1 2255.4,961.6 2257.0,961.3 2258.6,960.8 2260.2,960.1 2261.8,959.8 2263.4,961.1 2264.9,959.6 2266.5,959.6 2268.1,959.2 2269.7,958.2 2271.3,958.9 2272.9,959.5 2274.5,959.3 2276.1,958.5 2277.6,959.9 2279.2,959.1 2280.8,958.9 2282.4,959.4 2284.0,958.8 2285.6,959.7 2287.2,959.1 2288.7,959.3 2290.3,958.2 2291.9,957.0 2293.5,953.6 2295.1,950.6 2296.7,948.0 2298.3,947.2 2299.9,946.8 2301.4,950.1 2303.0,951.6 2304.6,951.2 2306.2,953.0 2307.8,950.8 2309.4,949.0 2311.0,945.3 2312.6,942.5 2314.1,941.7 2315.7,943.5 2317.3,942.9 2318.9,944.9 2320.5,943.9 2322.1,942.1 2323.7,940.4 2325.3,939.9 2326.8,940.6 2328.4,945.8 2330.0,946.4 2331.6,950.4 2333.2,951.4 2334.8,955.1 2336.4,954.9 2338.0,956.5 2339.5,956.8 2341.1,956.6 2342.7,956.5" stroke="#ff8c00" stroke-width="1.5" fill="none" stroke-linejoin="round"/><path d="M60.4,1012.1 62.0,1019.7 63.6,1014.1 65.2,1010.6 66.7,1008.2 68.3,1007.6 69.9,1009.2 71.5,1015.5 73.1,1029.2 74.7,1032.0 76.3,1029.2 77.9,1021.0 79.4,1003.1 81.0,985.3 82.6,965.8 84.2,953.0 85.8,948.1 87.4,947.5 89.0,965.0 90.6,975.1 92.1,981.5 93.7,990.2 95.3,985.9 96.9,973.8 98.5,956.9 100.1,964.2 101.7,973.1 103.3,979.6 104.8,985.8 106.4,989.1 108.0,994.4 109.6,998.3 111.2,997.9 112.8,996.7 114.4,997.7 116.0,999.2 117.5,1005.9 119.1,1009.5 120.7,1011.9 122.3,1009.4 123.9,996.4 125.5,1000.0 127.1,1001.1 128.6,1005.4 130.2,1004.6 131.8,1001.7 133.4,997.8 135.0,993.9 136.6,993.8 138.2,991.6 139.8,989.2 141.3,984.4 142.9,979.7 144.5,968.0 146.1,972.1 147.7,978.8 149.3,985.8 150.9,987.0 152.5,982.1 154.0,971.9 155.6,969.7 157.2,966.7 158.8,960.3 160.4,960.2 162.0,956.6 163.6,956.7 165.2,957.8 166.7,957.0 168.3,962.1 169.9,966.1 171.5,960.7 173.1,956.7 174.7,949.3 176.3,941.3 177.8,940.2 179.4,941.4 181.0,943.2 182.6,940.6 184.2,941.0 185.8,936.9 187.4,941.2 189.0,962.3 190.5,975.3 192.1,987.2 193.7,994.5 195.3,1000.6 196.9,1001.7 198.5,1001.6 200.1,1003.3 201.7,1001.9 203.2,1001.6 204.8,1000.4 206.4,1000.3 208.0,999.2 209.6,998.6 211.2,997.4 212.8,996.6 214.4,995.8 215.9,996.1 217.5,997.6 219.1,999.0 220.7,1000.4 222.3,1001.6 223.9,1003.7 225.5,1001.4 227.1,998.2 228.6,997.2 230.2,995.3 231.8,995.1 233.4,994.2 235.0,989.1 236.6,987.5 238.2,983.9 239.7,982.8 241.3,980.4 242.9,976.6 244.5,974.4 246.1,970.9 247.7,966.6 249.3,961.1 250.9,959.6 252.4,958.0 254.0,956.9 255.6,956.8 257.2,956.1 258.8,953.9 260.4,952.9 262.0,953.3 263.6,948.5 265.1,943.5 266.7,930.7 268.3,920.6 269.9,914.2 271.5,907.4 273.1,896.8 274.7,892.3 276.3,886.2 277.8,886.3 279.4,887.4 281.0,889.8 282.6,889.8 284.2,896.8 285.8,903.6 287.4,913.4 288.9,918.1 290.5,927.3 292.1,933.4 293.7,942.3 295.3,939.9 296.9,945.6 298.5,953.0 300.1,954.3 301.6,955.0 303.2,959.7 304.8,964.1 306.4,966.9 308.0,970.4 309.6,974.4 311.2,981.2 312.8,984.9 314.3,988.6 315.9,989.7 317.5,991.2 319.1,996.3 320.7,997.1 322.3,1000.0 323.9,1003.6 325.5,1005.5 327.0,996.6 328.6,987.1 330.2,979.7 331.8,976.4 333.4,980.8 335.0,988.2 336.6,994.3 338.2,1003.7 339.7,1008.1 341.3,1007.3 342.9,992.1 344.5,984.5 346.1,965.8 347.7,955.9 349.3,938.6 350.8,934.1 352.4,929.8 354.0,927.4 355.6,929.4 357.2,931.3 358.8,927.5 360.4,922.0 362.0,929.7 363.5,939.5 365.1,950.6 366.7,963.3 368.3,972.0 369.9,979.9 371.5,986.8 373.1,989.0 374.7,991.9 376.2,990.2 377.8,988.0 379.4,984.1 381.0,981.8 382.6,984.0 384.2,985.7 385.8,985.7 387.4,987.2 388.9,988.1 390.5,988.8 392.1,986.4 393.7,983.1 395.3,966.6 396.9,965.5 398.5,967.2 400.0,972.8 401.6,976.2 403.2,980.8 404.8,969.8 406.4,964.1 408.0,959.0 409.6,952.4 411.2,951.3 412.7,951.1 414.3,951.3 415.9,954.2 417.5,956.8 419.1,957.5 420.7,957.3 422.3,956.2 423.9,961.7 425.4,961.4 427.0,951.0 428.6,937.4 430.2,938.0 431.8,944.8 433.4,959.4 435.0,978.6 436.6,996.4 438.1,999.3 439.7,1002.6 441.3,999.2 442.9,1000.2 444.5,1000.1 446.1,1001.3 447.7,1001.5 449.3,1001.9 450.8,1002.2 452.4,1001.6 454.0,1001.8 455.6,1001.9 457.2,1001.1 458.8,1000.5 460.4,1000.5 461.9,1000.2 463.5,1000.1 465.1,1000.0 466.7,999.2 468.3,999.5 469.9,999.6 471.5,998.7 473.1,998.8 474.6,998.1 476.2,998.1 477.8,998.4 479.4,997.3 481.0,996.4 482.6,996.6 484.2,996.1 485.8,996.1 487.3,994.6 488.9,994.3 490.5,993.9 492.1,993.1 493.7,997.0 495.3,997.4 496.9,999.1 498.5,999.8 500.0,1001.3 501.6,1001.0 503.2,999.8 504.8,999.0 506.4,997.7 508.0,995.2 509.6,995.5 511.1,993.6 512.7,993.8 514.3,993.3 515.9,992.3 517.5,992.1 519.1,989.8 520.7,990.7 522.3,986.3 523.8,984.0 525.4,978.9 527.0,971.1 528.6,962.2 530.2,959.5 531.8,948.3 533.4,958.3 535.0,970.8 536.5,988.1 538.1,1009.6 539.7,1020.0 541.3,1027.7 542.9,1029.2 544.5,1029.2 546.1,1031.0 547.7,1030.9 549.2,1031.8 550.8,1031.8 552.4,1029.6 554.0,1029.0 555.6,1026.0 557.2,1025.8 558.8,1026.5 560.4,1027.9 561.9,1027.7 563.5,1028.5 565.1,1026.5 566.7,1024.6 568.3,1023.7 569.9,1023.0 571.5,1024.1 573.0,1023.5 574.6,1022.6 576.2,1021.9 577.8,1022.0 579.4,1023.0 581.0,1023.8 582.6,1024.9 584.2,1025.8 585.7,1025.4 587.3,1026.5 588.9,1026.4 590.5,1023.9 592.1,1022.8 593.7,1021.3 595.3,1019.4 596.9,1017.1 598.4,1017.4 600.0,1018.6 601.6,1019.7 603.2,1020.2 604.8,1021.4 606.4,1020.9 608.0,1021.8 609.6,1024.0 611.1,1025.5 612.7,1026.3 614.3,1026.7 615.9,1026.0 617.5,1026.0 619.1,1025.6 620.7,1026.4 622.2,1026.0 623.8,1026.1 625.4,1025.6 627.0,1024.3 628.6,1023.5 630.2,1022.8 631.8,1021.9 633.4,1022.5 634.9,1023.0 636.5,1022.4 638.1,1023.0 639.7,1023.4 641.3,1021.6 642.9,1018.5 644.5,1015.2 646.1,1016.0 647.6,1016.2 649.2,1018.2 650.8,1019.3 652.4,1020.9 654.0,1021.6 655.6,1022.4 657.2,1022.5 658.8,1023.9 660.3,1023.4 661.9,1022.4 663.5,1020.8 665.1,1018.7 666.7,1017.0 668.3,1017.9 669.9,1017.5 671.5,1022.5 673.0,1025.9 674.6,1026.8 676.2,1029.6 677.8,1028.1 679.4,1026.9 681.0,1034.0 682.6,1031.3 684.1,993.7 685.7,967.6 687.3,929.7 688.9,891.2 690.5,880.8 692.1,864.9 693.7,859.8 695.3,848.8 696.8,863.9 698.4,872.8 700.0,895.8 701.6,909.8 703.2,941.9 704.8,952.9 706.4,962.3 708.0,957.9 709.5,973.1 711.1,974.9 712.7,962.8 714.3,964.5 715.9,973.0 717.5,984.6 719.1,973.5 720.7,976.0 722.2,989.2 723.8,998.9 725.4,1006.1 727.0,1013.7 728.6,1007.7 730.2,990.1 731.8,978.8 733.3,980.1 734.9,995.7 736.5,1006.1 738.1,1013.4 739.7,1025.5 741.3,1013.2 742.9,998.2 744.5,988.7 746.0,984.1 747.6,984.4 749.2,988.3 750.8,996.6 752.4,1016.3 754.0,1022.3 755.6,1021.4 757.2,1018.7 758.7,1021.8 760.3,1027.5 761.9,1032.3 763.5,1030.0 765.1,1028.6 766.7,1016.0 768.3,1008.9 769.9,1008.3 771.4,1009.3 773.0,1008.8 774.6,1010.1 776.2,1021.5 777.8,1034.5 779.4,1031.9 781.0,1024.2 782.6,1010.0 784.1,1009.1 785.7,1011.5 787.3,1007.2 788.9,1011.3 790.5,1009.6 792.1,973.6 793.7,950.3 795.2,939.8 796.8,932.6 798.4,933.9 800.0,942.5 801.6,957.0 803.2,978.6 804.8,996.9 806.4,1018.4 807.9,1042.3 809.5,1045.3 811.1,1045.0 812.7,1046.2 814.3,1045.0 815.9,1046.3 817.5,1047.6 819.1,1046.7 820.6,1047.4 822.2,1046.9 823.8,1046.0 825.4,1045.2 827.0,1045.7 828.6,1044.7 830.2,1044.3 831.8,1043.4 833.3,1044.4 834.9,1043.4 836.5,1042.6 838.1,1042.0 839.7,1041.1 841.3,1040.3 842.9,1040.3 844.4,1039.9 846.0,1038.9 847.6,1040.4 849.2,1040.1 850.8,1039.5 852.4,1040.4 854.0,1037.2 855.6,1031.8 857.1,1030.0 858.7,1023.6 860.3,1017.4 861.9,1010.8 863.5,1000.4 865.1,992.5 866.7,1007.6 868.3,1018.7 869.8,1026.7 871.4,1033.8 873.0,1028.0 874.6,1016.2 876.2,1001.8 877.8,995.5 879.4,994.1 881.0,997.4 882.5,999.2 884.1,987.9 885.7,975.1 887.3,964.0 888.9,963.0 890.5,975.1 892.1,986.6 893.7,1000.6 895.2,1002.9 896.8,997.7 898.4,992.1 900.0,995.0 901.6,1000.8 903.2,1007.2 904.8,1004.3 906.3,1002.4 907.9,1001.3 909.5,1003.5 911.1,1006.9 912.7,1013.2 914.3,1013.4 915.9,1013.4 917.5,999.2 919.0,994.4 920.6,993.3 922.2,994.9 923.8,1003.2 925.4,1020.0 927.0,1028.8 928.6,1024.9 930.2,1013.6 931.7,998.7 933.3,991.3 934.9,983.2 936.5,982.9 938.1,983.0 939.7,986.0 941.3,986.0 942.9,972.2 944.4,965.8 946.0,955.4 947.6,951.1 949.2,947.8 950.8,950.1 952.4,954.5 954.0,958.0 955.5,962.1 957.1,965.1 958.7,958.8 960.3,951.4 961.9,947.3 963.5,948.8 965.1,951.2 966.7,960.2 968.2,968.0 969.8,973.2 971.4,973.1 973.0,971.1 974.6,969.8 976.2,969.5 977.8,968.9 979.4,968.8 980.9,968.9 982.5,968.7 984.1,968.3 985.7,968.6 987.3,968.6 988.9,968.6 990.5,968.3 992.1,968.9 993.6,967.7 995.2,969.3 996.8,969.2 998.4,970.2 1000.0,970.1 1001.6,970.4 1003.2,970.8 1004.8,968.8 1006.3,967.8 1007.9,967.9 1009.5,963.5 1011.1,960.4 1012.7,946.4 1014.3,933.9 1015.9,927.8 1017.4,919.5 1019.0,917.3 1020.6,909.2 1022.2,909.4 1023.8,907.1 1025.4,903.0 1027.0,899.4 1028.6,897.0 1030.1,890.1 1031.7,893.5 1033.3,904.4 1034.9,921.7 1036.5,928.8 1038.1,947.9 1039.7,963.7 1041.3,966.0 1042.8,972.7 1044.4,983.6 1046.0,990.4 1047.6,991.8 1049.2,992.2 1050.8,987.3 1052.4,983.5 1054.0,976.9 1055.5,985.0 1057.1,987.8 1058.7,990.6 1060.3,1005.0 1061.9,1014.3 1063.5,1016.2 1065.1,1009.5 1066.6,1015.7 1068.2,1025.0 1069.8,1019.2 1071.4,1010.9 1073.0,1006.0 1074.6,1002.7 1076.2,998.6 1077.8,989.4 1079.3,981.7 1080.9,975.6 1082.5,970.4 1084.1,970.8 1085.7,985.3 1087.3,998.4 1088.9,1023.5 1090.5,1045.4 1092.0,1051.4 1093.6,1043.6 1095.2,1040.2 1096.8,1039.4 1098.4,1038.6 1100.0,1036.3 1101.6,1037.2 1103.2,1038.4 1104.7,1037.4 1106.3,1036.9 1107.9,1037.3 1109.5,1037.5 1111.1,1039.5 1112.7,1040.4 1114.3,1043.1 1115.9,1043.6 1117.4,1043.7 1119.0,1040.0 1120.6,1039.0 1122.2,1036.6 1123.8,1036.8 1125.4,1030.7 1127.0,1026.6 1128.5,1019.1 1130.1,1018.8 1131.7,1019.5 1133.3,1011.4 1134.9,1008.6 1136.5,996.9 1138.1,989.3 1139.7,986.1 1141.2,992.8 1142.8,1003.2 1144.4,1009.8 1146.0,1007.9 1147.6,1000.8 1149.2,997.8 1150.8,999.6 1152.4,1005.3 1153.9,1009.4 1155.5,1010.4 1157.1,1003.4 1158.7,1001.7 1160.3,1008.5 1161.9,1017.2 1163.5,1028.3 1165.1,1038.2 1166.6,1035.3 1168.2,1022.7 1169.8,1007.2 1171.4,1001.5 1173.0,996.1 1174.6,999.8 1176.2,1004.9 1177.7,1008.9 1179.3,1011.8 1180.9,1010.0 1182.5,1003.5 1184.1,1000.4 1185.7,1007.4 1187.3,1015.8 1188.9,1031.7 1190.4,1041.5 1192.0,1030.3 1193.6,1012.5 1195.2,998.7 1196.8,990.9 1198.4,982.3 1200.0,998.5 1201.6,1008.8 1203.1,1002.2 1204.7,1001.8 1206.3,1002.4 1207.9,1007.2 1209.5,1011.9 1211.1,1016.9 1212.7,1017.7 1214.3,1010.2 1215.8,1001.3 1217.4,994.6 1219.0,985.8 1220.6,974.9 1222.2,965.1 1223.8,960.7 1225.4,958.6 1227.0,962.3 1228.5,967.9 1230.1,976.3 1231.7,975.9 1233.3,970.5 1234.9,960.6 1236.5,959.0 1238.1,954.2 1239.6,957.8 1241.2,977.1 1242.8,994.6 1244.4,1022.9 1246.0,1032.2 1247.6,1037.3 1249.2,1028.9 1250.8,1029.1 1252.3,1027.9 1253.9,1027.4 1255.5,1026.4 1257.1,1022.7 1258.7,1020.6 1260.3,1018.9 1261.9,1017.2 1263.5,1014.0 1265.0,1012.2 1266.6,1013.3 1268.2,1012.3 1269.8,1011.7 1271.4,1009.4 1273.0,1008.5 1274.6,1007.3 1276.2,1004.7 1277.7,1001.0 1279.3,997.9 1280.9,996.1 1282.5,991.0 1284.1,987.6 1285.7,983.2 1287.3,976.7 1288.8,970.4 1290.4,960.4 1292.0,951.1 1293.6,947.1 1295.2,945.3 1296.8,949.9 1298.4,965.5 1300.0,977.1 1301.5,998.4 1303.1,1018.0 1304.7,1033.4 1306.3,1040.8 1307.9,1041.7 1309.5,1038.3 1311.1,1042.1 1312.7,1045.5 1314.2,1048.6 1315.8,1050.4 1317.4,1052.2 1319.0,1051.7 1320.6,1051.4 1322.2,1050.9 1323.8,1050.4 1325.4,1050.1 1326.9,1049.2 1328.5,1049.5 1330.1,1047.8 1331.7,1048.0 1333.3,1047.4 1334.9,1046.2 1336.5,1047.9 1338.1,1049.0 1339.6,1049.4 1341.2,1051.9 1342.8,1052.2 1344.4,1052.8 1346.0,1052.8 1347.6,1052.1 1349.2,1052.1 1350.7,1050.9 1352.3,1048.6 1353.9,1047.2 1355.5,1046.8 1357.1,1048.6 1358.7,1050.0 1360.3,1050.6 1361.9,1052.1 1363.4,1053.0 1365.0,1053.3 1366.6,1051.6 1368.2,1051.7 1369.8,1052.4 1371.4,1052.6 1373.0,1053.3 1374.6,1052.6 1376.1,1050.6 1377.7,1048.9 1379.3,1049.4 1380.9,1047.1 1382.5,1045.6 1384.1,1042.9 1385.7,1042.5 1387.3,1045.9 1388.8,1046.3 1390.4,1048.7 1392.0,1049.9 1393.6,1053.9 1395.2,1057.0 1396.8,1057.9 1398.4,1058.2 1399.9,1055.1 1401.5,1053.8 1403.1,1047.0 1404.7,1039.2 1406.3,1035.2 1407.9,1028.6 1409.5,1024.1 1411.1,1023.0 1412.6,1027.5 1414.2,1031.6 1415.8,1031.1 1417.4,1036.5 1419.0,1041.0 1420.6,1044.7 1422.2,1052.5 1423.8,1055.5 1425.3,1054.6 1426.9,1052.6 1428.5,1049.7 1430.1,1046.0 1431.7,1048.7 1433.3,1048.6 1434.9,1048.2 1436.5,1046.6 1438.0,1046.1 1439.6,1044.0 1441.2,1043.1 1442.8,1042.9 1444.4,1042.8 1446.0,1041.7 1447.6,1042.7 1449.2,1040.2 1450.7,1040.9 1452.3,1037.7 1453.9,1038.7 1455.5,1036.7 1457.1,1036.5 1458.7,1030.6 1460.3,1029.8 1461.8,1028.7 1463.4,1031.9 1465.0,1033.4 1466.6,1034.0 1468.2,1039.1 1469.8,1043.0 1471.4,1049.9 1473.0,1050.6 1474.5,1049.9 1476.1,1045.1 1477.7,1036.7 1479.3,1024.8 1480.9,1018.2 1482.5,1001.1 1484.1,988.3 1485.7,976.1 1487.2,975.1 1488.8,975.5 1490.4,974.6 1492.0,973.6 1493.6,973.4 1495.2,973.2 1496.8,979.8 1498.4,984.8 1499.9,993.4 1501.5,1001.4 1503.1,1011.9 1504.7,1009.4 1506.3,1011.0 1507.9,1020.4 1509.5,1026.0 1511.0,1029.1 1512.6,1032.9 1514.2,1029.3 1515.8,1025.5 1517.4,1020.5 1519.0,1014.3 1520.6,1009.3 1522.2,1008.0 1523.7,1009.6 1525.3,1020.2 1526.9,1023.1 1528.5,1018.2 1530.1,1000.5 1531.7,994.9 1533.3,983.5 1534.9,969.5 1536.4,963.4 1538.0,958.4 1539.6,969.3 1541.2,985.3 1542.8,995.1 1544.4,1005.6 1546.0,1018.3 1547.6,1035.2 1549.1,1037.4 1550.7,1026.0 1552.3,1016.8 1553.9,1024.9 1555.5,1021.4 1557.1,1017.6 1558.7,1030.3 1560.3,1036.1 1561.8,1041.1 1563.4,1045.6 1565.0,1041.3 1566.6,1027.8 1568.2,997.5 1569.8,991.4 1571.4,976.9 1572.9,976.4 1574.5,974.8 1576.1,1006.9 1577.7,1050.8 1579.3,1049.7 1580.9,1045.4 1582.5,1042.2 1584.1,1044.4 1585.6,1043.5 1587.2,1043.2 1588.8,1040.5 1590.4,1039.5 1592.0,1038.1 1593.6,1036.4 1595.2,1037.2 1596.8,1036.0 1598.3,1033.5 1599.9,1034.2 1601.5,1037.1 1603.1,1038.2 1604.7,1040.8 1606.3,1047.6 1607.9,1050.3 1609.5,1052.1 1611.0,1052.9 1612.6,1051.9 1614.2,1051.1 1615.8,1049.3 1617.4,1047.4 1619.0,1046.7 1620.6,1046.3 1622.1,1047.0 1623.7,1044.7 1625.3,1034.5 1626.9,1030.0 1628.5,1026.7 1630.1,1025.4 1631.7,1026.4 1633.3,1034.4 1634.8,1027.9 1636.4,1027.0 1638.0,1029.1 1639.6,1033.7 1641.2,1040.7 1642.8,1045.8 1644.4,1041.2 1646.0,1030.6 1647.5,1014.0 1649.1,1002.4 1650.7,997.3 1652.3,999.1 1653.9,1003.3 1655.5,1006.2 1657.1,1016.0 1658.7,1012.6 1660.2,1007.4 1661.8,1003.2 1663.4,999.1 1665.0,992.8 1666.6,1009.1 1668.2,1022.1 1669.8,1024.6 1671.4,1029.0 1672.9,1032.0 1674.5,1021.1 1676.1,1009.7 1677.7,996.4 1679.3,997.3 1680.9,1001.9 1682.5,1010.9 1684.0,1011.0 1685.6,1001.5 1687.2,995.5 1688.8,1002.1 1690.4,1017.7 1692.0,1035.1 1693.6,1046.2 1695.2,1049.1 1696.7,1053.8 1698.3,1054.5 1699.9,1052.9 1701.5,1053.1 1703.1,1052.3 1704.7,1051.9 1706.3,1051.2 1707.9,1050.6 1709.4,1050.5 1711.0,1050.0 1712.6,1047.3 1714.2,1048.6 1715.8,1050.2 1717.4,1046.5 1719.0,1047.5 1720.6,1044.5 1722.1,1026.9 1723.7,1013.9 1725.3,1005.0 1726.9,1005.8 1728.5,1008.3 1730.1,1019.8 1731.7,1030.4 1733.2,1018.8 1734.8,1010.8 1736.4,1005.4 1738.0,1004.1 1739.6,1013.0 1741.2,1023.2 1742.8,1038.3 1744.4,1040.6 1745.9,1038.6 1747.5,1024.6 1749.1,1013.5 1750.7,1006.2 1752.3,999.1 1753.9,996.4 1755.5,998.8 1757.1,991.4 1758.6,987.1 1760.2,974.8 1761.8,959.6 1763.4,950.6 1765.0,954.7 1766.6,953.2 1768.2,952.9 1769.8,959.8 1771.3,959.6 1772.9,956.9 1774.5,952.4 1776.1,946.1 1777.7,941.2 1779.3,946.9 1780.9,949.6 1782.5,950.2 1784.0,950.7 1785.6,952.8 1787.2,955.2 1788.8,953.9 1790.4,950.0 1792.0,954.3 1793.6,956.2 1795.1,966.6 1796.7,977.4 1798.3,985.1 1799.9,995.3 1801.5,1014.5 1803.1,999.5 1804.7,992.1 1806.3,990.3 1807.8,996.4 1809.4,1001.5 1811.0,1005.8 1812.6,1007.1 1814.2,1004.6 1815.8,1006.7 1817.4,1012.3 1819.0,1026.6 1820.5,1031.6 1822.1,1024.7 1823.7,1011.2 1825.3,1006.5 1826.9,1007.4 1828.5,1013.8 1830.1,1030.4 1831.7,1050.5 1833.2,1047.9 1834.8,1047.6 1836.4,1047.2 1838.0,1042.3 1839.6,1039.2 1841.2,1033.5 1842.8,1032.9 1844.3,1018.9 1845.9,1000.1 1847.5,989.6 1849.1,985.2 1850.7,987.8 1852.3,994.4 1853.9,1004.3 1855.5,1005.3 1857.0,1005.1 1858.6,1003.8 1860.2,1009.5 1861.8,1017.7 1863.4,1031.0 1865.0,1039.4 1866.6,1039.1 1868.2,1039.9 1869.7,1037.2 1871.3,1036.7 1872.9,1037.7 1874.5,1037.8 1876.1,1037.2 1877.7,1036.0 1879.3,1035.9 1880.9,1034.0 1882.4,1033.4 1884.0,1033.1 1885.6,1031.1 1887.2,1030.3 1888.8,1031.7 1890.4,1032.4 1892.0,1032.2 1893.6,1033.2 1895.1,1030.5 1896.7,1029.9 1898.3,1027.8 1899.9,1023.6 1901.5,1025.1 1903.1,1024.1 1904.7,1018.9 1906.2,1015.4 1907.8,1010.9 1909.4,1003.5 1911.0,1001.3 1912.6,998.2 1914.2,993.9 1915.8,992.2 1917.4,990.9 1918.9,991.3 1920.5,989.8 1922.1,989.6 1923.7,987.6 1925.3,985.4 1926.9,986.3 1928.5,984.7 1930.1,980.3 1931.6,977.4 1933.2,976.2 1934.8,970.4 1936.4,967.2 1938.0,965.0 1939.6,965.5 1941.2,967.5 1942.8,970.3 1944.3,972.8 1945.9,974.7 1947.5,975.3 1949.1,974.9 1950.7,973.5 1952.3,975.1 1953.9,974.8 1955.4,976.0 1957.0,975.5 1958.6,971.6 1960.2,969.5 1961.8,966.4 1963.4,967.8 1965.0,969.3 1966.6,970.3 1968.1,971.1 1969.7,971.5 1971.3,972.5 1972.9,970.9 1974.5,963.9 1976.1,956.0 1977.7,946.1 1979.3,936.0 1980.8,927.5 1982.4,923.1 1984.0,920.9 1985.6,931.8 1987.2,941.6 1988.8,960.8 1990.4,976.1 1992.0,982.9 1993.5,984.2 1995.1,990.3 1996.7,992.0 1998.3,995.9 1999.9,1000.2 2001.5,1001.4 2003.1,1001.5 2004.7,1001.7 2006.2,1005.6 2007.8,1008.6 2009.4,1012.6 2011.0,1018.1 2012.6,1020.9 2014.2,1019.0 2015.8,1019.3 2017.3,1015.2 2018.9,1013.8 2020.5,1011.5 2022.1,1010.6 2023.7,1013.7 2025.3,1016.0 2026.9,1016.7 2028.5,1018.5 2030.0,1018.9 2031.6,1020.5 2033.2,1019.1 2034.8,1019.9 2036.4,1016.7 2038.0,1017.6 2039.6,1010.3 2041.2,1005.8 2042.7,1001.5 2044.3,995.3 2045.9,996.6 2047.5,1002.4 2049.1,1010.0 2050.7,1016.1 2052.3,1023.9 2053.9,1024.9 2055.4,1017.6 2057.0,1005.0 2058.6,985.8 2060.2,968.8 2061.8,960.3 2063.4,955.6 2065.0,952.2 2066.5,949.0 2068.1,942.6 2069.7,941.4 2071.3,936.6 2072.9,935.5 2074.5,937.1 2076.1,942.2 2077.7,942.0 2079.2,942.1 2080.8,939.6 2082.4,940.8 2084.0,953.4 2085.6,969.9 2087.2,981.1 2088.8,992.9 2090.4,1001.5 2091.9,1005.7 2093.5,1010.5 2095.1,1019.6 2096.7,1026.7 2098.3,1037.0 2099.9,1038.5 2101.5,1039.6 2103.1,1038.2 2104.6,1042.0 2106.2,1041.1 2107.8,1042.0 2109.4,1042.3 2111.0,1041.2 2112.6,1042.0 2114.2,1041.6 2115.8,1041.6 2117.3,1040.4 2118.9,1040.4 2120.5,1040.1 2122.1,1040.5 2123.7,1040.8 2125.3,1040.2 2126.9,1040.1 2128.4,1041.3 2130.0,1040.6 2131.6,1041.0 2133.2,1041.4 2134.8,1041.8 2136.4,1042.5 2138.0,1042.4 2139.6,1043.1 2141.1,1045.0 2142.7,1045.9 2144.3,1046.4 2145.9,1047.1 2147.5,1047.4 2149.1,1048.6 2150.7,1047.7 2152.3,1047.3 2153.8,1045.4 2155.4,1042.1 2157.0,1039.9 2158.6,1039.0 2160.2,1038.1 2161.8,1039.2 2163.4,1040.1 2165.0,1040.6 2166.5,1041.3 2168.1,1040.9 2169.7,1040.4 2171.3,1040.5 2172.9,1040.1 2174.5,1040.5 2176.1,1041.4 2177.6,1043.0 2179.2,1043.3 2180.8,1042.9 2182.4,1043.3 2184.0,1042.8 2185.6,1042.0 2187.2,1040.6 2188.8,1040.6 2190.3,1039.0 2191.9,1037.8 2193.5,1037.6 2195.1,1038.2 2196.7,1037.7 2198.3,1038.3 2199.9,1039.0 2201.5,1032.1 2203.0,1027.6 2204.6,1023.7 2206.2,1017.2 2207.8,1010.3 2209.4,999.8 2211.0,996.1 2212.6,995.8 2214.2,994.3 2215.7,1000.9 2217.3,1019.1 2218.9,1029.8 2220.5,1031.5 2222.1,1026.5 2223.7,1009.6 2225.3,988.1 2226.9,978.3 2228.4,972.8 2230.0,978.6 2231.6,1006.8 2233.2,1012.8 2234.8,1027.5 2236.4,1029.3 2238.0,1032.1 2239.5,1036.0 2241.1,1036.2 2242.7,1037.0 2244.3,1038.5 2245.9,1037.7 2247.5,1037.6 2249.1,1035.9 2250.7,1034.8 2252.2,1033.1 2253.8,1031.7 2255.4,1029.1 2257.0,1030.5 2258.6,1028.0 2260.2,1028.0 2261.8,1024.3 2263.4,1020.6 2264.9,1016.6 2266.5,1014.5 2268.1,1010.1 2269.7,1011.3 2271.3,1012.5 2272.9,1018.2 2274.5,1021.3 2276.1,1022.7 2277.6,1022.9 2279.2,1026.3 2280.8,1026.5 2282.4,1028.9 2284.0,1028.3 2285.6,1029.6 2287.2,1028.6 2288.7,1027.7 2290.3,1025.6 2291.9,1022.7 2293.5,1019.4 2295.1,1008.3 2296.7,1005.4 2298.3,1002.4 2299.9,1007.5 2301.4,1011.4 2303.0,1020.8 2304.6,1021.8 2306.2,1019.7 2307.8,1014.0 2309.4,1004.5 2311.0,995.0 2312.6,986.5 2314.1,980.0 2315.7,982.1 2317.3,990.0 2318.9,994.4 2320.5,993.7 2322.1,990.0 2323.7,984.2 2325.3,979.1 2326.8,976.5 2328.4,990.0 2330.0,1002.7 2331.6,1007.1 2333.2,1016.5 2334.8,1020.9 2336.4,1023.2 2338.0,1023.7 2339.5,1024.3 2341.1,1022.6 2342.7,1022.5" stroke="#ffd700" stroke-width="1.5" fill="none" stroke-linejoin="round"/></g><rect x="59.6" y="645.5" width="2283.9" height="504.0" fill="none" stroke="#000" stroke-width="1.3"/><path d="M52.60,1149.50H59.6M2343.5,1149.50H2350.50M56.10,1131.50H59.6M2343.5,1131.50H2347.00M56.10,1113.50H59.6M2343.5,1113.50H2347.00M56.10,1095.50H59.6M2343.5,1095.50H2347.00M52.60,1077.50H59.6M2343.5,1077.50H2350.50M56.10,1059.50H59.6M2343.5,1059.50H2347.00M56.10,1041.50H59.6M2343.5,1041.50H2347.00M56.10,1023.50H59.6M2343.5,1023.50H2347.00M52.60,1005.50H59.6M2343.5,1005.50H2350.50M56.10,987.50H59.6M2343.5,987.50H2347.00M56.10,969.50H59.6M2343.5,969.50H2347.00M56.10,951.50H59.6M2343.5,951.50H2347.00M52.60,933.50H59.6M2343.5,933.50H2350.50M56.10,915.50H59.6M2343.5,915.50H2347.00M56.10,897.50H59.6M2343.5,897.50H2347.00M56.10,879.50H59.6M2343.5,879.50H2347.00M52.60,861.50H59.6M2343.5,861.50H2350.50M56.10,843.50H59.6M2343.5,843.50H2347.00M56.10,825.50H59.6M2343.5,825.50H2347.00M56.10,807.50H59.6M2343.5,807.50H2347.00M52.60,789.50H59.6M2343.5,789.50H2350.50M56.10,771.50H59.6M2343.5,771.50H2347.00M56.10,753.50H59.6M2343.5,753.50H2347.00M56.10,735.50H59.6M2343.5,735.50H2347.00M52.60,717.50H59.6M2343.5,717.50H2350.50M56.10,699.50H59.6M2343.5,699.50H2347.00M56.10,681.50H59.6M2343.5,681.50H2347.00M56.10,663.50H59.6M2343.5,663.50H2347.00M52.60,645.50H59.6M2343.5,645.50H2350.50M59.50,1149.5V1156.50M106.50,1149.5V1153.00M154.50,1149.5V1153.00M201.50,1149.5V1153.00M249.50,1149.5V1156.50M297.50,1149.5V1153.00M344.50,1149.5V1153.00M392.50,1149.5V1153.00M439.50,1149.5V1156.50M487.50,1149.5V1153.00M534.50,1149.5V1153.00M582.50,1149.5V1153.00M630.50,1149.5V1156.50M677.50,1149.5V1153.00M725.50,1149.5V1153.00M772.50,1149.5V1153.00M820.50,1149.5V1156.50M867.50,1149.5V1153.00M915.50,1149.5V1153.00M963.50,1149.5V1153.00M1010.50,1149.5V1156.50M1058.50,1149.5V1153.00M1105.50,1149.5V1153.00M1153.50,1149.5V1153.00M1201.50,1149.5V1156.50M1248.50,1149.5V1153.00M1296.50,1149.5V1153.00M1343.50,1149.5V1153.00M1391.50,1149.5V1156.50M1438.50,1149.5V1153.00M1486.50,1149.5V1153.00M1534.50,1149.5V1153.00M1581.50,1149.5V1156.50M1629.50,1149.5V1153.00M1676.50,1149.5V1153.00M1724.50,1149.5V1153.00M1771.50,1149.5V1156.50M1819.50,1149.5V1153.00M1867.50,1149.5V1153.00M1914.50,1149.5V1153.00M1962.50,1149.5V1156.50M2009.50,1149.5V1153.00M2057.50,1149.5V1153.00M2104.50,1149.5V1153.00M2152.50,1149.5V1156.50M2200.50,1149.5V1153.00M2247.50,1149.5V1153.00M2295.50,1149.5V1153.00" stroke="#3a3a3a" stroke-width="1" fill="none"/><text x="46.20" y="1152.30" text-anchor="end" class="tk">24</text><text x="2354.50" y="1152.30" text-anchor="start" class="tk">24</text><text x="46.20" y="1080.30" text-anchor="end" class="tk">36</text><text x="2354.50" y="1080.30" text-anchor="start" class="tk">36</text><text x="46.20" y="1008.30" text-anchor="end" class="tk">48</text><text x="2354.50" y="1008.30" text-anchor="start" class="tk">48</text><text x="46.20" y="936.30" text-anchor="end" class="tk">60</text><text x="2354.50" y="936.30" text-anchor="start" class="tk">60</text><text x="46.20" y="864.30" text-anchor="end" class="tk">72</text><text x="2354.50" y="864.30" text-anchor="start" class="tk">72</text><text x="46.20" y="792.30" text-anchor="end" class="tk">84</text><text x="2354.50" y="792.30" text-anchor="start" class="tk">84</text><text x="46.20" y="720.30" text-anchor="end" class="tk">96</text><text x="2354.50" y="720.30" text-anchor="start" class="tk">96</text><text x="46.20" y="648.30" text-anchor="end" class="tk">108</text><text x="2354.50" y="648.30" text-anchor="start" class="tk">108</text><text x="59.30" y="1167.80" text-anchor="middle" class="tk">00:00:00</text><text x="249.60" y="1167.80" text-anchor="middle" class="tk">02:00:00</text><text x="439.90" y="1167.80" text-anchor="middle" class="tk">04:00:00</text><text x="630.20" y="1167.80" text-anchor="middle" class="tk">06:00:00</text><text x="820.50" y="1167.80" text-anchor="middle" class="tk">08:00:00</text><text x="1010.80" y="1167.80" text-anchor="middle" class="tk">10:00:00</text><text x="1201.10" y="1167.80" text-anchor="middle" class="tk">12:00:00</text><text x="1391.40" y="1167.80" text-anchor="middle" class="tk">14:00:00</text><text x="1581.70" y="1167.80" text-anchor="middle" class="tk">16:00:00</text><text x="1772.00" y="1167.80" text-anchor="middle" class="tk">18:00:00</text><text x="1962.30" y="1167.80" text-anchor="middle" class="tk">20:00:00</text><text x="2152.60" y="1167.80" text-anchor="middle" class="tk">22:00:00</text><text x="1200.8" y="1185.0" text-anchor="middle" class="lb">time</text><text transform="translate(22.2,897.5) rotate(-90)" text-anchor="middle" class="lb">dB SPL</text><text transform="translate(2384.9,897.5) rotate(-90)" text-anchor="middle" class="lb">dB SPL</text><text x="59.6" y="636.4" class="tt">average noise level (5 min with 15s min/max dB envelope)</text><rect x="2276.4" y="1103.5" width="62.0" height="41.0" rx="2.8" fill="#fff8dc" fill-opacity="0.8" stroke="#d2b48c" stroke-opacity="0.8" stroke-width="1.1"/><line x1="2279" x2="2301" y1="1111.5" y2="1111.5" stroke="#dc143c" stroke-width="3.5"/><text x="2307.8" y="1114.0" class="lg">dB(Z)</text><line x1="2279" x2="2301" y1="1123.5" y2="1123.5" stroke="#ff8c00" stroke-width="3.5"/><text x="2307.8" y="1126.0" class="lg">dB(C)</text><line x1="2279" x2="2301" y1="1135.5" y2="1135.5" stroke="#ffd700" stroke-width="3.5"/><text x="2307.8" y="1138.0" class="lg">dB(A)</text>
</svg>
</body></html>
